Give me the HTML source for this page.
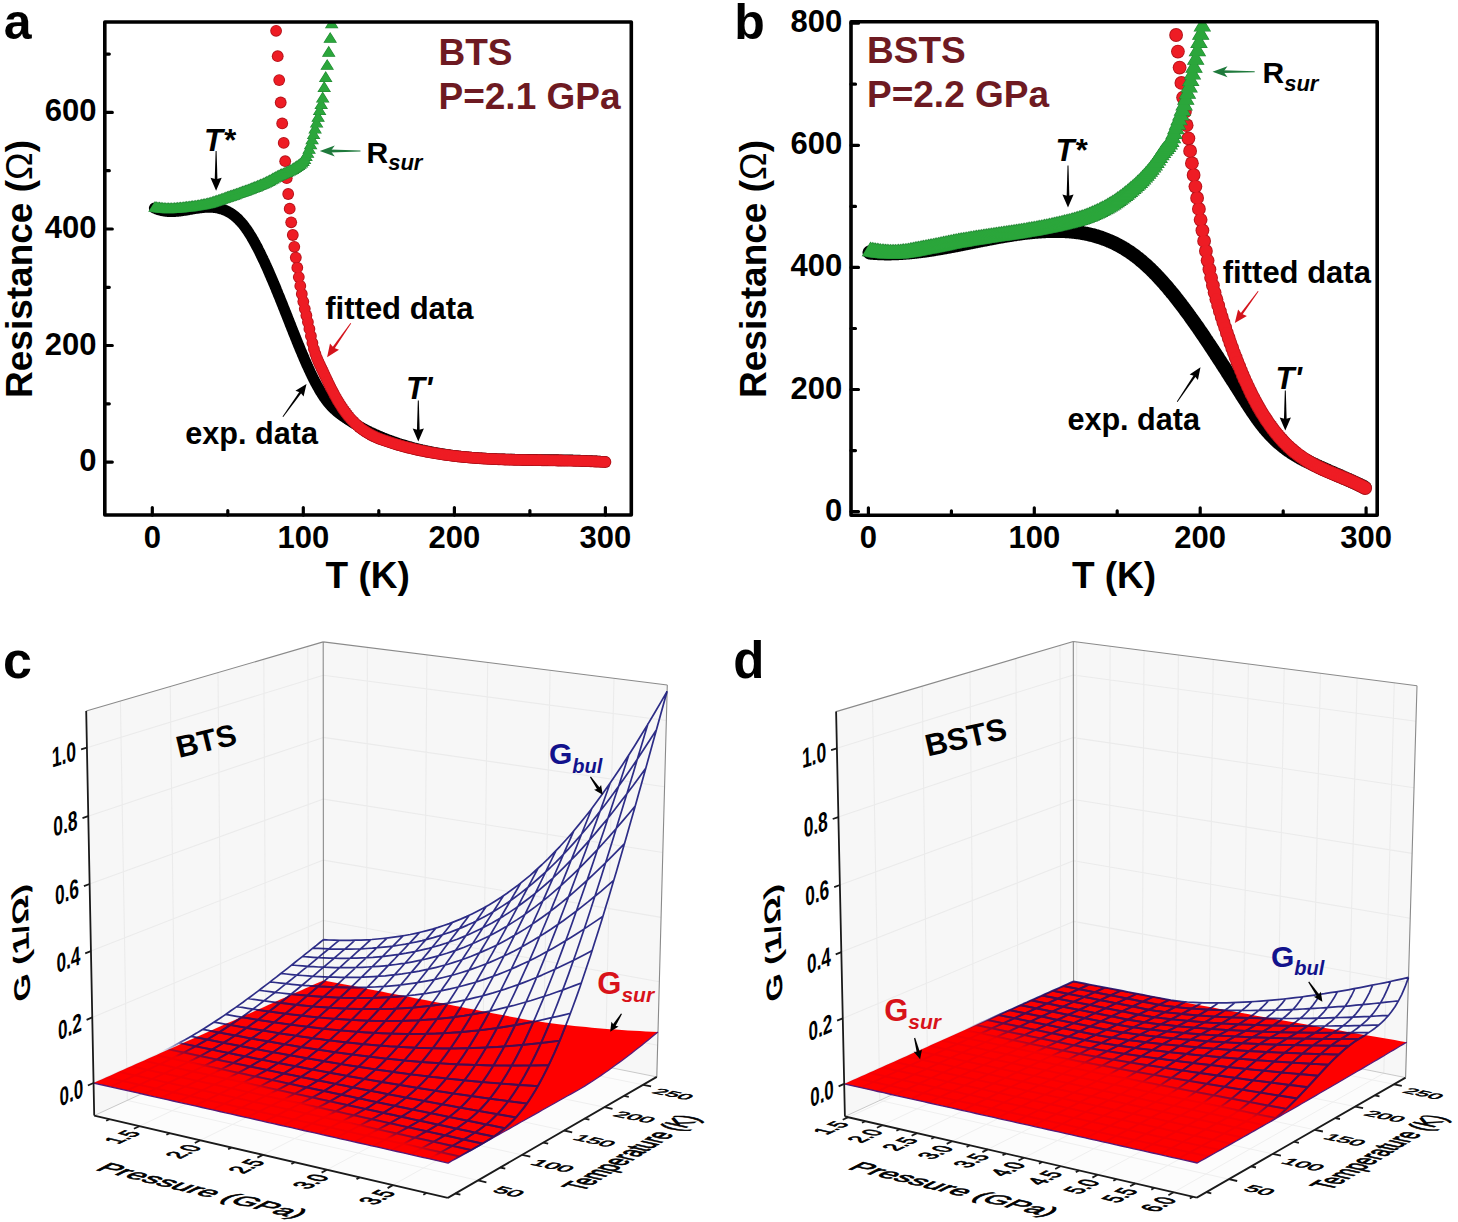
<!DOCTYPE html>
<html><head><meta charset="utf-8"><style>
html,body{margin:0;padding:0;background:#fff;}
svg{display:block;}
</style></head><body>
<svg width="1458" height="1222" viewBox="0 0 1458 1222">
<rect width="1458" height="1222" fill="#fff"/>
<polyline points="154.4,208.1 155.2,208.4 155.9,208.8 156.7,209.0 157.4,209.3 158.2,209.6 158.9,209.8 159.7,210.0 160.4,210.2 161.2,210.4 162.0,210.6 162.7,210.8 163.5,210.9 164.2,211.0 165.0,211.1 165.7,211.2 166.5,211.3 167.2,211.4 168.0,211.4 168.7,211.5 169.5,211.5 170.3,211.5 171.0,211.5 171.8,211.5 172.5,211.5 173.3,211.5 174.0,211.5 174.8,211.4 175.5,211.4 176.3,211.3 177.1,211.3 177.8,211.2 178.6,211.1 179.3,211.0 180.1,210.9 180.8,210.9 181.6,210.8 182.3,210.6 183.1,210.5 183.9,210.4 184.6,210.3 185.4,210.2 186.1,210.1 186.9,209.9 187.6,209.8 188.4,209.7 189.1,209.5 189.9,209.4 190.6,209.3 191.4,209.2 192.2,209.0 192.9,208.9 193.7,208.8 194.4,208.6 195.2,208.5 195.9,208.4 196.7,208.3 197.4,208.2 198.2,208.1 199.0,208.0 199.7,207.9 200.5,207.8 201.2,207.7 202.0,207.6 202.7,207.5 203.5,207.4 204.2,207.4 205.0,207.3 205.8,207.3 206.5,207.2 207.3,207.2 208.0,207.2 208.8,207.2 209.5,207.2 210.3,207.2 211.0,207.2 211.8,207.3 212.5,207.3 213.3,207.4 214.1,207.5 214.8,207.5 215.6,207.6 216.3,207.8 217.1,207.9 217.8,208.0 218.6,208.2 219.3,208.4 220.1,208.6 220.9,208.8 221.6,209.0 222.4,209.2 223.1,209.5 223.9,209.8 224.6,210.1 225.4,210.4 226.1,210.7 226.9,211.1 227.6,211.5 228.4,211.9 229.2,212.3 229.9,212.7 230.7,213.2 231.4,213.7 232.2,214.2 232.9,214.7 233.7,215.3 234.4,215.9 235.2,216.5 236.0,217.1 236.7,217.8 237.5,218.5 238.2,219.2 239.0,220.0 239.7,220.8 240.5,221.6 241.2,222.4 242.0,223.3 242.8,224.2 243.5,225.1 244.3,226.1 245.0,227.1 245.8,228.1 246.5,229.2 247.3,230.3 248.0,231.4 248.8,232.6 249.5,233.8 250.3,235.0 251.1,236.2 251.8,237.5 252.6,238.8 253.3,240.1 254.1,241.5 254.8,242.8 255.6,244.2 256.3,245.6 257.1,247.1 257.9,248.5 258.6,250.0 259.4,251.5 260.1,253.0 260.9,254.6 261.6,256.1 262.4,257.7 263.1,259.3 263.9,260.9 264.7,262.5 265.4,264.2 266.2,265.8 266.9,267.5 267.7,269.2 268.4,270.9 269.2,272.6 269.9,274.4 270.7,276.1 271.4,277.9 272.2,279.6 273.0,281.4 273.7,283.2 274.5,285.0 275.2,286.8 276.0,288.6 276.7,290.5 277.5,292.3 278.2,294.2 279.0,296.0 279.8,297.9 280.5,299.8 281.3,301.7 282.0,303.5 282.8,305.4 283.5,307.3 284.3,309.2 285.0,311.1 285.8,313.0 286.6,315.0 287.3,316.9 288.1,318.8 288.8,320.7 289.6,322.6 290.3,324.5 291.1,326.4 291.8,328.3 292.6,330.2 293.3,332.1 294.1,334.0 294.9,335.9 295.6,337.8 296.4,339.7 297.1,341.6 297.9,343.4 298.6,345.3 299.4,347.1 300.1,348.9 300.9,350.8 301.7,352.6 302.4,354.4 303.2,356.1 303.9,357.9 304.7,359.7 305.4,361.4 306.2,363.1 306.9,364.8 307.7,366.5 308.5,368.1 309.2,369.8 310.0,371.4 310.7,373.0 311.5,374.6 312.2,376.1 313.0,377.7 313.7,379.2 314.5,380.7 315.2,382.1 316.0,383.6 316.8,385.0 317.5,386.4 318.3,387.7 319.0,389.0 319.8,390.3 320.5,391.6 321.3,392.8 322.0,394.0 322.8,395.2 323.6,396.4 324.3,397.5 325.1,398.6 325.8,399.6 326.6,400.6 327.3,401.6 328.1,402.5 328.8,403.4 329.6,404.3 330.3,405.2 331.1,406.0 331.9,406.8 332.6,407.6 333.4,408.3 334.1,409.0 334.9,409.7 335.6,410.4 336.4,411.1 337.1,411.7 337.9,412.4 338.7,413.0 339.4,413.6 340.2,414.1 340.9,414.7 341.7,415.3 342.4,415.8 343.2,416.3 343.9,416.9 344.7,417.4 345.5,417.9 346.2,418.4 347.0,418.9 347.7,419.4 348.5,419.9 349.2,420.4 350.0,420.9 350.7,421.3 351.5,421.8 352.2,422.3 353.0,422.8 353.8,423.2 354.5,423.7 355.3,424.1 356.0,424.6 356.8,425.0 357.5,425.4 358.3,425.9 359.0,426.3 359.8,426.7 360.6,427.1 361.3,427.5 362.1,427.9 362.8,428.3 363.6,428.7 364.3,429.1 365.1,429.5 365.8,429.9 366.6,430.3 367.4,430.7 368.1,431.1 368.9,431.4 369.6,431.8 370.4,432.2 371.1,432.5 371.9,432.9 372.6,433.2 373.4,433.6 374.1,433.9 374.9,434.3 375.7,434.6 376.4,434.9 377.2,435.3 377.9,435.6 378.7,435.9 379.4,436.2 380.2,436.6 380.9,436.9 381.7,437.2 382.5,437.5 383.2,437.8 384.0,438.1 384.7,438.4 385.5,438.7 386.2,439.0 387.0,439.3 387.7,439.6 388.5,439.8 389.3,440.1 390.0,440.4 390.8,440.7 391.5,441.0 392.3,441.2 393.0,441.5 393.8,441.8 394.5,442.0 395.3,442.3 396.0,442.5 396.8,442.8 397.6,443.0 398.3,443.3 399.1,443.5 399.8,443.8 400.6,444.0 401.3,444.3 402.1,444.5 402.8,444.7 403.6,445.0 404.4,445.2 405.1,445.4 405.9,445.7 406.6,445.9 407.4,446.1 408.1,446.3 408.9,446.5 409.6,446.7 410.4,446.9 411.2,447.2 411.9,447.4 412.7,447.6 413.4,447.8 414.2,448.0 414.9,448.2 415.7,448.4 416.4,448.5 417.2,448.7 417.9,448.9 418.7,449.1 419.5,449.3 420.2,449.5 421.0,449.6 421.7,449.8 422.5,450.0 423.2,450.2 424.0,450.3 424.7,450.5 425.5,450.7 426.3,450.8 427.0,451.0 427.8,451.2 428.5,451.3 429.3,451.5 430.0,451.6 430.8,451.8 431.5,451.9 432.3,452.1 433.1,452.2 433.8,452.4 434.6,452.5 435.3,452.6 436.1,452.8 436.8,452.9 437.6,453.1 438.3,453.2 439.1,453.3 439.8,453.4 440.6,453.6 441.4,453.7 442.1,453.8 442.9,453.9 443.6,454.1 444.4,454.2 445.1,454.3 445.9,454.4 446.6,454.5 447.4,454.6 448.2,454.7 448.9,454.8 449.7,455.0 450.4,455.1 451.2,455.2 451.9,455.3 452.7,455.4 453.4,455.5 454.2,455.6 454.9,455.6 455.7,455.7 456.5,455.8 457.2,455.9 458.0,456.0 458.7,456.1 459.5,456.2 460.2,456.3 461.0,456.4 461.7,456.4 462.5,456.5 463.3,456.6 464.0,456.7 464.8,456.7 465.5,456.8 466.3,456.9 467.0,457.0 467.8,457.0 468.5,457.1 469.3,457.2 470.1,457.2 470.8,457.3 471.6,457.4 472.3,457.4 473.1,457.5 473.8,457.5 474.6,457.6 475.3,457.7 476.1,457.7 476.8,457.8 477.6,457.8 478.4,457.9 479.1,457.9 479.9,458.0 480.6,458.0 481.4,458.1 482.1,458.1 482.9,458.2 483.6,458.2 484.4,458.3 485.2,458.3 485.9,458.4 486.7,458.4 487.4,458.4 488.2,458.5 488.9,458.5 489.7,458.6 490.4,458.6 491.2,458.6 492.0,458.7 492.7,458.7 493.5,458.7 494.2,458.8 495.0,458.8 495.7,458.8 496.5,458.9 497.2,458.9 498.0,458.9 498.7,458.9 499.5,459.0 500.3,459.0 501.0,459.0 501.8,459.0 502.5,459.1 503.3,459.1 504.0,459.1 504.8,459.1 505.5,459.2 506.3,459.2 507.1,459.2 507.8,459.2 508.6,459.2 509.3,459.2 510.1,459.3 510.8,459.3 511.6,459.3 512.3,459.3 513.1,459.3 513.9,459.3 514.6,459.4 515.4,459.4 516.1,459.4 516.9,459.4 517.6,459.4 518.4,459.4 519.1,459.4 519.9,459.5 520.6,459.5 521.4,459.5 522.2,459.5 522.9,459.5 523.7,459.5 524.4,459.5 525.2,459.5 525.9,459.5 526.7,459.5 527.4,459.6 528.2,459.6 529.0,459.6 529.7,459.6 530.5,459.6 531.2,459.6 532.0,459.6 532.7,459.6 533.5,459.6 534.2,459.6 535.0,459.6 535.8,459.6 536.5,459.6 537.3,459.6 538.0,459.7 538.8,459.7 539.5,459.7 540.3,459.7 541.0,459.7 541.8,459.7 542.5,459.7 543.3,459.7 544.1,459.7 544.8,459.7 545.6,459.7 546.3,459.7 547.1,459.7 547.8,459.7 548.6,459.7 549.3,459.8 550.1,459.8 550.9,459.8 551.6,459.8 552.4,459.8 553.1,459.8 553.9,459.8 554.6,459.8 555.4,459.8 556.1,459.8 556.9,459.8 557.7,459.8 558.4,459.9 559.2,459.9 559.9,459.9 560.7,459.9 561.4,459.9 562.2,459.9 562.9,459.9 563.7,459.9 564.4,460.0 565.2,460.0 566.0,460.0 566.7,460.0 567.5,460.0 568.2,460.0 569.0,460.0 569.7,460.1 570.5,460.1 571.2,460.1 572.0,460.1 572.8,460.1 573.5,460.2 574.3,460.2 575.0,460.2 575.8,460.2 576.5,460.2 577.3,460.3 578.0,460.3 578.8,460.3 579.5,460.3 580.3,460.4 581.1,460.4 581.8,460.4 582.6,460.4 583.3,460.5 584.1,460.5 584.8,460.5 585.6,460.6 586.3,460.6 587.1,460.6 587.9,460.7 588.6,460.7 589.4,460.7 590.1,460.8 590.9,460.8 591.6,460.8 592.4,460.9 593.1,460.9 593.9,461.0 594.7,461.0 595.4,461.0 596.2,461.1 596.9,461.1 597.7,461.2 598.4,461.2 599.2,461.3 599.9,461.3 600.7,461.4 601.4,461.4 602.2,461.5 603.0,461.5 603.7,461.6 604.5,461.6 605.2,461.7" fill="none" stroke="#000" stroke-width="11" stroke-linejoin="round" stroke-linecap="round"/>
<g fill="#b3121a"><circle cx="276.1" cy="30.8" r="5.9"/><circle cx="277.7" cy="56.2" r="5.9"/><circle cx="279.2" cy="80.1" r="5.9"/><circle cx="280.7" cy="102.5" r="5.9"/><circle cx="282.2" cy="123.4" r="5.9"/><circle cx="283.7" cy="142.9" r="5.9"/><circle cx="285.2" cy="161.2" r="5.9"/><circle cx="286.7" cy="178.2" r="5.9"/><circle cx="288.2" cy="194.0" r="5.9"/><circle cx="289.7" cy="208.7" r="5.9"/><circle cx="291.2" cy="222.3" r="5.9"/><circle cx="292.8" cy="235.0" r="5.9"/><circle cx="294.3" cy="246.8" r="5.9"/><circle cx="295.8" cy="257.6" r="5.9"/><circle cx="297.3" cy="267.7" r="5.9"/><circle cx="298.8" cy="277.1" r="5.9"/><circle cx="300.3" cy="285.9" r="5.9"/><circle cx="301.8" cy="294.0" r="5.9"/><circle cx="303.3" cy="301.6" r="5.9"/><circle cx="304.8" cy="308.8" r="5.9"/><circle cx="306.4" cy="315.5" r="5.9"/><circle cx="307.9" cy="322.1" r="5.9"/><circle cx="309.4" cy="328.9" r="5.9"/><circle cx="310.9" cy="336.0" r="5.9"/><circle cx="312.4" cy="343.0" r="5.9"/><circle cx="313.9" cy="349.1" r="5.9"/><circle cx="315.4" cy="354.0" r="5.9"/><circle cx="316.9" cy="358.1" r="5.9"/><circle cx="318.4" cy="361.6" r="5.9"/><circle cx="319.9" cy="364.9" r="5.9"/><circle cx="321.5" cy="368.2" r="5.9"/><circle cx="323.0" cy="371.4" r="5.9"/><circle cx="324.5" cy="374.7" r="5.9"/><circle cx="326.0" cy="377.9" r="5.9"/><circle cx="327.5" cy="381.0" r="5.9"/><circle cx="329.0" cy="384.1" r="5.9"/><circle cx="330.5" cy="387.2" r="5.9"/><circle cx="332.0" cy="390.1" r="5.9"/><circle cx="333.5" cy="393.0" r="5.9"/><circle cx="335.0" cy="395.8" r="5.9"/><circle cx="336.6" cy="398.6" r="5.9"/><circle cx="338.1" cy="401.2" r="5.9"/><circle cx="339.6" cy="403.7" r="5.9"/><circle cx="341.1" cy="406.0" r="5.9"/><circle cx="342.6" cy="408.3" r="5.9"/><circle cx="344.1" cy="410.5" r="5.9"/><circle cx="345.6" cy="412.5" r="5.9"/><circle cx="347.1" cy="414.5" r="5.9"/><circle cx="348.6" cy="416.4" r="5.9"/><circle cx="350.1" cy="418.1" r="5.9"/><circle cx="351.7" cy="419.8" r="5.9"/><circle cx="353.2" cy="421.4" r="5.9"/><circle cx="354.7" cy="422.9" r="5.9"/><circle cx="356.2" cy="424.4" r="5.9"/><circle cx="357.7" cy="425.7" r="5.9"/><circle cx="359.2" cy="427.0" r="5.9"/><circle cx="360.7" cy="428.2" r="5.9"/><circle cx="362.2" cy="429.4" r="5.9"/><circle cx="363.7" cy="430.4" r="5.9"/><circle cx="365.3" cy="431.5" r="5.9"/><circle cx="366.8" cy="432.4" r="5.9"/><circle cx="368.3" cy="433.3" r="5.9"/><circle cx="369.8" cy="434.2" r="5.9"/><circle cx="371.3" cy="435.0" r="5.9"/><circle cx="372.8" cy="435.8" r="5.9"/><circle cx="374.3" cy="436.5" r="5.9"/><circle cx="375.8" cy="437.2" r="5.9"/><circle cx="377.3" cy="437.9" r="5.9"/><circle cx="378.8" cy="438.5" r="5.9"/><circle cx="380.4" cy="439.1" r="5.9"/><circle cx="381.9" cy="439.6" r="5.9"/><circle cx="383.4" cy="440.2" r="5.9"/><circle cx="384.9" cy="440.7" r="5.9"/><circle cx="386.4" cy="441.2" r="5.9"/><circle cx="387.9" cy="441.7" r="5.9"/><circle cx="389.4" cy="442.2" r="5.9"/><circle cx="390.9" cy="442.7" r="5.9"/><circle cx="392.4" cy="443.2" r="5.9"/><circle cx="393.9" cy="443.7" r="5.9"/><circle cx="395.5" cy="444.1" r="5.9"/><circle cx="397.0" cy="444.6" r="5.9"/><circle cx="398.5" cy="445.0" r="5.9"/><circle cx="400.0" cy="445.4" r="5.9"/><circle cx="401.5" cy="445.9" r="5.9"/><circle cx="403.0" cy="446.3" r="5.9"/><circle cx="404.5" cy="446.7" r="5.9"/><circle cx="406.0" cy="447.1" r="5.9"/><circle cx="407.5" cy="447.5" r="5.9"/><circle cx="409.1" cy="447.8" r="5.9"/><circle cx="410.6" cy="448.2" r="5.9"/><circle cx="412.1" cy="448.6" r="5.9"/><circle cx="413.6" cy="448.9" r="5.9"/><circle cx="415.1" cy="449.3" r="5.9"/><circle cx="416.6" cy="449.6" r="5.9"/><circle cx="418.1" cy="450.0" r="5.9"/><circle cx="419.6" cy="450.3" r="5.9"/><circle cx="421.1" cy="450.6" r="5.9"/><circle cx="422.6" cy="450.9" r="5.9"/><circle cx="424.2" cy="451.2" r="5.9"/><circle cx="425.7" cy="451.5" r="5.9"/><circle cx="427.2" cy="451.8" r="5.9"/><circle cx="428.7" cy="452.1" r="5.9"/><circle cx="430.2" cy="452.4" r="5.9"/><circle cx="431.7" cy="452.7" r="5.9"/><circle cx="433.2" cy="452.9" r="5.9"/><circle cx="434.7" cy="453.2" r="5.9"/><circle cx="436.2" cy="453.4" r="5.9"/><circle cx="437.7" cy="453.7" r="5.9"/><circle cx="439.3" cy="453.9" r="5.9"/><circle cx="440.8" cy="454.2" r="5.9"/><circle cx="442.3" cy="454.4" r="5.9"/><circle cx="443.8" cy="454.6" r="5.9"/><circle cx="445.3" cy="454.8" r="5.9"/><circle cx="446.8" cy="455.0" r="5.9"/><circle cx="448.3" cy="455.2" r="5.9"/><circle cx="449.8" cy="455.4" r="5.9"/><circle cx="451.3" cy="455.6" r="5.9"/><circle cx="452.8" cy="455.8" r="5.9"/><circle cx="454.4" cy="456.0" r="5.9"/><circle cx="455.9" cy="456.2" r="5.9"/><circle cx="457.4" cy="456.3" r="5.9"/><circle cx="458.9" cy="456.5" r="5.9"/><circle cx="460.4" cy="456.7" r="5.9"/><circle cx="461.9" cy="456.8" r="5.9"/><circle cx="463.4" cy="457.0" r="5.9"/><circle cx="464.9" cy="457.1" r="5.9"/><circle cx="466.4" cy="457.2" r="5.9"/><circle cx="468.0" cy="457.4" r="5.9"/><circle cx="469.5" cy="457.5" r="5.9"/><circle cx="471.0" cy="457.6" r="5.9"/><circle cx="472.5" cy="457.8" r="5.9"/><circle cx="474.0" cy="457.9" r="5.9"/><circle cx="475.5" cy="458.0" r="5.9"/><circle cx="477.0" cy="458.1" r="5.9"/><circle cx="478.5" cy="458.2" r="5.9"/><circle cx="480.0" cy="458.3" r="5.9"/><circle cx="481.5" cy="458.4" r="5.9"/><circle cx="483.1" cy="458.5" r="5.9"/><circle cx="484.6" cy="458.6" r="5.9"/><circle cx="486.1" cy="458.7" r="5.9"/><circle cx="487.6" cy="458.8" r="5.9"/><circle cx="489.1" cy="458.9" r="5.9"/><circle cx="490.6" cy="458.9" r="5.9"/><circle cx="492.1" cy="459.0" r="5.9"/><circle cx="493.6" cy="459.1" r="5.9"/><circle cx="495.1" cy="459.1" r="5.9"/><circle cx="496.6" cy="459.2" r="5.9"/><circle cx="498.2" cy="459.3" r="5.9"/><circle cx="499.7" cy="459.3" r="5.9"/><circle cx="501.2" cy="459.4" r="5.9"/><circle cx="502.7" cy="459.4" r="5.9"/><circle cx="504.2" cy="459.5" r="5.9"/><circle cx="505.7" cy="459.6" r="5.9"/><circle cx="507.2" cy="459.6" r="5.9"/><circle cx="508.7" cy="459.6" r="5.9"/><circle cx="510.2" cy="459.7" r="5.9"/><circle cx="511.8" cy="459.7" r="5.9"/><circle cx="513.3" cy="459.8" r="5.9"/><circle cx="514.8" cy="459.8" r="5.9"/><circle cx="516.3" cy="459.8" r="5.9"/><circle cx="517.8" cy="459.9" r="5.9"/><circle cx="519.3" cy="459.9" r="5.9"/><circle cx="520.8" cy="459.9" r="5.9"/><circle cx="522.3" cy="460.0" r="5.9"/><circle cx="523.8" cy="460.0" r="5.9"/><circle cx="525.3" cy="460.0" r="5.9"/><circle cx="526.9" cy="460.1" r="5.9"/><circle cx="528.4" cy="460.1" r="5.9"/><circle cx="529.9" cy="460.1" r="5.9"/><circle cx="531.4" cy="460.1" r="5.9"/><circle cx="532.9" cy="460.1" r="5.9"/><circle cx="534.4" cy="460.2" r="5.9"/><circle cx="535.9" cy="460.2" r="5.9"/><circle cx="537.4" cy="460.2" r="5.9"/><circle cx="538.9" cy="460.2" r="5.9"/><circle cx="540.4" cy="460.2" r="5.9"/><circle cx="542.0" cy="460.3" r="5.9"/><circle cx="543.5" cy="460.3" r="5.9"/><circle cx="545.0" cy="460.3" r="5.9"/><circle cx="546.5" cy="460.3" r="5.9"/><circle cx="548.0" cy="460.3" r="5.9"/><circle cx="549.5" cy="460.4" r="5.9"/><circle cx="551.0" cy="460.4" r="5.9"/><circle cx="552.5" cy="460.4" r="5.9"/><circle cx="554.0" cy="460.4" r="5.9"/><circle cx="555.6" cy="460.4" r="5.9"/><circle cx="557.1" cy="460.5" r="5.9"/><circle cx="558.6" cy="460.5" r="5.9"/><circle cx="560.1" cy="460.5" r="5.9"/><circle cx="561.6" cy="460.5" r="5.9"/><circle cx="563.1" cy="460.6" r="5.9"/><circle cx="564.6" cy="460.6" r="5.9"/><circle cx="566.1" cy="460.6" r="5.9"/><circle cx="567.6" cy="460.6" r="5.9"/><circle cx="569.1" cy="460.7" r="5.9"/><circle cx="570.7" cy="460.7" r="5.9"/><circle cx="572.2" cy="460.7" r="5.9"/><circle cx="573.7" cy="460.8" r="5.9"/><circle cx="575.2" cy="460.8" r="5.9"/><circle cx="576.7" cy="460.8" r="5.9"/><circle cx="578.2" cy="460.9" r="5.9"/><circle cx="579.7" cy="460.9" r="5.9"/><circle cx="581.2" cy="461.0" r="5.9"/><circle cx="582.7" cy="461.0" r="5.9"/><circle cx="584.2" cy="461.1" r="5.9"/><circle cx="585.8" cy="461.1" r="5.9"/><circle cx="587.3" cy="461.2" r="5.9"/><circle cx="588.8" cy="461.2" r="5.9"/><circle cx="590.3" cy="461.3" r="5.9"/><circle cx="591.8" cy="461.3" r="5.9"/><circle cx="593.3" cy="461.4" r="5.9"/><circle cx="594.8" cy="461.5" r="5.9"/><circle cx="596.3" cy="461.5" r="5.9"/><circle cx="597.8" cy="461.6" r="5.9"/><circle cx="599.3" cy="461.7" r="5.9"/><circle cx="600.9" cy="461.8" r="5.9"/><circle cx="602.4" cy="461.9" r="5.9"/><circle cx="603.9" cy="461.9" r="5.9"/><circle cx="605.4" cy="462.0" r="5.9"/></g>
<g fill="#ee1c24"><circle cx="276.1" cy="30.8" r="5.0"/><circle cx="277.7" cy="56.2" r="5.0"/><circle cx="279.2" cy="80.1" r="5.0"/><circle cx="280.7" cy="102.5" r="5.0"/><circle cx="282.2" cy="123.4" r="5.0"/><circle cx="283.7" cy="142.9" r="5.0"/><circle cx="285.2" cy="161.2" r="5.0"/><circle cx="286.7" cy="178.2" r="5.0"/><circle cx="288.2" cy="194.0" r="5.0"/><circle cx="289.7" cy="208.7" r="5.0"/><circle cx="291.2" cy="222.3" r="5.0"/><circle cx="292.8" cy="235.0" r="5.0"/><circle cx="294.3" cy="246.8" r="5.0"/><circle cx="295.8" cy="257.6" r="5.0"/><circle cx="297.3" cy="267.7" r="5.0"/><circle cx="298.8" cy="277.1" r="5.0"/><circle cx="300.3" cy="285.9" r="5.0"/><circle cx="301.8" cy="294.0" r="5.0"/><circle cx="303.3" cy="301.6" r="5.0"/><circle cx="304.8" cy="308.8" r="5.0"/><circle cx="306.4" cy="315.5" r="5.0"/><circle cx="307.9" cy="322.1" r="5.0"/><circle cx="309.4" cy="328.9" r="5.0"/><circle cx="310.9" cy="336.0" r="5.0"/><circle cx="312.4" cy="343.0" r="5.0"/><circle cx="313.9" cy="349.1" r="5.0"/><circle cx="315.4" cy="354.0" r="5.0"/><circle cx="316.9" cy="358.1" r="5.0"/><circle cx="318.4" cy="361.6" r="5.0"/><circle cx="319.9" cy="364.9" r="5.0"/><circle cx="321.5" cy="368.2" r="5.0"/><circle cx="323.0" cy="371.4" r="5.0"/><circle cx="324.5" cy="374.7" r="5.0"/><circle cx="326.0" cy="377.9" r="5.0"/><circle cx="327.5" cy="381.0" r="5.0"/><circle cx="329.0" cy="384.1" r="5.0"/><circle cx="330.5" cy="387.2" r="5.0"/><circle cx="332.0" cy="390.1" r="5.0"/><circle cx="333.5" cy="393.0" r="5.0"/><circle cx="335.0" cy="395.8" r="5.0"/><circle cx="336.6" cy="398.6" r="5.0"/><circle cx="338.1" cy="401.2" r="5.0"/><circle cx="339.6" cy="403.7" r="5.0"/><circle cx="341.1" cy="406.0" r="5.0"/><circle cx="342.6" cy="408.3" r="5.0"/><circle cx="344.1" cy="410.5" r="5.0"/><circle cx="345.6" cy="412.5" r="5.0"/><circle cx="347.1" cy="414.5" r="5.0"/><circle cx="348.6" cy="416.4" r="5.0"/><circle cx="350.1" cy="418.1" r="5.0"/><circle cx="351.7" cy="419.8" r="5.0"/><circle cx="353.2" cy="421.4" r="5.0"/><circle cx="354.7" cy="422.9" r="5.0"/><circle cx="356.2" cy="424.4" r="5.0"/><circle cx="357.7" cy="425.7" r="5.0"/><circle cx="359.2" cy="427.0" r="5.0"/><circle cx="360.7" cy="428.2" r="5.0"/><circle cx="362.2" cy="429.4" r="5.0"/><circle cx="363.7" cy="430.4" r="5.0"/><circle cx="365.3" cy="431.5" r="5.0"/><circle cx="366.8" cy="432.4" r="5.0"/><circle cx="368.3" cy="433.3" r="5.0"/><circle cx="369.8" cy="434.2" r="5.0"/><circle cx="371.3" cy="435.0" r="5.0"/><circle cx="372.8" cy="435.8" r="5.0"/><circle cx="374.3" cy="436.5" r="5.0"/><circle cx="375.8" cy="437.2" r="5.0"/><circle cx="377.3" cy="437.9" r="5.0"/><circle cx="378.8" cy="438.5" r="5.0"/><circle cx="380.4" cy="439.1" r="5.0"/><circle cx="381.9" cy="439.6" r="5.0"/><circle cx="383.4" cy="440.2" r="5.0"/><circle cx="384.9" cy="440.7" r="5.0"/><circle cx="386.4" cy="441.2" r="5.0"/><circle cx="387.9" cy="441.7" r="5.0"/><circle cx="389.4" cy="442.2" r="5.0"/><circle cx="390.9" cy="442.7" r="5.0"/><circle cx="392.4" cy="443.2" r="5.0"/><circle cx="393.9" cy="443.7" r="5.0"/><circle cx="395.5" cy="444.1" r="5.0"/><circle cx="397.0" cy="444.6" r="5.0"/><circle cx="398.5" cy="445.0" r="5.0"/><circle cx="400.0" cy="445.4" r="5.0"/><circle cx="401.5" cy="445.9" r="5.0"/><circle cx="403.0" cy="446.3" r="5.0"/><circle cx="404.5" cy="446.7" r="5.0"/><circle cx="406.0" cy="447.1" r="5.0"/><circle cx="407.5" cy="447.5" r="5.0"/><circle cx="409.1" cy="447.8" r="5.0"/><circle cx="410.6" cy="448.2" r="5.0"/><circle cx="412.1" cy="448.6" r="5.0"/><circle cx="413.6" cy="448.9" r="5.0"/><circle cx="415.1" cy="449.3" r="5.0"/><circle cx="416.6" cy="449.6" r="5.0"/><circle cx="418.1" cy="450.0" r="5.0"/><circle cx="419.6" cy="450.3" r="5.0"/><circle cx="421.1" cy="450.6" r="5.0"/><circle cx="422.6" cy="450.9" r="5.0"/><circle cx="424.2" cy="451.2" r="5.0"/><circle cx="425.7" cy="451.5" r="5.0"/><circle cx="427.2" cy="451.8" r="5.0"/><circle cx="428.7" cy="452.1" r="5.0"/><circle cx="430.2" cy="452.4" r="5.0"/><circle cx="431.7" cy="452.7" r="5.0"/><circle cx="433.2" cy="452.9" r="5.0"/><circle cx="434.7" cy="453.2" r="5.0"/><circle cx="436.2" cy="453.4" r="5.0"/><circle cx="437.7" cy="453.7" r="5.0"/><circle cx="439.3" cy="453.9" r="5.0"/><circle cx="440.8" cy="454.2" r="5.0"/><circle cx="442.3" cy="454.4" r="5.0"/><circle cx="443.8" cy="454.6" r="5.0"/><circle cx="445.3" cy="454.8" r="5.0"/><circle cx="446.8" cy="455.0" r="5.0"/><circle cx="448.3" cy="455.2" r="5.0"/><circle cx="449.8" cy="455.4" r="5.0"/><circle cx="451.3" cy="455.6" r="5.0"/><circle cx="452.8" cy="455.8" r="5.0"/><circle cx="454.4" cy="456.0" r="5.0"/><circle cx="455.9" cy="456.2" r="5.0"/><circle cx="457.4" cy="456.3" r="5.0"/><circle cx="458.9" cy="456.5" r="5.0"/><circle cx="460.4" cy="456.7" r="5.0"/><circle cx="461.9" cy="456.8" r="5.0"/><circle cx="463.4" cy="457.0" r="5.0"/><circle cx="464.9" cy="457.1" r="5.0"/><circle cx="466.4" cy="457.2" r="5.0"/><circle cx="468.0" cy="457.4" r="5.0"/><circle cx="469.5" cy="457.5" r="5.0"/><circle cx="471.0" cy="457.6" r="5.0"/><circle cx="472.5" cy="457.8" r="5.0"/><circle cx="474.0" cy="457.9" r="5.0"/><circle cx="475.5" cy="458.0" r="5.0"/><circle cx="477.0" cy="458.1" r="5.0"/><circle cx="478.5" cy="458.2" r="5.0"/><circle cx="480.0" cy="458.3" r="5.0"/><circle cx="481.5" cy="458.4" r="5.0"/><circle cx="483.1" cy="458.5" r="5.0"/><circle cx="484.6" cy="458.6" r="5.0"/><circle cx="486.1" cy="458.7" r="5.0"/><circle cx="487.6" cy="458.8" r="5.0"/><circle cx="489.1" cy="458.9" r="5.0"/><circle cx="490.6" cy="458.9" r="5.0"/><circle cx="492.1" cy="459.0" r="5.0"/><circle cx="493.6" cy="459.1" r="5.0"/><circle cx="495.1" cy="459.1" r="5.0"/><circle cx="496.6" cy="459.2" r="5.0"/><circle cx="498.2" cy="459.3" r="5.0"/><circle cx="499.7" cy="459.3" r="5.0"/><circle cx="501.2" cy="459.4" r="5.0"/><circle cx="502.7" cy="459.4" r="5.0"/><circle cx="504.2" cy="459.5" r="5.0"/><circle cx="505.7" cy="459.6" r="5.0"/><circle cx="507.2" cy="459.6" r="5.0"/><circle cx="508.7" cy="459.6" r="5.0"/><circle cx="510.2" cy="459.7" r="5.0"/><circle cx="511.8" cy="459.7" r="5.0"/><circle cx="513.3" cy="459.8" r="5.0"/><circle cx="514.8" cy="459.8" r="5.0"/><circle cx="516.3" cy="459.8" r="5.0"/><circle cx="517.8" cy="459.9" r="5.0"/><circle cx="519.3" cy="459.9" r="5.0"/><circle cx="520.8" cy="459.9" r="5.0"/><circle cx="522.3" cy="460.0" r="5.0"/><circle cx="523.8" cy="460.0" r="5.0"/><circle cx="525.3" cy="460.0" r="5.0"/><circle cx="526.9" cy="460.1" r="5.0"/><circle cx="528.4" cy="460.1" r="5.0"/><circle cx="529.9" cy="460.1" r="5.0"/><circle cx="531.4" cy="460.1" r="5.0"/><circle cx="532.9" cy="460.1" r="5.0"/><circle cx="534.4" cy="460.2" r="5.0"/><circle cx="535.9" cy="460.2" r="5.0"/><circle cx="537.4" cy="460.2" r="5.0"/><circle cx="538.9" cy="460.2" r="5.0"/><circle cx="540.4" cy="460.2" r="5.0"/><circle cx="542.0" cy="460.3" r="5.0"/><circle cx="543.5" cy="460.3" r="5.0"/><circle cx="545.0" cy="460.3" r="5.0"/><circle cx="546.5" cy="460.3" r="5.0"/><circle cx="548.0" cy="460.3" r="5.0"/><circle cx="549.5" cy="460.4" r="5.0"/><circle cx="551.0" cy="460.4" r="5.0"/><circle cx="552.5" cy="460.4" r="5.0"/><circle cx="554.0" cy="460.4" r="5.0"/><circle cx="555.6" cy="460.4" r="5.0"/><circle cx="557.1" cy="460.5" r="5.0"/><circle cx="558.6" cy="460.5" r="5.0"/><circle cx="560.1" cy="460.5" r="5.0"/><circle cx="561.6" cy="460.5" r="5.0"/><circle cx="563.1" cy="460.6" r="5.0"/><circle cx="564.6" cy="460.6" r="5.0"/><circle cx="566.1" cy="460.6" r="5.0"/><circle cx="567.6" cy="460.6" r="5.0"/><circle cx="569.1" cy="460.7" r="5.0"/><circle cx="570.7" cy="460.7" r="5.0"/><circle cx="572.2" cy="460.7" r="5.0"/><circle cx="573.7" cy="460.8" r="5.0"/><circle cx="575.2" cy="460.8" r="5.0"/><circle cx="576.7" cy="460.8" r="5.0"/><circle cx="578.2" cy="460.9" r="5.0"/><circle cx="579.7" cy="460.9" r="5.0"/><circle cx="581.2" cy="461.0" r="5.0"/><circle cx="582.7" cy="461.0" r="5.0"/><circle cx="584.2" cy="461.1" r="5.0"/><circle cx="585.8" cy="461.1" r="5.0"/><circle cx="587.3" cy="461.2" r="5.0"/><circle cx="588.8" cy="461.2" r="5.0"/><circle cx="590.3" cy="461.3" r="5.0"/><circle cx="591.8" cy="461.3" r="5.0"/><circle cx="593.3" cy="461.4" r="5.0"/><circle cx="594.8" cy="461.5" r="5.0"/><circle cx="596.3" cy="461.5" r="5.0"/><circle cx="597.8" cy="461.6" r="5.0"/><circle cx="599.3" cy="461.7" r="5.0"/><circle cx="600.9" cy="461.8" r="5.0"/><circle cx="602.4" cy="461.9" r="5.0"/><circle cx="603.9" cy="461.9" r="5.0"/><circle cx="605.4" cy="462.0" r="5.0"/></g>
<g fill="#1e8030"><path d="M155.0 200.9l6.8 10.9h-13.6z"/><path d="M156.5 201.2l6.8 10.9h-13.6z"/><path d="M158.0 201.4l6.8 10.9h-13.6z"/><path d="M159.5 201.6l6.8 10.9h-13.6z"/><path d="M161.1 201.8l6.8 10.9h-13.6z"/><path d="M162.6 202.0l6.8 10.9h-13.6z"/><path d="M164.1 202.1l6.8 10.9h-13.6z"/><path d="M165.6 202.2l6.8 10.9h-13.6z"/><path d="M167.1 202.3l6.8 10.9h-13.6z"/><path d="M168.6 202.3l6.8 10.9h-13.6z"/><path d="M170.1 202.3l6.8 10.9h-13.6z"/><path d="M171.6 202.2l6.8 10.9h-13.6z"/><path d="M173.1 202.2l6.8 10.9h-13.6z"/><path d="M174.7 202.1l6.8 10.9h-13.6z"/><path d="M176.2 202.0l6.8 10.9h-13.6z"/><path d="M177.7 201.8l6.8 10.9h-13.6z"/><path d="M179.2 201.7l6.8 10.9h-13.6z"/><path d="M180.7 201.5l6.8 10.9h-13.6z"/><path d="M182.2 201.4l6.8 10.9h-13.6z"/><path d="M183.7 201.2l6.8 10.9h-13.6z"/><path d="M185.2 201.0l6.8 10.9h-13.6z"/><path d="M186.7 200.8l6.8 10.9h-13.6z"/><path d="M188.2 200.7l6.8 10.9h-13.6z"/><path d="M189.8 200.5l6.8 10.9h-13.6z"/><path d="M191.3 200.3l6.8 10.9h-13.6z"/><path d="M192.8 200.1l6.8 10.9h-13.6z"/><path d="M194.3 199.9l6.8 10.9h-13.6z"/><path d="M195.8 199.7l6.8 10.9h-13.6z"/><path d="M197.3 199.4l6.8 10.9h-13.6z"/><path d="M198.8 199.2l6.8 10.9h-13.6z"/><path d="M200.3 198.9l6.8 10.9h-13.6z"/><path d="M201.8 198.6l6.8 10.9h-13.6z"/><path d="M203.3 198.3l6.8 10.9h-13.6z"/><path d="M204.9 198.0l6.8 10.9h-13.6z"/><path d="M206.4 197.7l6.8 10.9h-13.6z"/><path d="M207.9 197.3l6.8 10.9h-13.6z"/><path d="M209.4 197.0l6.8 10.9h-13.6z"/><path d="M210.9 196.6l6.8 10.9h-13.6z"/><path d="M212.4 196.1l6.8 10.9h-13.6z"/><path d="M213.9 195.6l6.8 10.9h-13.6z"/><path d="M215.4 195.1l6.8 10.9h-13.6z"/><path d="M216.9 194.6l6.8 10.9h-13.6z"/><path d="M218.5 194.0l6.8 10.9h-13.6z"/><path d="M220.0 193.5l6.8 10.9h-13.6z"/><path d="M221.5 192.9l6.8 10.9h-13.6z"/><path d="M223.0 192.4l6.8 10.9h-13.6z"/><path d="M224.5 191.9l6.8 10.9h-13.6z"/><path d="M226.0 191.3l6.8 10.9h-13.6z"/><path d="M227.5 190.8l6.8 10.9h-13.6z"/><path d="M229.0 190.3l6.8 10.9h-13.6z"/><path d="M230.5 189.8l6.8 10.9h-13.6z"/><path d="M232.0 189.3l6.8 10.9h-13.6z"/><path d="M233.6 188.8l6.8 10.9h-13.6z"/><path d="M235.1 188.3l6.8 10.9h-13.6z"/><path d="M236.6 187.7l6.8 10.9h-13.6z"/><path d="M238.1 187.2l6.8 10.9h-13.6z"/><path d="M239.6 186.7l6.8 10.9h-13.6z"/><path d="M241.1 186.1l6.8 10.9h-13.6z"/><path d="M242.6 185.6l6.8 10.9h-13.6z"/><path d="M244.1 185.0l6.8 10.9h-13.6z"/><path d="M245.6 184.5l6.8 10.9h-13.6z"/><path d="M247.1 183.9l6.8 10.9h-13.6z"/><path d="M248.7 183.4l6.8 10.9h-13.6z"/><path d="M250.2 182.8l6.8 10.9h-13.6z"/><path d="M251.7 182.2l6.8 10.9h-13.6z"/><path d="M253.2 181.6l6.8 10.9h-13.6z"/><path d="M254.7 181.1l6.8 10.9h-13.6z"/><path d="M256.2 180.5l6.8 10.9h-13.6z"/><path d="M257.7 179.8l6.8 10.9h-13.6z"/><path d="M259.2 179.2l6.8 10.9h-13.6z"/><path d="M260.7 178.6l6.8 10.9h-13.6z"/><path d="M262.2 177.9l6.8 10.9h-13.6z"/><path d="M263.8 177.3l6.8 10.9h-13.6z"/><path d="M265.3 176.6l6.8 10.9h-13.6z"/><path d="M266.8 175.8l6.8 10.9h-13.6z"/><path d="M268.3 175.1l6.8 10.9h-13.6z"/><path d="M269.8 174.3l6.8 10.9h-13.6z"/><path d="M271.3 173.4l6.8 10.9h-13.6z"/><path d="M272.8 172.6l6.8 10.9h-13.6z"/><path d="M274.3 171.7l6.8 10.9h-13.6z"/><path d="M275.8 170.9l6.8 10.9h-13.6z"/><path d="M277.4 170.1l6.8 10.9h-13.6z"/><path d="M278.9 169.4l6.8 10.9h-13.6z"/><path d="M280.4 168.6l6.8 10.9h-13.6z"/><path d="M281.9 168.0l6.8 10.9h-13.6z"/><path d="M283.4 167.4l6.8 10.9h-13.6z"/><path d="M284.9 166.7l6.8 10.9h-13.6z"/><path d="M286.4 166.1l6.8 10.9h-13.6z"/><path d="M287.9 165.4l6.8 10.9h-13.6z"/><path d="M289.4 164.7l6.8 10.9h-13.6z"/><path d="M290.9 163.9l6.8 10.9h-13.6z"/><path d="M292.5 163.0l6.8 10.9h-13.6z"/><path d="M294.0 162.1l6.8 10.9h-13.6z"/><path d="M295.5 161.1l6.8 10.9h-13.6z"/><path d="M297.0 160.0l6.8 10.9h-13.6z"/><path d="M298.5 159.0l6.8 10.9h-13.6z"/><path d="M300.0 157.9l6.8 10.9h-13.6z"/><path d="M301.5 156.6l6.8 10.9h-13.6z"/><path d="M303.0 155.1l6.8 10.9h-13.6z"/><path d="M304.5 153.0l6.8 10.9h-13.6z"/><path d="M306.0 150.2l6.8 10.9h-13.6z"/><path d="M307.6 146.9l6.8 10.9h-13.6z"/><path d="M309.1 142.9l6.8 10.9h-13.6z"/><path d="M310.6 138.3l6.8 10.9h-13.6z"/><path d="M312.1 133.4l6.8 10.9h-13.6z"/><path d="M313.6 128.2l6.8 10.9h-13.6z"/><path d="M315.1 122.5l6.8 10.9h-13.6z"/><path d="M316.6 116.7l6.8 10.9h-13.6z"/><path d="M318.1 110.8l6.8 10.9h-13.6z"/><path d="M319.6 104.2l6.8 10.9h-13.6z"/><path d="M321.2 98.0l6.8 10.9h-13.6z"/><path d="M322.7 91.6l6.8 10.9h-13.6z"/><path d="M324.2 81.0l6.8 10.9h-13.6z"/><path d="M325.7 71.1l6.8 10.9h-13.6z"/><path d="M327.2 58.9l6.8 10.9h-13.6z"/><path d="M328.7 45.8l6.8 10.9h-13.6z"/><path d="M330.2 31.9l6.8 10.9h-13.6z"/><path d="M331.7 17.4l6.8 10.9h-13.6z"/></g>
<g fill="#2ba63b"><path d="M155.0 201.8l6.0 9.5h-12.0z"/><path d="M156.5 202.1l6.0 9.5h-12.0z"/><path d="M158.0 202.3l6.0 9.5h-12.0z"/><path d="M159.5 202.5l6.0 9.5h-12.0z"/><path d="M161.1 202.7l6.0 9.5h-12.0z"/><path d="M162.6 202.9l6.0 9.5h-12.0z"/><path d="M164.1 203.0l6.0 9.5h-12.0z"/><path d="M165.6 203.1l6.0 9.5h-12.0z"/><path d="M167.1 203.2l6.0 9.5h-12.0z"/><path d="M168.6 203.2l6.0 9.5h-12.0z"/><path d="M170.1 203.2l6.0 9.5h-12.0z"/><path d="M171.6 203.1l6.0 9.5h-12.0z"/><path d="M173.1 203.1l6.0 9.5h-12.0z"/><path d="M174.7 203.0l6.0 9.5h-12.0z"/><path d="M176.2 202.9l6.0 9.5h-12.0z"/><path d="M177.7 202.7l6.0 9.5h-12.0z"/><path d="M179.2 202.6l6.0 9.5h-12.0z"/><path d="M180.7 202.4l6.0 9.5h-12.0z"/><path d="M182.2 202.3l6.0 9.5h-12.0z"/><path d="M183.7 202.1l6.0 9.5h-12.0z"/><path d="M185.2 201.9l6.0 9.5h-12.0z"/><path d="M186.7 201.7l6.0 9.5h-12.0z"/><path d="M188.2 201.6l6.0 9.5h-12.0z"/><path d="M189.8 201.4l6.0 9.5h-12.0z"/><path d="M191.3 201.2l6.0 9.5h-12.0z"/><path d="M192.8 201.0l6.0 9.5h-12.0z"/><path d="M194.3 200.8l6.0 9.5h-12.0z"/><path d="M195.8 200.6l6.0 9.5h-12.0z"/><path d="M197.3 200.3l6.0 9.5h-12.0z"/><path d="M198.8 200.1l6.0 9.5h-12.0z"/><path d="M200.3 199.8l6.0 9.5h-12.0z"/><path d="M201.8 199.5l6.0 9.5h-12.0z"/><path d="M203.3 199.2l6.0 9.5h-12.0z"/><path d="M204.9 198.9l6.0 9.5h-12.0z"/><path d="M206.4 198.6l6.0 9.5h-12.0z"/><path d="M207.9 198.2l6.0 9.5h-12.0z"/><path d="M209.4 197.9l6.0 9.5h-12.0z"/><path d="M210.9 197.5l6.0 9.5h-12.0z"/><path d="M212.4 197.0l6.0 9.5h-12.0z"/><path d="M213.9 196.5l6.0 9.5h-12.0z"/><path d="M215.4 196.0l6.0 9.5h-12.0z"/><path d="M216.9 195.5l6.0 9.5h-12.0z"/><path d="M218.5 194.9l6.0 9.5h-12.0z"/><path d="M220.0 194.4l6.0 9.5h-12.0z"/><path d="M221.5 193.8l6.0 9.5h-12.0z"/><path d="M223.0 193.3l6.0 9.5h-12.0z"/><path d="M224.5 192.8l6.0 9.5h-12.0z"/><path d="M226.0 192.2l6.0 9.5h-12.0z"/><path d="M227.5 191.7l6.0 9.5h-12.0z"/><path d="M229.0 191.2l6.0 9.5h-12.0z"/><path d="M230.5 190.7l6.0 9.5h-12.0z"/><path d="M232.0 190.2l6.0 9.5h-12.0z"/><path d="M233.6 189.7l6.0 9.5h-12.0z"/><path d="M235.1 189.2l6.0 9.5h-12.0z"/><path d="M236.6 188.6l6.0 9.5h-12.0z"/><path d="M238.1 188.1l6.0 9.5h-12.0z"/><path d="M239.6 187.6l6.0 9.5h-12.0z"/><path d="M241.1 187.0l6.0 9.5h-12.0z"/><path d="M242.6 186.5l6.0 9.5h-12.0z"/><path d="M244.1 185.9l6.0 9.5h-12.0z"/><path d="M245.6 185.4l6.0 9.5h-12.0z"/><path d="M247.1 184.8l6.0 9.5h-12.0z"/><path d="M248.7 184.3l6.0 9.5h-12.0z"/><path d="M250.2 183.7l6.0 9.5h-12.0z"/><path d="M251.7 183.1l6.0 9.5h-12.0z"/><path d="M253.2 182.5l6.0 9.5h-12.0z"/><path d="M254.7 182.0l6.0 9.5h-12.0z"/><path d="M256.2 181.4l6.0 9.5h-12.0z"/><path d="M257.7 180.7l6.0 9.5h-12.0z"/><path d="M259.2 180.1l6.0 9.5h-12.0z"/><path d="M260.7 179.5l6.0 9.5h-12.0z"/><path d="M262.2 178.8l6.0 9.5h-12.0z"/><path d="M263.8 178.2l6.0 9.5h-12.0z"/><path d="M265.3 177.5l6.0 9.5h-12.0z"/><path d="M266.8 176.7l6.0 9.5h-12.0z"/><path d="M268.3 176.0l6.0 9.5h-12.0z"/><path d="M269.8 175.2l6.0 9.5h-12.0z"/><path d="M271.3 174.3l6.0 9.5h-12.0z"/><path d="M272.8 173.5l6.0 9.5h-12.0z"/><path d="M274.3 172.6l6.0 9.5h-12.0z"/><path d="M275.8 171.8l6.0 9.5h-12.0z"/><path d="M277.4 171.0l6.0 9.5h-12.0z"/><path d="M278.9 170.3l6.0 9.5h-12.0z"/><path d="M280.4 169.5l6.0 9.5h-12.0z"/><path d="M281.9 168.9l6.0 9.5h-12.0z"/><path d="M283.4 168.3l6.0 9.5h-12.0z"/><path d="M284.9 167.6l6.0 9.5h-12.0z"/><path d="M286.4 167.0l6.0 9.5h-12.0z"/><path d="M287.9 166.3l6.0 9.5h-12.0z"/><path d="M289.4 165.6l6.0 9.5h-12.0z"/><path d="M290.9 164.8l6.0 9.5h-12.0z"/><path d="M292.5 163.9l6.0 9.5h-12.0z"/><path d="M294.0 163.0l6.0 9.5h-12.0z"/><path d="M295.5 162.0l6.0 9.5h-12.0z"/><path d="M297.0 160.9l6.0 9.5h-12.0z"/><path d="M298.5 159.9l6.0 9.5h-12.0z"/><path d="M300.0 158.8l6.0 9.5h-12.0z"/><path d="M301.5 157.5l6.0 9.5h-12.0z"/><path d="M303.0 156.0l6.0 9.5h-12.0z"/><path d="M304.5 153.9l6.0 9.5h-12.0z"/><path d="M306.0 151.1l6.0 9.5h-12.0z"/><path d="M307.6 147.8l6.0 9.5h-12.0z"/><path d="M309.1 143.8l6.0 9.5h-12.0z"/><path d="M310.6 139.2l6.0 9.5h-12.0z"/><path d="M312.1 134.3l6.0 9.5h-12.0z"/><path d="M313.6 129.1l6.0 9.5h-12.0z"/><path d="M315.1 123.4l6.0 9.5h-12.0z"/><path d="M316.6 117.6l6.0 9.5h-12.0z"/><path d="M318.1 111.7l6.0 9.5h-12.0z"/><path d="M319.6 105.1l6.0 9.5h-12.0z"/><path d="M321.2 98.9l6.0 9.5h-12.0z"/><path d="M322.7 92.5l6.0 9.5h-12.0z"/><path d="M324.2 81.9l6.0 9.5h-12.0z"/><path d="M325.7 72.0l6.0 9.5h-12.0z"/><path d="M327.2 59.8l6.0 9.5h-12.0z"/><path d="M328.7 46.7l6.0 9.5h-12.0z"/><path d="M330.2 32.8l6.0 9.5h-12.0z"/><path d="M331.7 18.3l6.0 9.5h-12.0z"/></g>
<rect x="104.8" y="0" width="526.5" height="20.95" fill="#fff"/>
<rect x="104.8" y="21.95" width="526.5" height="493.1" fill="none" stroke="#000" stroke-width="3.6" stroke-linejoin="round"/>
<path d="M104.8 462.1h7.5M104.8 345.5h7.5M104.8 229.0h7.5M104.8 112.4h7.5M104.8 403.8h4.5M104.8 287.3h4.5M104.8 170.7h4.5M104.8 54.1h4.5M152.3 515.05v-7.5M303.3 515.05v-7.5M454.4 515.05v-7.5M605.4 515.05v-7.5M227.8 515.05v-4.5M378.8 515.05v-4.5M529.9 515.05v-4.5" stroke="#000" stroke-width="3.2" fill="none" stroke-linecap="round"/>
<g font-family="Liberation Sans, sans-serif" font-weight="bold" font-size="31"><text x="96.4" y="471.1" text-anchor="end">0</text><text x="96.4" y="354.5" text-anchor="end">200</text><text x="96.4" y="238.0" text-anchor="end">400</text><text x="96.4" y="121.4" text-anchor="end">600</text><text x="152.3" y="547.8" text-anchor="middle">0</text><text x="303.3" y="547.8" text-anchor="middle">100</text><text x="454.4" y="547.8" text-anchor="middle">200</text><text x="605.4" y="547.8" text-anchor="middle">300</text></g>
<polyline points="869.5,252.5 870.3,252.6 871.2,252.7 872.0,252.7 872.8,252.8 873.6,252.9 874.5,252.9 875.3,253.0 876.1,253.0 877.0,253.1 877.8,253.1 878.6,253.2 879.5,253.2 880.3,253.2 881.1,253.3 881.9,253.3 882.8,253.3 883.6,253.3 884.4,253.4 885.3,253.4 886.1,253.4 886.9,253.4 887.7,253.4 888.6,253.4 889.4,253.4 890.2,253.4 891.1,253.4 891.9,253.3 892.7,253.3 893.6,253.3 894.4,253.3 895.2,253.3 896.0,253.2 896.9,253.2 897.7,253.2 898.5,253.1 899.4,253.1 900.2,253.0 901.0,253.0 901.9,252.9 902.7,252.9 903.5,252.8 904.3,252.8 905.2,252.7 906.0,252.6 906.8,252.6 907.7,252.5 908.5,252.4 909.3,252.4 910.1,252.3 911.0,252.2 911.8,252.1 912.6,252.1 913.5,252.0 914.3,251.9 915.1,251.8 916.0,251.7 916.8,251.6 917.6,251.5 918.4,251.4 919.3,251.3 920.1,251.2 920.9,251.1 921.8,251.0 922.6,250.9 923.4,250.8 924.2,250.7 925.1,250.6 925.9,250.4 926.7,250.3 927.6,250.2 928.4,250.1 929.2,250.0 930.1,249.8 930.9,249.7 931.7,249.6 932.5,249.4 933.4,249.3 934.2,249.2 935.0,249.0 935.9,248.9 936.7,248.8 937.5,248.6 938.3,248.5 939.2,248.4 940.0,248.2 940.8,248.1 941.7,247.9 942.5,247.8 943.3,247.6 944.2,247.5 945.0,247.3 945.8,247.2 946.6,247.0 947.5,246.9 948.3,246.7 949.1,246.6 950.0,246.4 950.8,246.3 951.6,246.1 952.4,246.0 953.3,245.8 954.1,245.6 954.9,245.5 955.8,245.3 956.6,245.2 957.4,245.0 958.3,244.8 959.1,244.7 959.9,244.5 960.7,244.3 961.6,244.2 962.4,244.0 963.2,243.9 964.1,243.7 964.9,243.5 965.7,243.4 966.6,243.2 967.4,243.0 968.2,242.9 969.0,242.7 969.9,242.5 970.7,242.4 971.5,242.2 972.4,242.0 973.2,241.9 974.0,241.7 974.8,241.5 975.7,241.4 976.5,241.2 977.3,241.0 978.2,240.9 979.0,240.7 979.8,240.5 980.7,240.4 981.5,240.2 982.3,240.0 983.1,239.9 984.0,239.7 984.8,239.6 985.6,239.4 986.5,239.2 987.3,239.1 988.1,238.9 988.9,238.7 989.8,238.6 990.6,238.4 991.4,238.3 992.3,238.1 993.1,238.0 993.9,237.8 994.8,237.6 995.6,237.5 996.4,237.3 997.2,237.2 998.1,237.0 998.9,236.9 999.7,236.7 1000.6,236.6 1001.4,236.4 1002.2,236.3 1003.0,236.2 1003.9,236.0 1004.7,235.9 1005.5,235.7 1006.4,235.6 1007.2,235.5 1008.0,235.3 1008.9,235.2 1009.7,235.1 1010.5,234.9 1011.3,234.8 1012.2,234.7 1013.0,234.5 1013.8,234.4 1014.7,234.3 1015.5,234.2 1016.3,234.0 1017.2,233.9 1018.0,233.8 1018.8,233.7 1019.6,233.6 1020.5,233.5 1021.3,233.4 1022.1,233.2 1023.0,233.1 1023.8,233.0 1024.6,232.9 1025.4,232.8 1026.3,232.7 1027.1,232.6 1027.9,232.5 1028.8,232.5 1029.6,232.4 1030.4,232.3 1031.3,232.2 1032.1,232.1 1032.9,232.0 1033.7,232.0 1034.6,231.9 1035.4,231.8 1036.2,231.7 1037.1,231.7 1037.9,231.6 1038.7,231.5 1039.5,231.5 1040.4,231.4 1041.2,231.4 1042.0,231.3 1042.9,231.3 1043.7,231.2 1044.5,231.2 1045.4,231.1 1046.2,231.1 1047.0,231.1 1047.8,231.0 1048.7,231.0 1049.5,231.0 1050.3,231.0 1051.2,230.9 1052.0,230.9 1052.8,230.9 1053.6,230.9 1054.5,230.9 1055.3,230.9 1056.1,230.9 1057.0,230.9 1057.8,230.9 1058.6,230.9 1059.5,230.9 1060.3,230.9 1061.1,231.0 1061.9,231.0 1062.8,231.0 1063.6,231.0 1064.4,231.1 1065.3,231.1 1066.1,231.2 1066.9,231.2 1067.8,231.3 1068.6,231.3 1069.4,231.4 1070.2,231.5 1071.1,231.5 1071.9,231.6 1072.7,231.7 1073.6,231.8 1074.4,231.9 1075.2,232.0 1076.0,232.1 1076.9,232.2 1077.7,232.3 1078.5,232.4 1079.4,232.5 1080.2,232.6 1081.0,232.8 1081.9,232.9 1082.7,233.1 1083.5,233.2 1084.3,233.4 1085.2,233.5 1086.0,233.7 1086.8,233.8 1087.7,234.0 1088.5,234.2 1089.3,234.4 1090.1,234.6 1091.0,234.8 1091.8,235.0 1092.6,235.2 1093.5,235.4 1094.3,235.6 1095.1,235.9 1096.0,236.1 1096.8,236.4 1097.6,236.6 1098.4,236.9 1099.3,237.1 1100.1,237.4 1100.9,237.7 1101.8,238.0 1102.6,238.3 1103.4,238.6 1104.2,238.9 1105.1,239.2 1105.9,239.5 1106.7,239.8 1107.6,240.2 1108.4,240.5 1109.2,240.9 1110.1,241.2 1110.9,241.6 1111.7,242.0 1112.5,242.3 1113.4,242.7 1114.2,243.1 1115.0,243.5 1115.9,243.9 1116.7,244.4 1117.5,244.8 1118.3,245.2 1119.2,245.7 1120.0,246.1 1120.8,246.6 1121.7,247.1 1122.5,247.5 1123.3,248.0 1124.2,248.5 1125.0,249.0 1125.8,249.5 1126.6,250.1 1127.5,250.6 1128.3,251.1 1129.1,251.7 1130.0,252.2 1130.8,252.8 1131.6,253.4 1132.5,254.0 1133.3,254.6 1134.1,255.2 1134.9,255.8 1135.8,256.4 1136.6,257.1 1137.4,257.7 1138.3,258.3 1139.1,259.0 1139.9,259.7 1140.7,260.4 1141.6,261.1 1142.4,261.8 1143.2,262.5 1144.1,263.2 1144.9,263.9 1145.7,264.7 1146.6,265.4 1147.4,266.2 1148.2,267.0 1149.0,267.8 1149.9,268.5 1150.7,269.3 1151.5,270.2 1152.4,271.0 1153.2,271.8 1154.0,272.6 1154.8,273.5 1155.7,274.3 1156.5,275.2 1157.3,276.1 1158.2,277.0 1159.0,277.9 1159.8,278.8 1160.7,279.7 1161.5,280.6 1162.3,281.5 1163.1,282.4 1164.0,283.4 1164.8,284.3 1165.6,285.3 1166.5,286.2 1167.3,287.2 1168.1,288.2 1168.9,289.2 1169.8,290.2 1170.6,291.2 1171.4,292.2 1172.3,293.2 1173.1,294.2 1173.9,295.2 1174.8,296.3 1175.6,297.3 1176.4,298.4 1177.2,299.4 1178.1,300.5 1178.9,301.6 1179.7,302.6 1180.6,303.7 1181.4,304.8 1182.2,305.9 1183.1,307.0 1183.9,308.1 1184.7,309.2 1185.5,310.3 1186.4,311.5 1187.2,312.6 1188.0,313.7 1188.9,314.9 1189.7,316.0 1190.5,317.2 1191.3,318.3 1192.2,319.5 1193.0,320.6 1193.8,321.8 1194.7,323.0 1195.5,324.2 1196.3,325.3 1197.2,326.5 1198.0,327.7 1198.8,328.9 1199.6,330.1 1200.5,331.3 1201.3,332.5 1202.1,333.8 1203.0,335.0 1203.8,336.2 1204.6,337.4 1205.4,338.7 1206.3,339.9 1207.1,341.1 1207.9,342.4 1208.8,343.6 1209.6,344.9 1210.4,346.1 1211.3,347.4 1212.1,348.6 1212.9,349.9 1213.7,351.1 1214.6,352.4 1215.4,353.7 1216.2,355.0 1217.1,356.2 1217.9,357.5 1218.7,358.8 1219.5,360.1 1220.4,361.3 1221.2,362.6 1222.0,363.9 1222.9,365.2 1223.7,366.5 1224.5,367.8 1225.4,369.1 1226.2,370.4 1227.0,371.7 1227.8,373.0 1228.7,374.3 1229.5,375.6 1230.3,376.9 1231.2,378.2 1232.0,379.5 1232.8,380.8 1233.7,382.1 1234.5,383.4 1235.3,384.7 1236.1,386.0 1237.0,387.3 1237.8,388.6 1238.6,389.9 1239.5,391.2 1240.3,392.5 1241.1,393.8 1241.9,395.2 1242.8,396.5 1243.6,397.8 1244.4,399.1 1245.3,400.4 1246.1,401.7 1246.9,403.0 1247.8,404.2 1248.6,405.5 1249.4,406.8 1250.2,408.1 1251.1,409.3 1251.9,410.6 1252.7,411.8 1253.6,413.0 1254.4,414.2 1255.2,415.4 1256.0,416.6 1256.9,417.8 1257.7,419.0 1258.5,420.1 1259.4,421.3 1260.2,422.4 1261.0,423.5 1261.9,424.6 1262.7,425.6 1263.5,426.7 1264.3,427.7 1265.2,428.7 1266.0,429.7 1266.8,430.7 1267.7,431.6 1268.5,432.5 1269.3,433.5 1270.1,434.3 1271.0,435.2 1271.8,436.1 1272.6,436.9 1273.5,437.8 1274.3,438.6 1275.1,439.4 1276.0,440.2 1276.8,440.9 1277.6,441.7 1278.4,442.4 1279.3,443.1 1280.1,443.9 1280.9,444.5 1281.8,445.2 1282.6,445.9 1283.4,446.6 1284.2,447.2 1285.1,447.8 1285.9,448.5 1286.7,449.1 1287.6,449.7 1288.4,450.3 1289.2,450.8 1290.1,451.4 1290.9,452.0 1291.7,452.5 1292.5,453.0 1293.4,453.6 1294.2,454.1 1295.0,454.6 1295.9,455.1 1296.7,455.6 1297.5,456.1 1298.4,456.6 1299.2,457.0 1300.0,457.5 1300.8,458.0 1301.7,458.4 1302.5,458.9 1303.3,459.3 1304.2,459.7 1305.0,460.2 1305.8,460.6 1306.6,461.0 1307.5,461.4 1308.3,461.8 1309.1,462.2 1310.0,462.6 1310.8,463.0 1311.6,463.4 1312.5,463.8 1313.3,464.2 1314.1,464.6 1314.9,465.0 1315.8,465.4 1316.6,465.7 1317.4,466.1 1318.3,466.5 1319.1,466.9 1319.9,467.2 1320.7,467.6 1321.6,468.0 1322.4,468.4 1323.2,468.7 1324.1,469.1 1324.9,469.5 1325.7,469.8 1326.6,470.2 1327.4,470.6 1328.2,470.9 1329.0,471.3 1329.9,471.7 1330.7,472.0 1331.5,472.4 1332.4,472.7 1333.2,473.1 1334.0,473.5 1334.8,473.8 1335.7,474.2 1336.5,474.5 1337.3,474.9 1338.2,475.3 1339.0,475.6 1339.8,476.0 1340.7,476.4 1341.5,476.7 1342.3,477.1 1343.1,477.5 1344.0,477.8 1344.8,478.2 1345.6,478.6 1346.5,478.9 1347.3,479.3 1348.1,479.7 1349.0,480.0 1349.8,480.4 1350.6,480.8 1351.4,481.2 1352.3,481.5 1353.1,481.9 1353.9,482.3 1354.8,482.7 1355.6,483.1 1356.4,483.5 1357.2,483.8 1358.1,484.2 1358.9,484.6 1359.7,485.0 1360.6,485.4 1361.4,485.8 1362.2,486.2 1363.1,486.6 1363.9,487.0 1364.7,487.4" fill="none" stroke="#000" stroke-width="14" stroke-linejoin="round" stroke-linecap="round"/>
<g fill="#b3121a"><circle cx="1176.1" cy="35.0" r="6.9"/><circle cx="1177.9" cy="51.6" r="6.9"/><circle cx="1179.6" cy="67.6" r="6.9"/><circle cx="1181.4" cy="82.9" r="6.9"/><circle cx="1183.1" cy="97.6" r="6.9"/><circle cx="1184.9" cy="111.7" r="6.9"/><circle cx="1186.6" cy="125.2" r="6.9"/><circle cx="1188.4" cy="138.3" r="6.9"/><circle cx="1190.1" cy="150.9" r="6.9"/><circle cx="1191.9" cy="163.2" r="6.9"/><circle cx="1193.6" cy="175.0" r="6.9"/><circle cx="1195.4" cy="186.6" r="6.9"/><circle cx="1197.1" cy="197.9" r="6.9"/><circle cx="1198.9" cy="208.9" r="6.9"/><circle cx="1200.6" cy="219.8" r="6.9"/><circle cx="1202.4" cy="230.5" r="6.9"/><circle cx="1204.1" cy="240.9" r="6.9"/><circle cx="1205.9" cy="251.0" r="6.9"/><circle cx="1207.6" cy="260.6" r="6.9"/><circle cx="1209.4" cy="269.5" r="6.9"/><circle cx="1211.1" cy="277.8" r="6.9"/><circle cx="1212.9" cy="285.5" r="6.9"/><circle cx="1214.6" cy="292.6" r="6.9"/><circle cx="1216.4" cy="299.2" r="6.9"/><circle cx="1218.2" cy="305.4" r="6.9"/><circle cx="1219.9" cy="311.3" r="6.9"/><circle cx="1221.7" cy="316.9" r="6.9"/><circle cx="1223.4" cy="322.4" r="6.9"/><circle cx="1225.2" cy="327.7" r="6.9"/><circle cx="1226.9" cy="332.9" r="6.9"/><circle cx="1228.7" cy="338.0" r="6.9"/><circle cx="1230.4" cy="343.1" r="6.9"/><circle cx="1232.2" cy="348.0" r="6.9"/><circle cx="1233.9" cy="352.8" r="6.9"/><circle cx="1235.7" cy="357.5" r="6.9"/><circle cx="1237.4" cy="362.0" r="6.9"/><circle cx="1239.2" cy="366.4" r="6.9"/><circle cx="1240.9" cy="370.7" r="6.9"/><circle cx="1242.7" cy="374.9" r="6.9"/><circle cx="1244.4" cy="378.9" r="6.9"/><circle cx="1246.2" cy="382.8" r="6.9"/><circle cx="1247.9" cy="386.6" r="6.9"/><circle cx="1249.7" cy="390.3" r="6.9"/><circle cx="1251.4" cy="393.9" r="6.9"/><circle cx="1253.2" cy="397.3" r="6.9"/><circle cx="1254.9" cy="400.7" r="6.9"/><circle cx="1256.7" cy="403.9" r="6.9"/><circle cx="1258.4" cy="407.0" r="6.9"/><circle cx="1260.2" cy="410.1" r="6.9"/><circle cx="1261.9" cy="413.0" r="6.9"/><circle cx="1263.7" cy="415.8" r="6.9"/><circle cx="1265.4" cy="418.5" r="6.9"/><circle cx="1267.2" cy="421.2" r="6.9"/><circle cx="1268.9" cy="423.7" r="6.9"/><circle cx="1270.7" cy="426.2" r="6.9"/><circle cx="1272.4" cy="428.5" r="6.9"/><circle cx="1274.2" cy="430.8" r="6.9"/><circle cx="1275.9" cy="433.0" r="6.9"/><circle cx="1277.7" cy="435.1" r="6.9"/><circle cx="1279.4" cy="437.2" r="6.9"/><circle cx="1281.2" cy="439.2" r="6.9"/><circle cx="1282.9" cy="441.0" r="6.9"/><circle cx="1284.7" cy="442.9" r="6.9"/><circle cx="1286.4" cy="444.6" r="6.9"/><circle cx="1288.2" cy="446.3" r="6.9"/><circle cx="1289.9" cy="447.9" r="6.9"/><circle cx="1291.7" cy="449.5" r="6.9"/><circle cx="1293.4" cy="451.0" r="6.9"/><circle cx="1295.2" cy="452.4" r="6.9"/><circle cx="1296.9" cy="453.8" r="6.9"/><circle cx="1298.7" cy="455.1" r="6.9"/><circle cx="1300.4" cy="456.4" r="6.9"/><circle cx="1302.2" cy="457.6" r="6.9"/><circle cx="1303.9" cy="458.8" r="6.9"/><circle cx="1305.7" cy="459.9" r="6.9"/><circle cx="1307.4" cy="461.0" r="6.9"/><circle cx="1309.2" cy="462.1" r="6.9"/><circle cx="1310.9" cy="463.1" r="6.9"/><circle cx="1312.7" cy="464.1" r="6.9"/><circle cx="1314.4" cy="465.0" r="6.9"/><circle cx="1316.2" cy="465.9" r="6.9"/><circle cx="1317.9" cy="466.8" r="6.9"/><circle cx="1319.7" cy="467.7" r="6.9"/><circle cx="1321.4" cy="468.5" r="6.9"/><circle cx="1323.2" cy="469.3" r="6.9"/><circle cx="1324.9" cy="470.1" r="6.9"/><circle cx="1326.7" cy="470.9" r="6.9"/><circle cx="1328.4" cy="471.7" r="6.9"/><circle cx="1330.2" cy="472.4" r="6.9"/><circle cx="1331.9" cy="473.1" r="6.9"/><circle cx="1333.7" cy="473.9" r="6.9"/><circle cx="1335.4" cy="474.6" r="6.9"/><circle cx="1337.2" cy="475.3" r="6.9"/><circle cx="1338.9" cy="476.0" r="6.9"/><circle cx="1340.7" cy="476.7" r="6.9"/><circle cx="1342.4" cy="477.5" r="6.9"/><circle cx="1344.2" cy="478.2" r="6.9"/><circle cx="1345.9" cy="478.9" r="6.9"/><circle cx="1347.7" cy="479.6" r="6.9"/><circle cx="1349.4" cy="480.4" r="6.9"/><circle cx="1351.2" cy="481.2" r="6.9"/><circle cx="1352.9" cy="481.9" r="6.9"/><circle cx="1354.7" cy="482.7" r="6.9"/><circle cx="1356.4" cy="483.6" r="6.9"/><circle cx="1358.2" cy="484.4" r="6.9"/><circle cx="1359.9" cy="485.3" r="6.9"/><circle cx="1361.7" cy="486.2" r="6.9"/><circle cx="1363.4" cy="487.1" r="6.9"/><circle cx="1365.2" cy="488.1" r="6.9"/></g>
<g fill="#ee1c24"><circle cx="1176.1" cy="35.0" r="6.0"/><circle cx="1177.9" cy="51.6" r="6.0"/><circle cx="1179.6" cy="67.6" r="6.0"/><circle cx="1181.4" cy="82.9" r="6.0"/><circle cx="1183.1" cy="97.6" r="6.0"/><circle cx="1184.9" cy="111.7" r="6.0"/><circle cx="1186.6" cy="125.2" r="6.0"/><circle cx="1188.4" cy="138.3" r="6.0"/><circle cx="1190.1" cy="150.9" r="6.0"/><circle cx="1191.9" cy="163.2" r="6.0"/><circle cx="1193.6" cy="175.0" r="6.0"/><circle cx="1195.4" cy="186.6" r="6.0"/><circle cx="1197.1" cy="197.9" r="6.0"/><circle cx="1198.9" cy="208.9" r="6.0"/><circle cx="1200.6" cy="219.8" r="6.0"/><circle cx="1202.4" cy="230.5" r="6.0"/><circle cx="1204.1" cy="240.9" r="6.0"/><circle cx="1205.9" cy="251.0" r="6.0"/><circle cx="1207.6" cy="260.6" r="6.0"/><circle cx="1209.4" cy="269.5" r="6.0"/><circle cx="1211.1" cy="277.8" r="6.0"/><circle cx="1212.9" cy="285.5" r="6.0"/><circle cx="1214.6" cy="292.6" r="6.0"/><circle cx="1216.4" cy="299.2" r="6.0"/><circle cx="1218.2" cy="305.4" r="6.0"/><circle cx="1219.9" cy="311.3" r="6.0"/><circle cx="1221.7" cy="316.9" r="6.0"/><circle cx="1223.4" cy="322.4" r="6.0"/><circle cx="1225.2" cy="327.7" r="6.0"/><circle cx="1226.9" cy="332.9" r="6.0"/><circle cx="1228.7" cy="338.0" r="6.0"/><circle cx="1230.4" cy="343.1" r="6.0"/><circle cx="1232.2" cy="348.0" r="6.0"/><circle cx="1233.9" cy="352.8" r="6.0"/><circle cx="1235.7" cy="357.5" r="6.0"/><circle cx="1237.4" cy="362.0" r="6.0"/><circle cx="1239.2" cy="366.4" r="6.0"/><circle cx="1240.9" cy="370.7" r="6.0"/><circle cx="1242.7" cy="374.9" r="6.0"/><circle cx="1244.4" cy="378.9" r="6.0"/><circle cx="1246.2" cy="382.8" r="6.0"/><circle cx="1247.9" cy="386.6" r="6.0"/><circle cx="1249.7" cy="390.3" r="6.0"/><circle cx="1251.4" cy="393.9" r="6.0"/><circle cx="1253.2" cy="397.3" r="6.0"/><circle cx="1254.9" cy="400.7" r="6.0"/><circle cx="1256.7" cy="403.9" r="6.0"/><circle cx="1258.4" cy="407.0" r="6.0"/><circle cx="1260.2" cy="410.1" r="6.0"/><circle cx="1261.9" cy="413.0" r="6.0"/><circle cx="1263.7" cy="415.8" r="6.0"/><circle cx="1265.4" cy="418.5" r="6.0"/><circle cx="1267.2" cy="421.2" r="6.0"/><circle cx="1268.9" cy="423.7" r="6.0"/><circle cx="1270.7" cy="426.2" r="6.0"/><circle cx="1272.4" cy="428.5" r="6.0"/><circle cx="1274.2" cy="430.8" r="6.0"/><circle cx="1275.9" cy="433.0" r="6.0"/><circle cx="1277.7" cy="435.1" r="6.0"/><circle cx="1279.4" cy="437.2" r="6.0"/><circle cx="1281.2" cy="439.2" r="6.0"/><circle cx="1282.9" cy="441.0" r="6.0"/><circle cx="1284.7" cy="442.9" r="6.0"/><circle cx="1286.4" cy="444.6" r="6.0"/><circle cx="1288.2" cy="446.3" r="6.0"/><circle cx="1289.9" cy="447.9" r="6.0"/><circle cx="1291.7" cy="449.5" r="6.0"/><circle cx="1293.4" cy="451.0" r="6.0"/><circle cx="1295.2" cy="452.4" r="6.0"/><circle cx="1296.9" cy="453.8" r="6.0"/><circle cx="1298.7" cy="455.1" r="6.0"/><circle cx="1300.4" cy="456.4" r="6.0"/><circle cx="1302.2" cy="457.6" r="6.0"/><circle cx="1303.9" cy="458.8" r="6.0"/><circle cx="1305.7" cy="459.9" r="6.0"/><circle cx="1307.4" cy="461.0" r="6.0"/><circle cx="1309.2" cy="462.1" r="6.0"/><circle cx="1310.9" cy="463.1" r="6.0"/><circle cx="1312.7" cy="464.1" r="6.0"/><circle cx="1314.4" cy="465.0" r="6.0"/><circle cx="1316.2" cy="465.9" r="6.0"/><circle cx="1317.9" cy="466.8" r="6.0"/><circle cx="1319.7" cy="467.7" r="6.0"/><circle cx="1321.4" cy="468.5" r="6.0"/><circle cx="1323.2" cy="469.3" r="6.0"/><circle cx="1324.9" cy="470.1" r="6.0"/><circle cx="1326.7" cy="470.9" r="6.0"/><circle cx="1328.4" cy="471.7" r="6.0"/><circle cx="1330.2" cy="472.4" r="6.0"/><circle cx="1331.9" cy="473.1" r="6.0"/><circle cx="1333.7" cy="473.9" r="6.0"/><circle cx="1335.4" cy="474.6" r="6.0"/><circle cx="1337.2" cy="475.3" r="6.0"/><circle cx="1338.9" cy="476.0" r="6.0"/><circle cx="1340.7" cy="476.7" r="6.0"/><circle cx="1342.4" cy="477.5" r="6.0"/><circle cx="1344.2" cy="478.2" r="6.0"/><circle cx="1345.9" cy="478.9" r="6.0"/><circle cx="1347.7" cy="479.6" r="6.0"/><circle cx="1349.4" cy="480.4" r="6.0"/><circle cx="1351.2" cy="481.2" r="6.0"/><circle cx="1352.9" cy="481.9" r="6.0"/><circle cx="1354.7" cy="482.7" r="6.0"/><circle cx="1356.4" cy="483.6" r="6.0"/><circle cx="1358.2" cy="484.4" r="6.0"/><circle cx="1359.9" cy="485.3" r="6.0"/><circle cx="1361.7" cy="486.2" r="6.0"/><circle cx="1363.4" cy="487.1" r="6.0"/><circle cx="1365.2" cy="488.1" r="6.0"/></g>
<g fill="#1e8030"><path d="M870.5 241.4l8.8 14.9h-17.6z"/><path d="M872.2 241.7l8.8 14.9h-17.6z"/><path d="M873.9 242.1l8.8 14.9h-17.6z"/><path d="M875.5 242.3l8.8 14.9h-17.6z"/><path d="M877.2 242.6l8.8 14.9h-17.6z"/><path d="M878.8 242.8l8.8 14.9h-17.6z"/><path d="M880.5 243.0l8.8 14.9h-17.6z"/><path d="M882.2 243.2l8.8 14.9h-17.6z"/><path d="M883.8 243.3l8.8 14.9h-17.6z"/><path d="M885.5 243.5l8.8 14.9h-17.6z"/><path d="M887.1 243.6l8.8 14.9h-17.6z"/><path d="M888.8 243.7l8.8 14.9h-17.6z"/><path d="M890.4 243.7l8.8 14.9h-17.6z"/><path d="M892.1 243.8l8.8 14.9h-17.6z"/><path d="M893.8 243.8l8.8 14.9h-17.6z"/><path d="M895.4 243.8l8.8 14.9h-17.6z"/><path d="M897.1 243.7l8.8 14.9h-17.6z"/><path d="M898.7 243.6l8.8 14.9h-17.6z"/><path d="M900.4 243.5l8.8 14.9h-17.6z"/><path d="M902.1 243.3l8.8 14.9h-17.6z"/><path d="M903.7 243.1l8.8 14.9h-17.6z"/><path d="M905.4 242.9l8.8 14.9h-17.6z"/><path d="M907.0 242.7l8.8 14.9h-17.6z"/><path d="M908.7 242.4l8.8 14.9h-17.6z"/><path d="M910.4 242.1l8.8 14.9h-17.6z"/><path d="M912.0 241.8l8.8 14.9h-17.6z"/><path d="M913.7 241.5l8.8 14.9h-17.6z"/><path d="M915.3 241.1l8.8 14.9h-17.6z"/><path d="M917.0 240.8l8.8 14.9h-17.6z"/><path d="M918.7 240.5l8.8 14.9h-17.6z"/><path d="M920.3 240.2l8.8 14.9h-17.6z"/><path d="M922.0 239.8l8.8 14.9h-17.6z"/><path d="M923.6 239.5l8.8 14.9h-17.6z"/><path d="M925.3 239.2l8.8 14.9h-17.6z"/><path d="M926.9 238.9l8.8 14.9h-17.6z"/><path d="M928.6 238.6l8.8 14.9h-17.6z"/><path d="M930.3 238.3l8.8 14.9h-17.6z"/><path d="M931.9 238.0l8.8 14.9h-17.6z"/><path d="M933.6 237.7l8.8 14.9h-17.6z"/><path d="M935.2 237.3l8.8 14.9h-17.6z"/><path d="M936.9 237.0l8.8 14.9h-17.6z"/><path d="M938.6 236.7l8.8 14.9h-17.6z"/><path d="M940.2 236.3l8.8 14.9h-17.6z"/><path d="M941.9 236.0l8.8 14.9h-17.6z"/><path d="M943.5 235.6l8.8 14.9h-17.6z"/><path d="M945.2 235.3l8.8 14.9h-17.6z"/><path d="M946.9 234.9l8.8 14.9h-17.6z"/><path d="M948.5 234.6l8.8 14.9h-17.6z"/><path d="M950.2 234.2l8.8 14.9h-17.6z"/><path d="M951.8 233.9l8.8 14.9h-17.6z"/><path d="M953.5 233.6l8.8 14.9h-17.6z"/><path d="M955.1 233.2l8.8 14.9h-17.6z"/><path d="M956.8 232.9l8.8 14.9h-17.6z"/><path d="M958.5 232.6l8.8 14.9h-17.6z"/><path d="M960.1 232.3l8.8 14.9h-17.6z"/><path d="M961.8 232.0l8.8 14.9h-17.6z"/><path d="M963.4 231.8l8.8 14.9h-17.6z"/><path d="M965.1 231.5l8.8 14.9h-17.6z"/><path d="M966.8 231.2l8.8 14.9h-17.6z"/><path d="M968.4 230.9l8.8 14.9h-17.6z"/><path d="M970.1 230.6l8.8 14.9h-17.6z"/><path d="M971.7 230.4l8.8 14.9h-17.6z"/><path d="M973.4 230.1l8.8 14.9h-17.6z"/><path d="M975.1 229.8l8.8 14.9h-17.6z"/><path d="M976.7 229.6l8.8 14.9h-17.6z"/><path d="M978.4 229.3l8.8 14.9h-17.6z"/><path d="M980.0 229.0l8.8 14.9h-17.6z"/><path d="M981.7 228.8l8.8 14.9h-17.6z"/><path d="M983.4 228.5l8.8 14.9h-17.6z"/><path d="M985.0 228.2l8.8 14.9h-17.6z"/><path d="M986.7 228.0l8.8 14.9h-17.6z"/><path d="M988.3 227.7l8.8 14.9h-17.6z"/><path d="M990.0 227.5l8.8 14.9h-17.6z"/><path d="M991.6 227.2l8.8 14.9h-17.6z"/><path d="M993.3 227.0l8.8 14.9h-17.6z"/><path d="M995.0 226.7l8.8 14.9h-17.6z"/><path d="M996.6 226.5l8.8 14.9h-17.6z"/><path d="M998.3 226.2l8.8 14.9h-17.6z"/><path d="M999.9 226.0l8.8 14.9h-17.6z"/><path d="M1001.6 225.8l8.8 14.9h-17.6z"/><path d="M1003.3 225.5l8.8 14.9h-17.6z"/><path d="M1004.9 225.3l8.8 14.9h-17.6z"/><path d="M1006.6 225.0l8.8 14.9h-17.6z"/><path d="M1008.2 224.8l8.8 14.9h-17.6z"/><path d="M1009.9 224.6l8.8 14.9h-17.6z"/><path d="M1011.6 224.3l8.8 14.9h-17.6z"/><path d="M1013.2 224.1l8.8 14.9h-17.6z"/><path d="M1014.9 223.8l8.8 14.9h-17.6z"/><path d="M1016.5 223.6l8.8 14.9h-17.6z"/><path d="M1018.2 223.3l8.8 14.9h-17.6z"/><path d="M1019.9 223.0l8.8 14.9h-17.6z"/><path d="M1021.5 222.7l8.8 14.9h-17.6z"/><path d="M1023.2 222.5l8.8 14.9h-17.6z"/><path d="M1024.8 222.2l8.8 14.9h-17.6z"/><path d="M1026.5 221.9l8.8 14.9h-17.6z"/><path d="M1028.1 221.6l8.8 14.9h-17.6z"/><path d="M1029.8 221.3l8.8 14.9h-17.6z"/><path d="M1031.5 221.0l8.8 14.9h-17.6z"/><path d="M1033.1 220.8l8.8 14.9h-17.6z"/><path d="M1034.8 220.5l8.8 14.9h-17.6z"/><path d="M1036.4 220.2l8.8 14.9h-17.6z"/><path d="M1038.1 219.8l8.8 14.9h-17.6z"/><path d="M1039.8 219.5l8.8 14.9h-17.6z"/><path d="M1041.4 219.2l8.8 14.9h-17.6z"/><path d="M1043.1 218.9l8.8 14.9h-17.6z"/><path d="M1044.7 218.6l8.8 14.9h-17.6z"/><path d="M1046.4 218.2l8.8 14.9h-17.6z"/><path d="M1048.1 217.9l8.8 14.9h-17.6z"/><path d="M1049.7 217.5l8.8 14.9h-17.6z"/><path d="M1051.4 217.2l8.8 14.9h-17.6z"/><path d="M1053.0 216.8l8.8 14.9h-17.6z"/><path d="M1054.7 216.5l8.8 14.9h-17.6z"/><path d="M1056.3 216.1l8.8 14.9h-17.6z"/><path d="M1058.0 215.7l8.8 14.9h-17.6z"/><path d="M1059.7 215.3l8.8 14.9h-17.6z"/><path d="M1061.3 214.9l8.8 14.9h-17.6z"/><path d="M1063.0 214.5l8.8 14.9h-17.6z"/><path d="M1064.6 214.1l8.8 14.9h-17.6z"/><path d="M1066.3 213.7l8.8 14.9h-17.6z"/><path d="M1068.0 213.3l8.8 14.9h-17.6z"/><path d="M1069.6 212.9l8.8 14.9h-17.6z"/><path d="M1071.3 212.4l8.8 14.9h-17.6z"/><path d="M1072.9 212.0l8.8 14.9h-17.6z"/><path d="M1074.6 211.5l8.8 14.9h-17.6z"/><path d="M1076.3 211.0l8.8 14.9h-17.6z"/><path d="M1077.9 210.5l8.8 14.9h-17.6z"/><path d="M1079.6 210.0l8.8 14.9h-17.6z"/><path d="M1081.2 209.5l8.8 14.9h-17.6z"/><path d="M1082.9 209.0l8.8 14.9h-17.6z"/><path d="M1084.6 208.4l8.8 14.9h-17.6z"/><path d="M1086.2 207.8l8.8 14.9h-17.6z"/><path d="M1087.9 207.2l8.8 14.9h-17.6z"/><path d="M1089.5 206.5l8.8 14.9h-17.6z"/><path d="M1091.2 205.8l8.8 14.9h-17.6z"/><path d="M1092.8 205.1l8.8 14.9h-17.6z"/><path d="M1094.5 204.3l8.8 14.9h-17.6z"/><path d="M1096.2 203.6l8.8 14.9h-17.6z"/><path d="M1097.8 202.8l8.8 14.9h-17.6z"/><path d="M1099.5 202.0l8.8 14.9h-17.6z"/><path d="M1101.1 201.1l8.8 14.9h-17.6z"/><path d="M1102.8 200.3l8.8 14.9h-17.6z"/><path d="M1104.5 199.4l8.8 14.9h-17.6z"/><path d="M1106.1 198.5l8.8 14.9h-17.6z"/><path d="M1107.8 197.5l8.8 14.9h-17.6z"/><path d="M1109.4 196.5l8.8 14.9h-17.6z"/><path d="M1111.1 195.5l8.8 14.9h-17.6z"/><path d="M1112.8 194.5l8.8 14.9h-17.6z"/><path d="M1114.4 193.4l8.8 14.9h-17.6z"/><path d="M1116.1 192.3l8.8 14.9h-17.6z"/><path d="M1117.7 191.1l8.8 14.9h-17.6z"/><path d="M1119.4 189.9l8.8 14.9h-17.6z"/><path d="M1121.0 188.7l8.8 14.9h-17.6z"/><path d="M1122.7 187.4l8.8 14.9h-17.6z"/><path d="M1124.4 186.1l8.8 14.9h-17.6z"/><path d="M1126.0 184.8l8.8 14.9h-17.6z"/><path d="M1127.7 183.4l8.8 14.9h-17.6z"/><path d="M1129.3 182.0l8.8 14.9h-17.6z"/><path d="M1131.0 180.6l8.8 14.9h-17.6z"/><path d="M1132.7 179.2l8.8 14.9h-17.6z"/><path d="M1134.3 177.7l8.8 14.9h-17.6z"/><path d="M1136.0 176.2l8.8 14.9h-17.6z"/><path d="M1137.6 174.6l8.8 14.9h-17.6z"/><path d="M1139.3 173.0l8.8 14.9h-17.6z"/><path d="M1141.0 171.3l8.8 14.9h-17.6z"/><path d="M1142.6 169.5l8.8 14.9h-17.6z"/><path d="M1144.3 167.7l8.8 14.9h-17.6z"/><path d="M1145.9 165.9l8.8 14.9h-17.6z"/><path d="M1147.6 163.9l8.8 14.9h-17.6z"/><path d="M1149.3 161.9l8.8 14.9h-17.6z"/><path d="M1150.9 159.9l8.8 14.9h-17.6z"/><path d="M1152.6 157.7l8.8 14.9h-17.6z"/><path d="M1154.2 155.5l8.8 14.9h-17.6z"/><path d="M1155.9 153.1l8.8 14.9h-17.6z"/><path d="M1157.5 150.6l8.8 14.9h-17.6z"/><path d="M1159.2 148.0l8.8 14.9h-17.6z"/><path d="M1160.9 145.4l8.8 14.9h-17.6z"/><path d="M1162.5 143.0l8.8 14.9h-17.6z"/><path d="M1164.2 140.9l8.8 14.9h-17.6z"/><path d="M1165.8 139.0l8.8 14.9h-17.6z"/><path d="M1167.5 137.0l8.8 14.9h-17.6z"/><path d="M1169.2 134.7l8.8 14.9h-17.6z"/><path d="M1170.8 132.0l8.8 14.9h-17.6z"/><path d="M1172.5 128.4l8.8 14.9h-17.6z"/><path d="M1174.1 124.0l8.8 14.9h-17.6z"/><path d="M1175.8 119.3l8.8 14.9h-17.6z"/><path d="M1177.5 114.8l8.8 14.9h-17.6z"/><path d="M1179.1 110.3l8.8 14.9h-17.6z"/><path d="M1180.8 105.7l8.8 14.9h-17.6z"/><path d="M1182.4 100.8l8.8 14.9h-17.6z"/><path d="M1184.1 95.6l8.8 14.9h-17.6z"/><path d="M1185.8 89.9l8.8 14.9h-17.6z"/><path d="M1187.4 83.8l8.8 14.9h-17.6z"/><path d="M1189.1 77.5l8.8 14.9h-17.6z"/><path d="M1190.7 71.2l8.8 14.9h-17.6z"/><path d="M1192.4 64.7l8.8 14.9h-17.6z"/><path d="M1194.0 57.8l8.8 14.9h-17.6z"/><path d="M1195.7 49.9l8.8 14.9h-17.6z"/><path d="M1197.4 41.4l8.8 14.9h-17.6z"/><path d="M1199.0 33.0l8.8 14.9h-17.6z"/><path d="M1200.7 24.8l8.8 14.9h-17.6z"/><path d="M1202.3 16.7l8.8 14.9h-17.6z"/></g>
<g fill="#2ba63b"><path d="M870.5 242.3l8.0 13.5h-16.0z"/><path d="M872.2 242.6l8.0 13.5h-16.0z"/><path d="M873.9 243.0l8.0 13.5h-16.0z"/><path d="M875.5 243.2l8.0 13.5h-16.0z"/><path d="M877.2 243.5l8.0 13.5h-16.0z"/><path d="M878.8 243.7l8.0 13.5h-16.0z"/><path d="M880.5 243.9l8.0 13.5h-16.0z"/><path d="M882.2 244.1l8.0 13.5h-16.0z"/><path d="M883.8 244.2l8.0 13.5h-16.0z"/><path d="M885.5 244.4l8.0 13.5h-16.0z"/><path d="M887.1 244.5l8.0 13.5h-16.0z"/><path d="M888.8 244.6l8.0 13.5h-16.0z"/><path d="M890.4 244.6l8.0 13.5h-16.0z"/><path d="M892.1 244.7l8.0 13.5h-16.0z"/><path d="M893.8 244.7l8.0 13.5h-16.0z"/><path d="M895.4 244.7l8.0 13.5h-16.0z"/><path d="M897.1 244.6l8.0 13.5h-16.0z"/><path d="M898.7 244.5l8.0 13.5h-16.0z"/><path d="M900.4 244.4l8.0 13.5h-16.0z"/><path d="M902.1 244.2l8.0 13.5h-16.0z"/><path d="M903.7 244.0l8.0 13.5h-16.0z"/><path d="M905.4 243.8l8.0 13.5h-16.0z"/><path d="M907.0 243.6l8.0 13.5h-16.0z"/><path d="M908.7 243.3l8.0 13.5h-16.0z"/><path d="M910.4 243.0l8.0 13.5h-16.0z"/><path d="M912.0 242.7l8.0 13.5h-16.0z"/><path d="M913.7 242.4l8.0 13.5h-16.0z"/><path d="M915.3 242.0l8.0 13.5h-16.0z"/><path d="M917.0 241.7l8.0 13.5h-16.0z"/><path d="M918.7 241.4l8.0 13.5h-16.0z"/><path d="M920.3 241.1l8.0 13.5h-16.0z"/><path d="M922.0 240.7l8.0 13.5h-16.0z"/><path d="M923.6 240.4l8.0 13.5h-16.0z"/><path d="M925.3 240.1l8.0 13.5h-16.0z"/><path d="M926.9 239.8l8.0 13.5h-16.0z"/><path d="M928.6 239.5l8.0 13.5h-16.0z"/><path d="M930.3 239.2l8.0 13.5h-16.0z"/><path d="M931.9 238.9l8.0 13.5h-16.0z"/><path d="M933.6 238.6l8.0 13.5h-16.0z"/><path d="M935.2 238.2l8.0 13.5h-16.0z"/><path d="M936.9 237.9l8.0 13.5h-16.0z"/><path d="M938.6 237.6l8.0 13.5h-16.0z"/><path d="M940.2 237.2l8.0 13.5h-16.0z"/><path d="M941.9 236.9l8.0 13.5h-16.0z"/><path d="M943.5 236.5l8.0 13.5h-16.0z"/><path d="M945.2 236.2l8.0 13.5h-16.0z"/><path d="M946.9 235.8l8.0 13.5h-16.0z"/><path d="M948.5 235.5l8.0 13.5h-16.0z"/><path d="M950.2 235.1l8.0 13.5h-16.0z"/><path d="M951.8 234.8l8.0 13.5h-16.0z"/><path d="M953.5 234.5l8.0 13.5h-16.0z"/><path d="M955.1 234.1l8.0 13.5h-16.0z"/><path d="M956.8 233.8l8.0 13.5h-16.0z"/><path d="M958.5 233.5l8.0 13.5h-16.0z"/><path d="M960.1 233.2l8.0 13.5h-16.0z"/><path d="M961.8 232.9l8.0 13.5h-16.0z"/><path d="M963.4 232.7l8.0 13.5h-16.0z"/><path d="M965.1 232.4l8.0 13.5h-16.0z"/><path d="M966.8 232.1l8.0 13.5h-16.0z"/><path d="M968.4 231.8l8.0 13.5h-16.0z"/><path d="M970.1 231.5l8.0 13.5h-16.0z"/><path d="M971.7 231.3l8.0 13.5h-16.0z"/><path d="M973.4 231.0l8.0 13.5h-16.0z"/><path d="M975.1 230.7l8.0 13.5h-16.0z"/><path d="M976.7 230.5l8.0 13.5h-16.0z"/><path d="M978.4 230.2l8.0 13.5h-16.0z"/><path d="M980.0 229.9l8.0 13.5h-16.0z"/><path d="M981.7 229.7l8.0 13.5h-16.0z"/><path d="M983.4 229.4l8.0 13.5h-16.0z"/><path d="M985.0 229.1l8.0 13.5h-16.0z"/><path d="M986.7 228.9l8.0 13.5h-16.0z"/><path d="M988.3 228.6l8.0 13.5h-16.0z"/><path d="M990.0 228.4l8.0 13.5h-16.0z"/><path d="M991.6 228.1l8.0 13.5h-16.0z"/><path d="M993.3 227.9l8.0 13.5h-16.0z"/><path d="M995.0 227.6l8.0 13.5h-16.0z"/><path d="M996.6 227.4l8.0 13.5h-16.0z"/><path d="M998.3 227.1l8.0 13.5h-16.0z"/><path d="M999.9 226.9l8.0 13.5h-16.0z"/><path d="M1001.6 226.7l8.0 13.5h-16.0z"/><path d="M1003.3 226.4l8.0 13.5h-16.0z"/><path d="M1004.9 226.2l8.0 13.5h-16.0z"/><path d="M1006.6 225.9l8.0 13.5h-16.0z"/><path d="M1008.2 225.7l8.0 13.5h-16.0z"/><path d="M1009.9 225.5l8.0 13.5h-16.0z"/><path d="M1011.6 225.2l8.0 13.5h-16.0z"/><path d="M1013.2 225.0l8.0 13.5h-16.0z"/><path d="M1014.9 224.7l8.0 13.5h-16.0z"/><path d="M1016.5 224.5l8.0 13.5h-16.0z"/><path d="M1018.2 224.2l8.0 13.5h-16.0z"/><path d="M1019.9 223.9l8.0 13.5h-16.0z"/><path d="M1021.5 223.6l8.0 13.5h-16.0z"/><path d="M1023.2 223.4l8.0 13.5h-16.0z"/><path d="M1024.8 223.1l8.0 13.5h-16.0z"/><path d="M1026.5 222.8l8.0 13.5h-16.0z"/><path d="M1028.1 222.5l8.0 13.5h-16.0z"/><path d="M1029.8 222.2l8.0 13.5h-16.0z"/><path d="M1031.5 221.9l8.0 13.5h-16.0z"/><path d="M1033.1 221.7l8.0 13.5h-16.0z"/><path d="M1034.8 221.4l8.0 13.5h-16.0z"/><path d="M1036.4 221.1l8.0 13.5h-16.0z"/><path d="M1038.1 220.7l8.0 13.5h-16.0z"/><path d="M1039.8 220.4l8.0 13.5h-16.0z"/><path d="M1041.4 220.1l8.0 13.5h-16.0z"/><path d="M1043.1 219.8l8.0 13.5h-16.0z"/><path d="M1044.7 219.5l8.0 13.5h-16.0z"/><path d="M1046.4 219.1l8.0 13.5h-16.0z"/><path d="M1048.1 218.8l8.0 13.5h-16.0z"/><path d="M1049.7 218.4l8.0 13.5h-16.0z"/><path d="M1051.4 218.1l8.0 13.5h-16.0z"/><path d="M1053.0 217.7l8.0 13.5h-16.0z"/><path d="M1054.7 217.4l8.0 13.5h-16.0z"/><path d="M1056.3 217.0l8.0 13.5h-16.0z"/><path d="M1058.0 216.6l8.0 13.5h-16.0z"/><path d="M1059.7 216.2l8.0 13.5h-16.0z"/><path d="M1061.3 215.8l8.0 13.5h-16.0z"/><path d="M1063.0 215.4l8.0 13.5h-16.0z"/><path d="M1064.6 215.0l8.0 13.5h-16.0z"/><path d="M1066.3 214.6l8.0 13.5h-16.0z"/><path d="M1068.0 214.2l8.0 13.5h-16.0z"/><path d="M1069.6 213.8l8.0 13.5h-16.0z"/><path d="M1071.3 213.3l8.0 13.5h-16.0z"/><path d="M1072.9 212.9l8.0 13.5h-16.0z"/><path d="M1074.6 212.4l8.0 13.5h-16.0z"/><path d="M1076.3 211.9l8.0 13.5h-16.0z"/><path d="M1077.9 211.4l8.0 13.5h-16.0z"/><path d="M1079.6 210.9l8.0 13.5h-16.0z"/><path d="M1081.2 210.4l8.0 13.5h-16.0z"/><path d="M1082.9 209.9l8.0 13.5h-16.0z"/><path d="M1084.6 209.3l8.0 13.5h-16.0z"/><path d="M1086.2 208.7l8.0 13.5h-16.0z"/><path d="M1087.9 208.1l8.0 13.5h-16.0z"/><path d="M1089.5 207.4l8.0 13.5h-16.0z"/><path d="M1091.2 206.7l8.0 13.5h-16.0z"/><path d="M1092.8 206.0l8.0 13.5h-16.0z"/><path d="M1094.5 205.2l8.0 13.5h-16.0z"/><path d="M1096.2 204.5l8.0 13.5h-16.0z"/><path d="M1097.8 203.7l8.0 13.5h-16.0z"/><path d="M1099.5 202.9l8.0 13.5h-16.0z"/><path d="M1101.1 202.0l8.0 13.5h-16.0z"/><path d="M1102.8 201.2l8.0 13.5h-16.0z"/><path d="M1104.5 200.3l8.0 13.5h-16.0z"/><path d="M1106.1 199.4l8.0 13.5h-16.0z"/><path d="M1107.8 198.4l8.0 13.5h-16.0z"/><path d="M1109.4 197.4l8.0 13.5h-16.0z"/><path d="M1111.1 196.4l8.0 13.5h-16.0z"/><path d="M1112.8 195.4l8.0 13.5h-16.0z"/><path d="M1114.4 194.3l8.0 13.5h-16.0z"/><path d="M1116.1 193.2l8.0 13.5h-16.0z"/><path d="M1117.7 192.0l8.0 13.5h-16.0z"/><path d="M1119.4 190.8l8.0 13.5h-16.0z"/><path d="M1121.0 189.6l8.0 13.5h-16.0z"/><path d="M1122.7 188.3l8.0 13.5h-16.0z"/><path d="M1124.4 187.0l8.0 13.5h-16.0z"/><path d="M1126.0 185.7l8.0 13.5h-16.0z"/><path d="M1127.7 184.3l8.0 13.5h-16.0z"/><path d="M1129.3 182.9l8.0 13.5h-16.0z"/><path d="M1131.0 181.5l8.0 13.5h-16.0z"/><path d="M1132.7 180.1l8.0 13.5h-16.0z"/><path d="M1134.3 178.6l8.0 13.5h-16.0z"/><path d="M1136.0 177.1l8.0 13.5h-16.0z"/><path d="M1137.6 175.5l8.0 13.5h-16.0z"/><path d="M1139.3 173.9l8.0 13.5h-16.0z"/><path d="M1141.0 172.2l8.0 13.5h-16.0z"/><path d="M1142.6 170.4l8.0 13.5h-16.0z"/><path d="M1144.3 168.6l8.0 13.5h-16.0z"/><path d="M1145.9 166.8l8.0 13.5h-16.0z"/><path d="M1147.6 164.8l8.0 13.5h-16.0z"/><path d="M1149.3 162.8l8.0 13.5h-16.0z"/><path d="M1150.9 160.8l8.0 13.5h-16.0z"/><path d="M1152.6 158.6l8.0 13.5h-16.0z"/><path d="M1154.2 156.4l8.0 13.5h-16.0z"/><path d="M1155.9 154.0l8.0 13.5h-16.0z"/><path d="M1157.5 151.5l8.0 13.5h-16.0z"/><path d="M1159.2 148.9l8.0 13.5h-16.0z"/><path d="M1160.9 146.3l8.0 13.5h-16.0z"/><path d="M1162.5 143.9l8.0 13.5h-16.0z"/><path d="M1164.2 141.8l8.0 13.5h-16.0z"/><path d="M1165.8 139.9l8.0 13.5h-16.0z"/><path d="M1167.5 137.9l8.0 13.5h-16.0z"/><path d="M1169.2 135.6l8.0 13.5h-16.0z"/><path d="M1170.8 132.9l8.0 13.5h-16.0z"/><path d="M1172.5 129.3l8.0 13.5h-16.0z"/><path d="M1174.1 124.9l8.0 13.5h-16.0z"/><path d="M1175.8 120.2l8.0 13.5h-16.0z"/><path d="M1177.5 115.7l8.0 13.5h-16.0z"/><path d="M1179.1 111.2l8.0 13.5h-16.0z"/><path d="M1180.8 106.6l8.0 13.5h-16.0z"/><path d="M1182.4 101.7l8.0 13.5h-16.0z"/><path d="M1184.1 96.5l8.0 13.5h-16.0z"/><path d="M1185.8 90.8l8.0 13.5h-16.0z"/><path d="M1187.4 84.7l8.0 13.5h-16.0z"/><path d="M1189.1 78.4l8.0 13.5h-16.0z"/><path d="M1190.7 72.1l8.0 13.5h-16.0z"/><path d="M1192.4 65.6l8.0 13.5h-16.0z"/><path d="M1194.0 58.7l8.0 13.5h-16.0z"/><path d="M1195.7 50.8l8.0 13.5h-16.0z"/><path d="M1197.4 42.3l8.0 13.5h-16.0z"/><path d="M1199.0 33.9l8.0 13.5h-16.0z"/><path d="M1200.7 25.7l8.0 13.5h-16.0z"/><path d="M1202.3 17.6l8.0 13.5h-16.0z"/></g>
<rect x="851" y="0" width="526.2" height="20.8" fill="#fff"/>
<rect x="851" y="21.8" width="526.2" height="493.5" fill="none" stroke="#000" stroke-width="3.6" stroke-linejoin="round"/>
<path d="M851 511.6h7.5M851 389.5h7.5M851 267.4h7.5M851 145.3h7.5M851 23.2h7.5M851 450.6h4.5M851 328.5h4.5M851 206.4h4.5M851 84.2h4.5M868.4 515.3v-7.5M1034.3 515.3v-7.5M1200.2 515.3v-7.5M1366.1 515.3v-7.5M951.4 515.3v-4.5M1117.2 515.3v-4.5M1283.2 515.3v-4.5" stroke="#000" stroke-width="3.2" fill="none" stroke-linecap="round"/>
<g font-family="Liberation Sans, sans-serif" font-weight="bold" font-size="31"><text x="842.2" y="520.6" text-anchor="end">0</text><text x="842.2" y="398.5" text-anchor="end">200</text><text x="842.2" y="276.4" text-anchor="end">400</text><text x="842.2" y="154.3" text-anchor="end">600</text><text x="842.2" y="32.2" text-anchor="end">800</text><text x="868.4" y="547.8" text-anchor="middle">0</text><text x="1034.3" y="547.8" text-anchor="middle">100</text><text x="1200.2" y="547.8" text-anchor="middle">200</text><text x="1366.1" y="547.8" text-anchor="middle">300</text></g>
<text x="3.8" y="38.9" font-family="Liberation Sans, sans-serif" font-weight="bold" font-size="50">a</text>
<text x="734.2" y="39.2" font-family="Liberation Sans, sans-serif" font-weight="bold" font-size="50">b</text>
<text transform="translate(32,269) rotate(-90)" text-anchor="middle" font-family="Liberation Sans, sans-serif" font-weight="bold" font-size="37">Resistance (<tspan font-weight="normal">Ω</tspan>)</text>
<text transform="translate(766.3,269) rotate(-90)" text-anchor="middle" font-family="Liberation Sans, sans-serif" font-weight="bold" font-size="37">Resistance (<tspan font-weight="normal">Ω</tspan>)</text>
<text x="367.7" y="588" text-anchor="middle" font-family="Liberation Sans, sans-serif" font-weight="bold" font-size="37">T (K)</text>
<text x="1114" y="588" text-anchor="middle" font-family="Liberation Sans, sans-serif" font-weight="bold" font-size="37">T (K)</text>
<text x="438.5" y="64.7" fill="#6e1a22" font-family="Liberation Sans, sans-serif" font-weight="bold" font-size="37">BTS</text>
<text x="438.5" y="108.6" fill="#6e1a22" font-family="Liberation Sans, sans-serif" font-weight="bold" font-size="37">P=2.1 GPa</text>
<text x="867" y="62.9" fill="#6e1a22" font-family="Liberation Sans, sans-serif" font-weight="bold" font-size="37">BSTS</text>
<text x="867" y="107" fill="#6e1a22" font-family="Liberation Sans, sans-serif" font-weight="bold" font-size="37">P=2.2 GPa</text>
<text x="204" y="150.6" font-family="Liberation Sans, sans-serif" font-weight="bold" font-style="italic" font-size="31">T*</text>
<polygon points="215.60,151.00 214.72,180.30 217.47,180.30 216.59,151.00" fill="#000"/><polygon points="216.1,190.8 210.5,177.8 216.1,179.3 221.7,177.8" fill="#000"/>
<text x="366.5" y="163" font-family="Liberation Sans, sans-serif" font-weight="bold" font-size="30">R<tspan font-size="22" font-style="italic" dy="7">sur</tspan></text>
<polygon points="360.50,150.50 329.80,149.62 329.80,152.38 360.50,151.50" fill="#1f7a3c"/><polygon points="319.8,151.0 334.8,145.5 330.8,151.0 334.8,156.5" fill="#1f7a3c"/>
<text x="325.3" y="318.9" font-family="Liberation Sans, sans-serif" font-weight="bold" font-size="31">fitted data</text>
<polygon points="350.43,322.94 332.08,347.87 334.13,349.30 351.17,323.46" fill="#d4141c"/><polygon points="327.1,357.2 330.0,343.4 333.7,347.8 339.0,349.7" fill="#d4141c"/>
<text x="185.3" y="443.6" font-family="Liberation Sans, sans-serif" font-weight="bold" font-size="30.6">exp. data</text>
<polygon points="283.27,417.06 301.98,392.35 299.95,390.89 282.53,416.54" fill="#000"/><polygon points="306.5,383.9 303.6,396.6 300.4,392.4 295.4,390.7" fill="#000"/>
<text x="406" y="398.5" font-family="Liberation Sans, sans-serif" font-weight="bold" font-style="italic" font-size="31">T'</text>
<polygon points="417.81,400.50 416.93,431.10 419.68,431.10 418.80,400.50" fill="#000"/><polygon points="418.3,441.6 412.7,428.6 418.3,430.1 423.9,428.6" fill="#000"/>
<text x="1055.5" y="160.5" font-family="Liberation Sans, sans-serif" font-weight="bold" font-style="italic" font-size="31">T*</text>
<polygon points="1067.51,165.50 1066.62,196.90 1069.38,196.90 1068.49,165.50" fill="#000"/><polygon points="1068.0,207.4 1062.4,194.4 1068.0,195.9 1073.6,194.4" fill="#000"/>
<text x="1262.5" y="83.2" font-family="Liberation Sans, sans-serif" font-weight="bold" font-size="30">R<tspan font-size="22" font-style="italic" dy="7.7">sur</tspan></text>
<polygon points="1254.70,71.20 1222.50,70.33 1222.50,73.08 1254.70,72.20" fill="#1f7a3c"/><polygon points="1212.5,71.7 1227.5,66.2 1223.5,71.7 1227.5,77.2" fill="#1f7a3c"/>
<text x="1222.8" y="283.3" font-family="Liberation Sans, sans-serif" font-weight="bold" font-size="31">fitted data</text>
<polygon points="1257.84,290.93 1240.00,313.89 1242.02,315.37 1258.56,291.47" fill="#d4141c"/><polygon points="1234.8,323.1 1238.1,309.4 1241.6,313.8 1246.9,315.9" fill="#d4141c"/>
<text x="1200" y="429.9" text-anchor="end" font-family="Liberation Sans, sans-serif" font-weight="bold" font-size="30.6">exp. data</text>
<polygon points="1177.57,401.95 1196.21,375.87 1194.14,374.46 1176.83,401.45" fill="#000"/><polygon points="1200.5,367.3 1197.9,380.0 1194.6,376.0 1189.6,374.4" fill="#000"/>
<text x="1275.5" y="389" font-family="Liberation Sans, sans-serif" font-weight="bold" font-style="italic" font-size="31">T'</text>
<polygon points="1284.81,390.50 1283.92,420.10 1286.67,420.10 1285.79,390.50" fill="#000"/><polygon points="1285.3,430.6 1279.7,417.6 1285.3,419.1 1290.9,417.6" fill="#000"/>
<polygon points="94.2,1115.6 323.5,1010.1 323.2,641.9 86.2,711.0" fill="#f7f7f7"/>
<polygon points="323.5,1010.1 656.8,1076.9 667.3,685.0 323.2,641.9" fill="#f7f7f7"/>
<polygon points="94.2,1115.6 447.8,1197.9 656.8,1076.9 323.5,1010.1" fill="#fcfcfc"/>
<path d="M93.5 1083.0 L323.5 980.4M323.5 980.4 L657.6 1045.3M92.2 1017.4 L323.4 920.5M323.4 920.5 L659.3 981.7M90.9 951.1 L323.4 860.1M323.4 860.1 L661.1 917.4M89.6 884.0 L323.4 799.1M323.4 799.1 L662.8 852.5M88.2 816.2 L323.3 737.4M323.3 737.4 L664.6 786.8M86.9 747.7 L323.3 675.2M323.3 675.2 L666.3 720.5M127.3 1100.4 L120.4 701.0M175.3 1078.3 L170.2 686.5M221.5 1057.1 L218.0 672.6M265.9 1036.7 L263.8 659.3M308.5 1017.0 L307.8 646.4M366.4 1018.7 L367.4 647.5M424.0 1030.3 L426.9 654.9M483.0 1042.1 L487.7 662.6M543.4 1054.2 L550.1 670.4M605.3 1066.6 L614.0 678.4" stroke="#ebebeb" stroke-width="1.1" fill="none"/>
<path d="M127.3 1100.4 L478.1 1180.4M175.3 1078.3 L522.1 1154.9M221.5 1057.1 L564.2 1130.5M265.9 1036.7 L604.5 1107.2M308.5 1017.0 L643.2 1084.8M139.4 1126.2 L366.4 1018.7M200.3 1140.3 L424.0 1030.3M262.8 1154.9 L483.0 1042.1M326.9 1169.8 L543.4 1054.2M392.8 1185.1 L605.3 1066.6" stroke="#efefef" stroke-width="1" fill="none"/>
<path d="M323.5 1010.1 L323.2 641.9M86.2 711.0 L323.2 641.9M323.2 641.9 L667.3 685.0M656.8 1076.9 L667.3 685.0" stroke="#8a8a8a" stroke-width="1.1" fill="none"/>
<path d="M94.2 1115.6 L323.5 1010.1M323.5 1010.1 L656.8 1076.9" stroke="#c8c8c8" stroke-width="1" fill="none"/>
<polygon points="93.5,1083.0 99.1,1084.3 104.7,1085.5 110.4,1086.8 116.0,1088.1 121.6,1089.4 127.3,1090.6 133.0,1091.9 138.7,1093.2 144.4,1094.5 150.1,1095.8 155.8,1097.1 161.5,1098.4 167.3,1099.7 173.1,1101.0 178.9,1102.3 184.7,1103.6 190.5,1104.9 196.3,1106.2 202.1,1107.5 208.0,1108.9 213.9,1110.2 219.7,1111.5 225.6,1112.8 231.6,1114.2 237.5,1115.5 243.4,1116.9 249.4,1118.2 255.4,1119.5 261.3,1120.9 267.3,1122.3 273.4,1123.6 279.4,1125.0 285.4,1126.3 291.5,1127.7 297.6,1129.1 303.7,1130.5 309.8,1131.8 315.9,1133.2 322.0,1134.6 328.2,1136.0 334.4,1137.4 340.5,1138.8 346.7,1140.2 353.0,1141.6 359.2,1143.0 365.4,1144.4 371.7,1145.8 378.0,1147.2 384.3,1148.7 390.6,1150.1 396.9,1151.5 403.2,1152.9 409.6,1154.4 416.0,1155.8 422.4,1157.3 428.8,1158.7 435.2,1160.2 441.6,1161.6 448.1,1163.1 448.1,1163.1 452.0,1160.8 456.0,1158.6 459.9,1156.4 463.8,1154.2 467.7,1152.1 471.6,1149.9 475.4,1147.7 479.3,1145.6 483.1,1143.4 486.9,1141.3 490.7,1139.1 494.5,1137.0 498.2,1134.9 502.0,1132.8 505.7,1130.7 509.5,1128.6 513.2,1126.5 516.9,1124.4 520.6,1122.3 524.3,1120.3 527.9,1118.2 531.6,1116.1 535.2,1114.1 538.8,1112.1 542.4,1110.0 546.0,1108.0 549.6,1106.0 553.2,1104.0 556.7,1102.0 560.2,1100.0 563.8,1098.0 567.3,1096.0 570.8,1094.1 574.3,1092.1 577.8,1090.2 581.2,1088.2 584.7,1086.1 588.1,1083.9 591.6,1081.7 595.0,1079.5 598.4,1077.2 601.8,1074.9 605.2,1072.5 608.6,1070.2 611.9,1067.8 615.3,1065.3 618.6,1062.9 622.0,1060.4 625.3,1057.9 628.6,1055.4 631.9,1052.9 635.2,1050.3 638.5,1047.7 641.8,1045.2 645.0,1042.5 648.3,1039.9 651.5,1037.3 654.8,1034.6 658.0,1032.0 658.0,1032.0 651.9,1031.7 645.8,1031.4 639.8,1031.1 633.8,1030.7 627.8,1030.4 621.8,1030.0 615.8,1029.6 609.8,1029.2 603.9,1028.7 597.9,1028.2 592.0,1027.7 586.1,1027.1 580.2,1026.6 574.3,1026.0 568.5,1025.3 562.6,1024.7 556.8,1024.0 551.0,1023.2 545.2,1022.5 539.4,1021.6 533.6,1020.8 527.8,1019.9 522.1,1018.9 516.4,1017.8 510.6,1016.7 504.9,1015.6 499.2,1014.5 493.6,1013.4 487.9,1012.3 482.2,1011.2 476.6,1010.1 470.9,1009.0 465.3,1007.9 459.7,1006.8 454.1,1005.7 448.5,1004.6 443.0,1003.6 437.4,1002.5 431.9,1001.4 426.3,1000.3 420.8,999.3 415.3,998.2 409.8,997.1 404.3,996.1 398.9,995.0 393.4,993.9 388.0,992.9 382.5,991.8 377.1,990.8 371.7,989.7 366.3,988.7 360.9,987.6 355.5,986.6 350.1,985.5 344.8,984.5 339.4,983.5 334.1,982.4 328.8,981.4 323.5,980.4 323.5,980.4 320.0,981.9 316.4,983.5 312.9,985.1 309.3,986.7 305.7,988.3 302.1,989.9 298.5,991.5 294.9,993.1 291.3,994.7 287.7,996.4 284.0,998.0 280.3,999.6 276.7,1001.3 273.0,1002.9 269.3,1004.5 265.6,1006.2 261.9,1007.9 258.1,1009.5 254.4,1011.2 250.6,1012.9 246.8,1014.6 243.1,1016.3 239.3,1018.0 235.5,1019.7 231.6,1021.4 227.8,1023.1 223.9,1024.8 220.1,1026.5 216.2,1028.2 212.3,1030.0 208.4,1031.7 204.5,1033.5 200.6,1035.2 196.6,1037.0 192.7,1038.7 188.7,1040.5 184.7,1042.3 180.7,1044.1 176.7,1045.9 172.7,1047.7 168.7,1049.5 164.6,1051.3 160.6,1053.1 156.5,1054.9 152.4,1056.7 148.3,1058.6 144.2,1060.4 140.0,1062.3 135.9,1064.1 131.7,1066.0 127.5,1067.8 123.3,1069.7 119.1,1071.6 114.9,1073.5 110.6,1075.4 106.4,1077.3 102.1,1079.2 97.8,1081.1 93.5,1083.0" fill="#fe0000"/>
<polyline points="93.5,1083.0 99.1,1084.3 104.7,1085.5 110.4,1086.8 116.0,1088.1 121.6,1089.4 127.3,1090.6 133.0,1091.9 138.7,1093.2 144.4,1094.5 150.1,1095.8 155.8,1097.1 161.5,1098.4 167.3,1099.7 173.1,1101.0 178.9,1102.3 184.7,1103.6 190.5,1104.9 196.3,1106.2 202.1,1107.5 208.0,1108.9 213.9,1110.2 219.7,1111.5 225.6,1112.8 231.6,1114.2 237.5,1115.5 243.4,1116.9 249.4,1118.2 255.4,1119.5 261.3,1120.9 267.3,1122.3 273.4,1123.6 279.4,1125.0 285.4,1126.3 291.5,1127.7 297.6,1129.1 303.7,1130.5 309.8,1131.8 315.9,1133.2 322.0,1134.6 328.2,1136.0 334.4,1137.4 340.5,1138.8 346.7,1140.2 353.0,1141.6 359.2,1143.0 365.4,1144.4 371.7,1145.8 378.0,1147.2 384.3,1148.7 390.6,1150.1 396.9,1151.5 403.2,1152.9 409.6,1154.4 416.0,1155.8 422.4,1157.3 428.8,1158.7 435.2,1160.2 441.6,1161.6 448.1,1163.1 448.1,1163.1 452.0,1160.8 456.0,1158.6 459.9,1156.4 463.8,1154.2 467.7,1152.1 471.6,1149.9 475.4,1147.7 479.3,1145.6 483.1,1143.4 486.9,1141.3 490.7,1139.1 494.5,1137.0 498.2,1134.9 502.0,1132.8 505.7,1130.7 509.5,1128.6 513.2,1126.5 516.9,1124.4 520.6,1122.3 524.3,1120.3 527.9,1118.2 531.6,1116.1 535.2,1114.1 538.8,1112.1 542.4,1110.0 546.0,1108.0 549.6,1106.0 553.2,1104.0 556.7,1102.0 560.2,1100.0 563.8,1098.0 567.3,1096.0 570.8,1094.1 574.3,1092.1 577.8,1090.2 581.2,1088.2 584.7,1086.1 588.1,1083.9 591.6,1081.7 595.0,1079.5 598.4,1077.2 601.8,1074.9 605.2,1072.5 608.6,1070.2 611.9,1067.8 615.3,1065.3 618.6,1062.9 622.0,1060.4 625.3,1057.9 628.6,1055.4 631.9,1052.9 635.2,1050.3 638.5,1047.7 641.8,1045.2 645.0,1042.5 648.3,1039.9 651.5,1037.3 654.8,1034.6 658.0,1032.0" fill="none" stroke="#5a1a78" stroke-width="1.3" stroke-linejoin="round"/>
<defs><linearGradient id="fgBTS" gradientUnits="userSpaceOnUse" x1="328.8" y1="1092.6" x2="321.3" y2="1112.2"><stop offset="0" stop-color="#fff"/><stop offset="1" stop-color="#080808"/></linearGradient><mask id="mkBTS" maskUnits="userSpaceOnUse" x="0" y="600" width="1458" height="622"><rect x="0" y="600" width="1458" height="622" fill="url(#fgBTS)"/></mask></defs>
<defs><clipPath id="crBTS"><polygon points="93.5,1083.0 99.1,1084.3 104.7,1085.5 110.4,1086.8 116.0,1088.1 121.6,1089.4 127.3,1090.6 133.0,1091.9 138.7,1093.2 144.4,1094.5 150.1,1095.8 155.8,1097.1 161.5,1098.4 167.3,1099.7 173.1,1101.0 178.9,1102.3 184.7,1103.6 190.5,1104.9 196.3,1106.2 202.1,1107.5 208.0,1108.9 213.9,1110.2 219.7,1111.5 225.6,1112.8 231.6,1114.2 237.5,1115.5 243.4,1116.9 249.4,1118.2 255.4,1119.5 261.3,1120.9 267.3,1122.3 273.4,1123.6 279.4,1125.0 285.4,1126.3 291.5,1127.7 297.6,1129.1 303.7,1130.5 309.8,1131.8 315.9,1133.2 322.0,1134.6 328.2,1136.0 334.4,1137.4 340.5,1138.8 346.7,1140.2 353.0,1141.6 359.2,1143.0 365.4,1144.4 371.7,1145.8 378.0,1147.2 384.3,1148.7 390.6,1150.1 396.9,1151.5 403.2,1152.9 409.6,1154.4 416.0,1155.8 422.4,1157.3 428.8,1158.7 435.2,1160.2 441.6,1161.6 448.1,1163.1 448.1,1163.1 452.0,1160.8 456.0,1158.6 459.9,1156.4 463.8,1154.2 467.7,1152.1 471.6,1149.9 475.4,1147.7 479.3,1145.6 483.1,1143.4 486.9,1141.3 490.7,1139.1 494.5,1137.0 498.2,1134.9 502.0,1132.8 505.7,1130.7 509.5,1128.6 513.2,1126.5 516.9,1124.4 520.6,1122.3 524.3,1120.3 527.9,1118.2 531.6,1116.1 535.2,1114.1 538.8,1112.1 542.4,1110.0 546.0,1108.0 549.6,1106.0 553.2,1104.0 556.7,1102.0 560.2,1100.0 563.8,1098.0 567.3,1096.0 570.8,1094.1 574.3,1092.1 577.8,1090.2 581.2,1088.2 584.7,1086.1 588.1,1083.9 591.6,1081.7 595.0,1079.5 598.4,1077.2 601.8,1074.9 605.2,1072.5 608.6,1070.2 611.9,1067.8 615.3,1065.3 618.6,1062.9 622.0,1060.4 625.3,1057.9 628.6,1055.4 631.9,1052.9 635.2,1050.3 638.5,1047.7 641.8,1045.2 645.0,1042.5 648.3,1039.9 651.5,1037.3 654.8,1034.6 658.0,1032.0 658.0,1032.0 651.9,1031.7 645.8,1031.4 639.8,1031.1 633.8,1030.7 627.8,1030.4 621.8,1030.0 615.8,1029.6 609.8,1029.2 603.9,1028.7 597.9,1028.2 592.0,1027.7 586.1,1027.1 580.2,1026.6 574.3,1026.0 568.5,1025.3 562.6,1024.7 556.8,1024.0 551.0,1023.2 545.2,1022.5 539.4,1021.6 533.6,1020.8 527.8,1019.9 522.1,1018.9 516.4,1017.8 510.6,1016.7 504.9,1015.6 499.2,1014.5 493.6,1013.4 487.9,1012.3 482.2,1011.2 476.6,1010.1 470.9,1009.0 465.3,1007.9 459.7,1006.8 454.1,1005.7 448.5,1004.6 443.0,1003.6 437.4,1002.5 431.9,1001.4 426.3,1000.3 420.8,999.3 415.3,998.2 409.8,997.1 404.3,996.1 398.9,995.0 393.4,993.9 388.0,992.9 382.5,991.8 377.1,990.8 371.7,989.7 366.3,988.7 360.9,987.6 355.5,986.6 350.1,985.5 344.8,984.5 339.4,983.5 334.1,982.4 328.8,981.4 323.5,980.4 323.5,980.4 320.0,981.9 316.4,983.5 312.9,985.1 309.3,986.7 305.7,988.3 302.1,989.9 298.5,991.5 294.9,993.1 291.3,994.7 287.7,996.4 284.0,998.0 280.3,999.6 276.7,1001.3 273.0,1002.9 269.3,1004.5 265.6,1006.2 261.9,1007.9 258.1,1009.5 254.4,1011.2 250.6,1012.9 246.8,1014.6 243.1,1016.3 239.3,1018.0 235.5,1019.7 231.6,1021.4 227.8,1023.1 223.9,1024.8 220.1,1026.5 216.2,1028.2 212.3,1030.0 208.4,1031.7 204.5,1033.5 200.6,1035.2 196.6,1037.0 192.7,1038.7 188.7,1040.5 184.7,1042.3 180.7,1044.1 176.7,1045.9 172.7,1047.7 168.7,1049.5 164.6,1051.3 160.6,1053.1 156.5,1054.9 152.4,1056.7 148.3,1058.6 144.2,1060.4 140.0,1062.3 135.9,1064.1 131.7,1066.0 127.5,1067.8 123.3,1069.7 119.1,1071.6 114.9,1073.5 110.6,1075.4 106.4,1077.3 102.1,1079.2 97.8,1081.1 93.5,1083.0"/></clipPath></defs>
<path d="M93.5 1083.0 L97.8 1081.1 L102.1 1079.2 L106.4 1077.3 L110.6 1075.4 L114.9 1073.5 L119.1 1071.6 L123.3 1069.7 L127.5 1067.8 L131.7 1066.0 L135.9 1064.1 L140.0 1062.2 L144.2 1060.3 L148.3 1058.4 L152.4 1056.5 L156.5 1054.5 L160.5 1052.6 L164.6 1050.5 L168.7 1048.5 L172.7 1046.4 L176.7 1044.3 L180.7 1042.1 L184.7 1039.9 L188.7 1037.7 L192.6 1035.4 L196.6 1033.1 L200.5 1030.7 L204.5 1028.3 L208.4 1025.8 L212.3 1023.3 L216.1 1020.8 L220.0 1018.2 L223.9 1015.6 L227.7 1013.0 L231.5 1010.3 L235.4 1007.6 L239.2 1004.9 L243.0 1002.2 L246.7 999.4 L250.5 996.7 L254.3 993.9 L258.0 991.1 L261.7 988.2 L265.5 985.4 L269.2 982.6 L272.9 979.7 L276.6 976.9 L280.2 974.0 L283.9 971.1 L287.5 968.3 L291.2 965.4 L294.8 962.5 L298.4 959.7 L302.0 956.8 L305.6 953.9 L309.2 951.1 L312.8 948.2 L316.4 945.4 L319.9 942.5 L323.5 939.7M93.5 1083.0 L99.1 1084.3 L104.7 1085.5 L110.4 1086.8 L116.0 1088.1 L121.6 1089.4 L127.3 1090.6 L133.0 1091.9 L138.7 1093.2 L144.4 1094.5 L150.1 1095.8 L155.8 1097.1 L161.5 1098.4 L167.3 1099.7 L173.1 1101.0 L178.9 1102.3 L184.7 1103.6 L190.5 1104.9 L196.3 1106.2 L202.1 1107.5 L208.0 1108.9 L213.9 1110.2 L219.7 1111.5 L225.6 1112.8 L231.6 1114.2 L237.5 1115.5 L243.4 1116.9 L249.4 1118.2 L255.4 1119.5 L261.3 1120.9 L267.3 1122.3 L273.4 1123.6 L279.4 1125.0 L285.4 1126.3 L291.5 1127.7 L297.6 1129.1 L303.7 1130.5 L309.8 1131.8 L315.9 1133.2 L322.0 1134.6 L328.2 1136.0 L334.4 1137.4 L340.5 1138.8 L346.7 1140.2 L353.0 1141.6 L359.2 1143.0 L365.4 1144.4 L371.7 1145.8 L378.0 1147.2 L384.3 1148.7 L390.6 1150.1 L396.9 1151.5 L403.2 1152.9 L409.6 1154.4 L416.0 1155.8 L422.4 1157.3 L428.8 1158.7 L435.2 1160.2 L441.6 1161.6 L448.1 1163.1M110.1 1086.7 L114.4 1084.8 L118.6 1082.9 L122.9 1081.0 L127.1 1079.1 L131.4 1077.1 L135.6 1075.2 L139.8 1073.4 L143.9 1071.5 L148.1 1069.6 L152.3 1067.7 L156.4 1065.8 L160.5 1063.9 L164.6 1062.0 L168.7 1060.0 L172.8 1058.0 L176.9 1056.0 L180.9 1054.0 L184.9 1051.9 L189.0 1049.8 L193.0 1047.7 L197.0 1045.5 L200.9 1043.2 L204.9 1041.0 L208.8 1038.6 L212.8 1036.2 L216.7 1033.8 L220.6 1031.4 L224.5 1028.8 L228.4 1026.3 L232.3 1023.7 L236.1 1021.1 L239.9 1018.4 L243.8 1015.7 L247.6 1013.0 L251.4 1010.2 L255.2 1007.4 L259.0 1004.6 L262.7 1001.8 L266.5 998.9 L270.2 996.1 L274.0 993.2 L277.7 990.3 L281.4 987.4 L285.1 984.4 L288.8 981.5 L292.5 978.6 L296.1 975.6 L299.8 972.7 L303.4 969.7 L307.0 966.8 L310.7 963.8 L314.3 960.8 L317.9 957.9 L321.4 954.9 L325.0 952.0 L328.6 949.1 L332.1 946.1 L335.7 943.2 L339.2 940.3M106.2 1077.4 L111.8 1078.6 L117.4 1079.9 L123.0 1081.1 L128.6 1082.4 L134.2 1083.6 L139.9 1084.9 L145.5 1086.2 L151.2 1087.4 L156.9 1088.7 L162.6 1090.0 L168.3 1091.3 L174.0 1092.6 L179.7 1093.8 L185.5 1095.1 L191.3 1096.4 L197.1 1097.7 L202.9 1099.0 L208.7 1100.3 L214.5 1101.6 L220.3 1102.9 L226.2 1104.2 L232.0 1105.6 L237.9 1106.9 L243.8 1108.2 L249.7 1109.5 L255.7 1110.8 L261.6 1112.2 L267.6 1113.5 L273.5 1114.8 L279.5 1116.2 L285.5 1117.5 L291.5 1118.9 L297.6 1120.2 L303.6 1121.6 L309.7 1122.9 L315.7 1124.3 L321.8 1125.7 L327.9 1127.0 L334.0 1128.4 L340.2 1129.8 L346.3 1131.2 L352.5 1132.5 L358.7 1133.9 L364.9 1135.3 L371.1 1136.7 L377.3 1138.1 L383.5 1139.5 L389.8 1140.9 L396.1 1142.3 L402.4 1143.7 L408.7 1145.1 L415.0 1146.5 L421.3 1148.0 L427.7 1149.4 L434.1 1150.8 L440.4 1152.2 L446.8 1153.7 L453.3 1155.1 L459.7 1156.5M126.7 1090.5 L131.0 1088.6 L135.3 1086.6 L139.5 1084.7 L143.7 1082.8 L147.9 1080.8 L152.1 1078.9 L156.3 1077.0 L160.5 1075.1 L164.6 1073.2 L168.8 1071.3 L172.9 1069.4 L177.0 1067.5 L181.1 1065.5 L185.2 1063.6 L189.2 1061.6 L193.3 1059.6 L197.3 1057.5 L201.3 1055.4 L205.3 1053.3 L209.3 1051.1 L213.3 1048.8 L217.3 1046.5 L221.2 1044.2 L225.1 1041.8 L229.1 1039.4 L233.0 1036.9 L236.9 1034.4 L240.7 1031.8 L244.6 1029.2 L248.5 1026.5 L252.3 1023.8 L256.1 1021.1 L260.0 1018.3 L263.8 1015.5 L267.6 1012.6 L271.3 1009.8 L275.1 1006.9 L278.9 1003.9 L282.6 1001.0 L286.3 998.0 L290.0 995.0 L293.8 992.0 L297.5 989.0 L301.1 986.0 L304.8 983.0 L308.5 979.9 L312.1 976.9 L315.8 973.8 L319.4 970.7 L323.0 967.7 L326.6 964.6 L330.2 961.6 L333.8 958.5 L337.4 955.4 L340.9 952.4 L344.5 949.3 L348.0 946.3 L351.5 943.3 L355.1 940.2M118.7 1071.8 L124.3 1073.0 L129.8 1074.3 L135.4 1075.5 L141.0 1076.7 L146.6 1078.0 L152.3 1079.2 L157.9 1080.5 L163.6 1081.8 L169.2 1083.0 L174.9 1084.3 L180.6 1085.5 L186.3 1086.8 L192.1 1088.1 L197.8 1089.4 L203.6 1090.6 L209.3 1091.9 L215.1 1093.2 L220.9 1094.5 L226.7 1095.8 L232.5 1097.1 L238.4 1098.4 L244.2 1099.7 L250.1 1101.0 L256.0 1102.3 L261.9 1103.6 L267.8 1104.9 L273.7 1106.2 L279.6 1107.5 L285.6 1108.9 L291.5 1110.2 L297.5 1111.5 L303.5 1112.8 L309.5 1114.2 L315.6 1115.5 L321.6 1116.9 L327.7 1118.2 L333.7 1119.6 L339.8 1120.9 L345.9 1122.3 L352.0 1123.6 L358.2 1125.0 L364.3 1126.3 L370.5 1127.7 L376.6 1129.1 L382.8 1130.5 L389.0 1131.8 L395.3 1133.2 L401.5 1134.6 L407.8 1136.0 L414.0 1137.4 L420.3 1138.8 L426.6 1140.2 L432.9 1141.6 L439.3 1143.0 L445.6 1144.4 L452.0 1145.8 L458.4 1147.2 L464.8 1148.7 L471.2 1150.1M143.5 1094.3 L147.8 1092.3 L152.0 1090.4 L156.2 1088.4 L160.4 1086.5 L164.6 1084.6 L168.8 1082.6 L173.0 1080.7 L177.1 1078.8 L181.3 1076.9 L185.4 1075.0 L189.5 1073.0 L193.6 1071.1 L197.7 1069.1 L201.7 1067.1 L205.8 1065.1 L209.8 1063.1 L213.8 1061.0 L217.8 1058.9 L221.8 1056.7 L225.8 1054.4 L229.8 1052.2 L233.7 1049.8 L237.6 1047.4 L241.6 1045.0 L245.5 1042.5 L249.4 1039.9 L253.2 1037.3 L257.1 1034.7 L261.0 1032.0 L264.8 1029.2 L268.6 1026.4 L272.4 1023.6 L276.2 1020.7 L280.0 1017.8 L283.8 1014.9 L287.6 1011.9 L291.3 1008.9 L295.1 1005.8 L298.8 1002.8 L302.5 999.7 L306.2 996.6 L309.9 993.5 L313.6 990.3 L317.3 987.2 L320.9 984.0 L324.6 980.9 L328.2 977.7 L331.9 974.5 L335.5 971.3 L339.1 968.1 L342.7 964.9 L346.2 961.7 L349.8 958.6 L353.4 955.4 L356.9 952.2 L360.5 949.0 L364.0 945.8 L367.5 942.7 L371.0 939.5M131.1 1066.2 L136.6 1067.5 L142.2 1068.7 L147.8 1069.9 L153.3 1071.1 L159.0 1072.4 L164.6 1073.6 L170.2 1074.9 L175.8 1076.1 L181.5 1077.3 L187.2 1078.6 L192.8 1079.9 L198.5 1081.1 L204.3 1082.4 L210.0 1083.6 L215.7 1084.9 L221.5 1086.2 L227.2 1087.4 L233.0 1088.7 L238.8 1090.0 L244.6 1091.3 L250.4 1092.5 L256.3 1093.8 L262.1 1095.1 L268.0 1096.4 L273.8 1097.7 L279.7 1099.0 L285.6 1100.3 L291.6 1101.6 L297.5 1102.9 L303.4 1104.2 L309.4 1105.5 L315.4 1106.8 L321.4 1108.2 L327.4 1109.5 L333.4 1110.8 L339.4 1112.1 L345.5 1113.5 L351.6 1114.8 L357.6 1116.1 L363.7 1117.5 L369.9 1118.8 L376.0 1120.2 L382.1 1121.5 L388.3 1122.9 L394.5 1124.2 L400.6 1125.6 L406.8 1127.0 L413.1 1128.3 L419.3 1129.7 L425.5 1131.1 L431.8 1132.5 L438.1 1133.8 L444.4 1135.2 L450.7 1136.6 L457.0 1138.0 L463.4 1139.4 L469.7 1140.8 L476.1 1142.2 L482.5 1143.6M160.4 1098.1 L164.6 1096.1 L168.9 1094.2 L173.1 1092.2 L177.3 1090.2 L181.4 1088.3 L185.6 1086.4 L189.8 1084.4 L193.9 1082.5 L198.0 1080.6 L202.1 1078.6 L206.2 1076.7 L210.3 1074.7 L214.4 1072.7 L218.4 1070.7 L222.4 1068.7 L226.5 1066.6 L230.5 1064.5 L234.4 1062.3 L238.4 1060.1 L242.4 1057.8 L246.3 1055.5 L250.3 1053.1 L254.2 1050.6 L258.1 1048.1 L262.0 1045.5 L265.9 1042.9 L269.7 1040.2 L273.6 1037.5 L277.4 1034.7 L281.2 1031.8 L285.1 1028.9 L288.9 1026.0 L292.6 1023.0 L296.4 1019.9 L300.2 1016.9 L303.9 1013.8 L307.7 1010.6 L311.4 1007.5 L315.1 1004.3 L318.8 1001.1 L322.5 997.8 L326.2 994.6 L329.9 991.3 L333.5 988.0 L337.2 984.7 L340.8 981.4 L344.4 978.0 L348.1 974.7 L351.7 971.4 L355.3 968.0 L358.8 964.7 L362.4 961.4 L366.0 958.0 L369.5 954.7 L373.1 951.3 L376.6 948.0 L380.1 944.7 L383.6 941.4 L387.1 938.1M143.3 1060.7 L148.9 1061.9 L154.4 1063.1 L160.0 1064.3 L165.5 1065.5 L171.1 1066.8 L176.7 1068.0 L182.3 1069.2 L188.0 1070.4 L193.6 1071.7 L199.3 1072.9 L204.9 1074.1 L210.6 1075.4 L216.3 1076.6 L222.0 1077.9 L227.7 1079.1 L233.5 1080.3 L239.2 1081.6 L245.0 1082.9 L250.8 1084.1 L256.6 1085.4 L262.4 1086.6 L268.2 1087.9 L274.0 1089.2 L279.9 1090.4 L285.7 1091.7 L291.6 1093.0 L297.5 1094.3 L303.4 1095.5 L309.3 1096.8 L315.2 1098.1 L321.2 1099.4 L327.1 1100.7 L333.1 1102.0 L339.1 1103.3 L345.1 1104.6 L351.1 1105.9 L357.2 1107.2 L363.2 1108.5 L369.3 1109.8 L375.3 1111.1 L381.4 1112.4 L387.5 1113.8 L393.7 1115.1 L399.8 1116.4 L406.0 1117.7 L412.1 1119.1 L418.3 1120.4 L424.5 1121.7 L430.7 1123.1 L437.0 1124.4 L443.2 1125.7 L449.5 1127.1 L455.7 1128.4 L462.0 1129.8 L468.3 1131.1 L474.7 1132.5 L481.0 1133.9 L487.4 1135.2 L493.7 1136.6M177.4 1101.9 L181.6 1100.0 L185.8 1098.0 L190.0 1096.0 L194.2 1094.0 L198.4 1092.1 L202.5 1090.1 L206.7 1088.2 L210.8 1086.2 L214.9 1084.3 L219.0 1082.3 L223.1 1080.4 L227.1 1078.4 L231.2 1076.4 L235.2 1074.4 L239.2 1072.3 L243.2 1070.2 L247.2 1068.0 L251.2 1065.8 L255.1 1063.5 L259.1 1061.2 L263.0 1058.8 L266.9 1056.3 L270.8 1053.8 L274.7 1051.2 L278.6 1048.5 L282.5 1045.8 L286.3 1043.0 L290.2 1040.2 L294.0 1037.2 L297.8 1034.3 L301.6 1031.2 L305.4 1028.2 L309.2 1025.0 L312.9 1021.9 L316.7 1018.7 L320.4 1015.4 L324.1 1012.1 L327.9 1008.8 L331.6 1005.4 L335.3 1002.1 L338.9 998.7 L342.6 995.2 L346.3 991.8 L349.9 988.3 L353.5 984.9 L357.2 981.4 L360.8 977.9 L364.4 974.4 L368.0 970.8 L371.6 967.3 L375.1 963.8 L378.7 960.3 L382.2 956.8 L385.8 953.2 L389.3 949.7 L392.8 946.2 L396.3 942.7 L399.8 939.2 L403.3 935.7M155.4 1055.0 L161.0 1056.2 L166.5 1057.4 L172.0 1058.6 L177.6 1059.8 L183.2 1061.0 L188.8 1062.2 L194.4 1063.4 L200.0 1064.6 L205.6 1065.8 L211.2 1067.0 L216.9 1068.2 L222.6 1069.5 L228.2 1070.7 L233.9 1071.9 L239.6 1073.1 L245.4 1074.3 L251.1 1075.6 L256.8 1076.8 L262.6 1078.0 L268.4 1079.2 L274.2 1080.5 L280.0 1081.7 L285.8 1083.0 L291.6 1084.2 L297.4 1085.4 L303.3 1086.7 L309.2 1087.9 L315.1 1089.2 L321.0 1090.4 L326.9 1091.6 L332.8 1092.9 L338.7 1094.1 L344.7 1095.4 L350.7 1096.6 L356.7 1097.9 L362.7 1099.1 L368.7 1100.4 L374.7 1101.7 L380.8 1102.9 L386.8 1104.2 L392.9 1105.4 L399.0 1106.7 L405.1 1107.9 L411.2 1109.2 L417.3 1110.5 L423.5 1111.7 L429.7 1113.0 L435.8 1114.2 L442.0 1115.5 L448.2 1116.8 L454.5 1118.0 L460.7 1119.3 L467.0 1120.6 L473.2 1121.8 L479.5 1123.1 L485.8 1124.4 L492.2 1125.6 L498.5 1126.9 L504.9 1128.2M194.5 1105.8 L198.8 1103.8 L202.9 1101.8 L207.1 1099.8 L211.3 1097.8 L215.4 1095.9 L219.6 1093.9 L223.7 1091.9 L227.8 1090.0 L231.9 1088.0 L236.0 1086.1 L240.0 1084.1 L244.1 1082.1 L248.1 1080.1 L252.1 1078.0 L256.1 1075.9 L260.1 1073.7 L264.1 1071.5 L268.0 1069.3 L272.0 1066.9 L275.9 1064.5 L279.8 1062.1 L283.7 1059.5 L287.6 1056.9 L291.5 1054.2 L295.3 1051.4 L299.2 1048.6 L303.0 1045.7 L306.9 1042.7 L310.7 1039.7 L314.5 1036.6 L318.3 1033.4 L322.0 1030.2 L325.8 1026.9 L329.5 1023.6 L333.3 1020.2 L337.0 1016.8 L340.7 1013.3 L344.4 1009.8 L348.1 1006.2 L351.8 1002.7 L355.5 999.1 L359.1 995.5 L362.8 991.8 L366.4 988.2 L370.0 984.5 L373.6 980.8 L377.2 977.1 L380.8 973.4 L384.4 969.6 L388.0 965.9 L391.5 962.2 L395.1 958.5 L398.6 954.7 L402.2 951.0 L405.7 947.3 L409.2 943.5 L412.7 939.8 L416.2 936.1 L419.6 932.4M167.4 1049.1 L173.0 1050.3 L178.5 1051.5 L184.0 1052.6 L189.5 1053.8 L195.1 1055.0 L200.7 1056.2 L206.3 1057.3 L211.9 1058.5 L217.5 1059.7 L223.1 1060.9 L228.7 1062.0 L234.4 1063.2 L240.0 1064.4 L245.7 1065.6 L251.4 1066.8 L257.1 1067.9 L262.8 1069.1 L268.6 1070.3 L274.3 1071.5 L280.1 1072.7 L285.8 1073.9 L291.6 1075.0 L297.4 1076.2 L303.2 1077.4 L309.1 1078.6 L314.9 1079.8 L320.8 1080.9 L326.6 1082.1 L332.5 1083.3 L338.4 1084.5 L344.3 1085.6 L350.2 1086.8 L356.2 1088.0 L362.1 1089.2 L368.1 1090.3 L374.1 1091.5 L380.1 1092.6 L386.1 1093.8 L392.1 1095.0 L398.2 1096.1 L404.2 1097.3 L410.3 1098.4 L416.4 1099.5 L422.5 1100.7 L428.6 1101.8 L434.8 1103.0 L440.9 1104.1 L447.1 1105.2 L453.2 1106.3 L459.4 1107.5 L465.6 1108.6 L471.9 1109.7 L478.1 1110.8 L484.4 1111.9 L490.6 1113.0 L496.9 1114.1 L503.2 1115.2 L509.6 1116.3 L515.9 1117.4M211.8 1109.7 L216.0 1107.7 L220.2 1105.7 L224.3 1103.7 L228.5 1101.7 L232.6 1099.7 L236.7 1097.7 L240.8 1095.7 L244.9 1093.8 L249.0 1091.8 L253.1 1089.8 L257.1 1087.8 L261.1 1085.8 L265.1 1083.7 L269.1 1081.6 L273.1 1079.5 L277.1 1077.3 L281.1 1075.1 L285.0 1072.7 L288.9 1070.3 L292.8 1067.9 L296.7 1065.3 L300.6 1062.7 L304.5 1060.0 L308.4 1057.2 L312.2 1054.3 L316.0 1051.3 L319.9 1048.3 L323.7 1045.1 L327.5 1041.9 L331.3 1038.7 L335.0 1035.3 L338.8 1031.9 L342.5 1028.5 L346.3 1025.0 L350.0 1021.4 L353.7 1017.8 L357.4 1014.1 L361.1 1010.4 L364.8 1006.6 L368.5 1002.8 L372.1 999.0 L375.8 995.2 L379.4 991.3 L383.0 987.4 L386.6 983.5 L390.2 979.6 L393.8 975.6 L397.4 971.7 L401.0 967.7 L404.5 963.7 L408.1 959.7 L411.6 955.8 L415.1 951.8 L418.7 947.8 L422.2 943.8 L425.7 939.9 L429.2 935.9 L432.6 931.9 L436.1 928.0M179.3 1042.9 L184.8 1044.0 L190.3 1045.2 L195.8 1046.3 L201.4 1047.5 L206.9 1048.6 L212.5 1049.7 L218.0 1050.9 L223.6 1052.0 L229.2 1053.1 L234.8 1054.3 L240.4 1055.4 L246.1 1056.5 L251.7 1057.7 L257.4 1058.8 L263.1 1059.9 L268.7 1061.0 L274.5 1062.2 L280.2 1063.3 L285.9 1064.4 L291.6 1065.5 L297.4 1066.6 L303.2 1067.7 L308.9 1068.8 L314.7 1069.9 L320.6 1071.0 L326.4 1072.1 L332.2 1073.2 L338.1 1074.2 L343.9 1075.3 L349.8 1076.4 L355.7 1077.4 L361.6 1078.5 L367.6 1079.5 L373.5 1080.6 L379.4 1081.6 L385.4 1082.6 L391.4 1083.6 L397.4 1084.6 L403.4 1085.6 L409.4 1086.6 L415.5 1087.6 L421.5 1088.6 L427.6 1089.5 L433.7 1090.5 L439.8 1091.4 L445.9 1092.3 L452.0 1093.3 L458.2 1094.2 L464.4 1095.1 L470.5 1095.9 L476.7 1096.8 L482.9 1097.7 L489.2 1098.6 L495.4 1099.4 L501.7 1100.2 L508.0 1101.1 L514.2 1101.9 L520.6 1102.7 L526.9 1103.6M229.2 1113.6 L233.4 1111.6 L237.5 1109.6 L241.7 1107.6 L245.8 1105.6 L249.9 1103.6 L254.0 1101.6 L258.1 1099.6 L262.2 1097.6 L266.2 1095.6 L270.3 1093.6 L274.3 1091.6 L278.3 1089.5 L282.3 1087.4 L286.3 1085.3 L290.3 1083.1 L294.2 1080.9 L298.2 1078.6 L302.1 1076.2 L306.0 1073.7 L309.9 1071.2 L313.8 1068.5 L317.7 1065.8 L321.5 1063.0 L325.4 1060.0 L329.2 1057.0 L333.0 1053.9 L336.8 1050.7 L340.6 1047.4 L344.4 1044.0 L348.2 1040.6 L351.9 1037.0 L355.7 1033.4 L359.4 1029.8 L363.1 1026.0 L366.8 1022.2 L370.5 1018.4 L374.2 1014.5 L377.9 1010.5 L381.6 1006.5 L385.2 1002.5 L388.9 998.4 L392.5 994.3 L396.1 990.1 L399.8 986.0 L403.4 981.8 L407.0 977.6 L410.5 973.3 L414.1 969.1 L417.7 964.9 L421.2 960.6 L424.8 956.3 L428.3 952.1 L431.8 947.8 L435.3 943.5 L438.8 939.3 L442.3 935.0 L445.8 930.8 L449.2 926.5 L452.7 922.3M191.1 1036.3 L196.5 1037.4 L202.0 1038.5 L207.5 1039.6 L213.1 1040.7 L218.6 1041.8 L224.1 1042.9 L229.7 1044.0 L235.2 1045.1 L240.8 1046.1 L246.4 1047.2 L252.0 1048.3 L257.7 1049.3 L263.3 1050.4 L268.9 1051.5 L274.6 1052.5 L280.3 1053.5 L285.9 1054.6 L291.6 1055.6 L297.4 1056.6 L303.1 1057.6 L308.8 1058.6 L314.6 1059.6 L320.4 1060.6 L326.1 1061.6 L331.9 1062.6 L337.7 1063.5 L343.6 1064.5 L349.4 1065.4 L355.3 1066.3 L361.1 1067.2 L367.0 1068.1 L372.9 1069.0 L378.8 1069.9 L384.7 1070.7 L390.7 1071.6 L396.6 1072.4 L402.6 1073.2 L408.6 1074.0 L414.6 1074.8 L420.6 1075.5 L426.6 1076.2 L432.7 1077.0 L438.7 1077.6 L444.8 1078.3 L450.9 1079.0 L457.0 1079.6 L463.1 1080.2 L469.2 1080.8 L475.4 1081.4 L481.6 1081.9 L487.7 1082.5 L494.0 1083.0 L500.2 1083.5 L506.4 1084.0 L512.7 1084.4 L518.9 1084.9 L525.2 1085.3 L531.5 1085.7 L537.8 1086.2M246.7 1117.6 L250.9 1115.5 L255.0 1113.5 L259.1 1111.5 L263.2 1109.5 L267.3 1107.4 L271.4 1105.4 L275.5 1103.4 L279.6 1101.4 L283.6 1099.4 L287.6 1097.4 L291.6 1095.3 L295.6 1093.3 L299.6 1091.2 L303.6 1089.0 L307.5 1086.8 L311.5 1084.5 L315.4 1082.1 L319.3 1079.7 L323.2 1077.1 L327.1 1074.5 L330.9 1071.7 L334.8 1068.8 L338.6 1065.9 L342.5 1062.8 L346.3 1059.6 L350.1 1056.4 L353.9 1053.0 L357.7 1049.5 L361.4 1045.9 L365.2 1042.2 L368.9 1038.5 L372.7 1034.6 L376.4 1030.7 L380.1 1026.7 L383.8 1022.7 L387.5 1018.5 L391.2 1014.4 L394.8 1010.1 L398.5 1005.8 L402.2 1001.5 L405.8 997.1 L409.4 992.7 L413.0 988.2 L416.6 983.8 L420.2 979.3 L423.8 974.7 L427.4 970.2 L430.9 965.6 L434.5 961.0 L438.0 956.5 L441.6 951.9 L445.1 947.3 L448.6 942.7 L452.1 938.1 L455.6 933.5 L459.1 928.9 L462.5 924.3 L466.0 919.7 L469.5 915.1M202.7 1029.4 L208.2 1030.4 L213.6 1031.5 L219.1 1032.5 L224.6 1033.6 L230.1 1034.6 L235.7 1035.6 L241.2 1036.6 L246.8 1037.7 L252.3 1038.7 L257.9 1039.7 L263.5 1040.6 L269.1 1041.6 L274.7 1042.6 L280.4 1043.6 L286.0 1044.5 L291.7 1045.4 L297.3 1046.4 L303.0 1047.3 L308.7 1048.2 L314.4 1049.1 L320.2 1050.0 L325.9 1050.8 L331.6 1051.7 L337.4 1052.5 L343.2 1053.3 L349.0 1054.1 L354.8 1054.8 L360.6 1055.6 L366.5 1056.3 L372.3 1057.0 L378.2 1057.7 L384.1 1058.4 L390.0 1059.0 L395.9 1059.6 L401.8 1060.2 L407.7 1060.8 L413.7 1061.3 L419.7 1061.8 L425.6 1062.3 L431.6 1062.7 L437.7 1063.1 L443.7 1063.5 L449.7 1063.9 L455.8 1064.2 L461.9 1064.5 L468.0 1064.7 L474.1 1064.9 L480.2 1065.1 L486.4 1065.3 L492.5 1065.4 L498.7 1065.5 L504.9 1065.5 L511.1 1065.6 L517.3 1065.6 L523.6 1065.5 L529.8 1065.5 L536.1 1065.4 L542.4 1065.3 L548.7 1065.2M264.3 1121.6 L268.5 1119.5 L272.6 1117.5 L276.7 1115.4 L280.8 1113.4 L284.9 1111.3 L289.0 1109.3 L293.0 1107.3 L297.1 1105.3 L301.1 1103.3 L305.1 1101.2 L309.1 1099.2 L313.1 1097.1 L317.0 1094.9 L321.0 1092.7 L324.9 1090.4 L328.8 1088.1 L332.7 1085.7 L336.6 1083.1 L340.5 1080.5 L344.4 1077.7 L348.2 1074.8 L352.1 1071.8 L355.9 1068.7 L359.7 1065.5 L363.5 1062.1 L367.3 1058.6 L371.1 1055.1 L374.9 1051.4 L378.6 1047.5 L382.4 1043.6 L386.1 1039.6 L389.8 1035.5 L393.5 1031.3 L397.2 1027.0 L400.9 1022.7 L404.6 1018.2 L408.3 1013.7 L411.9 1009.1 L415.6 1004.5 L419.2 999.8 L422.8 995.1 L426.4 990.3 L430.0 985.5 L433.6 980.7 L437.2 975.8 L440.8 970.9 L444.4 966.0 L447.9 961.1 L451.5 956.1 L455.0 951.1 L458.5 946.2 L462.0 941.2 L465.5 936.2 L469.0 931.2 L472.5 926.2 L476.0 921.2 L479.5 916.3 L482.9 911.3 L486.4 906.3M214.2 1022.1 L219.7 1023.1 L225.1 1024.1 L230.6 1025.0 L236.1 1026.0 L241.6 1027.0 L247.1 1027.9 L252.6 1028.9 L258.2 1029.8 L263.7 1030.7 L269.3 1031.6 L274.9 1032.5 L280.4 1033.4 L286.1 1034.3 L291.7 1035.1 L297.3 1036.0 L302.9 1036.8 L308.6 1037.6 L314.3 1038.4 L320.0 1039.1 L325.7 1039.9 L331.4 1040.6 L337.1 1041.3 L342.8 1041.9 L348.6 1042.6 L354.4 1043.2 L360.1 1043.8 L365.9 1044.3 L371.7 1044.9 L377.6 1045.4 L383.4 1045.8 L389.3 1046.3 L395.1 1046.6 L401.0 1047.0 L406.9 1047.3 L412.8 1047.6 L418.7 1047.9 L424.7 1048.1 L430.7 1048.2 L436.6 1048.3 L442.6 1048.4 L448.6 1048.4 L454.6 1048.4 L460.7 1048.3 L466.7 1048.2 L472.8 1048.0 L478.9 1047.8 L485.0 1047.5 L491.1 1047.2 L497.3 1046.9 L503.4 1046.4 L509.6 1046.0 L515.8 1045.5 L522.0 1044.9 L528.2 1044.3 L534.5 1043.7 L540.7 1043.0 L547.0 1042.3 L553.3 1041.5 L559.6 1040.7M282.1 1125.6 L286.2 1123.5 L290.3 1121.4 L294.4 1119.4 L298.5 1117.3 L302.6 1115.3 L306.6 1113.2 L310.7 1111.2 L314.7 1109.2 L318.7 1107.1 L322.7 1105.1 L326.6 1103.0 L330.6 1100.9 L334.6 1098.7 L338.5 1096.4 L342.4 1094.1 L346.3 1091.7 L350.2 1089.2 L354.1 1086.5 L357.9 1083.8 L361.8 1080.9 L365.6 1077.9 L369.5 1074.7 L373.3 1071.5 L377.1 1068.0 L380.9 1064.5 L384.6 1060.8 L388.4 1056.9 L392.2 1053.0 L395.9 1048.9 L399.6 1044.7 L403.4 1040.4 L407.1 1036.0 L410.8 1031.4 L414.5 1026.8 L418.1 1022.1 L421.8 1017.3 L425.5 1012.5 L429.1 1007.5 L432.7 1002.5 L436.4 997.4 L440.0 992.3 L443.6 987.1 L447.2 981.9 L450.8 976.7 L454.4 971.4 L457.9 966.0 L461.5 960.7 L465.0 955.3 L468.6 949.9 L472.1 944.5 L475.6 939.1 L479.1 933.7 L482.6 928.2 L486.1 922.8 L489.6 917.4 L493.1 912.0 L496.6 906.5 L500.0 901.1 L503.5 895.7M225.6 1014.4 L231.0 1015.4 L236.5 1016.3 L241.9 1017.2 L247.4 1018.1 L252.9 1019.0 L258.4 1019.9 L263.9 1020.8 L269.4 1021.6 L275.0 1022.4 L280.5 1023.2 L286.1 1024.0 L291.7 1024.8 L297.3 1025.5 L302.9 1026.2 L308.5 1026.9 L314.1 1027.6 L319.8 1028.3 L325.4 1028.9 L331.1 1029.5 L336.8 1030.0 L342.5 1030.6 L348.2 1031.1 L353.9 1031.5 L359.7 1032.0 L365.4 1032.4 L371.2 1032.7 L377.0 1033.0 L382.8 1033.3 L388.6 1033.5 L394.4 1033.7 L400.2 1033.8 L406.1 1033.9 L412.0 1034.0 L417.9 1033.9 L423.8 1033.9 L429.7 1033.7 L435.6 1033.6 L441.6 1033.3 L447.5 1033.0 L453.5 1032.6 L459.5 1032.2 L465.5 1031.7 L471.6 1031.1 L477.6 1030.5 L483.7 1029.8 L489.7 1029.0 L495.9 1028.2 L502.0 1027.3 L508.1 1026.3 L514.3 1025.3 L520.4 1024.2 L526.6 1023.0 L532.8 1021.8 L539.1 1020.5 L545.3 1019.1 L551.6 1017.7 L557.9 1016.3 L564.2 1014.8 L570.5 1013.2M300.0 1129.6 L304.1 1127.5 L308.2 1125.5 L312.3 1123.4 L316.3 1121.3 L320.4 1119.2 L324.4 1117.2 L328.4 1115.1 L332.4 1113.1 L336.4 1111.0 L340.4 1108.9 L344.4 1106.8 L348.3 1104.7 L352.2 1102.5 L356.1 1100.2 L360.0 1097.8 L363.9 1095.3 L367.8 1092.7 L371.7 1090.0 L375.5 1087.1 L379.3 1084.1 L383.2 1080.9 L387.0 1077.6 L390.8 1074.1 L394.6 1070.4 L398.3 1066.6 L402.1 1062.7 L405.9 1058.6 L409.6 1054.3 L413.3 1050.0 L417.0 1045.4 L420.8 1040.8 L424.5 1036.0 L428.1 1031.1 L431.8 1026.1 L435.5 1021.0 L439.2 1015.8 L442.8 1010.5 L446.4 1005.2 L450.1 999.7 L453.7 994.2 L457.3 988.6 L460.9 983.0 L464.5 977.3 L468.1 971.6 L471.7 965.8 L475.2 960.0 L478.8 954.1 L482.3 948.3 L485.9 942.4 L489.4 936.5 L492.9 930.5 L496.4 924.6 L499.9 918.7 L503.4 912.7 L506.9 906.8 L510.4 900.8 L513.8 894.9 L517.3 889.0 L520.7 883.1M236.9 1006.6 L242.3 1007.4 L247.7 1008.3 L253.2 1009.1 L258.7 1010.0 L264.1 1010.8 L269.6 1011.6 L275.1 1012.3 L280.6 1013.1 L286.2 1013.8 L291.7 1014.5 L297.2 1015.1 L302.8 1015.8 L308.4 1016.4 L314.0 1017.0 L319.6 1017.5 L325.2 1018.0 L330.8 1018.5 L336.5 1018.9 L342.1 1019.3 L347.8 1019.7 L353.5 1020.0 L359.2 1020.3 L364.9 1020.6 L370.6 1020.8 L376.4 1020.9 L382.1 1021.0 L387.9 1021.0 L393.7 1021.0 L399.5 1020.9 L405.3 1020.8 L411.1 1020.6 L417.0 1020.4 L422.8 1020.0 L428.7 1019.6 L434.6 1019.2 L440.5 1018.6 L446.4 1018.0 L452.4 1017.3 L458.3 1016.5 L464.3 1015.7 L470.3 1014.7 L476.3 1013.7 L482.3 1012.6 L488.4 1011.4 L494.5 1010.1 L500.5 1008.7 L506.6 1007.2 L512.8 1005.7 L518.9 1004.0 L525.0 1002.3 L531.2 1000.5 L537.4 998.5 L543.6 996.5 L549.9 994.5 L556.1 992.3 L562.4 990.1 L568.7 987.8 L575.0 985.4 L581.3 983.0M318.0 1133.7 L322.1 1131.6 L326.2 1129.5 L330.3 1127.4 L334.3 1125.3 L338.3 1123.2 L342.3 1121.2 L346.3 1119.1 L350.3 1117.0 L354.3 1115.0 L358.2 1112.9 L362.2 1110.7 L366.1 1108.5 L370.0 1106.3 L373.9 1103.9 L377.8 1101.5 L381.7 1098.9 L385.5 1096.2 L389.4 1093.3 L393.2 1090.3 L397.0 1087.1 L400.8 1083.8 L404.6 1080.3 L408.4 1076.6 L412.2 1072.7 L415.9 1068.6 L419.7 1064.4 L423.4 1060.0 L427.2 1055.4 L430.9 1050.7 L434.6 1045.8 L438.3 1040.8 L442.0 1035.6 L445.7 1030.3 L449.3 1024.8 L453.0 1019.3 L456.7 1013.6 L460.3 1007.9 L463.9 1002.0 L467.6 996.1 L471.2 990.0 L474.8 983.9 L478.4 977.8 L482.0 971.5 L485.5 965.3 L489.1 958.9 L492.7 952.6 L496.2 946.2 L499.8 939.7 L503.3 933.3 L506.8 926.8 L510.4 920.3 L513.9 913.8 L517.4 907.3 L520.9 900.7 L524.3 894.2 L527.8 887.7 L531.3 881.2 L534.7 874.7 L538.2 868.2M248.1 998.5 L253.5 999.3 L258.9 1000.1 L264.3 1000.8 L269.8 1001.6 L275.2 1002.3 L280.7 1003.0 L286.2 1003.6 L291.7 1004.3 L297.2 1004.9 L302.7 1005.4 L308.3 1006.0 L313.8 1006.5 L319.4 1006.9 L325.0 1007.3 L330.6 1007.7 L336.2 1008.1 L341.8 1008.4 L347.4 1008.6 L353.1 1008.8 L358.7 1009.0 L364.4 1009.1 L370.1 1009.1 L375.8 1009.1 L381.5 1009.1 L387.2 1008.9 L393.0 1008.8 L398.7 1008.5 L404.5 1008.2 L410.3 1007.8 L416.1 1007.3 L421.9 1006.7 L427.8 1006.1 L433.6 1005.4 L439.5 1004.6 L445.4 1003.7 L451.3 1002.7 L457.2 1001.6 L463.1 1000.4 L469.1 999.1 L475.0 997.7 L481.0 996.2 L487.0 994.6 L493.1 992.9 L499.1 991.0 L505.2 989.1 L511.3 987.0 L517.4 984.9 L523.5 982.6 L529.6 980.2 L535.8 977.7 L542.0 975.1 L548.2 972.3 L554.4 969.5 L560.6 966.6 L566.9 963.5 L573.2 960.4 L579.5 957.2 L585.8 953.9 L592.2 950.5M336.2 1137.8 L340.3 1135.7 L344.3 1133.6 L348.4 1131.5 L352.4 1129.4 L356.4 1127.3 L360.4 1125.2 L364.4 1123.1 L368.3 1121.0 L372.3 1118.9 L376.2 1116.8 L380.1 1114.6 L384.0 1112.4 L387.9 1110.1 L391.8 1107.7 L395.7 1105.2 L399.5 1102.5 L403.4 1099.7 L407.2 1096.7 L411.0 1093.5 L414.8 1090.2 L418.6 1086.6 L422.4 1082.9 L426.2 1078.9 L429.9 1074.8 L433.7 1070.4 L437.4 1065.9 L441.1 1061.1 L444.9 1056.2 L448.6 1051.0 L452.3 1045.7 L456.0 1040.3 L459.7 1034.6 L463.3 1028.9 L467.0 1022.9 L470.6 1016.9 L474.3 1010.7 L477.9 1004.4 L481.6 998.0 L485.2 991.5 L488.8 984.9 L492.4 978.2 L496.0 971.4 L499.6 964.6 L503.2 957.7 L506.7 950.8 L510.3 943.8 L513.9 936.7 L517.4 929.6 L520.9 922.5 L524.5 915.4 L528.0 908.2 L531.5 901.1 L535.0 893.9 L538.5 886.7 L542.0 879.5 L545.5 872.3 L548.9 865.2 L552.4 858.0 L555.9 850.8M259.1 990.2 L264.5 991.0 L269.9 991.7 L275.4 992.3 L280.8 993.0 L286.2 993.6 L291.7 994.2 L297.2 994.7 L302.7 995.2 L308.2 995.7 L313.7 996.2 L319.2 996.6 L324.7 996.9 L330.3 997.2 L335.9 997.5 L341.4 997.7 L347.0 997.9 L352.6 998.0 L358.2 998.0 L363.9 998.0 L369.5 997.9 L375.2 997.8 L380.9 997.6 L386.6 997.3 L392.3 997.0 L398.0 996.6 L403.7 996.1 L409.5 995.5 L415.2 994.9 L421.0 994.1 L426.8 993.3 L432.6 992.3 L438.4 991.3 L444.3 990.1 L450.2 988.9 L456.0 987.5 L461.9 986.0 L467.8 984.4 L473.8 982.7 L479.7 980.9 L485.7 978.9 L491.7 976.8 L497.7 974.6 L503.7 972.2 L509.8 969.7 L515.8 967.1 L521.9 964.3 L528.0 961.4 L534.1 958.4 L540.3 955.2 L546.5 951.8 L552.6 948.4 L558.9 944.8 L565.1 941.0 L571.3 937.2 L577.6 933.2 L583.9 929.1 L590.2 924.9 L596.6 920.6 L603.0 916.2M354.5 1141.9 L358.6 1139.8 L362.6 1137.7 L366.6 1135.5 L370.6 1133.4 L374.6 1131.3 L378.6 1129.2 L382.5 1127.1 L386.5 1125.0 L390.4 1122.9 L394.3 1120.7 L398.2 1118.5 L402.1 1116.3 L406.0 1113.9 L409.9 1111.5 L413.7 1108.8 L417.5 1106.1 L421.4 1103.1 L425.2 1100.0 L429.0 1096.7 L432.8 1093.1 L436.5 1089.4 L440.3 1085.4 L444.1 1081.1 L447.8 1076.7 L451.5 1072.0 L455.3 1067.1 L459.0 1061.9 L462.7 1056.6 L466.4 1051.0 L470.1 1045.3 L473.8 1039.3 L477.5 1033.2 L481.1 1026.9 L484.8 1020.4 L488.4 1013.8 L492.1 1007.0 L495.7 1000.1 L499.4 993.1 L503.0 985.9 L506.6 978.7 L510.2 971.3 L513.8 963.9 L517.4 956.4 L521.0 948.8 L524.5 941.1 L528.1 933.4 L531.7 925.7 L535.2 917.9 L538.8 910.0 L542.3 902.2 L545.8 894.3 L549.3 886.4 L552.9 878.4 L556.4 870.5 L559.9 862.6 L563.3 854.6 L566.8 846.7 L570.3 838.8 L573.8 830.9M270.1 981.9 L275.5 982.5 L280.9 983.1 L286.3 983.7 L291.7 984.3 L297.2 984.8 L302.6 985.3 L308.1 985.7 L313.5 986.1 L319.0 986.4 L324.5 986.7 L330.0 987.0 L335.6 987.2 L341.1 987.3 L346.6 987.4 L352.2 987.5 L357.8 987.4 L363.4 987.3 L369.0 987.2 L374.6 987.0 L380.2 986.7 L385.9 986.3 L391.6 985.8 L397.2 985.3 L402.9 984.7 L408.6 983.9 L414.4 983.1 L420.1 982.2 L425.9 981.2 L431.6 980.1 L437.4 978.9 L443.2 977.5 L449.1 976.0 L454.9 974.5 L460.8 972.7 L466.6 970.9 L472.5 968.9 L478.4 966.8 L484.4 964.5 L490.3 962.1 L496.3 959.5 L502.3 956.8 L508.3 953.9 L514.3 950.9 L520.3 947.7 L526.4 944.3 L532.5 940.8 L538.6 937.1 L544.7 933.2 L550.9 929.2 L557.1 925.0 L563.3 920.7 L569.5 916.1 L575.8 911.5 L582.0 906.6 L588.3 901.7 L594.6 896.5 L601.0 891.3 L607.3 885.9 L613.7 880.4M373.0 1146.1 L377.0 1143.9 L381.0 1141.8 L385.0 1139.7 L389.0 1137.5 L392.9 1135.4 L396.9 1133.3 L400.8 1131.2 L404.8 1129.1 L408.7 1126.9 L412.6 1124.7 L416.5 1122.5 L420.3 1120.2 L424.2 1117.8 L428.0 1115.2 L431.8 1112.5 L435.7 1109.7 L439.5 1106.6 L443.3 1103.3 L447.1 1099.8 L450.8 1096.0 L454.6 1092.0 L458.3 1087.7 L462.1 1083.2 L465.8 1078.4 L469.6 1073.3 L473.3 1068.0 L477.0 1062.4 L480.7 1056.6 L484.4 1050.6 L488.1 1044.3 L491.7 1037.8 L495.4 1031.1 L499.1 1024.2 L502.7 1017.1 L506.4 1009.9 L510.0 1002.5 L513.7 994.9 L517.3 987.2 L520.9 979.3 L524.5 971.3 L528.2 963.3 L531.8 955.1 L535.4 946.8 L538.9 938.4 L542.5 930.0 L546.1 921.5 L549.7 913.0 L553.2 904.4 L556.8 895.7 L560.3 887.0 L563.9 878.3 L567.4 869.6 L570.9 860.8 L574.4 852.1 L577.9 843.3 L581.4 834.5 L584.9 825.8 L588.4 817.0 L591.9 808.2M281.0 973.4 L286.3 974.0 L291.7 974.6 L297.1 975.1 L302.5 975.5 L308.0 975.9 L313.4 976.3 L318.8 976.6 L324.3 976.9 L329.8 977.1 L335.3 977.2 L340.8 977.3 L346.3 977.4 L351.8 977.4 L357.3 977.3 L362.9 977.1 L368.5 976.9 L374.0 976.6 L379.6 976.2 L385.3 975.8 L390.9 975.2 L396.5 974.6 L402.2 973.9 L407.8 973.0 L413.5 972.1 L419.2 971.1 L424.9 969.9 L430.7 968.7 L436.4 967.3 L442.2 965.8 L448.0 964.2 L453.8 962.4 L459.6 960.5 L465.4 958.5 L471.3 956.3 L477.1 953.9 L483.0 951.4 L488.9 948.8 L494.9 945.9 L500.8 942.9 L506.8 939.7 L512.8 936.3 L518.8 932.8 L524.8 929.1 L530.9 925.1 L536.9 921.0 L543.0 916.7 L549.2 912.2 L555.3 907.5 L561.5 902.6 L567.7 897.5 L573.9 892.2 L580.1 886.7 L586.4 881.0 L592.7 875.2 L599.0 869.2 L605.3 863.0 L611.7 856.7 L618.1 850.2 L624.5 843.6M391.5 1150.3 L395.5 1148.1 L399.5 1146.0 L403.5 1143.8 L407.5 1141.7 L411.4 1139.5 L415.4 1137.4 L419.3 1135.3 L423.2 1133.1 L427.1 1131.0 L430.9 1128.8 L434.8 1126.5 L438.7 1124.1 L442.5 1121.7 L446.3 1119.0 L450.1 1116.2 L453.9 1113.2 L457.7 1110.0 L461.5 1106.6 L465.3 1102.8 L469.0 1098.8 L472.8 1094.5 L476.5 1090.0 L480.3 1085.1 L484.0 1079.9 L487.7 1074.5 L491.4 1068.7 L495.1 1062.7 L498.8 1056.3 L502.5 1049.8 L506.2 1042.9 L509.9 1035.8 L513.5 1028.5 L517.2 1021.0 L520.9 1013.2 L524.5 1005.3 L528.2 997.1 L531.8 988.8 L535.4 980.3 L539.1 971.7 L542.7 962.9 L546.3 954.0 L549.9 945.0 L553.5 935.9 L557.1 926.7 L560.7 917.4 L564.3 908.0 L567.9 898.6 L571.4 889.1 L575.0 879.5 L578.6 869.9 L582.1 860.3 L585.7 850.7 L589.2 841.0 L592.7 831.3 L596.3 821.6 L599.8 811.9 L603.3 802.2 L606.8 792.5 L610.3 782.8M291.7 965.0 L297.1 965.5 L302.5 965.9 L307.9 966.3 L313.3 966.7 L318.7 967.0 L324.1 967.2 L329.5 967.4 L335.0 967.6 L340.4 967.7 L345.9 967.7 L351.4 967.6 L356.9 967.5 L362.4 967.3 L367.9 967.0 L373.5 966.7 L379.0 966.3 L384.6 965.8 L390.2 965.2 L395.8 964.5 L401.4 963.7 L407.0 962.8 L412.7 961.8 L418.3 960.7 L424.0 959.5 L429.7 958.1 L435.4 956.6 L441.1 955.0 L446.9 953.3 L452.6 951.4 L458.4 949.4 L464.2 947.2 L470.0 944.8 L475.8 942.3 L481.7 939.6 L487.6 936.8 L493.5 933.7 L499.4 930.5 L505.3 927.1 L511.2 923.4 L517.2 919.6 L523.2 915.6 L529.2 911.3 L535.2 906.9 L541.3 902.2 L547.4 897.3 L553.5 892.2 L559.6 886.8 L565.8 881.2 L572.0 875.4 L578.2 869.4 L584.4 863.2 L590.7 856.7 L596.9 850.1 L603.2 843.2 L609.6 836.1 L616.0 828.8 L622.3 821.4 L628.8 813.8 L635.2 806.0M410.2 1154.5 L414.2 1152.3 L418.2 1150.2 L422.2 1148.0 L426.1 1145.8 L430.0 1143.7 L433.9 1141.5 L437.8 1139.4 L441.7 1137.2 L445.6 1135.0 L449.5 1132.8 L453.3 1130.5 L457.1 1128.1 L460.9 1125.5 L464.8 1122.8 L468.5 1119.9 L472.3 1116.8 L476.1 1113.4 L479.9 1109.8 L483.6 1105.8 L487.4 1101.6 L491.1 1097.0 L494.8 1092.1 L498.6 1086.8 L502.3 1081.3 L506.0 1075.4 L509.7 1069.1 L513.4 1062.6 L517.1 1055.7 L520.8 1048.5 L524.5 1041.1 L528.1 1033.4 L531.8 1025.4 L535.5 1017.1 L539.1 1008.6 L542.8 999.9 L546.4 991.0 L550.1 981.8 L553.7 972.5 L557.4 963.0 L561.0 953.4 L564.6 943.6 L568.3 933.7 L571.9 923.7 L575.5 913.5 L579.1 903.3 L582.7 893.0 L586.3 882.6 L589.9 872.1 L593.5 861.5 L597.0 851.0 L600.6 840.3 L604.2 829.7 L607.7 819.0 L611.3 808.3 L614.8 797.6 L618.4 786.9 L621.9 776.2 L625.4 765.4 L628.9 754.7M302.4 956.5 L307.8 956.9 L313.1 957.3 L318.5 957.6 L323.9 957.9 L329.3 958.1 L334.7 958.2 L340.1 958.3 L345.5 958.3 L351.0 958.2 L356.5 958.1 L361.9 957.9 L367.4 957.6 L372.9 957.3 L378.4 956.8 L384.0 956.3 L389.5 955.6 L395.1 954.9 L400.7 954.1 L406.2 953.2 L411.9 952.1 L417.5 951.0 L423.1 949.7 L428.8 948.3 L434.4 946.7 L440.1 945.1 L445.8 943.3 L451.5 941.3 L457.3 939.2 L463.0 936.9 L468.8 934.5 L474.6 931.8 L480.4 929.0 L486.2 926.0 L492.0 922.9 L497.9 919.5 L503.8 915.9 L509.7 912.1 L515.6 908.1 L521.6 903.8 L527.6 899.3 L533.6 894.6 L539.6 889.7 L545.6 884.5 L551.7 879.1 L557.8 873.4 L563.9 867.4 L570.0 861.2 L576.2 854.8 L582.4 848.1 L588.6 841.1 L594.9 833.9 L601.1 826.4 L607.5 818.7 L613.8 810.8 L620.1 802.6 L626.5 794.2 L633.0 785.7 L639.4 776.9 L645.9 767.9M429.1 1158.8 L433.1 1156.6 L437.0 1154.4 L441.0 1152.2 L444.9 1150.0 L448.8 1147.8 L452.7 1145.7 L456.6 1143.5 L460.4 1141.3 L464.3 1139.1 L468.1 1136.9 L471.9 1134.5 L475.7 1132.1 L479.5 1129.5 L483.3 1126.7 L487.1 1123.7 L490.9 1120.4 L494.6 1116.8 L498.4 1113.0 L502.1 1108.8 L505.8 1104.3 L509.6 1099.4 L513.3 1094.1 L517.0 1088.5 L520.7 1082.5 L524.4 1076.1 L528.1 1069.3 L531.8 1062.2 L535.5 1054.8 L539.2 1047.0 L542.9 1038.9 L546.6 1030.4 L550.2 1021.7 L553.9 1012.7 L557.6 1003.4 L561.2 993.9 L564.9 984.1 L568.6 974.1 L572.2 963.9 L575.9 953.5 L579.5 942.9 L583.1 932.2 L586.8 921.3 L590.4 910.2 L594.0 899.1 L597.7 887.8 L601.3 876.5 L604.9 865.0 L608.5 853.5 L612.1 841.9 L615.7 830.2 L619.3 818.5 L622.9 806.8 L626.5 795.0 L630.1 783.2 L633.7 771.4 L637.2 759.6 L640.8 747.7 L644.3 735.9 L647.9 724.1M313.0 948.1 L318.3 948.4 L323.7 948.7 L329.0 948.9 L334.4 949.1 L339.8 949.2 L345.2 949.2 L350.6 949.1 L356.0 949.0 L361.5 948.8 L366.9 948.5 L372.4 948.2 L377.9 947.7 L383.4 947.2 L388.9 946.6 L394.4 945.9 L399.9 945.0 L405.5 944.1 L411.0 943.0 L416.6 941.9 L422.2 940.6 L427.8 939.1 L433.4 937.6 L439.1 935.9 L444.7 934.0 L450.4 932.1 L456.1 929.9 L461.8 927.6 L467.5 925.1 L473.3 922.4 L479.1 919.5 L484.8 916.5 L490.6 913.2 L496.5 909.8 L502.3 906.1 L508.2 902.2 L514.1 898.0 L520.0 893.6 L525.9 889.0 L531.9 884.2 L537.8 879.0 L543.8 873.6 L549.9 868.0 L555.9 862.1 L562.0 855.8 L568.1 849.4 L574.2 842.6 L580.4 835.5 L586.6 828.2 L592.8 820.6 L599.0 812.6 L605.3 804.4 L611.6 796.0 L617.9 787.2 L624.3 778.2 L630.7 769.0 L637.1 759.5 L643.5 749.7 L650.0 739.8 L656.5 729.6M448.1 1163.1 L452.0 1160.8 L456.0 1158.6 L459.9 1156.4 L463.8 1154.2 L467.7 1152.1 L471.6 1149.9 L475.4 1147.7 L479.3 1145.5 L483.1 1143.3 L486.9 1141.0 L490.7 1138.6 L494.5 1136.1 L498.3 1133.4 L502.0 1130.5 L505.8 1127.4 L509.5 1124.0 L513.3 1120.2 L517.0 1116.2 L520.7 1111.7 L524.5 1106.9 L528.2 1101.7 L531.9 1096.0 L535.6 1090.0 L539.3 1083.5 L543.0 1076.6 L546.7 1069.3 L550.4 1061.6 L554.1 1053.6 L557.8 1045.1 L561.5 1036.3 L565.1 1027.1 L568.8 1017.6 L572.5 1007.8 L576.2 997.6 L579.9 987.2 L583.5 976.6 L587.2 965.6 L590.9 954.5 L594.5 943.1 L598.2 931.5 L601.9 919.8 L605.5 907.8 L609.2 895.8 L612.8 883.5 L616.5 871.2 L620.1 858.7 L623.8 846.1 L627.4 833.5 L631.0 820.7 L634.7 807.9 L638.3 795.1 L641.9 782.2 L645.5 769.2 L649.1 756.3 L652.7 743.3 L656.3 730.3 L659.9 717.3 L663.5 704.3 L667.1 691.3M323.5 939.7 L328.8 940.0 L334.1 940.1 L339.5 940.3 L344.8 940.3 L350.2 940.3 L355.6 940.2 L361.0 940.1 L366.4 939.8 L371.8 939.5 L377.3 939.0 L382.7 938.5 L388.2 937.9 L393.7 937.2 L399.2 936.4 L404.7 935.5 L410.2 934.5 L415.8 933.3 L421.3 932.0 L426.9 930.6 L432.5 929.1 L438.1 927.4 L443.7 925.5 L449.3 923.6 L455.0 921.4 L460.6 919.1 L466.3 916.6 L472.0 913.9 L477.8 911.0 L483.5 908.0 L489.3 904.7 L495.0 901.2 L500.8 897.5 L506.7 893.5 L512.5 889.3 L518.4 884.9 L524.3 880.2 L530.2 875.3 L536.1 870.0 L542.1 864.5 L548.0 858.8 L554.0 852.7 L560.1 846.3 L566.1 839.7 L572.2 832.7 L578.3 825.4 L584.5 817.8 L590.7 809.9 L596.9 801.6 L603.1 793.1 L609.3 784.2 L615.6 775.0 L622.0 765.5 L628.3 755.7 L634.7 745.7 L641.1 735.3 L647.6 724.6 L654.1 713.7 L660.6 702.6 L667.1 691.3" stroke="#16167a" stroke-opacity="0.9" stroke-width="1.7" fill="none" stroke-linejoin="round" mask="url(#mkBTS)"/>
<g clip-path="url(#crBTS)"><path d="M93.5 1083.0 L97.8 1081.1 L102.1 1079.2 L106.4 1077.3 L110.6 1075.4 L114.9 1073.5 L119.1 1071.6 L123.3 1069.7 L127.5 1067.8 L131.7 1066.0 L135.9 1064.1 L140.0 1062.2 L144.2 1060.3 L148.3 1058.4 L152.4 1056.5 L156.5 1054.5 L160.5 1052.6 L164.6 1050.5 L168.7 1048.5 L172.7 1046.4 L176.7 1044.3 L180.7 1042.1 L184.7 1039.9 L188.7 1037.7 L192.6 1035.4 L196.6 1033.1 L200.5 1030.7 L204.5 1028.3 L208.4 1025.8 L212.3 1023.3 L216.1 1020.8 L220.0 1018.2 L223.9 1015.6 L227.7 1013.0 L231.5 1010.3 L235.4 1007.6 L239.2 1004.9 L243.0 1002.2 L246.7 999.4 L250.5 996.7 L254.3 993.9 L258.0 991.1 L261.7 988.2 L265.5 985.4 L269.2 982.6 L272.9 979.7 L276.6 976.9 L280.2 974.0 L283.9 971.1 L287.5 968.3 L291.2 965.4 L294.8 962.5 L298.4 959.7 L302.0 956.8 L305.6 953.9 L309.2 951.1 L312.8 948.2 L316.4 945.4 L319.9 942.5 L323.5 939.7M93.5 1083.0 L99.1 1084.3 L104.7 1085.5 L110.4 1086.8 L116.0 1088.1 L121.6 1089.4 L127.3 1090.6 L133.0 1091.9 L138.7 1093.2 L144.4 1094.5 L150.1 1095.8 L155.8 1097.1 L161.5 1098.4 L167.3 1099.7 L173.1 1101.0 L178.9 1102.3 L184.7 1103.6 L190.5 1104.9 L196.3 1106.2 L202.1 1107.5 L208.0 1108.9 L213.9 1110.2 L219.7 1111.5 L225.6 1112.8 L231.6 1114.2 L237.5 1115.5 L243.4 1116.9 L249.4 1118.2 L255.4 1119.5 L261.3 1120.9 L267.3 1122.3 L273.4 1123.6 L279.4 1125.0 L285.4 1126.3 L291.5 1127.7 L297.6 1129.1 L303.7 1130.5 L309.8 1131.8 L315.9 1133.2 L322.0 1134.6 L328.2 1136.0 L334.4 1137.4 L340.5 1138.8 L346.7 1140.2 L353.0 1141.6 L359.2 1143.0 L365.4 1144.4 L371.7 1145.8 L378.0 1147.2 L384.3 1148.7 L390.6 1150.1 L396.9 1151.5 L403.2 1152.9 L409.6 1154.4 L416.0 1155.8 L422.4 1157.3 L428.8 1158.7 L435.2 1160.2 L441.6 1161.6 L448.1 1163.1M110.1 1086.7 L114.4 1084.8 L118.6 1082.9 L122.9 1081.0 L127.1 1079.1 L131.4 1077.1 L135.6 1075.2 L139.8 1073.4 L143.9 1071.5 L148.1 1069.6 L152.3 1067.7 L156.4 1065.8 L160.5 1063.9 L164.6 1062.0 L168.7 1060.0 L172.8 1058.0 L176.9 1056.0 L180.9 1054.0 L184.9 1051.9 L189.0 1049.8 L193.0 1047.7 L197.0 1045.5 L200.9 1043.2 L204.9 1041.0 L208.8 1038.6 L212.8 1036.2 L216.7 1033.8 L220.6 1031.4 L224.5 1028.8 L228.4 1026.3 L232.3 1023.7 L236.1 1021.1 L239.9 1018.4 L243.8 1015.7 L247.6 1013.0 L251.4 1010.2 L255.2 1007.4 L259.0 1004.6 L262.7 1001.8 L266.5 998.9 L270.2 996.1 L274.0 993.2 L277.7 990.3 L281.4 987.4 L285.1 984.4 L288.8 981.5 L292.5 978.6 L296.1 975.6 L299.8 972.7 L303.4 969.7 L307.0 966.8 L310.7 963.8 L314.3 960.8 L317.9 957.9 L321.4 954.9 L325.0 952.0 L328.6 949.1 L332.1 946.1 L335.7 943.2 L339.2 940.3M106.2 1077.4 L111.8 1078.6 L117.4 1079.9 L123.0 1081.1 L128.6 1082.4 L134.2 1083.6 L139.9 1084.9 L145.5 1086.2 L151.2 1087.4 L156.9 1088.7 L162.6 1090.0 L168.3 1091.3 L174.0 1092.6 L179.7 1093.8 L185.5 1095.1 L191.3 1096.4 L197.1 1097.7 L202.9 1099.0 L208.7 1100.3 L214.5 1101.6 L220.3 1102.9 L226.2 1104.2 L232.0 1105.6 L237.9 1106.9 L243.8 1108.2 L249.7 1109.5 L255.7 1110.8 L261.6 1112.2 L267.6 1113.5 L273.5 1114.8 L279.5 1116.2 L285.5 1117.5 L291.5 1118.9 L297.6 1120.2 L303.6 1121.6 L309.7 1122.9 L315.7 1124.3 L321.8 1125.7 L327.9 1127.0 L334.0 1128.4 L340.2 1129.8 L346.3 1131.2 L352.5 1132.5 L358.7 1133.9 L364.9 1135.3 L371.1 1136.7 L377.3 1138.1 L383.5 1139.5 L389.8 1140.9 L396.1 1142.3 L402.4 1143.7 L408.7 1145.1 L415.0 1146.5 L421.3 1148.0 L427.7 1149.4 L434.1 1150.8 L440.4 1152.2 L446.8 1153.7 L453.3 1155.1 L459.7 1156.5M126.7 1090.5 L131.0 1088.6 L135.3 1086.6 L139.5 1084.7 L143.7 1082.8 L147.9 1080.8 L152.1 1078.9 L156.3 1077.0 L160.5 1075.1 L164.6 1073.2 L168.8 1071.3 L172.9 1069.4 L177.0 1067.5 L181.1 1065.5 L185.2 1063.6 L189.2 1061.6 L193.3 1059.6 L197.3 1057.5 L201.3 1055.4 L205.3 1053.3 L209.3 1051.1 L213.3 1048.8 L217.3 1046.5 L221.2 1044.2 L225.1 1041.8 L229.1 1039.4 L233.0 1036.9 L236.9 1034.4 L240.7 1031.8 L244.6 1029.2 L248.5 1026.5 L252.3 1023.8 L256.1 1021.1 L260.0 1018.3 L263.8 1015.5 L267.6 1012.6 L271.3 1009.8 L275.1 1006.9 L278.9 1003.9 L282.6 1001.0 L286.3 998.0 L290.0 995.0 L293.8 992.0 L297.5 989.0 L301.1 986.0 L304.8 983.0 L308.5 979.9 L312.1 976.9 L315.8 973.8 L319.4 970.7 L323.0 967.7 L326.6 964.6 L330.2 961.6 L333.8 958.5 L337.4 955.4 L340.9 952.4 L344.5 949.3 L348.0 946.3 L351.5 943.3 L355.1 940.2M118.7 1071.8 L124.3 1073.0 L129.8 1074.3 L135.4 1075.5 L141.0 1076.7 L146.6 1078.0 L152.3 1079.2 L157.9 1080.5 L163.6 1081.8 L169.2 1083.0 L174.9 1084.3 L180.6 1085.5 L186.3 1086.8 L192.1 1088.1 L197.8 1089.4 L203.6 1090.6 L209.3 1091.9 L215.1 1093.2 L220.9 1094.5 L226.7 1095.8 L232.5 1097.1 L238.4 1098.4 L244.2 1099.7 L250.1 1101.0 L256.0 1102.3 L261.9 1103.6 L267.8 1104.9 L273.7 1106.2 L279.6 1107.5 L285.6 1108.9 L291.5 1110.2 L297.5 1111.5 L303.5 1112.8 L309.5 1114.2 L315.6 1115.5 L321.6 1116.9 L327.7 1118.2 L333.7 1119.6 L339.8 1120.9 L345.9 1122.3 L352.0 1123.6 L358.2 1125.0 L364.3 1126.3 L370.5 1127.7 L376.6 1129.1 L382.8 1130.5 L389.0 1131.8 L395.3 1133.2 L401.5 1134.6 L407.8 1136.0 L414.0 1137.4 L420.3 1138.8 L426.6 1140.2 L432.9 1141.6 L439.3 1143.0 L445.6 1144.4 L452.0 1145.8 L458.4 1147.2 L464.8 1148.7 L471.2 1150.1M143.5 1094.3 L147.8 1092.3 L152.0 1090.4 L156.2 1088.4 L160.4 1086.5 L164.6 1084.6 L168.8 1082.6 L173.0 1080.7 L177.1 1078.8 L181.3 1076.9 L185.4 1075.0 L189.5 1073.0 L193.6 1071.1 L197.7 1069.1 L201.7 1067.1 L205.8 1065.1 L209.8 1063.1 L213.8 1061.0 L217.8 1058.9 L221.8 1056.7 L225.8 1054.4 L229.8 1052.2 L233.7 1049.8 L237.6 1047.4 L241.6 1045.0 L245.5 1042.5 L249.4 1039.9 L253.2 1037.3 L257.1 1034.7 L261.0 1032.0 L264.8 1029.2 L268.6 1026.4 L272.4 1023.6 L276.2 1020.7 L280.0 1017.8 L283.8 1014.9 L287.6 1011.9 L291.3 1008.9 L295.1 1005.8 L298.8 1002.8 L302.5 999.7 L306.2 996.6 L309.9 993.5 L313.6 990.3 L317.3 987.2 L320.9 984.0 L324.6 980.9 L328.2 977.7 L331.9 974.5 L335.5 971.3 L339.1 968.1 L342.7 964.9 L346.2 961.7 L349.8 958.6 L353.4 955.4 L356.9 952.2 L360.5 949.0 L364.0 945.8 L367.5 942.7 L371.0 939.5M131.1 1066.2 L136.6 1067.5 L142.2 1068.7 L147.8 1069.9 L153.3 1071.1 L159.0 1072.4 L164.6 1073.6 L170.2 1074.9 L175.8 1076.1 L181.5 1077.3 L187.2 1078.6 L192.8 1079.9 L198.5 1081.1 L204.3 1082.4 L210.0 1083.6 L215.7 1084.9 L221.5 1086.2 L227.2 1087.4 L233.0 1088.7 L238.8 1090.0 L244.6 1091.3 L250.4 1092.5 L256.3 1093.8 L262.1 1095.1 L268.0 1096.4 L273.8 1097.7 L279.7 1099.0 L285.6 1100.3 L291.6 1101.6 L297.5 1102.9 L303.4 1104.2 L309.4 1105.5 L315.4 1106.8 L321.4 1108.2 L327.4 1109.5 L333.4 1110.8 L339.4 1112.1 L345.5 1113.5 L351.6 1114.8 L357.6 1116.1 L363.7 1117.5 L369.9 1118.8 L376.0 1120.2 L382.1 1121.5 L388.3 1122.9 L394.5 1124.2 L400.6 1125.6 L406.8 1127.0 L413.1 1128.3 L419.3 1129.7 L425.5 1131.1 L431.8 1132.5 L438.1 1133.8 L444.4 1135.2 L450.7 1136.6 L457.0 1138.0 L463.4 1139.4 L469.7 1140.8 L476.1 1142.2 L482.5 1143.6M160.4 1098.1 L164.6 1096.1 L168.9 1094.2 L173.1 1092.2 L177.3 1090.2 L181.4 1088.3 L185.6 1086.4 L189.8 1084.4 L193.9 1082.5 L198.0 1080.6 L202.1 1078.6 L206.2 1076.7 L210.3 1074.7 L214.4 1072.7 L218.4 1070.7 L222.4 1068.7 L226.5 1066.6 L230.5 1064.5 L234.4 1062.3 L238.4 1060.1 L242.4 1057.8 L246.3 1055.5 L250.3 1053.1 L254.2 1050.6 L258.1 1048.1 L262.0 1045.5 L265.9 1042.9 L269.7 1040.2 L273.6 1037.5 L277.4 1034.7 L281.2 1031.8 L285.1 1028.9 L288.9 1026.0 L292.6 1023.0 L296.4 1019.9 L300.2 1016.9 L303.9 1013.8 L307.7 1010.6 L311.4 1007.5 L315.1 1004.3 L318.8 1001.1 L322.5 997.8 L326.2 994.6 L329.9 991.3 L333.5 988.0 L337.2 984.7 L340.8 981.4 L344.4 978.0 L348.1 974.7 L351.7 971.4 L355.3 968.0 L358.8 964.7 L362.4 961.4 L366.0 958.0 L369.5 954.7 L373.1 951.3 L376.6 948.0 L380.1 944.7 L383.6 941.4 L387.1 938.1M143.3 1060.7 L148.9 1061.9 L154.4 1063.1 L160.0 1064.3 L165.5 1065.5 L171.1 1066.8 L176.7 1068.0 L182.3 1069.2 L188.0 1070.4 L193.6 1071.7 L199.3 1072.9 L204.9 1074.1 L210.6 1075.4 L216.3 1076.6 L222.0 1077.9 L227.7 1079.1 L233.5 1080.3 L239.2 1081.6 L245.0 1082.9 L250.8 1084.1 L256.6 1085.4 L262.4 1086.6 L268.2 1087.9 L274.0 1089.2 L279.9 1090.4 L285.7 1091.7 L291.6 1093.0 L297.5 1094.3 L303.4 1095.5 L309.3 1096.8 L315.2 1098.1 L321.2 1099.4 L327.1 1100.7 L333.1 1102.0 L339.1 1103.3 L345.1 1104.6 L351.1 1105.9 L357.2 1107.2 L363.2 1108.5 L369.3 1109.8 L375.3 1111.1 L381.4 1112.4 L387.5 1113.8 L393.7 1115.1 L399.8 1116.4 L406.0 1117.7 L412.1 1119.1 L418.3 1120.4 L424.5 1121.7 L430.7 1123.1 L437.0 1124.4 L443.2 1125.7 L449.5 1127.1 L455.7 1128.4 L462.0 1129.8 L468.3 1131.1 L474.7 1132.5 L481.0 1133.9 L487.4 1135.2 L493.7 1136.6M177.4 1101.9 L181.6 1100.0 L185.8 1098.0 L190.0 1096.0 L194.2 1094.0 L198.4 1092.1 L202.5 1090.1 L206.7 1088.2 L210.8 1086.2 L214.9 1084.3 L219.0 1082.3 L223.1 1080.4 L227.1 1078.4 L231.2 1076.4 L235.2 1074.4 L239.2 1072.3 L243.2 1070.2 L247.2 1068.0 L251.2 1065.8 L255.1 1063.5 L259.1 1061.2 L263.0 1058.8 L266.9 1056.3 L270.8 1053.8 L274.7 1051.2 L278.6 1048.5 L282.5 1045.8 L286.3 1043.0 L290.2 1040.2 L294.0 1037.2 L297.8 1034.3 L301.6 1031.2 L305.4 1028.2 L309.2 1025.0 L312.9 1021.9 L316.7 1018.7 L320.4 1015.4 L324.1 1012.1 L327.9 1008.8 L331.6 1005.4 L335.3 1002.1 L338.9 998.7 L342.6 995.2 L346.3 991.8 L349.9 988.3 L353.5 984.9 L357.2 981.4 L360.8 977.9 L364.4 974.4 L368.0 970.8 L371.6 967.3 L375.1 963.8 L378.7 960.3 L382.2 956.8 L385.8 953.2 L389.3 949.7 L392.8 946.2 L396.3 942.7 L399.8 939.2 L403.3 935.7M155.4 1055.0 L161.0 1056.2 L166.5 1057.4 L172.0 1058.6 L177.6 1059.8 L183.2 1061.0 L188.8 1062.2 L194.4 1063.4 L200.0 1064.6 L205.6 1065.8 L211.2 1067.0 L216.9 1068.2 L222.6 1069.5 L228.2 1070.7 L233.9 1071.9 L239.6 1073.1 L245.4 1074.3 L251.1 1075.6 L256.8 1076.8 L262.6 1078.0 L268.4 1079.2 L274.2 1080.5 L280.0 1081.7 L285.8 1083.0 L291.6 1084.2 L297.4 1085.4 L303.3 1086.7 L309.2 1087.9 L315.1 1089.2 L321.0 1090.4 L326.9 1091.6 L332.8 1092.9 L338.7 1094.1 L344.7 1095.4 L350.7 1096.6 L356.7 1097.9 L362.7 1099.1 L368.7 1100.4 L374.7 1101.7 L380.8 1102.9 L386.8 1104.2 L392.9 1105.4 L399.0 1106.7 L405.1 1107.9 L411.2 1109.2 L417.3 1110.5 L423.5 1111.7 L429.7 1113.0 L435.8 1114.2 L442.0 1115.5 L448.2 1116.8 L454.5 1118.0 L460.7 1119.3 L467.0 1120.6 L473.2 1121.8 L479.5 1123.1 L485.8 1124.4 L492.2 1125.6 L498.5 1126.9 L504.9 1128.2M194.5 1105.8 L198.8 1103.8 L202.9 1101.8 L207.1 1099.8 L211.3 1097.8 L215.4 1095.9 L219.6 1093.9 L223.7 1091.9 L227.8 1090.0 L231.9 1088.0 L236.0 1086.1 L240.0 1084.1 L244.1 1082.1 L248.1 1080.1 L252.1 1078.0 L256.1 1075.9 L260.1 1073.7 L264.1 1071.5 L268.0 1069.3 L272.0 1066.9 L275.9 1064.5 L279.8 1062.1 L283.7 1059.5 L287.6 1056.9 L291.5 1054.2 L295.3 1051.4 L299.2 1048.6 L303.0 1045.7 L306.9 1042.7 L310.7 1039.7 L314.5 1036.6 L318.3 1033.4 L322.0 1030.2 L325.8 1026.9 L329.5 1023.6 L333.3 1020.2 L337.0 1016.8 L340.7 1013.3 L344.4 1009.8 L348.1 1006.2 L351.8 1002.7 L355.5 999.1 L359.1 995.5 L362.8 991.8 L366.4 988.2 L370.0 984.5 L373.6 980.8 L377.2 977.1 L380.8 973.4 L384.4 969.6 L388.0 965.9 L391.5 962.2 L395.1 958.5 L398.6 954.7 L402.2 951.0 L405.7 947.3 L409.2 943.5 L412.7 939.8 L416.2 936.1 L419.6 932.4M167.4 1049.1 L173.0 1050.3 L178.5 1051.5 L184.0 1052.6 L189.5 1053.8 L195.1 1055.0 L200.7 1056.2 L206.3 1057.3 L211.9 1058.5 L217.5 1059.7 L223.1 1060.9 L228.7 1062.0 L234.4 1063.2 L240.0 1064.4 L245.7 1065.6 L251.4 1066.8 L257.1 1067.9 L262.8 1069.1 L268.6 1070.3 L274.3 1071.5 L280.1 1072.7 L285.8 1073.9 L291.6 1075.0 L297.4 1076.2 L303.2 1077.4 L309.1 1078.6 L314.9 1079.8 L320.8 1080.9 L326.6 1082.1 L332.5 1083.3 L338.4 1084.5 L344.3 1085.6 L350.2 1086.8 L356.2 1088.0 L362.1 1089.2 L368.1 1090.3 L374.1 1091.5 L380.1 1092.6 L386.1 1093.8 L392.1 1095.0 L398.2 1096.1 L404.2 1097.3 L410.3 1098.4 L416.4 1099.5 L422.5 1100.7 L428.6 1101.8 L434.8 1103.0 L440.9 1104.1 L447.1 1105.2 L453.2 1106.3 L459.4 1107.5 L465.6 1108.6 L471.9 1109.7 L478.1 1110.8 L484.4 1111.9 L490.6 1113.0 L496.9 1114.1 L503.2 1115.2 L509.6 1116.3 L515.9 1117.4M211.8 1109.7 L216.0 1107.7 L220.2 1105.7 L224.3 1103.7 L228.5 1101.7 L232.6 1099.7 L236.7 1097.7 L240.8 1095.7 L244.9 1093.8 L249.0 1091.8 L253.1 1089.8 L257.1 1087.8 L261.1 1085.8 L265.1 1083.7 L269.1 1081.6 L273.1 1079.5 L277.1 1077.3 L281.1 1075.1 L285.0 1072.7 L288.9 1070.3 L292.8 1067.9 L296.7 1065.3 L300.6 1062.7 L304.5 1060.0 L308.4 1057.2 L312.2 1054.3 L316.0 1051.3 L319.9 1048.3 L323.7 1045.1 L327.5 1041.9 L331.3 1038.7 L335.0 1035.3 L338.8 1031.9 L342.5 1028.5 L346.3 1025.0 L350.0 1021.4 L353.7 1017.8 L357.4 1014.1 L361.1 1010.4 L364.8 1006.6 L368.5 1002.8 L372.1 999.0 L375.8 995.2 L379.4 991.3 L383.0 987.4 L386.6 983.5 L390.2 979.6 L393.8 975.6 L397.4 971.7 L401.0 967.7 L404.5 963.7 L408.1 959.7 L411.6 955.8 L415.1 951.8 L418.7 947.8 L422.2 943.8 L425.7 939.9 L429.2 935.9 L432.6 931.9 L436.1 928.0M179.3 1042.9 L184.8 1044.0 L190.3 1045.2 L195.8 1046.3 L201.4 1047.5 L206.9 1048.6 L212.5 1049.7 L218.0 1050.9 L223.6 1052.0 L229.2 1053.1 L234.8 1054.3 L240.4 1055.4 L246.1 1056.5 L251.7 1057.7 L257.4 1058.8 L263.1 1059.9 L268.7 1061.0 L274.5 1062.2 L280.2 1063.3 L285.9 1064.4 L291.6 1065.5 L297.4 1066.6 L303.2 1067.7 L308.9 1068.8 L314.7 1069.9 L320.6 1071.0 L326.4 1072.1 L332.2 1073.2 L338.1 1074.2 L343.9 1075.3 L349.8 1076.4 L355.7 1077.4 L361.6 1078.5 L367.6 1079.5 L373.5 1080.6 L379.4 1081.6 L385.4 1082.6 L391.4 1083.6 L397.4 1084.6 L403.4 1085.6 L409.4 1086.6 L415.5 1087.6 L421.5 1088.6 L427.6 1089.5 L433.7 1090.5 L439.8 1091.4 L445.9 1092.3 L452.0 1093.3 L458.2 1094.2 L464.4 1095.1 L470.5 1095.9 L476.7 1096.8 L482.9 1097.7 L489.2 1098.6 L495.4 1099.4 L501.7 1100.2 L508.0 1101.1 L514.2 1101.9 L520.6 1102.7 L526.9 1103.6M229.2 1113.6 L233.4 1111.6 L237.5 1109.6 L241.7 1107.6 L245.8 1105.6 L249.9 1103.6 L254.0 1101.6 L258.1 1099.6 L262.2 1097.6 L266.2 1095.6 L270.3 1093.6 L274.3 1091.6 L278.3 1089.5 L282.3 1087.4 L286.3 1085.3 L290.3 1083.1 L294.2 1080.9 L298.2 1078.6 L302.1 1076.2 L306.0 1073.7 L309.9 1071.2 L313.8 1068.5 L317.7 1065.8 L321.5 1063.0 L325.4 1060.0 L329.2 1057.0 L333.0 1053.9 L336.8 1050.7 L340.6 1047.4 L344.4 1044.0 L348.2 1040.6 L351.9 1037.0 L355.7 1033.4 L359.4 1029.8 L363.1 1026.0 L366.8 1022.2 L370.5 1018.4 L374.2 1014.5 L377.9 1010.5 L381.6 1006.5 L385.2 1002.5 L388.9 998.4 L392.5 994.3 L396.1 990.1 L399.8 986.0 L403.4 981.8 L407.0 977.6 L410.5 973.3 L414.1 969.1 L417.7 964.9 L421.2 960.6 L424.8 956.3 L428.3 952.1 L431.8 947.8 L435.3 943.5 L438.8 939.3 L442.3 935.0 L445.8 930.8 L449.2 926.5 L452.7 922.3M191.1 1036.3 L196.5 1037.4 L202.0 1038.5 L207.5 1039.6 L213.1 1040.7 L218.6 1041.8 L224.1 1042.9 L229.7 1044.0 L235.2 1045.1 L240.8 1046.1 L246.4 1047.2 L252.0 1048.3 L257.7 1049.3 L263.3 1050.4 L268.9 1051.5 L274.6 1052.5 L280.3 1053.5 L285.9 1054.6 L291.6 1055.6 L297.4 1056.6 L303.1 1057.6 L308.8 1058.6 L314.6 1059.6 L320.4 1060.6 L326.1 1061.6 L331.9 1062.6 L337.7 1063.5 L343.6 1064.5 L349.4 1065.4 L355.3 1066.3 L361.1 1067.2 L367.0 1068.1 L372.9 1069.0 L378.8 1069.9 L384.7 1070.7 L390.7 1071.6 L396.6 1072.4 L402.6 1073.2 L408.6 1074.0 L414.6 1074.8 L420.6 1075.5 L426.6 1076.2 L432.7 1077.0 L438.7 1077.6 L444.8 1078.3 L450.9 1079.0 L457.0 1079.6 L463.1 1080.2 L469.2 1080.8 L475.4 1081.4 L481.6 1081.9 L487.7 1082.5 L494.0 1083.0 L500.2 1083.5 L506.4 1084.0 L512.7 1084.4 L518.9 1084.9 L525.2 1085.3 L531.5 1085.7 L537.8 1086.2M246.7 1117.6 L250.9 1115.5 L255.0 1113.5 L259.1 1111.5 L263.2 1109.5 L267.3 1107.4 L271.4 1105.4 L275.5 1103.4 L279.6 1101.4 L283.6 1099.4 L287.6 1097.4 L291.6 1095.3 L295.6 1093.3 L299.6 1091.2 L303.6 1089.0 L307.5 1086.8 L311.5 1084.5 L315.4 1082.1 L319.3 1079.7 L323.2 1077.1 L327.1 1074.5 L330.9 1071.7 L334.8 1068.8 L338.6 1065.9 L342.5 1062.8 L346.3 1059.6 L350.1 1056.4 L353.9 1053.0 L357.7 1049.5 L361.4 1045.9 L365.2 1042.2 L368.9 1038.5 L372.7 1034.6 L376.4 1030.7 L380.1 1026.7 L383.8 1022.7 L387.5 1018.5 L391.2 1014.4 L394.8 1010.1 L398.5 1005.8 L402.2 1001.5 L405.8 997.1 L409.4 992.7 L413.0 988.2 L416.6 983.8 L420.2 979.3 L423.8 974.7 L427.4 970.2 L430.9 965.6 L434.5 961.0 L438.0 956.5 L441.6 951.9 L445.1 947.3 L448.6 942.7 L452.1 938.1 L455.6 933.5 L459.1 928.9 L462.5 924.3 L466.0 919.7 L469.5 915.1M202.7 1029.4 L208.2 1030.4 L213.6 1031.5 L219.1 1032.5 L224.6 1033.6 L230.1 1034.6 L235.7 1035.6 L241.2 1036.6 L246.8 1037.7 L252.3 1038.7 L257.9 1039.7 L263.5 1040.6 L269.1 1041.6 L274.7 1042.6 L280.4 1043.6 L286.0 1044.5 L291.7 1045.4 L297.3 1046.4 L303.0 1047.3 L308.7 1048.2 L314.4 1049.1 L320.2 1050.0 L325.9 1050.8 L331.6 1051.7 L337.4 1052.5 L343.2 1053.3 L349.0 1054.1 L354.8 1054.8 L360.6 1055.6 L366.5 1056.3 L372.3 1057.0 L378.2 1057.7 L384.1 1058.4 L390.0 1059.0 L395.9 1059.6 L401.8 1060.2 L407.7 1060.8 L413.7 1061.3 L419.7 1061.8 L425.6 1062.3 L431.6 1062.7 L437.7 1063.1 L443.7 1063.5 L449.7 1063.9 L455.8 1064.2 L461.9 1064.5 L468.0 1064.7 L474.1 1064.9 L480.2 1065.1 L486.4 1065.3 L492.5 1065.4 L498.7 1065.5 L504.9 1065.5 L511.1 1065.6 L517.3 1065.6 L523.6 1065.5 L529.8 1065.5 L536.1 1065.4 L542.4 1065.3 L548.7 1065.2M264.3 1121.6 L268.5 1119.5 L272.6 1117.5 L276.7 1115.4 L280.8 1113.4 L284.9 1111.3 L289.0 1109.3 L293.0 1107.3 L297.1 1105.3 L301.1 1103.3 L305.1 1101.2 L309.1 1099.2 L313.1 1097.1 L317.0 1094.9 L321.0 1092.7 L324.9 1090.4 L328.8 1088.1 L332.7 1085.7 L336.6 1083.1 L340.5 1080.5 L344.4 1077.7 L348.2 1074.8 L352.1 1071.8 L355.9 1068.7 L359.7 1065.5 L363.5 1062.1 L367.3 1058.6 L371.1 1055.1 L374.9 1051.4 L378.6 1047.5 L382.4 1043.6 L386.1 1039.6 L389.8 1035.5 L393.5 1031.3 L397.2 1027.0 L400.9 1022.7 L404.6 1018.2 L408.3 1013.7 L411.9 1009.1 L415.6 1004.5 L419.2 999.8 L422.8 995.1 L426.4 990.3 L430.0 985.5 L433.6 980.7 L437.2 975.8 L440.8 970.9 L444.4 966.0 L447.9 961.1 L451.5 956.1 L455.0 951.1 L458.5 946.2 L462.0 941.2 L465.5 936.2 L469.0 931.2 L472.5 926.2 L476.0 921.2 L479.5 916.3 L482.9 911.3 L486.4 906.3M214.2 1022.1 L219.7 1023.1 L225.1 1024.1 L230.6 1025.0 L236.1 1026.0 L241.6 1027.0 L247.1 1027.9 L252.6 1028.9 L258.2 1029.8 L263.7 1030.7 L269.3 1031.6 L274.9 1032.5 L280.4 1033.4 L286.1 1034.3 L291.7 1035.1 L297.3 1036.0 L302.9 1036.8 L308.6 1037.6 L314.3 1038.4 L320.0 1039.1 L325.7 1039.9 L331.4 1040.6 L337.1 1041.3 L342.8 1041.9 L348.6 1042.6 L354.4 1043.2 L360.1 1043.8 L365.9 1044.3 L371.7 1044.9 L377.6 1045.4 L383.4 1045.8 L389.3 1046.3 L395.1 1046.6 L401.0 1047.0 L406.9 1047.3 L412.8 1047.6 L418.7 1047.9 L424.7 1048.1 L430.7 1048.2 L436.6 1048.3 L442.6 1048.4 L448.6 1048.4 L454.6 1048.4 L460.7 1048.3 L466.7 1048.2 L472.8 1048.0 L478.9 1047.8 L485.0 1047.5 L491.1 1047.2 L497.3 1046.9 L503.4 1046.4 L509.6 1046.0 L515.8 1045.5 L522.0 1044.9 L528.2 1044.3 L534.5 1043.7 L540.7 1043.0 L547.0 1042.3 L553.3 1041.5 L559.6 1040.7M282.1 1125.6 L286.2 1123.5 L290.3 1121.4 L294.4 1119.4 L298.5 1117.3 L302.6 1115.3 L306.6 1113.2 L310.7 1111.2 L314.7 1109.2 L318.7 1107.1 L322.7 1105.1 L326.6 1103.0 L330.6 1100.9 L334.6 1098.7 L338.5 1096.4 L342.4 1094.1 L346.3 1091.7 L350.2 1089.2 L354.1 1086.5 L357.9 1083.8 L361.8 1080.9 L365.6 1077.9 L369.5 1074.7 L373.3 1071.5 L377.1 1068.0 L380.9 1064.5 L384.6 1060.8 L388.4 1056.9 L392.2 1053.0 L395.9 1048.9 L399.6 1044.7 L403.4 1040.4 L407.1 1036.0 L410.8 1031.4 L414.5 1026.8 L418.1 1022.1 L421.8 1017.3 L425.5 1012.5 L429.1 1007.5 L432.7 1002.5 L436.4 997.4 L440.0 992.3 L443.6 987.1 L447.2 981.9 L450.8 976.7 L454.4 971.4 L457.9 966.0 L461.5 960.7 L465.0 955.3 L468.6 949.9 L472.1 944.5 L475.6 939.1 L479.1 933.7 L482.6 928.2 L486.1 922.8 L489.6 917.4 L493.1 912.0 L496.6 906.5 L500.0 901.1 L503.5 895.7M225.6 1014.4 L231.0 1015.4 L236.5 1016.3 L241.9 1017.2 L247.4 1018.1 L252.9 1019.0 L258.4 1019.9 L263.9 1020.8 L269.4 1021.6 L275.0 1022.4 L280.5 1023.2 L286.1 1024.0 L291.7 1024.8 L297.3 1025.5 L302.9 1026.2 L308.5 1026.9 L314.1 1027.6 L319.8 1028.3 L325.4 1028.9 L331.1 1029.5 L336.8 1030.0 L342.5 1030.6 L348.2 1031.1 L353.9 1031.5 L359.7 1032.0 L365.4 1032.4 L371.2 1032.7 L377.0 1033.0 L382.8 1033.3 L388.6 1033.5 L394.4 1033.7 L400.2 1033.8 L406.1 1033.9 L412.0 1034.0 L417.9 1033.9 L423.8 1033.9 L429.7 1033.7 L435.6 1033.6 L441.6 1033.3 L447.5 1033.0 L453.5 1032.6 L459.5 1032.2 L465.5 1031.7 L471.6 1031.1 L477.6 1030.5 L483.7 1029.8 L489.7 1029.0 L495.9 1028.2 L502.0 1027.3 L508.1 1026.3 L514.3 1025.3 L520.4 1024.2 L526.6 1023.0 L532.8 1021.8 L539.1 1020.5 L545.3 1019.1 L551.6 1017.7 L557.9 1016.3 L564.2 1014.8 L570.5 1013.2M300.0 1129.6 L304.1 1127.5 L308.2 1125.5 L312.3 1123.4 L316.3 1121.3 L320.4 1119.2 L324.4 1117.2 L328.4 1115.1 L332.4 1113.1 L336.4 1111.0 L340.4 1108.9 L344.4 1106.8 L348.3 1104.7 L352.2 1102.5 L356.1 1100.2 L360.0 1097.8 L363.9 1095.3 L367.8 1092.7 L371.7 1090.0 L375.5 1087.1 L379.3 1084.1 L383.2 1080.9 L387.0 1077.6 L390.8 1074.1 L394.6 1070.4 L398.3 1066.6 L402.1 1062.7 L405.9 1058.6 L409.6 1054.3 L413.3 1050.0 L417.0 1045.4 L420.8 1040.8 L424.5 1036.0 L428.1 1031.1 L431.8 1026.1 L435.5 1021.0 L439.2 1015.8 L442.8 1010.5 L446.4 1005.2 L450.1 999.7 L453.7 994.2 L457.3 988.6 L460.9 983.0 L464.5 977.3 L468.1 971.6 L471.7 965.8 L475.2 960.0 L478.8 954.1 L482.3 948.3 L485.9 942.4 L489.4 936.5 L492.9 930.5 L496.4 924.6 L499.9 918.7 L503.4 912.7 L506.9 906.8 L510.4 900.8 L513.8 894.9 L517.3 889.0 L520.7 883.1M236.9 1006.6 L242.3 1007.4 L247.7 1008.3 L253.2 1009.1 L258.7 1010.0 L264.1 1010.8 L269.6 1011.6 L275.1 1012.3 L280.6 1013.1 L286.2 1013.8 L291.7 1014.5 L297.2 1015.1 L302.8 1015.8 L308.4 1016.4 L314.0 1017.0 L319.6 1017.5 L325.2 1018.0 L330.8 1018.5 L336.5 1018.9 L342.1 1019.3 L347.8 1019.7 L353.5 1020.0 L359.2 1020.3 L364.9 1020.6 L370.6 1020.8 L376.4 1020.9 L382.1 1021.0 L387.9 1021.0 L393.7 1021.0 L399.5 1020.9 L405.3 1020.8 L411.1 1020.6 L417.0 1020.4 L422.8 1020.0 L428.7 1019.6 L434.6 1019.2 L440.5 1018.6 L446.4 1018.0 L452.4 1017.3 L458.3 1016.5 L464.3 1015.7 L470.3 1014.7 L476.3 1013.7 L482.3 1012.6 L488.4 1011.4 L494.5 1010.1 L500.5 1008.7 L506.6 1007.2 L512.8 1005.7 L518.9 1004.0 L525.0 1002.3 L531.2 1000.5 L537.4 998.5 L543.6 996.5 L549.9 994.5 L556.1 992.3 L562.4 990.1 L568.7 987.8 L575.0 985.4 L581.3 983.0M318.0 1133.7 L322.1 1131.6 L326.2 1129.5 L330.3 1127.4 L334.3 1125.3 L338.3 1123.2 L342.3 1121.2 L346.3 1119.1 L350.3 1117.0 L354.3 1115.0 L358.2 1112.9 L362.2 1110.7 L366.1 1108.5 L370.0 1106.3 L373.9 1103.9 L377.8 1101.5 L381.7 1098.9 L385.5 1096.2 L389.4 1093.3 L393.2 1090.3 L397.0 1087.1 L400.8 1083.8 L404.6 1080.3 L408.4 1076.6 L412.2 1072.7 L415.9 1068.6 L419.7 1064.4 L423.4 1060.0 L427.2 1055.4 L430.9 1050.7 L434.6 1045.8 L438.3 1040.8 L442.0 1035.6 L445.7 1030.3 L449.3 1024.8 L453.0 1019.3 L456.7 1013.6 L460.3 1007.9 L463.9 1002.0 L467.6 996.1 L471.2 990.0 L474.8 983.9 L478.4 977.8 L482.0 971.5 L485.5 965.3 L489.1 958.9 L492.7 952.6 L496.2 946.2 L499.8 939.7 L503.3 933.3 L506.8 926.8 L510.4 920.3 L513.9 913.8 L517.4 907.3 L520.9 900.7 L524.3 894.2 L527.8 887.7 L531.3 881.2 L534.7 874.7 L538.2 868.2M248.1 998.5 L253.5 999.3 L258.9 1000.1 L264.3 1000.8 L269.8 1001.6 L275.2 1002.3 L280.7 1003.0 L286.2 1003.6 L291.7 1004.3 L297.2 1004.9 L302.7 1005.4 L308.3 1006.0 L313.8 1006.5 L319.4 1006.9 L325.0 1007.3 L330.6 1007.7 L336.2 1008.1 L341.8 1008.4 L347.4 1008.6 L353.1 1008.8 L358.7 1009.0 L364.4 1009.1 L370.1 1009.1 L375.8 1009.1 L381.5 1009.1 L387.2 1008.9 L393.0 1008.8 L398.7 1008.5 L404.5 1008.2 L410.3 1007.8 L416.1 1007.3 L421.9 1006.7 L427.8 1006.1 L433.6 1005.4 L439.5 1004.6 L445.4 1003.7 L451.3 1002.7 L457.2 1001.6 L463.1 1000.4 L469.1 999.1 L475.0 997.7 L481.0 996.2 L487.0 994.6 L493.1 992.9 L499.1 991.0 L505.2 989.1 L511.3 987.0 L517.4 984.9 L523.5 982.6 L529.6 980.2 L535.8 977.7 L542.0 975.1 L548.2 972.3 L554.4 969.5 L560.6 966.6 L566.9 963.5 L573.2 960.4 L579.5 957.2 L585.8 953.9 L592.2 950.5M336.2 1137.8 L340.3 1135.7 L344.3 1133.6 L348.4 1131.5 L352.4 1129.4 L356.4 1127.3 L360.4 1125.2 L364.4 1123.1 L368.3 1121.0 L372.3 1118.9 L376.2 1116.8 L380.1 1114.6 L384.0 1112.4 L387.9 1110.1 L391.8 1107.7 L395.7 1105.2 L399.5 1102.5 L403.4 1099.7 L407.2 1096.7 L411.0 1093.5 L414.8 1090.2 L418.6 1086.6 L422.4 1082.9 L426.2 1078.9 L429.9 1074.8 L433.7 1070.4 L437.4 1065.9 L441.1 1061.1 L444.9 1056.2 L448.6 1051.0 L452.3 1045.7 L456.0 1040.3 L459.7 1034.6 L463.3 1028.9 L467.0 1022.9 L470.6 1016.9 L474.3 1010.7 L477.9 1004.4 L481.6 998.0 L485.2 991.5 L488.8 984.9 L492.4 978.2 L496.0 971.4 L499.6 964.6 L503.2 957.7 L506.7 950.8 L510.3 943.8 L513.9 936.7 L517.4 929.6 L520.9 922.5 L524.5 915.4 L528.0 908.2 L531.5 901.1 L535.0 893.9 L538.5 886.7 L542.0 879.5 L545.5 872.3 L548.9 865.2 L552.4 858.0 L555.9 850.8M259.1 990.2 L264.5 991.0 L269.9 991.7 L275.4 992.3 L280.8 993.0 L286.2 993.6 L291.7 994.2 L297.2 994.7 L302.7 995.2 L308.2 995.7 L313.7 996.2 L319.2 996.6 L324.7 996.9 L330.3 997.2 L335.9 997.5 L341.4 997.7 L347.0 997.9 L352.6 998.0 L358.2 998.0 L363.9 998.0 L369.5 997.9 L375.2 997.8 L380.9 997.6 L386.6 997.3 L392.3 997.0 L398.0 996.6 L403.7 996.1 L409.5 995.5 L415.2 994.9 L421.0 994.1 L426.8 993.3 L432.6 992.3 L438.4 991.3 L444.3 990.1 L450.2 988.9 L456.0 987.5 L461.9 986.0 L467.8 984.4 L473.8 982.7 L479.7 980.9 L485.7 978.9 L491.7 976.8 L497.7 974.6 L503.7 972.2 L509.8 969.7 L515.8 967.1 L521.9 964.3 L528.0 961.4 L534.1 958.4 L540.3 955.2 L546.5 951.8 L552.6 948.4 L558.9 944.8 L565.1 941.0 L571.3 937.2 L577.6 933.2 L583.9 929.1 L590.2 924.9 L596.6 920.6 L603.0 916.2M354.5 1141.9 L358.6 1139.8 L362.6 1137.7 L366.6 1135.5 L370.6 1133.4 L374.6 1131.3 L378.6 1129.2 L382.5 1127.1 L386.5 1125.0 L390.4 1122.9 L394.3 1120.7 L398.2 1118.5 L402.1 1116.3 L406.0 1113.9 L409.9 1111.5 L413.7 1108.8 L417.5 1106.1 L421.4 1103.1 L425.2 1100.0 L429.0 1096.7 L432.8 1093.1 L436.5 1089.4 L440.3 1085.4 L444.1 1081.1 L447.8 1076.7 L451.5 1072.0 L455.3 1067.1 L459.0 1061.9 L462.7 1056.6 L466.4 1051.0 L470.1 1045.3 L473.8 1039.3 L477.5 1033.2 L481.1 1026.9 L484.8 1020.4 L488.4 1013.8 L492.1 1007.0 L495.7 1000.1 L499.4 993.1 L503.0 985.9 L506.6 978.7 L510.2 971.3 L513.8 963.9 L517.4 956.4 L521.0 948.8 L524.5 941.1 L528.1 933.4 L531.7 925.7 L535.2 917.9 L538.8 910.0 L542.3 902.2 L545.8 894.3 L549.3 886.4 L552.9 878.4 L556.4 870.5 L559.9 862.6 L563.3 854.6 L566.8 846.7 L570.3 838.8 L573.8 830.9M270.1 981.9 L275.5 982.5 L280.9 983.1 L286.3 983.7 L291.7 984.3 L297.2 984.8 L302.6 985.3 L308.1 985.7 L313.5 986.1 L319.0 986.4 L324.5 986.7 L330.0 987.0 L335.6 987.2 L341.1 987.3 L346.6 987.4 L352.2 987.5 L357.8 987.4 L363.4 987.3 L369.0 987.2 L374.6 987.0 L380.2 986.7 L385.9 986.3 L391.6 985.8 L397.2 985.3 L402.9 984.7 L408.6 983.9 L414.4 983.1 L420.1 982.2 L425.9 981.2 L431.6 980.1 L437.4 978.9 L443.2 977.5 L449.1 976.0 L454.9 974.5 L460.8 972.7 L466.6 970.9 L472.5 968.9 L478.4 966.8 L484.4 964.5 L490.3 962.1 L496.3 959.5 L502.3 956.8 L508.3 953.9 L514.3 950.9 L520.3 947.7 L526.4 944.3 L532.5 940.8 L538.6 937.1 L544.7 933.2 L550.9 929.2 L557.1 925.0 L563.3 920.7 L569.5 916.1 L575.8 911.5 L582.0 906.6 L588.3 901.7 L594.6 896.5 L601.0 891.3 L607.3 885.9 L613.7 880.4M373.0 1146.1 L377.0 1143.9 L381.0 1141.8 L385.0 1139.7 L389.0 1137.5 L392.9 1135.4 L396.9 1133.3 L400.8 1131.2 L404.8 1129.1 L408.7 1126.9 L412.6 1124.7 L416.5 1122.5 L420.3 1120.2 L424.2 1117.8 L428.0 1115.2 L431.8 1112.5 L435.7 1109.7 L439.5 1106.6 L443.3 1103.3 L447.1 1099.8 L450.8 1096.0 L454.6 1092.0 L458.3 1087.7 L462.1 1083.2 L465.8 1078.4 L469.6 1073.3 L473.3 1068.0 L477.0 1062.4 L480.7 1056.6 L484.4 1050.6 L488.1 1044.3 L491.7 1037.8 L495.4 1031.1 L499.1 1024.2 L502.7 1017.1 L506.4 1009.9 L510.0 1002.5 L513.7 994.9 L517.3 987.2 L520.9 979.3 L524.5 971.3 L528.2 963.3 L531.8 955.1 L535.4 946.8 L538.9 938.4 L542.5 930.0 L546.1 921.5 L549.7 913.0 L553.2 904.4 L556.8 895.7 L560.3 887.0 L563.9 878.3 L567.4 869.6 L570.9 860.8 L574.4 852.1 L577.9 843.3 L581.4 834.5 L584.9 825.8 L588.4 817.0 L591.9 808.2M281.0 973.4 L286.3 974.0 L291.7 974.6 L297.1 975.1 L302.5 975.5 L308.0 975.9 L313.4 976.3 L318.8 976.6 L324.3 976.9 L329.8 977.1 L335.3 977.2 L340.8 977.3 L346.3 977.4 L351.8 977.4 L357.3 977.3 L362.9 977.1 L368.5 976.9 L374.0 976.6 L379.6 976.2 L385.3 975.8 L390.9 975.2 L396.5 974.6 L402.2 973.9 L407.8 973.0 L413.5 972.1 L419.2 971.1 L424.9 969.9 L430.7 968.7 L436.4 967.3 L442.2 965.8 L448.0 964.2 L453.8 962.4 L459.6 960.5 L465.4 958.5 L471.3 956.3 L477.1 953.9 L483.0 951.4 L488.9 948.8 L494.9 945.9 L500.8 942.9 L506.8 939.7 L512.8 936.3 L518.8 932.8 L524.8 929.1 L530.9 925.1 L536.9 921.0 L543.0 916.7 L549.2 912.2 L555.3 907.5 L561.5 902.6 L567.7 897.5 L573.9 892.2 L580.1 886.7 L586.4 881.0 L592.7 875.2 L599.0 869.2 L605.3 863.0 L611.7 856.7 L618.1 850.2 L624.5 843.6M391.5 1150.3 L395.5 1148.1 L399.5 1146.0 L403.5 1143.8 L407.5 1141.7 L411.4 1139.5 L415.4 1137.4 L419.3 1135.3 L423.2 1133.1 L427.1 1131.0 L430.9 1128.8 L434.8 1126.5 L438.7 1124.1 L442.5 1121.7 L446.3 1119.0 L450.1 1116.2 L453.9 1113.2 L457.7 1110.0 L461.5 1106.6 L465.3 1102.8 L469.0 1098.8 L472.8 1094.5 L476.5 1090.0 L480.3 1085.1 L484.0 1079.9 L487.7 1074.5 L491.4 1068.7 L495.1 1062.7 L498.8 1056.3 L502.5 1049.8 L506.2 1042.9 L509.9 1035.8 L513.5 1028.5 L517.2 1021.0 L520.9 1013.2 L524.5 1005.3 L528.2 997.1 L531.8 988.8 L535.4 980.3 L539.1 971.7 L542.7 962.9 L546.3 954.0 L549.9 945.0 L553.5 935.9 L557.1 926.7 L560.7 917.4 L564.3 908.0 L567.9 898.6 L571.4 889.1 L575.0 879.5 L578.6 869.9 L582.1 860.3 L585.7 850.7 L589.2 841.0 L592.7 831.3 L596.3 821.6 L599.8 811.9 L603.3 802.2 L606.8 792.5 L610.3 782.8M291.7 965.0 L297.1 965.5 L302.5 965.9 L307.9 966.3 L313.3 966.7 L318.7 967.0 L324.1 967.2 L329.5 967.4 L335.0 967.6 L340.4 967.7 L345.9 967.7 L351.4 967.6 L356.9 967.5 L362.4 967.3 L367.9 967.0 L373.5 966.7 L379.0 966.3 L384.6 965.8 L390.2 965.2 L395.8 964.5 L401.4 963.7 L407.0 962.8 L412.7 961.8 L418.3 960.7 L424.0 959.5 L429.7 958.1 L435.4 956.6 L441.1 955.0 L446.9 953.3 L452.6 951.4 L458.4 949.4 L464.2 947.2 L470.0 944.8 L475.8 942.3 L481.7 939.6 L487.6 936.8 L493.5 933.7 L499.4 930.5 L505.3 927.1 L511.2 923.4 L517.2 919.6 L523.2 915.6 L529.2 911.3 L535.2 906.9 L541.3 902.2 L547.4 897.3 L553.5 892.2 L559.6 886.8 L565.8 881.2 L572.0 875.4 L578.2 869.4 L584.4 863.2 L590.7 856.7 L596.9 850.1 L603.2 843.2 L609.6 836.1 L616.0 828.8 L622.3 821.4 L628.8 813.8 L635.2 806.0M410.2 1154.5 L414.2 1152.3 L418.2 1150.2 L422.2 1148.0 L426.1 1145.8 L430.0 1143.7 L433.9 1141.5 L437.8 1139.4 L441.7 1137.2 L445.6 1135.0 L449.5 1132.8 L453.3 1130.5 L457.1 1128.1 L460.9 1125.5 L464.8 1122.8 L468.5 1119.9 L472.3 1116.8 L476.1 1113.4 L479.9 1109.8 L483.6 1105.8 L487.4 1101.6 L491.1 1097.0 L494.8 1092.1 L498.6 1086.8 L502.3 1081.3 L506.0 1075.4 L509.7 1069.1 L513.4 1062.6 L517.1 1055.7 L520.8 1048.5 L524.5 1041.1 L528.1 1033.4 L531.8 1025.4 L535.5 1017.1 L539.1 1008.6 L542.8 999.9 L546.4 991.0 L550.1 981.8 L553.7 972.5 L557.4 963.0 L561.0 953.4 L564.6 943.6 L568.3 933.7 L571.9 923.7 L575.5 913.5 L579.1 903.3 L582.7 893.0 L586.3 882.6 L589.9 872.1 L593.5 861.5 L597.0 851.0 L600.6 840.3 L604.2 829.7 L607.7 819.0 L611.3 808.3 L614.8 797.6 L618.4 786.9 L621.9 776.2 L625.4 765.4 L628.9 754.7M302.4 956.5 L307.8 956.9 L313.1 957.3 L318.5 957.6 L323.9 957.9 L329.3 958.1 L334.7 958.2 L340.1 958.3 L345.5 958.3 L351.0 958.2 L356.5 958.1 L361.9 957.9 L367.4 957.6 L372.9 957.3 L378.4 956.8 L384.0 956.3 L389.5 955.6 L395.1 954.9 L400.7 954.1 L406.2 953.2 L411.9 952.1 L417.5 951.0 L423.1 949.7 L428.8 948.3 L434.4 946.7 L440.1 945.1 L445.8 943.3 L451.5 941.3 L457.3 939.2 L463.0 936.9 L468.8 934.5 L474.6 931.8 L480.4 929.0 L486.2 926.0 L492.0 922.9 L497.9 919.5 L503.8 915.9 L509.7 912.1 L515.6 908.1 L521.6 903.8 L527.6 899.3 L533.6 894.6 L539.6 889.7 L545.6 884.5 L551.7 879.1 L557.8 873.4 L563.9 867.4 L570.0 861.2 L576.2 854.8 L582.4 848.1 L588.6 841.1 L594.9 833.9 L601.1 826.4 L607.5 818.7 L613.8 810.8 L620.1 802.6 L626.5 794.2 L633.0 785.7 L639.4 776.9 L645.9 767.9M429.1 1158.8 L433.1 1156.6 L437.0 1154.4 L441.0 1152.2 L444.9 1150.0 L448.8 1147.8 L452.7 1145.7 L456.6 1143.5 L460.4 1141.3 L464.3 1139.1 L468.1 1136.9 L471.9 1134.5 L475.7 1132.1 L479.5 1129.5 L483.3 1126.7 L487.1 1123.7 L490.9 1120.4 L494.6 1116.8 L498.4 1113.0 L502.1 1108.8 L505.8 1104.3 L509.6 1099.4 L513.3 1094.1 L517.0 1088.5 L520.7 1082.5 L524.4 1076.1 L528.1 1069.3 L531.8 1062.2 L535.5 1054.8 L539.2 1047.0 L542.9 1038.9 L546.6 1030.4 L550.2 1021.7 L553.9 1012.7 L557.6 1003.4 L561.2 993.9 L564.9 984.1 L568.6 974.1 L572.2 963.9 L575.9 953.5 L579.5 942.9 L583.1 932.2 L586.8 921.3 L590.4 910.2 L594.0 899.1 L597.7 887.8 L601.3 876.5 L604.9 865.0 L608.5 853.5 L612.1 841.9 L615.7 830.2 L619.3 818.5 L622.9 806.8 L626.5 795.0 L630.1 783.2 L633.7 771.4 L637.2 759.6 L640.8 747.7 L644.3 735.9 L647.9 724.1M313.0 948.1 L318.3 948.4 L323.7 948.7 L329.0 948.9 L334.4 949.1 L339.8 949.2 L345.2 949.2 L350.6 949.1 L356.0 949.0 L361.5 948.8 L366.9 948.5 L372.4 948.2 L377.9 947.7 L383.4 947.2 L388.9 946.6 L394.4 945.9 L399.9 945.0 L405.5 944.1 L411.0 943.0 L416.6 941.9 L422.2 940.6 L427.8 939.1 L433.4 937.6 L439.1 935.9 L444.7 934.0 L450.4 932.1 L456.1 929.9 L461.8 927.6 L467.5 925.1 L473.3 922.4 L479.1 919.5 L484.8 916.5 L490.6 913.2 L496.5 909.8 L502.3 906.1 L508.2 902.2 L514.1 898.0 L520.0 893.6 L525.9 889.0 L531.9 884.2 L537.8 879.0 L543.8 873.6 L549.9 868.0 L555.9 862.1 L562.0 855.8 L568.1 849.4 L574.2 842.6 L580.4 835.5 L586.6 828.2 L592.8 820.6 L599.0 812.6 L605.3 804.4 L611.6 796.0 L617.9 787.2 L624.3 778.2 L630.7 769.0 L637.1 759.5 L643.5 749.7 L650.0 739.8 L656.5 729.6M448.1 1163.1 L452.0 1160.8 L456.0 1158.6 L459.9 1156.4 L463.8 1154.2 L467.7 1152.1 L471.6 1149.9 L475.4 1147.7 L479.3 1145.5 L483.1 1143.3 L486.9 1141.0 L490.7 1138.6 L494.5 1136.1 L498.3 1133.4 L502.0 1130.5 L505.8 1127.4 L509.5 1124.0 L513.3 1120.2 L517.0 1116.2 L520.7 1111.7 L524.5 1106.9 L528.2 1101.7 L531.9 1096.0 L535.6 1090.0 L539.3 1083.5 L543.0 1076.6 L546.7 1069.3 L550.4 1061.6 L554.1 1053.6 L557.8 1045.1 L561.5 1036.3 L565.1 1027.1 L568.8 1017.6 L572.5 1007.8 L576.2 997.6 L579.9 987.2 L583.5 976.6 L587.2 965.6 L590.9 954.5 L594.5 943.1 L598.2 931.5 L601.9 919.8 L605.5 907.8 L609.2 895.8 L612.8 883.5 L616.5 871.2 L620.1 858.7 L623.8 846.1 L627.4 833.5 L631.0 820.7 L634.7 807.9 L638.3 795.1 L641.9 782.2 L645.5 769.2 L649.1 756.3 L652.7 743.3 L656.3 730.3 L659.9 717.3 L663.5 704.3 L667.1 691.3M323.5 939.7 L328.8 940.0 L334.1 940.1 L339.5 940.3 L344.8 940.3 L350.2 940.3 L355.6 940.2 L361.0 940.1 L366.4 939.8 L371.8 939.5 L377.3 939.0 L382.7 938.5 L388.2 937.9 L393.7 937.2 L399.2 936.4 L404.7 935.5 L410.2 934.5 L415.8 933.3 L421.3 932.0 L426.9 930.6 L432.5 929.1 L438.1 927.4 L443.7 925.5 L449.3 923.6 L455.0 921.4 L460.6 919.1 L466.3 916.6 L472.0 913.9 L477.8 911.0 L483.5 908.0 L489.3 904.7 L495.0 901.2 L500.8 897.5 L506.7 893.5 L512.5 889.3 L518.4 884.9 L524.3 880.2 L530.2 875.3 L536.1 870.0 L542.1 864.5 L548.0 858.8 L554.0 852.7 L560.1 846.3 L566.1 839.7 L572.2 832.7 L578.3 825.4 L584.5 817.8 L590.7 809.9 L596.9 801.6 L603.1 793.1 L609.3 784.2 L615.6 775.0 L622.0 765.5 L628.3 755.7 L634.7 745.7 L641.1 735.3 L647.6 724.6 L654.1 713.7 L660.6 702.6 L667.1 691.3" stroke="#4a0a4c" stroke-opacity="0.9" stroke-width="2.0" fill="none" stroke-linejoin="round" mask="url(#mkBTS)"/></g>
<path d="M94.2 1115.6 L86.2 711.0M94.2 1115.6 L447.8 1197.9M447.8 1197.9 L656.8 1076.9" stroke="#1a1a1a" stroke-width="1.8" fill="none"/>
<path d="M93.5 1083.0 L87.9 1085.5M92.2 1017.4 L86.6 1019.8M90.9 951.1 L85.2 953.3M89.6 884.0 L83.9 886.1M88.2 816.2 L82.5 818.1M86.9 747.7 L81.1 749.4M139.4 1126.2 L133.9 1128.8M200.3 1140.3 L194.8 1143.0M262.8 1154.9 L257.4 1157.6M326.9 1169.8 L321.6 1172.6M392.8 1185.1 L387.6 1188.1M109.5 1119.2 L106.2 1120.8M169.7 1133.2 L166.4 1134.8M231.3 1147.6 L228.1 1149.2M294.6 1162.3 L291.4 1164.0M359.6 1177.4 L356.5 1179.1M426.4 1193.0 L423.3 1194.7M478.1 1180.4 L486.4 1182.3M522.1 1154.9 L530.3 1156.7M564.2 1130.5 L572.2 1132.3M604.5 1107.2 L612.5 1108.8M643.2 1084.8 L651.1 1086.3M455.4 1193.5 L460.4 1194.7M500.3 1167.5 L505.3 1168.6M543.3 1142.6 L548.2 1143.7M584.5 1118.7 L589.4 1119.7M624.1 1095.8 L628.8 1096.8" stroke="#1a1a1a" stroke-width="1.8" fill="none"/>
<text transform="matrix(0.1692 -0.0755 0.0054 0.2608 83.1 1086.9)" x="0" y="36.0" text-anchor="end" font-family="Liberation Sans, sans-serif" font-weight="bold" font-size="100" >0.0</text>
<text transform="matrix(0.1703 -0.0713 0.0055 0.2637 81.7 1021.0)" x="0" y="36.0" text-anchor="end" font-family="Liberation Sans, sans-serif" font-weight="bold" font-size="100" >0.2</text>
<text transform="matrix(0.1713 -0.0670 0.0055 0.2666 80.3 954.4)" x="0" y="36.0" text-anchor="end" font-family="Liberation Sans, sans-serif" font-weight="bold" font-size="100" >0.4</text>
<text transform="matrix(0.1723 -0.0626 0.0056 0.2695 78.9 887.1)" x="0" y="36.0" text-anchor="end" font-family="Liberation Sans, sans-serif" font-weight="bold" font-size="100" >0.6</text>
<text transform="matrix(0.1734 -0.0580 0.0056 0.2725 77.5 819.0)" x="0" y="36.0" text-anchor="end" font-family="Liberation Sans, sans-serif" font-weight="bold" font-size="100" >0.8</text>
<text transform="matrix(0.1745 -0.0534 0.0057 0.2756 76.1 750.1)" x="0" y="36.0" text-anchor="end" font-family="Liberation Sans, sans-serif" font-weight="bold" font-size="100" >1.0</text>
<text transform="matrix(0.1686 -0.0800 0.2225 0.0525 121.8 1136.9)" x="0" y="36.0" text-anchor="middle" font-family="Liberation Sans, sans-serif" font-weight="normal" font-size="100"  stroke="#000" stroke-width="5">1.5</text>
<text transform="matrix(0.1664 -0.0820 0.2283 0.0539 183.0 1151.4)" x="0" y="36.0" text-anchor="middle" font-family="Liberation Sans, sans-serif" font-weight="normal" font-size="100"  stroke="#000" stroke-width="5">2.0</text>
<text transform="matrix(0.1640 -0.0842 0.2344 0.0553 245.9 1166.2)" x="0" y="36.0" text-anchor="middle" font-family="Liberation Sans, sans-serif" font-weight="normal" font-size="100"  stroke="#000" stroke-width="5">2.5</text>
<text transform="matrix(0.1614 -0.0864 0.2407 0.0568 310.4 1181.4)" x="0" y="36.0" text-anchor="middle" font-family="Liberation Sans, sans-serif" font-weight="normal" font-size="100"  stroke="#000" stroke-width="5">3.0</text>
<text transform="matrix(0.1587 -0.0888 0.2472 0.0583 376.7 1197.1)" x="0" y="36.0" text-anchor="middle" font-family="Liberation Sans, sans-serif" font-weight="normal" font-size="100"  stroke="#000" stroke-width="5">3.5</text>
<text transform="matrix(0.2300 0.0526 -0.1348 0.0801 509.2 1191.5)" x="0" y="36.0" text-anchor="middle" font-family="Liberation Sans, sans-serif" font-weight="normal" font-size="100"  stroke="#000" stroke-width="5">50</text>
<text transform="matrix(0.2269 0.0503 -0.1290 0.0766 552.9 1165.6)" x="0" y="36.0" text-anchor="middle" font-family="Liberation Sans, sans-serif" font-weight="normal" font-size="100"  stroke="#000" stroke-width="5">100</text>
<text transform="matrix(0.2238 0.0481 -0.1235 0.0733 594.8 1140.7)" x="0" y="36.0" text-anchor="middle" font-family="Liberation Sans, sans-serif" font-weight="normal" font-size="100"  stroke="#000" stroke-width="5">150</text>
<text transform="matrix(0.2209 0.0461 -0.1184 0.0703 634.8 1117.0)" x="0" y="36.0" text-anchor="middle" font-family="Liberation Sans, sans-serif" font-weight="normal" font-size="100"  stroke="#000" stroke-width="5">200</text>
<text transform="matrix(0.2179 0.0442 -0.1136 0.0674 673.3 1094.1)" x="0" y="36.0" text-anchor="middle" font-family="Liberation Sans, sans-serif" font-weight="normal" font-size="100"  stroke="#000" stroke-width="5">250</text>
<text transform="matrix(0.2910 0.0707 -0.2094 0.1077 202.7 1190.3)" x="0" y="36.0" text-anchor="middle" font-family="Liberation Sans, sans-serif" font-weight="normal" font-size="100"  stroke="#000" stroke-width="4">Pressure (GPa)</text>
<text transform="matrix(0.1652 -0.1010 0.3071 0.0663 630.5 1152.4)" x="0" y="36.0" text-anchor="middle" font-family="Liberation Sans, sans-serif" font-weight="normal" font-size="100"  stroke="#000" stroke-width="4">Temperature (K)</text>
<text transform="matrix(-0.0088 -0.3447 0.2267 -0.0855 20.7 943.4)" x="0" y="36.0" text-anchor="middle" font-family="Liberation Sans, sans-serif" font-weight="bold" font-size="100" >G (1/Ω)</text>
<text transform="translate(206,740.3) rotate(-13.5)" x="0" y="11.0" text-anchor="middle" font-family="Liberation Sans, sans-serif" font-weight="bold" font-size="30.5">BTS</text>
<polygon points="844.9,1116.5 1073.6,1011.2 1073.3,641.5 836.1,711.6" fill="#f7f7f7"/>
<polygon points="1073.6,1011.2 1405.6,1077.6 1417.0,685.7 1073.3,641.5" fill="#f7f7f7"/>
<polygon points="844.9,1116.5 1196.8,1197.6 1405.6,1077.6 1073.6,1011.2" fill="#fcfcfc"/>
<path d="M844.1 1083.9 L1073.6 981.4M1073.6 981.4 L1406.5 1046.0M842.7 1018.4 L1073.6 921.4M1073.6 921.4 L1408.4 982.5M841.3 952.1 L1073.5 860.8M1073.5 860.8 L1410.2 918.3M839.9 885.0 L1073.5 799.5M1073.5 799.5 L1412.1 853.4M838.4 817.1 L1073.4 737.6M1073.4 737.6 L1414.0 787.7M836.9 748.3 L1073.3 675.0M1073.3 675.0 L1415.9 721.2M879.8 1100.4 L872.5 700.8M927.7 1078.4 L922.2 686.2M973.8 1057.2 L970.0 672.0M1018.1 1036.8 L1015.9 658.5M1060.8 1017.1 L1060.0 645.5M1076.9 1011.8 L1076.6 642.0M1109.3 1018.3 L1110.1 646.3M1142.1 1024.9 L1144.0 650.6M1175.3 1031.5 L1178.4 655.0M1208.9 1038.2 L1213.2 659.5M1243.0 1045.1 L1248.4 664.0M1277.5 1052.0 L1284.2 668.6M1312.5 1058.9 L1320.4 673.3M1347.9 1066.0 L1357.1 678.0M1383.8 1073.2 L1394.3 682.8" stroke="#ebebeb" stroke-width="1.1" fill="none"/>
<path d="M879.8 1100.4 L1228.9 1179.2M927.7 1078.4 L1272.8 1153.9M973.8 1057.2 L1314.8 1129.8M1018.1 1036.8 L1355.2 1106.6M1060.8 1017.1 L1394.0 1084.3M848.3 1117.3 L1076.9 1011.8M882.4 1125.2 L1109.3 1018.3M917.0 1133.1 L1142.1 1024.9M952.1 1141.2 L1175.3 1031.5M987.7 1149.4 L1208.9 1038.2M1023.9 1157.8 L1243.0 1045.1M1060.5 1166.2 L1277.5 1052.0M1097.6 1174.8 L1312.5 1058.9M1135.3 1183.4 L1347.9 1066.0M1173.6 1192.3 L1383.8 1073.2" stroke="#efefef" stroke-width="1" fill="none"/>
<path d="M1073.6 1011.2 L1073.3 641.5M836.1 711.6 L1073.3 641.5M1073.3 641.5 L1417.0 685.7M1405.6 1077.6 L1417.0 685.7" stroke="#8a8a8a" stroke-width="1.1" fill="none"/>
<path d="M844.9 1116.5 L1073.6 1011.2M1073.6 1011.2 L1405.6 1077.6" stroke="#c8c8c8" stroke-width="1" fill="none"/>
<polygon points="844.1,1083.9 849.7,1085.2 855.3,1086.4 861.0,1087.7 866.6,1088.9 872.2,1090.2 877.9,1091.5 883.6,1092.7 889.2,1094.0 894.9,1095.3 900.6,1096.6 906.4,1097.9 912.1,1099.1 917.8,1100.4 923.6,1101.7 929.4,1103.0 935.2,1104.3 941.0,1105.6 946.8,1106.9 952.6,1108.2 958.4,1109.5 964.3,1110.8 970.2,1112.1 976.0,1113.5 981.9,1114.8 987.8,1116.1 993.8,1117.4 999.7,1118.8 1005.6,1120.1 1011.6,1121.4 1017.6,1122.8 1023.6,1124.1 1029.6,1125.4 1035.6,1126.8 1041.6,1128.1 1047.7,1129.5 1053.7,1130.9 1059.8,1132.2 1065.9,1133.6 1072.0,1134.9 1078.1,1136.3 1084.3,1137.7 1090.4,1139.1 1096.6,1140.4 1102.8,1141.8 1108.9,1143.2 1115.1,1144.6 1121.4,1146.0 1127.6,1147.4 1133.9,1148.8 1140.1,1150.2 1146.4,1151.6 1152.7,1153.0 1159.0,1154.4 1165.3,1155.8 1171.7,1157.3 1178.0,1158.7 1184.4,1160.1 1190.8,1161.5 1197.2,1163.0 1197.2,1163.0 1201.1,1160.8 1205.0,1158.6 1208.9,1156.4 1212.8,1154.2 1216.7,1152.0 1220.6,1149.9 1224.4,1147.7 1228.2,1145.6 1232.1,1143.4 1235.9,1141.3 1239.6,1139.1 1243.4,1137.0 1247.2,1134.9 1250.9,1132.7 1254.7,1130.6 1258.4,1128.5 1262.1,1126.4 1265.8,1124.3 1269.5,1122.2 1273.1,1120.1 1276.8,1118.0 1280.4,1115.9 1284.1,1113.8 1287.7,1111.8 1291.3,1109.7 1294.9,1107.6 1298.4,1105.6 1302.0,1103.5 1305.6,1101.5 1309.1,1099.4 1312.6,1097.4 1316.1,1095.4 1319.6,1093.3 1323.1,1091.3 1326.6,1089.3 1330.1,1087.3 1333.5,1085.3 1337.0,1083.3 1340.4,1081.3 1343.8,1079.3 1347.2,1077.3 1350.6,1075.3 1354.0,1073.3 1357.4,1071.3 1360.8,1069.4 1364.1,1067.4 1367.4,1065.4 1370.8,1063.5 1374.1,1061.5 1377.4,1059.6 1380.7,1057.6 1384.0,1055.7 1387.2,1053.7 1390.5,1051.8 1393.8,1049.9 1397.0,1048.0 1400.2,1046.0 1403.4,1044.1 1406.7,1042.2 1406.7,1042.2 1400.6,1041.2 1394.7,1040.1 1388.7,1039.1 1382.7,1038.1 1376.8,1037.0 1370.8,1036.0 1364.9,1035.0 1359.0,1033.9 1353.1,1032.9 1347.2,1031.9 1341.3,1030.8 1335.5,1029.8 1329.6,1028.8 1323.8,1027.7 1318.0,1026.7 1312.1,1025.7 1306.3,1024.6 1300.6,1023.6 1294.8,1022.6 1289.0,1021.6 1283.3,1020.5 1277.5,1019.5 1271.8,1018.5 1266.1,1017.4 1260.4,1016.4 1254.7,1015.4 1249.0,1014.3 1243.4,1013.3 1237.7,1012.3 1232.1,1011.2 1226.5,1010.2 1220.8,1009.2 1215.2,1008.1 1209.7,1007.1 1204.1,1006.1 1198.5,1005.0 1193.0,1004.0 1187.4,1003.0 1181.9,1002.0 1176.4,1000.9 1170.8,999.9 1165.3,998.9 1159.9,997.8 1154.4,996.8 1148.9,995.8 1143.5,994.7 1138.0,993.7 1132.6,992.7 1127.2,991.7 1121.8,990.6 1116.4,989.6 1111.0,988.6 1105.6,987.5 1100.3,986.5 1094.9,985.5 1089.6,984.4 1084.2,983.4 1078.9,982.4 1073.6,981.4 1073.6,981.4 1070.1,982.9 1066.5,984.5 1063.0,986.1 1059.4,987.7 1055.8,989.3 1052.2,990.9 1048.6,992.5 1045.0,994.1 1041.4,995.8 1037.8,997.4 1034.1,999.0 1030.5,1000.6 1026.8,1002.3 1023.1,1003.9 1019.4,1005.6 1015.7,1007.2 1012.0,1008.9 1008.3,1010.6 1004.5,1012.2 1000.8,1013.9 997.0,1015.6 993.2,1017.3 989.4,1019.0 985.6,1020.7 981.8,1022.4 978.0,1024.1 974.1,1025.8 970.3,1027.5 966.4,1029.3 962.5,1031.0 958.6,1032.8 954.7,1034.5 950.8,1036.2 946.9,1038.0 942.9,1039.8 939.0,1041.5 935.0,1043.3 931.0,1045.1 927.0,1046.9 923.0,1048.7 919.0,1050.5 914.9,1052.3 910.9,1054.1 906.8,1055.9 902.7,1057.7 898.7,1059.6 894.5,1061.4 890.4,1063.2 886.3,1065.1 882.1,1066.9 878.0,1068.8 873.8,1070.7 869.6,1072.5 865.4,1074.4 861.2,1076.3 856.9,1078.2 852.7,1080.1 848.4,1082.0 844.1,1083.9" fill="#fe0000"/>
<polyline points="844.1,1083.9 849.7,1085.2 855.3,1086.4 861.0,1087.7 866.6,1088.9 872.2,1090.2 877.9,1091.5 883.6,1092.7 889.2,1094.0 894.9,1095.3 900.6,1096.6 906.4,1097.9 912.1,1099.1 917.8,1100.4 923.6,1101.7 929.4,1103.0 935.2,1104.3 941.0,1105.6 946.8,1106.9 952.6,1108.2 958.4,1109.5 964.3,1110.8 970.2,1112.1 976.0,1113.5 981.9,1114.8 987.8,1116.1 993.8,1117.4 999.7,1118.8 1005.6,1120.1 1011.6,1121.4 1017.6,1122.8 1023.6,1124.1 1029.6,1125.4 1035.6,1126.8 1041.6,1128.1 1047.7,1129.5 1053.7,1130.9 1059.8,1132.2 1065.9,1133.6 1072.0,1134.9 1078.1,1136.3 1084.3,1137.7 1090.4,1139.1 1096.6,1140.4 1102.8,1141.8 1108.9,1143.2 1115.1,1144.6 1121.4,1146.0 1127.6,1147.4 1133.9,1148.8 1140.1,1150.2 1146.4,1151.6 1152.7,1153.0 1159.0,1154.4 1165.3,1155.8 1171.7,1157.3 1178.0,1158.7 1184.4,1160.1 1190.8,1161.5 1197.2,1163.0 1197.2,1163.0 1201.1,1160.8 1205.0,1158.6 1208.9,1156.4 1212.8,1154.2 1216.7,1152.0 1220.6,1149.9 1224.4,1147.7 1228.2,1145.6 1232.1,1143.4 1235.9,1141.3 1239.6,1139.1 1243.4,1137.0 1247.2,1134.9 1250.9,1132.7 1254.7,1130.6 1258.4,1128.5 1262.1,1126.4 1265.8,1124.3 1269.5,1122.2 1273.1,1120.1 1276.8,1118.0 1280.4,1115.9 1284.1,1113.8 1287.7,1111.8 1291.3,1109.7 1294.9,1107.6 1298.4,1105.6 1302.0,1103.5 1305.6,1101.5 1309.1,1099.4 1312.6,1097.4 1316.1,1095.4 1319.6,1093.3 1323.1,1091.3 1326.6,1089.3 1330.1,1087.3 1333.5,1085.3 1337.0,1083.3 1340.4,1081.3 1343.8,1079.3 1347.2,1077.3 1350.6,1075.3 1354.0,1073.3 1357.4,1071.3 1360.8,1069.4 1364.1,1067.4 1367.4,1065.4 1370.8,1063.5 1374.1,1061.5 1377.4,1059.6 1380.7,1057.6 1384.0,1055.7 1387.2,1053.7 1390.5,1051.8 1393.8,1049.9 1397.0,1048.0 1400.2,1046.0 1403.4,1044.1 1406.7,1042.2" fill="none" stroke="#5a1a78" stroke-width="1.3" stroke-linejoin="round"/>
<defs><linearGradient id="fgBSTS" gradientUnits="userSpaceOnUse" x1="1112.9" y1="1045.4" x2="1104.7" y2="1072.2"><stop offset="0" stop-color="#fff"/><stop offset="1" stop-color="#080808"/></linearGradient><mask id="mkBSTS" maskUnits="userSpaceOnUse" x="0" y="600" width="1458" height="622"><rect x="0" y="600" width="1458" height="622" fill="url(#fgBSTS)"/></mask></defs>
<defs><clipPath id="crBSTS"><polygon points="844.1,1083.9 849.7,1085.2 855.3,1086.4 861.0,1087.7 866.6,1088.9 872.2,1090.2 877.9,1091.5 883.6,1092.7 889.2,1094.0 894.9,1095.3 900.6,1096.6 906.4,1097.9 912.1,1099.1 917.8,1100.4 923.6,1101.7 929.4,1103.0 935.2,1104.3 941.0,1105.6 946.8,1106.9 952.6,1108.2 958.4,1109.5 964.3,1110.8 970.2,1112.1 976.0,1113.5 981.9,1114.8 987.8,1116.1 993.8,1117.4 999.7,1118.8 1005.6,1120.1 1011.6,1121.4 1017.6,1122.8 1023.6,1124.1 1029.6,1125.4 1035.6,1126.8 1041.6,1128.1 1047.7,1129.5 1053.7,1130.9 1059.8,1132.2 1065.9,1133.6 1072.0,1134.9 1078.1,1136.3 1084.3,1137.7 1090.4,1139.1 1096.6,1140.4 1102.8,1141.8 1108.9,1143.2 1115.1,1144.6 1121.4,1146.0 1127.6,1147.4 1133.9,1148.8 1140.1,1150.2 1146.4,1151.6 1152.7,1153.0 1159.0,1154.4 1165.3,1155.8 1171.7,1157.3 1178.0,1158.7 1184.4,1160.1 1190.8,1161.5 1197.2,1163.0 1197.2,1163.0 1201.1,1160.8 1205.0,1158.6 1208.9,1156.4 1212.8,1154.2 1216.7,1152.0 1220.6,1149.9 1224.4,1147.7 1228.2,1145.6 1232.1,1143.4 1235.9,1141.3 1239.6,1139.1 1243.4,1137.0 1247.2,1134.9 1250.9,1132.7 1254.7,1130.6 1258.4,1128.5 1262.1,1126.4 1265.8,1124.3 1269.5,1122.2 1273.1,1120.1 1276.8,1118.0 1280.4,1115.9 1284.1,1113.8 1287.7,1111.8 1291.3,1109.7 1294.9,1107.6 1298.4,1105.6 1302.0,1103.5 1305.6,1101.5 1309.1,1099.4 1312.6,1097.4 1316.1,1095.4 1319.6,1093.3 1323.1,1091.3 1326.6,1089.3 1330.1,1087.3 1333.5,1085.3 1337.0,1083.3 1340.4,1081.3 1343.8,1079.3 1347.2,1077.3 1350.6,1075.3 1354.0,1073.3 1357.4,1071.3 1360.8,1069.4 1364.1,1067.4 1367.4,1065.4 1370.8,1063.5 1374.1,1061.5 1377.4,1059.6 1380.7,1057.6 1384.0,1055.7 1387.2,1053.7 1390.5,1051.8 1393.8,1049.9 1397.0,1048.0 1400.2,1046.0 1403.4,1044.1 1406.7,1042.2 1406.7,1042.2 1400.6,1041.2 1394.7,1040.1 1388.7,1039.1 1382.7,1038.1 1376.8,1037.0 1370.8,1036.0 1364.9,1035.0 1359.0,1033.9 1353.1,1032.9 1347.2,1031.9 1341.3,1030.8 1335.5,1029.8 1329.6,1028.8 1323.8,1027.7 1318.0,1026.7 1312.1,1025.7 1306.3,1024.6 1300.6,1023.6 1294.8,1022.6 1289.0,1021.6 1283.3,1020.5 1277.5,1019.5 1271.8,1018.5 1266.1,1017.4 1260.4,1016.4 1254.7,1015.4 1249.0,1014.3 1243.4,1013.3 1237.7,1012.3 1232.1,1011.2 1226.5,1010.2 1220.8,1009.2 1215.2,1008.1 1209.7,1007.1 1204.1,1006.1 1198.5,1005.0 1193.0,1004.0 1187.4,1003.0 1181.9,1002.0 1176.4,1000.9 1170.8,999.9 1165.3,998.9 1159.9,997.8 1154.4,996.8 1148.9,995.8 1143.5,994.7 1138.0,993.7 1132.6,992.7 1127.2,991.7 1121.8,990.6 1116.4,989.6 1111.0,988.6 1105.6,987.5 1100.3,986.5 1094.9,985.5 1089.6,984.4 1084.2,983.4 1078.9,982.4 1073.6,981.4 1073.6,981.4 1070.1,982.9 1066.5,984.5 1063.0,986.1 1059.4,987.7 1055.8,989.3 1052.2,990.9 1048.6,992.5 1045.0,994.1 1041.4,995.8 1037.8,997.4 1034.1,999.0 1030.5,1000.6 1026.8,1002.3 1023.1,1003.9 1019.4,1005.6 1015.7,1007.2 1012.0,1008.9 1008.3,1010.6 1004.5,1012.2 1000.8,1013.9 997.0,1015.6 993.2,1017.3 989.4,1019.0 985.6,1020.7 981.8,1022.4 978.0,1024.1 974.1,1025.8 970.3,1027.5 966.4,1029.3 962.5,1031.0 958.6,1032.8 954.7,1034.5 950.8,1036.2 946.9,1038.0 942.9,1039.8 939.0,1041.5 935.0,1043.3 931.0,1045.1 927.0,1046.9 923.0,1048.7 919.0,1050.5 914.9,1052.3 910.9,1054.1 906.8,1055.9 902.7,1057.7 898.7,1059.6 894.5,1061.4 890.4,1063.2 886.3,1065.1 882.1,1066.9 878.0,1068.8 873.8,1070.7 869.6,1072.5 865.4,1074.4 861.2,1076.3 856.9,1078.2 852.7,1080.1 848.4,1082.0 844.1,1083.9"/></clipPath></defs>
<path d="M844.1 1083.9 L848.4 1082.0 L852.7 1080.1 L856.9 1078.2 L861.2 1076.3 L865.4 1074.4 L869.6 1072.5 L873.8 1070.7 L878.0 1068.8 L882.1 1066.9 L886.3 1065.1 L890.4 1063.2 L894.5 1061.4 L898.7 1059.6 L902.7 1057.7 L906.8 1055.9 L910.9 1054.1 L914.9 1052.3 L919.0 1050.5 L923.0 1048.7 L927.0 1046.9 L931.0 1045.1 L935.0 1043.3 L939.0 1041.5 L942.9 1039.8 L946.9 1038.0 L950.8 1036.2 L954.7 1034.5 L958.6 1032.8 L962.5 1031.0 L966.4 1029.3 L970.3 1027.5 L974.1 1025.8 L978.0 1024.1 L981.8 1022.4 L985.6 1020.7 L989.4 1019.0 L993.2 1017.3 L997.0 1015.6 L1000.8 1013.9 L1004.5 1012.2 L1008.3 1010.6 L1012.0 1008.9 L1015.7 1007.2 L1019.4 1005.6 L1023.1 1003.9 L1026.8 1002.3 L1030.5 1000.6 L1034.1 999.0 L1037.8 997.4 L1041.4 995.8 L1045.0 994.1 L1048.6 992.5 L1052.2 990.9 L1055.8 989.3 L1059.4 987.7 L1063.0 986.1 L1066.5 984.5 L1070.1 982.9 L1073.6 981.4M844.1 1083.9 L849.7 1085.2 L855.3 1086.4 L861.0 1087.7 L866.6 1088.9 L872.2 1090.2 L877.9 1091.5 L883.6 1092.7 L889.2 1094.0 L894.9 1095.3 L900.6 1096.6 L906.4 1097.9 L912.1 1099.1 L917.8 1100.4 L923.6 1101.7 L929.4 1103.0 L935.2 1104.3 L941.0 1105.6 L946.8 1106.9 L952.6 1108.2 L958.4 1109.5 L964.3 1110.8 L970.2 1112.1 L976.0 1113.5 L981.9 1114.8 L987.8 1116.1 L993.8 1117.4 L999.7 1118.8 L1005.6 1120.1 L1011.6 1121.4 L1017.6 1122.8 L1023.6 1124.1 L1029.6 1125.4 L1035.6 1126.8 L1041.6 1128.1 L1047.7 1129.5 L1053.7 1130.9 L1059.8 1132.2 L1065.9 1133.6 L1072.0 1134.9 L1078.1 1136.3 L1084.3 1137.7 L1090.4 1139.1 L1096.6 1140.4 L1102.8 1141.8 L1108.9 1143.2 L1115.1 1144.6 L1121.4 1146.0 L1127.6 1147.4 L1133.9 1148.8 L1140.1 1150.2 L1146.4 1151.6 L1152.7 1153.0 L1159.0 1154.4 L1165.3 1155.8 L1171.7 1157.3 L1178.0 1158.7 L1184.4 1160.1 L1190.8 1161.5 L1197.2 1163.0M860.7 1087.6 L864.9 1085.7 L869.2 1083.8 L873.4 1081.9 L877.7 1080.0 L881.9 1078.1 L886.1 1076.2 L890.2 1074.3 L894.4 1072.4 L898.5 1070.5 L902.7 1068.7 L906.8 1066.8 L910.9 1064.9 L915.0 1063.1 L919.1 1061.3 L923.1 1059.4 L927.2 1057.6 L931.2 1055.8 L935.3 1054.0 L939.3 1052.1 L943.3 1050.3 L947.2 1048.5 L951.2 1046.7 L955.2 1045.0 L959.1 1043.2 L963.1 1041.4 L967.0 1039.6 L970.9 1037.9 L974.8 1036.1 L978.6 1034.4 L982.5 1032.6 L986.4 1030.9 L990.2 1029.1 L994.0 1027.4 L997.8 1025.7 L1001.6 1024.0 L1005.4 1022.3 L1009.2 1020.6 L1013.0 1018.9 L1016.7 1017.2 L1020.5 1015.5 L1024.2 1013.8 L1027.9 1012.1 L1031.6 1010.4 L1035.3 1008.8 L1039.0 1007.1 L1042.7 1005.5 L1046.3 1003.8 L1050.0 1002.2 L1053.6 1000.5 L1057.2 998.9 L1060.8 997.3 L1064.4 995.6 L1068.0 994.0 L1071.6 992.4 L1075.2 990.8 L1078.7 989.2 L1082.3 987.6 L1085.8 986.0 L1089.3 984.4M856.7 1078.3 L862.3 1079.5 L867.9 1080.8 L873.5 1082.0 L879.1 1083.3 L884.7 1084.5 L890.4 1085.8 L896.0 1087.0 L901.7 1088.3 L907.4 1089.6 L913.1 1090.8 L918.8 1092.1 L924.5 1093.4 L930.2 1094.6 L936.0 1095.9 L941.7 1097.2 L947.5 1098.5 L953.3 1099.8 L959.1 1101.0 L964.9 1102.3 L970.7 1103.6 L976.6 1104.9 L982.4 1106.2 L988.3 1107.5 L994.1 1108.8 L1000.0 1110.1 L1005.9 1111.5 L1011.9 1112.8 L1017.8 1114.1 L1023.7 1115.4 L1029.7 1116.7 L1035.7 1118.1 L1041.7 1119.4 L1047.7 1120.7 L1053.7 1122.1 L1059.7 1123.4 L1065.7 1124.7 L1071.8 1126.1 L1077.9 1127.4 L1084.0 1128.8 L1090.1 1130.1 L1096.2 1131.5 L1102.3 1132.9 L1108.4 1134.2 L1114.6 1135.6 L1120.8 1137.0 L1127.0 1138.3 L1133.2 1139.7 L1139.4 1141.1 L1145.6 1142.5 L1151.9 1143.9 L1158.1 1145.3 L1164.4 1146.7 L1170.7 1148.1 L1177.0 1149.5 L1183.3 1150.9 L1189.7 1152.3 L1196.0 1153.7 L1202.4 1155.1 L1208.8 1156.5M877.3 1091.4 L881.6 1089.4 L885.8 1087.5 L890.0 1085.6 L894.2 1083.6 L898.4 1081.7 L902.6 1079.8 L906.8 1077.9 L910.9 1076.0 L915.1 1074.1 L919.2 1072.3 L923.3 1070.4 L927.4 1068.5 L931.5 1066.7 L935.5 1064.8 L939.6 1063.0 L943.6 1061.1 L947.6 1059.3 L951.6 1057.5 L955.6 1055.6 L959.6 1053.8 L963.6 1052.0 L967.5 1050.2 L971.5 1048.4 L975.4 1046.6 L979.3 1044.8 L983.2 1043.0 L987.1 1041.3 L991.0 1039.5 L994.9 1037.7 L998.7 1036.0 L1002.5 1034.2 L1006.4 1032.5 L1010.2 1030.8 L1014.0 1029.0 L1017.8 1027.3 L1021.6 1025.6 L1025.3 1023.9 L1029.1 1022.1 L1032.8 1020.4 L1036.5 1018.7 L1040.2 1017.0 L1043.9 1015.4 L1047.6 1013.7 L1051.3 1012.0 L1055.0 1010.3 L1058.6 1008.7 L1062.3 1007.0 L1065.9 1005.3 L1069.5 1003.7 L1073.1 1002.0 L1076.7 1000.4 L1080.3 998.8 L1083.9 997.1 L1087.5 995.5 L1091.0 993.9 L1094.5 992.3 L1098.1 990.7 L1101.6 989.1 L1105.1 987.5M869.2 1072.7 L874.8 1074.0 L880.3 1075.2 L885.9 1076.4 L891.5 1077.7 L897.1 1078.9 L902.8 1080.1 L908.4 1081.4 L914.0 1082.6 L919.7 1083.9 L925.4 1085.1 L931.1 1086.4 L936.8 1087.6 L942.5 1088.9 L948.2 1090.2 L954.0 1091.4 L959.7 1092.7 L965.5 1094.0 L971.3 1095.2 L977.1 1096.5 L982.9 1097.8 L988.7 1099.1 L994.5 1100.4 L1000.4 1101.7 L1006.2 1103.0 L1012.1 1104.2 L1018.0 1105.5 L1023.9 1106.8 L1029.8 1108.2 L1035.7 1109.5 L1041.7 1110.8 L1047.6 1112.1 L1053.6 1113.4 L1059.6 1114.7 L1065.6 1116.0 L1071.6 1117.4 L1077.6 1118.7 L1083.7 1120.0 L1089.7 1121.4 L1095.8 1122.7 L1101.9 1124.0 L1108.0 1125.4 L1114.1 1126.7 L1120.2 1128.1 L1126.3 1129.4 L1132.5 1130.8 L1138.7 1132.2 L1144.8 1133.5 L1151.0 1134.9 L1157.2 1136.3 L1163.5 1137.6 L1169.7 1139.0 L1176.0 1140.4 L1182.2 1141.8 L1188.5 1143.2 L1194.8 1144.5 L1201.1 1145.9 L1207.5 1147.3 L1213.8 1148.7 L1220.2 1150.1M894.1 1095.1 L898.3 1093.2 L902.5 1091.2 L906.7 1089.3 L910.9 1087.3 L915.1 1085.4 L919.3 1083.5 L923.4 1081.6 L927.6 1079.7 L931.7 1077.8 L935.8 1075.9 L939.9 1074.0 L943.9 1072.1 L948.0 1070.2 L952.1 1068.4 L956.1 1066.5 L960.1 1064.7 L964.1 1062.8 L968.1 1061.0 L972.1 1059.1 L976.1 1057.3 L980.0 1055.5 L984.0 1053.7 L987.9 1051.9 L991.8 1050.1 L995.7 1048.3 L999.6 1046.5 L1003.5 1044.7 L1007.3 1042.9 L1011.2 1041.1 L1015.0 1039.4 L1018.8 1037.6 L1022.7 1035.9 L1026.4 1034.1 L1030.2 1032.4 L1034.0 1030.6 L1037.8 1028.9 L1041.5 1027.2 L1045.3 1025.4 L1049.0 1023.7 L1052.7 1022.0 L1056.4 1020.3 L1060.1 1018.6 L1063.8 1016.9 L1067.4 1015.2 L1071.1 1013.5 L1074.7 1011.9 L1078.3 1010.2 L1082.0 1008.5 L1085.6 1006.9 L1089.1 1005.2 L1092.7 1003.6 L1096.3 1001.9 L1099.9 1000.3 L1103.4 998.6 L1106.9 997.0 L1110.5 995.4 L1114.0 993.8 L1117.5 992.2 L1121.0 990.6M881.5 1067.2 L887.1 1068.4 L892.6 1069.7 L898.2 1070.9 L903.8 1072.1 L909.4 1073.3 L915.0 1074.5 L920.6 1075.8 L926.3 1077.0 L931.9 1078.2 L937.6 1079.5 L943.2 1080.7 L948.9 1082.0 L954.6 1083.2 L960.3 1084.5 L966.1 1085.7 L971.8 1087.0 L977.6 1088.2 L983.3 1089.5 L989.1 1090.8 L994.9 1092.0 L1000.7 1093.3 L1006.5 1094.6 L1012.3 1095.9 L1018.2 1097.1 L1024.0 1098.4 L1029.9 1099.7 L1035.8 1101.0 L1041.7 1102.3 L1047.6 1103.6 L1053.5 1104.9 L1059.5 1106.2 L1065.4 1107.5 L1071.4 1108.8 L1077.4 1110.1 L1083.4 1111.4 L1089.4 1112.7 L1095.4 1114.0 L1101.4 1115.4 L1107.5 1116.7 L1113.5 1118.0 L1119.6 1119.3 L1125.7 1120.7 L1131.8 1122.0 L1137.9 1123.3 L1144.1 1124.7 L1150.2 1126.0 L1156.4 1127.4 L1162.6 1128.7 L1168.7 1130.1 L1175.0 1131.4 L1181.2 1132.8 L1187.4 1134.2 L1193.7 1135.5 L1199.9 1136.9 L1206.2 1138.3 L1212.5 1139.7 L1218.8 1141.0 L1225.1 1142.4 L1231.5 1143.8M910.9 1098.9 L915.2 1096.9 L919.4 1095.0 L923.6 1093.0 L927.7 1091.1 L931.9 1089.1 L936.0 1087.2 L940.2 1085.3 L944.3 1083.3 L948.4 1081.4 L952.5 1079.5 L956.6 1077.6 L960.6 1075.7 L964.7 1073.9 L968.7 1072.0 L972.7 1070.1 L976.7 1068.2 L980.7 1066.4 L984.7 1064.5 L988.7 1062.7 L992.6 1060.8 L996.6 1059.0 L1000.5 1057.2 L1004.4 1055.4 L1008.3 1053.5 L1012.2 1051.7 L1016.1 1049.9 L1019.9 1048.1 L1023.8 1046.3 L1027.6 1044.6 L1031.4 1042.8 L1035.2 1041.0 L1039.0 1039.2 L1042.8 1037.5 L1046.6 1035.7 L1050.3 1034.0 L1054.1 1032.2 L1057.8 1030.5 L1061.5 1028.8 L1065.3 1027.0 L1068.9 1025.3 L1072.6 1023.6 L1076.3 1021.9 L1080.0 1020.2 L1083.6 1018.5 L1087.3 1016.8 L1090.9 1015.1 L1094.5 1013.4 L1098.1 1011.7 L1101.7 1010.1 L1105.3 1008.4 L1108.8 1006.7 L1112.4 1005.1 L1115.9 1003.4 L1119.5 1001.8 L1123.0 1000.2 L1126.5 998.5 L1130.0 996.9 L1133.5 995.3 L1136.9 993.7M893.7 1061.8 L899.3 1063.0 L904.8 1064.2 L910.4 1065.4 L915.9 1066.6 L921.5 1067.8 L927.1 1069.0 L932.7 1070.2 L938.3 1071.5 L944.0 1072.7 L949.6 1073.9 L955.3 1075.1 L961.0 1076.4 L966.6 1077.6 L972.3 1078.8 L978.0 1080.1 L983.8 1081.3 L989.5 1082.6 L995.3 1083.8 L1001.0 1085.1 L1006.8 1086.3 L1012.6 1087.6 L1018.4 1088.8 L1024.2 1090.1 L1030.0 1091.4 L1035.9 1092.6 L1041.7 1093.9 L1047.6 1095.2 L1053.5 1096.5 L1059.4 1097.7 L1065.3 1099.0 L1071.2 1100.3 L1077.1 1101.6 L1083.1 1102.9 L1089.0 1104.2 L1095.0 1105.5 L1101.0 1106.8 L1107.0 1108.1 L1113.0 1109.4 L1119.0 1110.7 L1125.1 1112.0 L1131.2 1113.3 L1137.2 1114.7 L1143.3 1116.0 L1149.4 1117.3 L1155.5 1118.6 L1161.7 1120.0 L1167.8 1121.3 L1174.0 1122.6 L1180.1 1124.0 L1186.3 1125.3 L1192.5 1126.7 L1198.7 1128.0 L1205.0 1129.4 L1211.2 1130.7 L1217.5 1132.1 L1223.8 1133.5 L1230.0 1134.8 L1236.3 1136.2 L1242.7 1137.6M927.9 1102.7 L932.1 1100.7 L936.3 1098.7 L940.5 1096.8 L944.7 1094.8 L948.8 1092.9 L952.9 1090.9 L957.1 1089.0 L961.2 1087.0 L965.2 1085.1 L969.3 1083.2 L973.4 1081.3 L977.4 1079.4 L981.5 1077.5 L985.5 1075.6 L989.5 1073.7 L993.5 1071.8 L997.5 1070.0 L1001.4 1068.1 L1005.4 1066.2 L1009.3 1064.4 L1013.2 1062.5 L1017.1 1060.7 L1021.0 1058.9 L1024.9 1057.0 L1028.8 1055.2 L1032.6 1053.4 L1036.5 1051.6 L1040.3 1049.8 L1044.1 1048.0 L1047.9 1046.2 L1051.7 1044.4 L1055.5 1042.6 L1059.3 1040.9 L1063.0 1039.1 L1066.8 1037.3 L1070.5 1035.6 L1074.2 1033.8 L1077.9 1032.1 L1081.6 1030.4 L1085.3 1028.6 L1089.0 1026.9 L1092.6 1025.2 L1096.3 1023.5 L1099.9 1021.8 L1103.5 1020.1 L1107.1 1018.4 L1110.7 1016.7 L1114.3 1015.0 L1117.9 1013.3 L1121.5 1011.6 L1125.0 1009.9 L1128.6 1008.3 L1132.1 1006.6 L1135.6 1005.0 L1139.1 1003.3 L1142.6 1001.7 L1146.1 1000.0 L1149.6 998.4 L1153.0 996.8M905.8 1056.4 L911.3 1057.6 L916.9 1058.7 L922.4 1059.9 L928.0 1061.1 L933.5 1062.3 L939.1 1063.5 L944.7 1064.7 L950.3 1066.0 L955.9 1067.2 L961.6 1068.4 L967.2 1069.6 L972.9 1070.8 L978.5 1072.0 L984.2 1073.3 L989.9 1074.5 L995.6 1075.7 L1001.3 1077.0 L1007.1 1078.2 L1012.8 1079.4 L1018.6 1080.7 L1024.3 1081.9 L1030.1 1083.2 L1035.9 1084.4 L1041.7 1085.7 L1047.6 1086.9 L1053.4 1088.2 L1059.2 1089.5 L1065.1 1090.7 L1071.0 1092.0 L1076.9 1093.3 L1082.8 1094.5 L1088.7 1095.8 L1094.6 1097.1 L1100.6 1098.4 L1106.5 1099.6 L1112.5 1100.9 L1118.5 1102.2 L1124.5 1103.5 L1130.5 1104.8 L1136.5 1106.1 L1142.6 1107.4 L1148.6 1108.7 L1154.7 1110.0 L1160.8 1111.3 L1166.9 1112.7 L1173.0 1114.0 L1179.1 1115.3 L1185.2 1116.6 L1191.4 1117.9 L1197.6 1119.3 L1203.7 1120.6 L1209.9 1121.9 L1216.2 1123.3 L1222.4 1124.6 L1228.6 1126.0 L1234.9 1127.3 L1241.1 1128.7 L1247.4 1130.0 L1253.7 1131.4M945.0 1106.5 L949.2 1104.5 L953.4 1102.5 L957.5 1100.6 L961.7 1098.6 L965.8 1096.6 L969.9 1094.7 L974.0 1092.7 L978.1 1090.8 L982.2 1088.8 L986.3 1086.9 L990.3 1085.0 L994.3 1083.1 L998.3 1081.2 L1002.4 1079.2 L1006.3 1077.4 L1010.3 1075.5 L1014.3 1073.6 L1018.2 1071.7 L1022.2 1069.8 L1026.1 1068.0 L1030.0 1066.1 L1033.9 1064.3 L1037.8 1062.4 L1041.6 1060.6 L1045.5 1058.7 L1049.3 1056.9 L1053.2 1055.1 L1057.0 1053.3 L1060.8 1051.5 L1064.6 1049.7 L1068.3 1047.9 L1072.1 1046.1 L1075.9 1044.3 L1079.6 1042.5 L1083.3 1040.7 L1087.0 1039.0 L1090.7 1037.2 L1094.4 1035.5 L1098.1 1033.7 L1101.8 1032.0 L1105.4 1030.2 L1109.1 1028.5 L1112.7 1026.8 L1116.3 1025.1 L1119.9 1023.3 L1123.5 1021.6 L1127.1 1019.9 L1130.7 1018.2 L1134.2 1016.5 L1137.8 1014.9 L1141.3 1013.2 L1144.8 1011.5 L1148.4 1009.8 L1151.9 1008.2 L1155.3 1006.5 L1158.8 1004.8 L1162.3 1003.2 L1165.7 1001.6 L1169.2 999.9M917.8 1051.0 L923.3 1052.2 L928.8 1053.4 L934.3 1054.6 L939.9 1055.7 L945.4 1056.9 L951.0 1058.1 L956.6 1059.3 L962.2 1060.5 L967.8 1061.7 L973.4 1062.9 L979.0 1064.1 L984.6 1065.3 L990.3 1066.5 L996.0 1067.8 L1001.6 1069.0 L1007.3 1070.2 L1013.0 1071.4 L1018.8 1072.6 L1024.5 1073.9 L1030.2 1075.1 L1036.0 1076.3 L1041.8 1077.6 L1047.5 1078.8 L1053.3 1080.0 L1059.1 1081.3 L1065.0 1082.5 L1070.8 1083.8 L1076.6 1085.0 L1082.5 1086.3 L1088.4 1087.5 L1094.3 1088.8 L1100.2 1090.1 L1106.1 1091.3 L1112.0 1092.6 L1117.9 1093.9 L1123.9 1095.1 L1129.9 1096.4 L1135.8 1097.7 L1141.8 1099.0 L1147.8 1100.3 L1153.9 1101.6 L1159.9 1102.8 L1165.9 1104.1 L1172.0 1105.4 L1178.1 1106.7 L1184.2 1108.0 L1190.3 1109.4 L1196.4 1110.7 L1202.5 1112.0 L1208.7 1113.3 L1214.9 1114.6 L1221.0 1115.9 L1227.2 1117.3 L1233.4 1118.6 L1239.6 1119.9 L1245.9 1121.3 L1252.1 1122.6 L1258.4 1123.9 L1264.7 1125.3M962.2 1110.4 L966.4 1108.4 L970.6 1106.4 L974.7 1104.4 L978.8 1102.4 L983.0 1100.4 L987.1 1098.4 L991.1 1096.5 L995.2 1094.5 L999.3 1092.6 L1003.3 1090.6 L1007.3 1088.7 L1011.4 1086.8 L1015.4 1084.8 L1019.3 1082.9 L1023.3 1081.0 L1027.3 1079.1 L1031.2 1077.2 L1035.1 1075.3 L1039.1 1073.4 L1043.0 1071.5 L1046.9 1069.7 L1050.7 1067.8 L1054.6 1065.9 L1058.5 1064.0 L1062.3 1062.2 L1066.1 1060.3 L1069.9 1058.4 L1073.7 1056.6 L1077.5 1054.7 L1081.3 1052.9 L1085.1 1051.0 L1088.8 1049.2 L1092.5 1047.4 L1096.3 1045.5 L1100.0 1043.7 L1103.7 1041.9 L1107.4 1040.1 L1111.0 1038.3 L1114.7 1036.5 L1118.4 1034.8 L1122.0 1033.0 L1125.6 1031.2 L1129.2 1029.5 L1132.8 1027.7 L1136.4 1026.0 L1140.0 1024.3 L1143.6 1022.6 L1147.1 1020.9 L1150.7 1019.1 L1154.2 1017.4 L1157.7 1015.7 L1161.2 1014.0 L1164.7 1012.3 L1168.2 1010.6 L1171.7 1008.8 L1175.2 1007.1 L1178.6 1005.4 L1182.0 1003.6 L1185.5 1001.8M929.6 1045.7 L935.1 1046.9 L940.6 1048.1 L946.1 1049.2 L951.7 1050.4 L957.2 1051.6 L962.8 1052.8 L968.3 1053.9 L973.9 1055.1 L979.5 1056.3 L985.1 1057.5 L990.7 1058.7 L996.3 1059.9 L1002.0 1061.1 L1007.6 1062.3 L1013.3 1063.5 L1018.9 1064.7 L1024.6 1065.9 L1030.3 1067.1 L1036.0 1068.3 L1041.8 1069.5 L1047.5 1070.7 L1053.3 1072.0 L1059.0 1073.2 L1064.8 1074.4 L1070.6 1075.6 L1076.4 1076.8 L1082.2 1078.0 L1088.0 1079.2 L1093.9 1080.5 L1099.7 1081.7 L1105.6 1082.9 L1111.5 1084.1 L1117.4 1085.4 L1123.3 1086.6 L1129.2 1087.8 L1135.2 1089.1 L1141.1 1090.3 L1147.1 1091.5 L1153.1 1092.8 L1159.0 1094.0 L1165.0 1095.3 L1171.1 1096.5 L1177.1 1097.7 L1183.1 1099.0 L1189.2 1100.3 L1195.3 1101.5 L1201.4 1102.8 L1207.5 1104.0 L1213.6 1105.3 L1219.7 1106.5 L1225.9 1107.8 L1232.0 1109.1 L1238.2 1110.4 L1244.4 1111.6 L1250.6 1112.9 L1256.8 1114.2 L1263.0 1115.5 L1269.3 1116.7 L1275.5 1118.0M979.6 1114.2 L983.7 1112.2 L987.9 1110.2 L992.0 1108.2 L996.1 1106.2 L1000.2 1104.2 L1004.3 1102.2 L1008.4 1100.3 L1012.4 1098.3 L1016.5 1096.3 L1020.5 1094.4 L1024.5 1092.4 L1028.5 1090.5 L1032.5 1088.5 L1036.4 1086.6 L1040.4 1084.7 L1044.3 1082.8 L1048.3 1080.9 L1052.2 1079.0 L1056.1 1077.1 L1060.0 1075.1 L1063.8 1073.2 L1067.7 1071.3 L1071.6 1069.4 L1075.4 1067.4 L1079.2 1065.5 L1083.0 1063.6 L1086.8 1061.6 L1090.6 1059.7 L1094.4 1057.8 L1098.1 1055.8 L1101.9 1053.9 L1105.6 1052.0 L1109.3 1050.1 L1113.0 1048.2 L1116.7 1046.3 L1120.4 1044.5 L1124.1 1042.6 L1127.8 1040.7 L1131.4 1038.9 L1135.0 1037.1 L1138.7 1035.3 L1142.3 1033.5 L1145.9 1031.7 L1149.5 1029.9 L1153.0 1028.2 L1156.6 1026.4 L1160.1 1024.7 L1163.7 1023.0 L1167.2 1021.2 L1170.7 1019.5 L1174.2 1017.7 L1177.7 1015.9 L1181.2 1014.1 L1184.7 1012.3 L1188.1 1010.5 L1191.6 1008.6 L1195.0 1006.7 L1198.5 1004.7 L1201.9 1002.7M941.4 1040.5 L946.8 1041.6 L952.3 1042.8 L957.8 1043.9 L963.3 1045.1 L968.9 1046.3 L974.4 1047.4 L979.9 1048.6 L985.5 1049.8 L991.1 1051.0 L996.7 1052.1 L1002.3 1053.3 L1007.9 1054.5 L1013.5 1055.7 L1019.1 1056.9 L1024.8 1058.1 L1030.4 1059.3 L1036.1 1060.5 L1041.8 1061.7 L1047.5 1062.8 L1053.2 1064.0 L1058.9 1065.2 L1064.7 1066.3 L1070.4 1067.5 L1076.2 1068.7 L1081.9 1069.8 L1087.7 1071.0 L1093.5 1072.1 L1099.3 1073.3 L1105.2 1074.4 L1111.0 1075.6 L1116.9 1076.7 L1122.7 1077.9 L1128.6 1079.0 L1134.5 1080.2 L1140.4 1081.3 L1146.3 1082.5 L1152.3 1083.6 L1158.2 1084.8 L1164.2 1085.9 L1170.1 1087.0 L1176.1 1088.2 L1182.1 1089.3 L1188.1 1090.5 L1194.2 1091.6 L1200.2 1092.8 L1206.3 1093.9 L1212.3 1095.1 L1218.4 1096.2 L1224.5 1097.4 L1230.6 1098.5 L1236.8 1099.7 L1242.9 1100.8 L1249.1 1102.0 L1255.2 1103.1 L1261.4 1104.3 L1267.6 1105.4 L1273.8 1106.6 L1280.1 1107.7 L1286.3 1108.9M997.0 1118.2 L1001.2 1116.1 L1005.3 1114.1 L1009.4 1112.1 L1013.5 1110.1 L1017.6 1108.1 L1021.6 1106.1 L1025.7 1104.1 L1029.7 1102.1 L1033.7 1100.1 L1037.8 1098.1 L1041.8 1096.2 L1045.7 1094.2 L1049.7 1092.3 L1053.7 1090.3 L1057.6 1088.4 L1061.5 1086.5 L1065.4 1084.5 L1069.3 1082.6 L1073.2 1080.7 L1077.1 1078.8 L1080.9 1076.8 L1084.8 1074.8 L1088.6 1072.8 L1092.4 1070.8 L1096.2 1068.8 L1100.0 1066.8 L1103.8 1064.8 L1107.6 1062.7 L1111.3 1060.7 L1115.1 1058.7 L1118.8 1056.7 L1122.5 1054.7 L1126.2 1052.7 L1129.9 1050.7 L1133.6 1048.7 L1137.3 1046.8 L1140.9 1044.8 L1144.6 1042.9 L1148.2 1041.0 L1151.8 1039.1 L1155.4 1037.2 L1159.0 1035.4 L1162.6 1033.6 L1166.2 1031.8 L1169.7 1030.0 L1173.3 1028.3 L1176.8 1026.5 L1180.3 1024.7 L1183.9 1022.9 L1187.4 1021.1 L1190.9 1019.3 L1194.3 1017.5 L1197.8 1015.6 L1201.3 1013.7 L1204.7 1011.7 L1208.1 1009.7 L1211.6 1007.5 L1215.0 1005.3 L1218.4 1002.9M953.0 1035.3 L958.4 1036.4 L963.9 1037.6 L969.4 1038.7 L974.9 1039.9 L980.4 1041.0 L985.9 1042.2 L991.5 1043.3 L997.0 1044.5 L1002.6 1045.7 L1008.1 1046.8 L1013.7 1048.0 L1019.3 1049.2 L1024.9 1050.4 L1030.5 1051.5 L1036.2 1052.7 L1041.8 1053.9 L1047.5 1055.1 L1053.1 1056.3 L1058.8 1057.4 L1064.5 1058.5 L1070.2 1059.7 L1075.9 1060.8 L1081.7 1061.8 L1087.4 1062.9 L1093.2 1064.0 L1098.9 1065.1 L1104.7 1066.1 L1110.5 1067.2 L1116.3 1068.3 L1122.2 1069.3 L1128.0 1070.4 L1133.8 1071.4 L1139.7 1072.4 L1145.6 1073.5 L1151.5 1074.5 L1157.4 1075.5 L1163.3 1076.5 L1169.2 1077.6 L1175.2 1078.6 L1181.1 1079.6 L1187.1 1080.6 L1193.1 1081.6 L1199.1 1082.6 L1205.1 1083.6 L1211.1 1084.6 L1217.2 1085.6 L1223.2 1086.6 L1229.3 1087.6 L1235.4 1088.6 L1241.5 1089.6 L1247.6 1090.6 L1253.7 1091.5 L1259.8 1092.5 L1266.0 1093.5 L1272.2 1094.5 L1278.4 1095.5 L1284.5 1096.4 L1290.8 1097.4 L1297.0 1098.4M1014.6 1122.1 L1018.7 1120.0 L1022.8 1118.0 L1026.9 1116.0 L1031.0 1113.9 L1035.1 1111.9 L1039.1 1109.9 L1043.1 1107.9 L1047.2 1105.9 L1051.2 1103.9 L1055.2 1101.9 L1059.1 1100.0 L1063.1 1098.0 L1067.1 1096.0 L1071.0 1094.1 L1074.9 1092.1 L1078.8 1090.2 L1082.7 1088.3 L1086.6 1086.3 L1090.5 1084.4 L1094.3 1082.4 L1098.2 1080.4 L1102.0 1078.3 L1105.8 1076.3 L1109.6 1074.2 L1113.4 1072.1 L1117.2 1070.0 L1120.9 1067.8 L1124.7 1065.7 L1128.4 1063.6 L1132.2 1061.4 L1135.9 1059.3 L1139.6 1057.2 L1143.3 1055.1 L1146.9 1053.0 L1150.6 1050.9 L1154.3 1048.9 L1157.9 1046.8 L1161.5 1044.8 L1165.1 1042.8 L1168.7 1040.9 L1172.3 1038.9 L1175.9 1037.1 L1179.5 1035.2 L1183.0 1033.4 L1186.6 1031.6 L1190.1 1029.8 L1193.6 1028.0 L1197.1 1026.2 L1200.6 1024.4 L1204.1 1022.5 L1207.6 1020.7 L1211.1 1018.7 L1214.5 1016.7 L1218.0 1014.7 L1221.4 1012.6 L1224.8 1010.3 L1228.2 1007.9 L1231.6 1005.3 L1235.0 1002.5M964.5 1030.1 L969.9 1031.3 L975.4 1032.4 L980.9 1033.5 L986.3 1034.7 L991.8 1035.8 L997.3 1037.0 L1002.9 1038.1 L1008.4 1039.3 L1013.9 1040.4 L1019.5 1041.6 L1025.1 1042.7 L1030.6 1043.9 L1036.2 1045.1 L1041.8 1046.2 L1047.4 1047.4 L1053.1 1048.6 L1058.7 1049.7 L1064.4 1050.9 L1070.0 1052.0 L1075.7 1053.1 L1081.4 1054.2 L1087.1 1055.2 L1092.8 1056.2 L1098.6 1057.2 L1104.3 1058.2 L1110.0 1059.2 L1115.8 1060.1 L1121.6 1061.1 L1127.4 1062.0 L1133.2 1063.0 L1139.0 1063.9 L1144.9 1064.8 L1150.7 1065.7 L1156.6 1066.6 L1162.4 1067.5 L1168.3 1068.4 L1174.2 1069.3 L1180.1 1070.2 L1186.1 1071.0 L1192.0 1071.9 L1198.0 1072.7 L1203.9 1073.6 L1209.9 1074.4 L1215.9 1075.3 L1221.9 1076.1 L1227.9 1076.9 L1234.0 1077.7 L1240.0 1078.5 L1246.1 1079.4 L1252.2 1080.2 L1258.3 1081.0 L1264.4 1081.7 L1270.5 1082.5 L1276.7 1083.3 L1282.8 1084.1 L1289.0 1084.9 L1295.2 1085.6 L1301.4 1086.4 L1307.6 1087.1M1032.3 1126.0 L1036.4 1124.0 L1040.5 1121.9 L1044.6 1119.9 L1048.6 1117.8 L1052.7 1115.8 L1056.7 1113.8 L1060.7 1111.8 L1064.7 1109.8 L1068.7 1107.8 L1072.7 1105.8 L1076.6 1103.8 L1080.6 1101.8 L1084.5 1099.8 L1088.4 1097.8 L1092.3 1095.9 L1096.2 1093.9 L1100.1 1092.0 L1104.0 1090.0 L1107.8 1088.1 L1111.7 1086.0 L1115.5 1084.0 L1119.3 1081.8 L1123.1 1079.7 L1126.9 1077.5 L1130.7 1075.3 L1134.4 1073.1 L1138.2 1070.9 L1141.9 1068.6 L1145.6 1066.4 L1149.3 1064.1 L1153.0 1061.9 L1156.7 1059.6 L1160.4 1057.4 L1164.1 1055.2 L1167.7 1053.0 L1171.3 1050.8 L1175.0 1048.7 L1178.6 1046.5 L1182.2 1044.5 L1185.8 1042.4 L1189.3 1040.4 L1192.9 1038.5 L1196.5 1036.6 L1200.0 1034.8 L1203.5 1033.0 L1207.0 1031.1 L1210.5 1029.3 L1214.0 1027.5 L1217.5 1025.6 L1221.0 1023.7 L1224.4 1021.7 L1227.9 1019.7 L1231.3 1017.6 L1234.8 1015.4 L1238.2 1013.1 L1241.6 1010.6 L1245.0 1007.9 L1248.4 1005.0 L1251.8 1001.7M975.9 1025.1 L981.3 1026.2 L986.7 1027.3 L992.2 1028.4 L997.7 1029.6 L1003.1 1030.7 L1008.6 1031.8 L1014.1 1033.0 L1019.7 1034.1 L1025.2 1035.2 L1030.7 1036.4 L1036.3 1037.5 L1041.8 1038.7 L1047.4 1039.8 L1053.0 1041.0 L1058.6 1042.1 L1064.2 1043.3 L1069.9 1044.5 L1075.5 1045.6 L1081.1 1046.7 L1086.8 1047.7 L1092.5 1048.7 L1098.2 1049.7 L1103.9 1050.6 L1109.6 1051.5 L1115.3 1052.4 L1121.0 1053.3 L1126.8 1054.2 L1132.6 1055.0 L1138.3 1055.8 L1144.1 1056.7 L1149.9 1057.5 L1155.7 1058.3 L1161.6 1059.0 L1167.4 1059.8 L1173.3 1060.5 L1179.2 1061.3 L1185.0 1062.0 L1190.9 1062.7 L1196.9 1063.5 L1202.8 1064.2 L1208.7 1064.8 L1214.7 1065.5 L1220.6 1066.2 L1226.6 1066.9 L1232.6 1067.5 L1238.6 1068.1 L1244.7 1068.8 L1250.7 1069.4 L1256.8 1070.0 L1262.8 1070.6 L1268.9 1071.2 L1275.0 1071.8 L1281.1 1072.4 L1287.3 1073.0 L1293.4 1073.5 L1299.6 1074.1 L1305.7 1074.6 L1311.9 1075.2 L1318.1 1075.7M1050.1 1130.0 L1054.2 1128.0 L1058.3 1125.9 L1062.3 1123.8 L1066.4 1121.8 L1070.4 1119.7 L1074.4 1117.7 L1078.4 1115.7 L1082.4 1113.6 L1086.4 1111.6 L1090.3 1109.6 L1094.3 1107.6 L1098.2 1105.6 L1102.1 1103.6 L1106.0 1101.6 L1109.9 1099.7 L1113.8 1097.7 L1117.6 1095.7 L1121.5 1093.8 L1125.3 1091.8 L1129.1 1089.7 L1132.9 1087.6 L1136.7 1085.4 L1140.5 1083.1 L1144.3 1080.9 L1148.0 1078.5 L1151.8 1076.2 L1155.5 1073.8 L1159.2 1071.5 L1162.9 1069.1 L1166.6 1066.7 L1170.3 1064.3 L1174.0 1061.9 L1177.6 1059.5 L1181.3 1057.2 L1184.9 1054.9 L1188.5 1052.6 L1192.2 1050.3 L1195.7 1048.1 L1199.3 1045.9 L1202.9 1043.8 L1206.5 1041.8 L1210.0 1039.8 L1213.5 1037.8 L1217.1 1035.9 L1220.6 1034.1 L1224.1 1032.3 L1227.6 1030.4 L1231.0 1028.5 L1234.5 1026.6 L1238.0 1024.6 L1241.4 1022.6 L1244.8 1020.4 L1248.3 1018.2 L1251.7 1015.8 L1255.1 1013.3 L1258.5 1010.6 L1261.9 1007.5 L1265.3 1004.2 L1268.7 1000.4M987.1 1020.0 L992.6 1021.1 L998.0 1022.2 L1003.4 1023.4 L1008.9 1024.5 L1014.4 1025.6 L1019.8 1026.7 L1025.3 1027.8 L1030.8 1029.0 L1036.3 1030.1 L1041.9 1031.2 L1047.4 1032.4 L1053.0 1033.5 L1058.5 1034.6 L1064.1 1035.8 L1069.7 1036.9 L1075.3 1038.1 L1080.9 1039.2 L1086.5 1040.4 L1092.1 1041.4 L1097.8 1042.4 L1103.4 1043.3 L1109.1 1044.2 L1114.8 1045.1 L1120.5 1045.9 L1126.2 1046.7 L1131.9 1047.5 L1137.7 1048.3 L1143.4 1049.0 L1149.2 1049.7 L1155.0 1050.4 L1160.7 1051.1 L1166.5 1051.8 L1172.4 1052.5 L1178.2 1053.1 L1184.0 1053.7 L1189.9 1054.3 L1195.8 1054.9 L1201.6 1055.5 L1207.5 1056.0 L1213.5 1056.6 L1219.4 1057.1 L1225.3 1057.6 L1231.3 1058.2 L1237.2 1058.7 L1243.2 1059.1 L1249.2 1059.6 L1255.2 1060.1 L1261.3 1060.5 L1267.3 1060.9 L1273.4 1061.4 L1279.4 1061.8 L1285.5 1062.2 L1291.6 1062.6 L1297.7 1062.9 L1303.9 1063.3 L1310.0 1063.7 L1316.2 1064.0 L1322.3 1064.4 L1328.5 1064.7M1068.0 1134.1 L1072.1 1132.0 L1076.2 1129.9 L1080.2 1127.8 L1084.2 1125.7 L1088.2 1123.7 L1092.2 1121.6 L1096.2 1119.6 L1100.2 1117.5 L1104.1 1115.5 L1108.1 1113.5 L1112.0 1111.5 L1115.9 1109.5 L1119.8 1107.5 L1123.7 1105.5 L1127.6 1103.5 L1131.4 1101.5 L1135.3 1099.5 L1139.1 1097.5 L1142.9 1095.5 L1146.7 1093.4 L1150.5 1091.2 L1154.3 1088.9 L1158.0 1086.6 L1161.8 1084.2 L1165.5 1081.8 L1169.3 1079.3 L1173.0 1076.8 L1176.7 1074.3 L1180.4 1071.7 L1184.0 1069.2 L1187.7 1066.7 L1191.4 1064.1 L1195.0 1061.6 L1198.6 1059.1 L1202.3 1056.7 L1205.9 1054.2 L1209.5 1051.8 L1213.0 1049.5 L1216.6 1047.2 L1220.2 1045.0 L1223.7 1042.9 L1227.2 1040.8 L1230.8 1038.8 L1234.3 1036.9 L1237.8 1035.1 L1241.2 1033.2 L1244.7 1031.3 L1248.2 1029.4 L1251.6 1027.4 L1255.1 1025.3 L1258.5 1023.2 L1261.9 1021.0 L1265.3 1018.6 L1268.7 1016.0 L1272.1 1013.3 L1275.5 1010.2 L1278.9 1006.9 L1282.3 1003.1 L1285.7 998.8M998.3 1015.0 L1003.7 1016.1 L1009.1 1017.2 L1014.6 1018.3 L1020.0 1019.4 L1025.5 1020.5 L1030.9 1021.7 L1036.4 1022.8 L1041.9 1023.9 L1047.4 1025.0 L1052.9 1026.1 L1058.4 1027.3 L1064.0 1028.4 L1069.5 1029.5 L1075.1 1030.6 L1080.6 1031.8 L1086.2 1032.9 L1091.8 1034.1 L1097.4 1035.2 L1103.0 1036.2 L1108.7 1037.1 L1114.3 1038.0 L1120.0 1038.8 L1125.6 1039.6 L1131.3 1040.4 L1137.0 1041.1 L1142.7 1041.8 L1148.4 1042.5 L1154.2 1043.2 L1159.9 1043.8 L1165.7 1044.4 L1171.4 1045.0 L1177.2 1045.6 L1183.0 1046.1 L1188.8 1046.6 L1194.7 1047.1 L1200.5 1047.6 L1206.4 1048.1 L1212.2 1048.6 L1218.1 1049.0 L1224.0 1049.4 L1229.9 1049.8 L1235.9 1050.2 L1241.8 1050.6 L1247.7 1050.9 L1253.7 1051.3 L1259.7 1051.6 L1265.7 1051.9 L1271.7 1052.2 L1277.7 1052.5 L1283.8 1052.7 L1289.8 1053.0 L1295.9 1053.2 L1302.0 1053.5 L1308.1 1053.7 L1314.2 1053.9 L1320.3 1054.1 L1326.5 1054.2 L1332.6 1054.4 L1338.8 1054.5M1086.1 1138.1 L1090.2 1136.0 L1094.2 1133.9 L1098.2 1131.8 L1102.2 1129.7 L1106.2 1127.7 L1110.2 1125.6 L1114.1 1123.5 L1118.1 1121.5 L1122.0 1119.4 L1125.9 1117.4 L1129.9 1115.4 L1133.7 1113.3 L1137.6 1111.3 L1141.5 1109.3 L1145.3 1107.3 L1149.2 1105.3 L1153.0 1103.3 L1156.8 1101.3 L1160.6 1099.3 L1164.4 1097.1 L1168.2 1094.8 L1171.9 1092.5 L1175.7 1090.0 L1179.4 1087.5 L1183.1 1085.0 L1186.9 1082.4 L1190.6 1079.7 L1194.2 1077.0 L1197.9 1074.3 L1201.6 1071.6 L1205.2 1068.9 L1208.9 1066.3 L1212.5 1063.6 L1216.1 1060.9 L1219.7 1058.3 L1223.3 1055.7 L1226.9 1053.2 L1230.5 1050.8 L1234.0 1048.4 L1237.6 1046.1 L1241.1 1043.9 L1244.6 1041.7 L1248.1 1039.7 L1251.6 1037.7 L1255.1 1035.8 L1258.5 1033.9 L1262.0 1032.0 L1265.4 1030.0 L1268.9 1028.0 L1272.3 1025.9 L1275.7 1023.6 L1279.1 1021.3 L1282.5 1018.7 L1285.9 1016.0 L1289.3 1013.0 L1292.7 1009.7 L1296.1 1005.9 L1299.4 1001.6 L1302.8 996.7M1009.4 1010.1 L1014.8 1011.2 L1020.2 1012.3 L1025.6 1013.3 L1031.0 1014.4 L1036.5 1015.5 L1041.9 1016.6 L1047.4 1017.7 L1052.8 1018.9 L1058.3 1020.0 L1063.8 1021.1 L1069.3 1022.2 L1074.8 1023.3 L1080.4 1024.4 L1085.9 1025.5 L1091.5 1026.7 L1097.0 1027.8 L1102.6 1028.9 L1108.2 1030.0 L1113.8 1031.0 L1119.4 1031.9 L1125.0 1032.7 L1130.7 1033.5 L1136.3 1034.3 L1142.0 1035.0 L1147.7 1035.7 L1153.4 1036.3 L1159.1 1037.0 L1164.8 1037.5 L1170.5 1038.1 L1176.3 1038.6 L1182.0 1039.2 L1187.8 1039.6 L1193.6 1040.1 L1199.4 1040.6 L1205.2 1041.0 L1211.0 1041.4 L1216.9 1041.8 L1222.7 1042.1 L1228.6 1042.5 L1234.5 1042.8 L1240.4 1043.1 L1246.3 1043.4 L1252.2 1043.7 L1258.1 1043.9 L1264.1 1044.2 L1270.1 1044.4 L1276.0 1044.6 L1282.0 1044.8 L1288.1 1044.9 L1294.1 1045.1 L1300.1 1045.2 L1306.2 1045.3 L1312.2 1045.5 L1318.3 1045.5 L1324.4 1045.6 L1330.6 1045.7 L1336.7 1045.7 L1342.8 1045.8 L1349.0 1045.8M1104.3 1142.2 L1108.3 1140.1 L1112.3 1137.9 L1116.3 1135.8 L1120.3 1133.7 L1124.3 1131.7 L1128.3 1129.6 L1132.2 1127.5 L1136.1 1125.4 L1140.1 1123.4 L1144.0 1121.3 L1147.8 1119.3 L1151.7 1117.2 L1155.6 1115.2 L1159.4 1113.2 L1163.3 1111.2 L1167.1 1109.2 L1170.9 1107.2 L1174.7 1105.2 L1178.4 1103.1 L1182.2 1100.8 L1186.0 1098.5 L1189.7 1096.0 L1193.4 1093.5 L1197.2 1090.9 L1200.9 1088.2 L1204.6 1085.4 L1208.3 1082.6 L1211.9 1079.8 L1215.6 1076.9 L1219.2 1074.0 L1222.9 1071.2 L1226.5 1068.3 L1230.1 1065.5 L1233.7 1062.6 L1237.3 1059.9 L1240.9 1057.1 L1244.4 1054.5 L1248.0 1051.9 L1251.5 1049.4 L1255.1 1047.0 L1258.6 1044.7 L1262.1 1042.4 L1265.6 1040.3 L1269.0 1038.4 L1272.5 1036.5 L1275.9 1034.5 L1279.4 1032.5 L1282.8 1030.5 L1286.2 1028.4 L1289.6 1026.2 L1293.0 1023.9 L1296.4 1021.4 L1299.8 1018.7 L1303.2 1015.8 L1306.6 1012.5 L1310.0 1008.8 L1313.3 1004.7 L1316.7 999.9 L1320.1 994.3M1020.3 1005.2 L1025.7 1006.2 L1031.1 1007.3 L1036.5 1008.4 L1041.9 1009.5 L1047.3 1010.6 L1052.8 1011.7 L1058.2 1012.8 L1063.7 1013.9 L1069.2 1015.0 L1074.6 1016.1 L1080.1 1017.2 L1085.6 1018.3 L1091.1 1019.4 L1096.7 1020.5 L1102.2 1021.6 L1107.8 1022.7 L1113.3 1023.8 L1118.9 1024.9 L1124.5 1025.9 L1130.1 1026.8 L1135.7 1027.6 L1141.3 1028.4 L1147.0 1029.1 L1152.6 1029.8 L1158.3 1030.4 L1163.9 1031.0 L1169.6 1031.6 L1175.3 1032.2 L1181.1 1032.7 L1186.8 1033.2 L1192.5 1033.7 L1198.3 1034.1 L1204.0 1034.5 L1209.8 1035.0 L1215.6 1035.3 L1221.4 1035.7 L1227.3 1036.0 L1233.1 1036.3 L1239.0 1036.6 L1244.8 1036.9 L1250.7 1037.2 L1256.6 1037.4 L1262.5 1037.6 L1268.4 1037.8 L1274.4 1038.0 L1280.3 1038.2 L1286.3 1038.3 L1292.3 1038.5 L1298.3 1038.6 L1304.3 1038.7 L1310.3 1038.7 L1316.3 1038.8 L1322.4 1038.9 L1328.4 1038.9 L1334.5 1038.9 L1340.6 1038.9 L1346.8 1038.9 L1352.9 1038.9 L1359.0 1038.8M1122.6 1146.3 L1126.6 1144.1 L1130.6 1142.0 L1134.6 1139.9 L1138.6 1137.8 L1142.5 1135.7 L1146.5 1133.6 L1150.4 1131.5 L1154.3 1129.4 L1158.2 1127.3 L1162.1 1125.3 L1165.9 1123.2 L1169.8 1121.2 L1173.6 1119.1 L1177.5 1117.1 L1181.3 1115.1 L1185.1 1113.0 L1188.9 1111.0 L1192.6 1109.0 L1196.4 1106.9 L1200.2 1104.6 L1203.9 1102.2 L1207.6 1099.6 L1211.3 1096.9 L1215.0 1094.2 L1218.7 1091.3 L1222.4 1088.4 L1226.1 1085.5 L1229.7 1082.5 L1233.4 1079.4 L1237.0 1076.4 L1240.6 1073.3 L1244.2 1070.3 L1247.8 1067.2 L1251.4 1064.3 L1255.0 1061.3 L1258.6 1058.4 L1262.1 1055.6 L1265.7 1052.9 L1269.2 1050.3 L1272.7 1047.7 L1276.2 1045.3 L1279.7 1043.0 L1283.2 1040.9 L1286.6 1038.8 L1290.1 1036.9 L1293.5 1034.9 L1296.9 1032.9 L1300.3 1030.8 L1303.7 1028.7 L1307.1 1026.4 L1310.5 1023.9 L1313.9 1021.3 L1317.3 1018.5 L1320.6 1015.3 L1324.0 1011.8 L1327.4 1007.7 L1330.7 1003.1 L1334.1 997.8 L1337.5 991.6M1031.2 1000.3 L1036.6 1001.4 L1041.9 1002.5 L1047.3 1003.5 L1052.7 1004.6 L1058.1 1005.7 L1063.5 1006.8 L1069.0 1007.9 L1074.4 1008.9 L1079.9 1010.0 L1085.3 1011.1 L1090.8 1012.2 L1096.3 1013.3 L1101.8 1014.4 L1107.3 1015.5 L1112.8 1016.6 L1118.4 1017.7 L1123.9 1018.8 L1129.5 1019.9 L1135.1 1020.8 L1140.6 1021.7 L1146.2 1022.5 L1151.8 1023.3 L1157.5 1024.0 L1163.1 1024.6 L1168.8 1025.2 L1174.4 1025.8 L1180.1 1026.4 L1185.8 1026.9 L1191.5 1027.4 L1197.2 1027.9 L1202.9 1028.3 L1208.7 1028.8 L1214.4 1029.2 L1220.2 1029.5 L1225.9 1029.9 L1231.7 1030.2 L1237.6 1030.5 L1243.4 1030.8 L1249.2 1031.1 L1255.1 1031.3 L1260.9 1031.5 L1266.8 1031.8 L1272.7 1031.9 L1278.6 1032.1 L1284.5 1032.3 L1290.4 1032.4 L1296.4 1032.5 L1302.4 1032.6 L1308.3 1032.7 L1314.3 1032.7 L1320.3 1032.8 L1326.4 1032.8 L1332.4 1032.8 L1338.5 1032.8 L1344.5 1032.8 L1350.6 1032.7 L1356.7 1032.7 L1362.8 1032.6 L1368.9 1032.5M1141.1 1150.4 L1145.1 1148.3 L1149.0 1146.1 L1153.0 1144.0 L1156.9 1141.9 L1160.9 1139.7 L1164.8 1137.6 L1168.7 1135.5 L1172.6 1133.4 L1176.5 1131.3 L1180.3 1129.3 L1184.2 1127.2 L1188.0 1125.1 L1191.8 1123.1 L1195.6 1121.0 L1199.4 1119.0 L1203.2 1116.9 L1207.0 1114.9 L1210.7 1112.9 L1214.5 1110.7 L1218.2 1108.4 L1221.9 1105.8 L1225.6 1103.2 L1229.3 1100.4 L1233.0 1097.5 L1236.7 1094.5 L1240.4 1091.4 L1244.0 1088.3 L1247.7 1085.1 L1251.3 1081.9 L1254.9 1078.7 L1258.5 1075.4 L1262.1 1072.2 L1265.7 1069.0 L1269.3 1065.8 L1272.8 1062.7 L1276.4 1059.6 L1279.9 1056.6 L1283.5 1053.8 L1287.0 1051.0 L1290.5 1048.4 L1293.9 1045.8 L1297.4 1043.5 L1300.9 1041.2 L1304.3 1039.2 L1307.7 1037.2 L1311.1 1035.2 L1314.6 1033.1 L1317.9 1031.0 L1321.3 1028.8 L1324.7 1026.4 L1328.1 1023.8 L1331.5 1021.1 L1334.8 1018.0 L1338.2 1014.6 L1341.5 1010.8 L1344.9 1006.4 L1348.3 1001.4 L1351.6 995.5 L1355.0 988.5M1042.0 995.5 L1047.3 996.6 L1052.7 997.6 L1058.0 998.7 L1063.4 999.8 L1068.8 1000.8 L1074.2 1001.9 L1079.6 1003.0 L1085.1 1004.1 L1090.5 1005.1 L1096.0 1006.2 L1101.4 1007.3 L1106.9 1008.4 L1112.4 1009.5 L1117.9 1010.6 L1123.4 1011.6 L1128.9 1012.7 L1134.4 1013.8 L1140.0 1014.9 L1145.5 1015.8 L1151.1 1016.7 L1156.7 1017.4 L1162.3 1018.2 L1167.9 1018.8 L1173.5 1019.4 L1179.1 1020.0 L1184.8 1020.6 L1190.4 1021.1 L1196.1 1021.6 L1201.8 1022.0 L1207.5 1022.5 L1213.2 1022.9 L1218.9 1023.2 L1224.7 1023.6 L1230.4 1023.9 L1236.2 1024.2 L1242.0 1024.5 L1247.7 1024.7 L1253.6 1024.9 L1259.4 1025.1 L1265.2 1025.3 L1271.1 1025.5 L1276.9 1025.6 L1282.8 1025.7 L1288.7 1025.8 L1294.6 1025.9 L1300.5 1026.0 L1306.4 1026.0 L1312.4 1026.0 L1318.3 1026.0 L1324.3 1026.0 L1330.3 1026.0 L1336.3 1025.9 L1342.3 1025.9 L1348.4 1025.8 L1354.4 1025.7 L1360.5 1025.5 L1366.6 1025.4 L1372.7 1025.2 L1378.8 1025.1M1159.6 1154.6 L1163.6 1152.4 L1167.6 1150.2 L1171.5 1148.1 L1175.4 1146.0 L1179.4 1143.8 L1183.3 1141.7 L1187.1 1139.6 L1191.0 1137.5 L1194.9 1135.4 L1198.7 1133.3 L1202.5 1131.2 L1206.4 1129.1 L1210.2 1127.0 L1213.9 1125.0 L1217.7 1122.9 L1221.5 1120.9 L1225.2 1118.8 L1229.0 1116.8 L1232.7 1114.6 L1236.4 1112.1 L1240.1 1109.6 L1243.8 1106.8 L1247.5 1103.9 L1251.1 1100.8 L1254.8 1097.7 L1258.5 1094.4 L1262.1 1091.1 L1265.7 1087.7 L1269.3 1084.3 L1272.9 1080.9 L1276.5 1077.4 L1280.1 1074.0 L1283.7 1070.6 L1287.3 1067.2 L1290.8 1063.9 L1294.3 1060.7 L1297.9 1057.5 L1301.4 1054.5 L1304.9 1051.6 L1308.4 1048.8 L1311.8 1046.2 L1315.3 1043.8 L1318.7 1041.5 L1322.1 1039.4 L1325.5 1037.4 L1328.9 1035.3 L1332.3 1033.2 L1335.7 1031.0 L1339.1 1028.7 L1342.4 1026.2 L1345.8 1023.6 L1349.2 1020.7 L1352.5 1017.4 L1355.9 1013.8 L1359.2 1009.6 L1362.6 1004.9 L1365.9 999.3 L1369.3 992.8 L1372.7 985.1M1052.6 990.7 L1057.9 991.8 L1063.3 992.8 L1068.6 993.9 L1074.0 995.0 L1079.4 996.0 L1084.8 997.1 L1090.2 998.1 L1095.6 999.2 L1101.0 1000.3 L1106.5 1001.3 L1111.9 1002.4 L1117.4 1003.5 L1122.8 1004.6 L1128.3 1005.6 L1133.8 1006.7 L1139.3 1007.8 L1144.8 1008.9 L1150.4 1010.0 L1155.9 1010.9 L1161.5 1011.6 L1167.0 1012.4 L1172.6 1013.0 L1178.2 1013.6 L1183.8 1014.2 L1189.4 1014.7 L1195.0 1015.2 L1200.7 1015.6 L1206.3 1016.0 L1212.0 1016.4 L1217.7 1016.7 L1223.4 1017.0 L1229.1 1017.3 L1234.8 1017.5 L1240.6 1017.7 L1246.3 1017.9 L1252.1 1018.1 L1257.9 1018.2 L1263.6 1018.3 L1269.4 1018.4 L1275.3 1018.4 L1281.1 1018.5 L1287.0 1018.5 L1292.8 1018.5 L1298.7 1018.4 L1304.6 1018.4 L1310.5 1018.3 L1316.4 1018.2 L1322.3 1018.1 L1328.3 1017.9 L1334.3 1017.7 L1340.2 1017.5 L1346.2 1017.3 L1352.2 1017.1 L1358.3 1016.9 L1364.3 1016.6 L1370.4 1016.3 L1376.4 1016.0 L1382.5 1015.6 L1388.6 1015.3M1178.4 1158.8 L1182.3 1156.6 L1186.2 1154.4 L1190.2 1152.2 L1194.1 1150.1 L1198.0 1147.9 L1201.8 1145.8 L1205.7 1143.7 L1209.6 1141.5 L1213.4 1139.4 L1217.2 1137.3 L1221.0 1135.2 L1224.8 1133.1 L1228.6 1131.0 L1232.4 1128.9 L1236.1 1126.9 L1239.9 1124.8 L1243.6 1122.8 L1247.3 1120.7 L1251.0 1118.4 L1254.7 1116.0 L1258.4 1113.3 L1262.1 1110.4 L1265.7 1107.4 L1269.4 1104.2 L1273.0 1100.9 L1276.7 1097.4 L1280.3 1093.9 L1283.9 1090.3 L1287.5 1086.7 L1291.1 1083.1 L1294.7 1079.4 L1298.3 1075.8 L1301.8 1072.1 L1305.4 1068.6 L1308.9 1065.1 L1312.4 1061.7 L1315.9 1058.3 L1319.4 1055.2 L1322.9 1052.1 L1326.4 1049.2 L1329.8 1046.5 L1333.3 1043.9 L1336.7 1041.6 L1340.1 1039.4 L1343.5 1037.4 L1346.9 1035.3 L1350.2 1033.2 L1353.6 1030.9 L1357.0 1028.5 L1360.3 1025.9 L1363.6 1023.2 L1367.0 1020.1 L1370.3 1016.6 L1373.7 1012.7 L1377.0 1008.3 L1380.4 1003.1 L1383.7 997.1 L1387.1 989.9 L1390.6 981.4M1063.2 986.0 L1068.5 987.1 L1073.8 988.1 L1079.2 989.2 L1084.5 990.2 L1089.9 991.3 L1095.3 992.3 L1100.6 993.4 L1106.0 994.4 L1111.5 995.5 L1116.9 996.5 L1122.3 997.6 L1127.8 998.7 L1133.2 999.7 L1138.7 1000.8 L1144.1 1001.9 L1149.6 1002.9 L1155.1 1004.0 L1160.7 1005.1 L1166.2 1005.9 L1171.7 1006.6 L1177.3 1007.2 L1182.8 1007.8 L1188.4 1008.3 L1194.0 1008.7 L1199.6 1009.1 L1205.2 1009.4 L1210.8 1009.7 L1216.5 1009.9 L1222.1 1010.1 L1227.8 1010.3 L1233.5 1010.4 L1239.2 1010.4 L1244.9 1010.5 L1250.6 1010.5 L1256.4 1010.4 L1262.1 1010.4 L1267.9 1010.3 L1273.7 1010.1 L1279.5 1010.0 L1285.3 1009.8 L1291.1 1009.6 L1296.9 1009.3 L1302.8 1009.0 L1308.7 1008.7 L1314.5 1008.4 L1320.4 1008.0 L1326.3 1007.6 L1332.3 1007.2 L1338.2 1006.7 L1344.2 1006.3 L1350.1 1005.8 L1356.1 1005.2 L1362.1 1004.7 L1368.1 1004.1 L1374.2 1003.5 L1380.2 1002.9 L1386.3 1002.2 L1392.4 1001.5 L1398.5 1000.8M1197.2 1163.0 L1201.1 1160.8 L1205.0 1158.6 L1208.9 1156.4 L1212.8 1154.2 L1216.7 1152.1 L1220.6 1149.9 L1224.4 1147.8 L1228.2 1145.6 L1232.1 1143.5 L1235.9 1141.4 L1239.6 1139.3 L1243.4 1137.2 L1247.2 1135.0 L1250.9 1133.0 L1254.7 1130.9 L1258.4 1128.8 L1262.1 1126.7 L1265.8 1124.6 L1269.5 1122.4 L1273.1 1119.8 L1276.8 1117.0 L1280.5 1114.0 L1284.1 1110.9 L1287.8 1107.5 L1291.4 1104.0 L1295.0 1100.4 L1298.6 1096.7 L1302.2 1092.9 L1305.8 1089.1 L1309.4 1085.2 L1313.0 1081.3 L1316.5 1077.5 L1320.1 1073.6 L1323.6 1069.8 L1327.1 1066.1 L1330.6 1062.5 L1334.1 1059.0 L1337.6 1055.7 L1341.1 1052.5 L1344.5 1049.4 L1348.0 1046.6 L1351.4 1044.0 L1354.8 1041.5 L1358.2 1039.3 L1361.6 1037.3 L1364.9 1035.2 L1368.3 1032.9 L1371.6 1030.6 L1375.0 1028.2 L1378.3 1025.5 L1381.6 1022.6 L1385.0 1019.3 L1388.3 1015.7 L1391.6 1011.5 L1395.0 1006.7 L1398.3 1001.1 L1401.7 994.6 L1405.1 986.7 L1408.5 977.4M1073.6 981.4 L1078.9 982.4 L1084.2 983.4 L1089.6 984.5 L1094.9 985.5 L1100.3 986.5 L1105.6 987.6 L1111.0 988.6 L1116.4 989.7 L1121.8 990.7 L1127.2 991.8 L1132.6 992.8 L1138.0 993.9 L1143.5 994.9 L1148.9 996.0 L1154.4 997.0 L1159.9 998.1 L1165.3 999.2 L1170.8 1000.2 L1176.4 1000.9 L1181.9 1001.5 L1187.4 1002.0 L1193.0 1002.3 L1198.5 1002.6 L1204.1 1002.8 L1209.7 1002.9 L1215.3 1002.9 L1220.9 1002.9 L1226.6 1002.8 L1232.2 1002.6 L1237.9 1002.4 L1243.5 1002.2 L1249.2 1001.9 L1254.9 1001.5 L1260.6 1001.1 L1266.4 1000.6 L1272.1 1000.1 L1277.9 999.6 L1283.7 999.0 L1289.4 998.4 L1295.3 997.7 L1301.1 997.0 L1306.9 996.2 L1312.8 995.4 L1318.6 994.5 L1324.5 993.7 L1330.4 992.7 L1336.3 991.8 L1342.2 990.8 L1348.2 989.8 L1354.1 988.7 L1360.1 987.6 L1366.1 986.4 L1372.1 985.2 L1378.1 984.0 L1384.2 982.8 L1390.2 981.5 L1396.3 980.2 L1402.4 978.8 L1408.5 977.4" stroke="#16167a" stroke-opacity="0.9" stroke-width="1.7" fill="none" stroke-linejoin="round" mask="url(#mkBSTS)"/>
<g clip-path="url(#crBSTS)"><path d="M844.1 1083.9 L848.4 1082.0 L852.7 1080.1 L856.9 1078.2 L861.2 1076.3 L865.4 1074.4 L869.6 1072.5 L873.8 1070.7 L878.0 1068.8 L882.1 1066.9 L886.3 1065.1 L890.4 1063.2 L894.5 1061.4 L898.7 1059.6 L902.7 1057.7 L906.8 1055.9 L910.9 1054.1 L914.9 1052.3 L919.0 1050.5 L923.0 1048.7 L927.0 1046.9 L931.0 1045.1 L935.0 1043.3 L939.0 1041.5 L942.9 1039.8 L946.9 1038.0 L950.8 1036.2 L954.7 1034.5 L958.6 1032.8 L962.5 1031.0 L966.4 1029.3 L970.3 1027.5 L974.1 1025.8 L978.0 1024.1 L981.8 1022.4 L985.6 1020.7 L989.4 1019.0 L993.2 1017.3 L997.0 1015.6 L1000.8 1013.9 L1004.5 1012.2 L1008.3 1010.6 L1012.0 1008.9 L1015.7 1007.2 L1019.4 1005.6 L1023.1 1003.9 L1026.8 1002.3 L1030.5 1000.6 L1034.1 999.0 L1037.8 997.4 L1041.4 995.8 L1045.0 994.1 L1048.6 992.5 L1052.2 990.9 L1055.8 989.3 L1059.4 987.7 L1063.0 986.1 L1066.5 984.5 L1070.1 982.9 L1073.6 981.4M844.1 1083.9 L849.7 1085.2 L855.3 1086.4 L861.0 1087.7 L866.6 1088.9 L872.2 1090.2 L877.9 1091.5 L883.6 1092.7 L889.2 1094.0 L894.9 1095.3 L900.6 1096.6 L906.4 1097.9 L912.1 1099.1 L917.8 1100.4 L923.6 1101.7 L929.4 1103.0 L935.2 1104.3 L941.0 1105.6 L946.8 1106.9 L952.6 1108.2 L958.4 1109.5 L964.3 1110.8 L970.2 1112.1 L976.0 1113.5 L981.9 1114.8 L987.8 1116.1 L993.8 1117.4 L999.7 1118.8 L1005.6 1120.1 L1011.6 1121.4 L1017.6 1122.8 L1023.6 1124.1 L1029.6 1125.4 L1035.6 1126.8 L1041.6 1128.1 L1047.7 1129.5 L1053.7 1130.9 L1059.8 1132.2 L1065.9 1133.6 L1072.0 1134.9 L1078.1 1136.3 L1084.3 1137.7 L1090.4 1139.1 L1096.6 1140.4 L1102.8 1141.8 L1108.9 1143.2 L1115.1 1144.6 L1121.4 1146.0 L1127.6 1147.4 L1133.9 1148.8 L1140.1 1150.2 L1146.4 1151.6 L1152.7 1153.0 L1159.0 1154.4 L1165.3 1155.8 L1171.7 1157.3 L1178.0 1158.7 L1184.4 1160.1 L1190.8 1161.5 L1197.2 1163.0M860.7 1087.6 L864.9 1085.7 L869.2 1083.8 L873.4 1081.9 L877.7 1080.0 L881.9 1078.1 L886.1 1076.2 L890.2 1074.3 L894.4 1072.4 L898.5 1070.5 L902.7 1068.7 L906.8 1066.8 L910.9 1064.9 L915.0 1063.1 L919.1 1061.3 L923.1 1059.4 L927.2 1057.6 L931.2 1055.8 L935.3 1054.0 L939.3 1052.1 L943.3 1050.3 L947.2 1048.5 L951.2 1046.7 L955.2 1045.0 L959.1 1043.2 L963.1 1041.4 L967.0 1039.6 L970.9 1037.9 L974.8 1036.1 L978.6 1034.4 L982.5 1032.6 L986.4 1030.9 L990.2 1029.1 L994.0 1027.4 L997.8 1025.7 L1001.6 1024.0 L1005.4 1022.3 L1009.2 1020.6 L1013.0 1018.9 L1016.7 1017.2 L1020.5 1015.5 L1024.2 1013.8 L1027.9 1012.1 L1031.6 1010.4 L1035.3 1008.8 L1039.0 1007.1 L1042.7 1005.5 L1046.3 1003.8 L1050.0 1002.2 L1053.6 1000.5 L1057.2 998.9 L1060.8 997.3 L1064.4 995.6 L1068.0 994.0 L1071.6 992.4 L1075.2 990.8 L1078.7 989.2 L1082.3 987.6 L1085.8 986.0 L1089.3 984.4M856.7 1078.3 L862.3 1079.5 L867.9 1080.8 L873.5 1082.0 L879.1 1083.3 L884.7 1084.5 L890.4 1085.8 L896.0 1087.0 L901.7 1088.3 L907.4 1089.6 L913.1 1090.8 L918.8 1092.1 L924.5 1093.4 L930.2 1094.6 L936.0 1095.9 L941.7 1097.2 L947.5 1098.5 L953.3 1099.8 L959.1 1101.0 L964.9 1102.3 L970.7 1103.6 L976.6 1104.9 L982.4 1106.2 L988.3 1107.5 L994.1 1108.8 L1000.0 1110.1 L1005.9 1111.5 L1011.9 1112.8 L1017.8 1114.1 L1023.7 1115.4 L1029.7 1116.7 L1035.7 1118.1 L1041.7 1119.4 L1047.7 1120.7 L1053.7 1122.1 L1059.7 1123.4 L1065.7 1124.7 L1071.8 1126.1 L1077.9 1127.4 L1084.0 1128.8 L1090.1 1130.1 L1096.2 1131.5 L1102.3 1132.9 L1108.4 1134.2 L1114.6 1135.6 L1120.8 1137.0 L1127.0 1138.3 L1133.2 1139.7 L1139.4 1141.1 L1145.6 1142.5 L1151.9 1143.9 L1158.1 1145.3 L1164.4 1146.7 L1170.7 1148.1 L1177.0 1149.5 L1183.3 1150.9 L1189.7 1152.3 L1196.0 1153.7 L1202.4 1155.1 L1208.8 1156.5M877.3 1091.4 L881.6 1089.4 L885.8 1087.5 L890.0 1085.6 L894.2 1083.6 L898.4 1081.7 L902.6 1079.8 L906.8 1077.9 L910.9 1076.0 L915.1 1074.1 L919.2 1072.3 L923.3 1070.4 L927.4 1068.5 L931.5 1066.7 L935.5 1064.8 L939.6 1063.0 L943.6 1061.1 L947.6 1059.3 L951.6 1057.5 L955.6 1055.6 L959.6 1053.8 L963.6 1052.0 L967.5 1050.2 L971.5 1048.4 L975.4 1046.6 L979.3 1044.8 L983.2 1043.0 L987.1 1041.3 L991.0 1039.5 L994.9 1037.7 L998.7 1036.0 L1002.5 1034.2 L1006.4 1032.5 L1010.2 1030.8 L1014.0 1029.0 L1017.8 1027.3 L1021.6 1025.6 L1025.3 1023.9 L1029.1 1022.1 L1032.8 1020.4 L1036.5 1018.7 L1040.2 1017.0 L1043.9 1015.4 L1047.6 1013.7 L1051.3 1012.0 L1055.0 1010.3 L1058.6 1008.7 L1062.3 1007.0 L1065.9 1005.3 L1069.5 1003.7 L1073.1 1002.0 L1076.7 1000.4 L1080.3 998.8 L1083.9 997.1 L1087.5 995.5 L1091.0 993.9 L1094.5 992.3 L1098.1 990.7 L1101.6 989.1 L1105.1 987.5M869.2 1072.7 L874.8 1074.0 L880.3 1075.2 L885.9 1076.4 L891.5 1077.7 L897.1 1078.9 L902.8 1080.1 L908.4 1081.4 L914.0 1082.6 L919.7 1083.9 L925.4 1085.1 L931.1 1086.4 L936.8 1087.6 L942.5 1088.9 L948.2 1090.2 L954.0 1091.4 L959.7 1092.7 L965.5 1094.0 L971.3 1095.2 L977.1 1096.5 L982.9 1097.8 L988.7 1099.1 L994.5 1100.4 L1000.4 1101.7 L1006.2 1103.0 L1012.1 1104.2 L1018.0 1105.5 L1023.9 1106.8 L1029.8 1108.2 L1035.7 1109.5 L1041.7 1110.8 L1047.6 1112.1 L1053.6 1113.4 L1059.6 1114.7 L1065.6 1116.0 L1071.6 1117.4 L1077.6 1118.7 L1083.7 1120.0 L1089.7 1121.4 L1095.8 1122.7 L1101.9 1124.0 L1108.0 1125.4 L1114.1 1126.7 L1120.2 1128.1 L1126.3 1129.4 L1132.5 1130.8 L1138.7 1132.2 L1144.8 1133.5 L1151.0 1134.9 L1157.2 1136.3 L1163.5 1137.6 L1169.7 1139.0 L1176.0 1140.4 L1182.2 1141.8 L1188.5 1143.2 L1194.8 1144.5 L1201.1 1145.9 L1207.5 1147.3 L1213.8 1148.7 L1220.2 1150.1M894.1 1095.1 L898.3 1093.2 L902.5 1091.2 L906.7 1089.3 L910.9 1087.3 L915.1 1085.4 L919.3 1083.5 L923.4 1081.6 L927.6 1079.7 L931.7 1077.8 L935.8 1075.9 L939.9 1074.0 L943.9 1072.1 L948.0 1070.2 L952.1 1068.4 L956.1 1066.5 L960.1 1064.7 L964.1 1062.8 L968.1 1061.0 L972.1 1059.1 L976.1 1057.3 L980.0 1055.5 L984.0 1053.7 L987.9 1051.9 L991.8 1050.1 L995.7 1048.3 L999.6 1046.5 L1003.5 1044.7 L1007.3 1042.9 L1011.2 1041.1 L1015.0 1039.4 L1018.8 1037.6 L1022.7 1035.9 L1026.4 1034.1 L1030.2 1032.4 L1034.0 1030.6 L1037.8 1028.9 L1041.5 1027.2 L1045.3 1025.4 L1049.0 1023.7 L1052.7 1022.0 L1056.4 1020.3 L1060.1 1018.6 L1063.8 1016.9 L1067.4 1015.2 L1071.1 1013.5 L1074.7 1011.9 L1078.3 1010.2 L1082.0 1008.5 L1085.6 1006.9 L1089.1 1005.2 L1092.7 1003.6 L1096.3 1001.9 L1099.9 1000.3 L1103.4 998.6 L1106.9 997.0 L1110.5 995.4 L1114.0 993.8 L1117.5 992.2 L1121.0 990.6M881.5 1067.2 L887.1 1068.4 L892.6 1069.7 L898.2 1070.9 L903.8 1072.1 L909.4 1073.3 L915.0 1074.5 L920.6 1075.8 L926.3 1077.0 L931.9 1078.2 L937.6 1079.5 L943.2 1080.7 L948.9 1082.0 L954.6 1083.2 L960.3 1084.5 L966.1 1085.7 L971.8 1087.0 L977.6 1088.2 L983.3 1089.5 L989.1 1090.8 L994.9 1092.0 L1000.7 1093.3 L1006.5 1094.6 L1012.3 1095.9 L1018.2 1097.1 L1024.0 1098.4 L1029.9 1099.7 L1035.8 1101.0 L1041.7 1102.3 L1047.6 1103.6 L1053.5 1104.9 L1059.5 1106.2 L1065.4 1107.5 L1071.4 1108.8 L1077.4 1110.1 L1083.4 1111.4 L1089.4 1112.7 L1095.4 1114.0 L1101.4 1115.4 L1107.5 1116.7 L1113.5 1118.0 L1119.6 1119.3 L1125.7 1120.7 L1131.8 1122.0 L1137.9 1123.3 L1144.1 1124.7 L1150.2 1126.0 L1156.4 1127.4 L1162.6 1128.7 L1168.7 1130.1 L1175.0 1131.4 L1181.2 1132.8 L1187.4 1134.2 L1193.7 1135.5 L1199.9 1136.9 L1206.2 1138.3 L1212.5 1139.7 L1218.8 1141.0 L1225.1 1142.4 L1231.5 1143.8M910.9 1098.9 L915.2 1096.9 L919.4 1095.0 L923.6 1093.0 L927.7 1091.1 L931.9 1089.1 L936.0 1087.2 L940.2 1085.3 L944.3 1083.3 L948.4 1081.4 L952.5 1079.5 L956.6 1077.6 L960.6 1075.7 L964.7 1073.9 L968.7 1072.0 L972.7 1070.1 L976.7 1068.2 L980.7 1066.4 L984.7 1064.5 L988.7 1062.7 L992.6 1060.8 L996.6 1059.0 L1000.5 1057.2 L1004.4 1055.4 L1008.3 1053.5 L1012.2 1051.7 L1016.1 1049.9 L1019.9 1048.1 L1023.8 1046.3 L1027.6 1044.6 L1031.4 1042.8 L1035.2 1041.0 L1039.0 1039.2 L1042.8 1037.5 L1046.6 1035.7 L1050.3 1034.0 L1054.1 1032.2 L1057.8 1030.5 L1061.5 1028.8 L1065.3 1027.0 L1068.9 1025.3 L1072.6 1023.6 L1076.3 1021.9 L1080.0 1020.2 L1083.6 1018.5 L1087.3 1016.8 L1090.9 1015.1 L1094.5 1013.4 L1098.1 1011.7 L1101.7 1010.1 L1105.3 1008.4 L1108.8 1006.7 L1112.4 1005.1 L1115.9 1003.4 L1119.5 1001.8 L1123.0 1000.2 L1126.5 998.5 L1130.0 996.9 L1133.5 995.3 L1136.9 993.7M893.7 1061.8 L899.3 1063.0 L904.8 1064.2 L910.4 1065.4 L915.9 1066.6 L921.5 1067.8 L927.1 1069.0 L932.7 1070.2 L938.3 1071.5 L944.0 1072.7 L949.6 1073.9 L955.3 1075.1 L961.0 1076.4 L966.6 1077.6 L972.3 1078.8 L978.0 1080.1 L983.8 1081.3 L989.5 1082.6 L995.3 1083.8 L1001.0 1085.1 L1006.8 1086.3 L1012.6 1087.6 L1018.4 1088.8 L1024.2 1090.1 L1030.0 1091.4 L1035.9 1092.6 L1041.7 1093.9 L1047.6 1095.2 L1053.5 1096.5 L1059.4 1097.7 L1065.3 1099.0 L1071.2 1100.3 L1077.1 1101.6 L1083.1 1102.9 L1089.0 1104.2 L1095.0 1105.5 L1101.0 1106.8 L1107.0 1108.1 L1113.0 1109.4 L1119.0 1110.7 L1125.1 1112.0 L1131.2 1113.3 L1137.2 1114.7 L1143.3 1116.0 L1149.4 1117.3 L1155.5 1118.6 L1161.7 1120.0 L1167.8 1121.3 L1174.0 1122.6 L1180.1 1124.0 L1186.3 1125.3 L1192.5 1126.7 L1198.7 1128.0 L1205.0 1129.4 L1211.2 1130.7 L1217.5 1132.1 L1223.8 1133.5 L1230.0 1134.8 L1236.3 1136.2 L1242.7 1137.6M927.9 1102.7 L932.1 1100.7 L936.3 1098.7 L940.5 1096.8 L944.7 1094.8 L948.8 1092.9 L952.9 1090.9 L957.1 1089.0 L961.2 1087.0 L965.2 1085.1 L969.3 1083.2 L973.4 1081.3 L977.4 1079.4 L981.5 1077.5 L985.5 1075.6 L989.5 1073.7 L993.5 1071.8 L997.5 1070.0 L1001.4 1068.1 L1005.4 1066.2 L1009.3 1064.4 L1013.2 1062.5 L1017.1 1060.7 L1021.0 1058.9 L1024.9 1057.0 L1028.8 1055.2 L1032.6 1053.4 L1036.5 1051.6 L1040.3 1049.8 L1044.1 1048.0 L1047.9 1046.2 L1051.7 1044.4 L1055.5 1042.6 L1059.3 1040.9 L1063.0 1039.1 L1066.8 1037.3 L1070.5 1035.6 L1074.2 1033.8 L1077.9 1032.1 L1081.6 1030.4 L1085.3 1028.6 L1089.0 1026.9 L1092.6 1025.2 L1096.3 1023.5 L1099.9 1021.8 L1103.5 1020.1 L1107.1 1018.4 L1110.7 1016.7 L1114.3 1015.0 L1117.9 1013.3 L1121.5 1011.6 L1125.0 1009.9 L1128.6 1008.3 L1132.1 1006.6 L1135.6 1005.0 L1139.1 1003.3 L1142.6 1001.7 L1146.1 1000.0 L1149.6 998.4 L1153.0 996.8M905.8 1056.4 L911.3 1057.6 L916.9 1058.7 L922.4 1059.9 L928.0 1061.1 L933.5 1062.3 L939.1 1063.5 L944.7 1064.7 L950.3 1066.0 L955.9 1067.2 L961.6 1068.4 L967.2 1069.6 L972.9 1070.8 L978.5 1072.0 L984.2 1073.3 L989.9 1074.5 L995.6 1075.7 L1001.3 1077.0 L1007.1 1078.2 L1012.8 1079.4 L1018.6 1080.7 L1024.3 1081.9 L1030.1 1083.2 L1035.9 1084.4 L1041.7 1085.7 L1047.6 1086.9 L1053.4 1088.2 L1059.2 1089.5 L1065.1 1090.7 L1071.0 1092.0 L1076.9 1093.3 L1082.8 1094.5 L1088.7 1095.8 L1094.6 1097.1 L1100.6 1098.4 L1106.5 1099.6 L1112.5 1100.9 L1118.5 1102.2 L1124.5 1103.5 L1130.5 1104.8 L1136.5 1106.1 L1142.6 1107.4 L1148.6 1108.7 L1154.7 1110.0 L1160.8 1111.3 L1166.9 1112.7 L1173.0 1114.0 L1179.1 1115.3 L1185.2 1116.6 L1191.4 1117.9 L1197.6 1119.3 L1203.7 1120.6 L1209.9 1121.9 L1216.2 1123.3 L1222.4 1124.6 L1228.6 1126.0 L1234.9 1127.3 L1241.1 1128.7 L1247.4 1130.0 L1253.7 1131.4M945.0 1106.5 L949.2 1104.5 L953.4 1102.5 L957.5 1100.6 L961.7 1098.6 L965.8 1096.6 L969.9 1094.7 L974.0 1092.7 L978.1 1090.8 L982.2 1088.8 L986.3 1086.9 L990.3 1085.0 L994.3 1083.1 L998.3 1081.2 L1002.4 1079.2 L1006.3 1077.4 L1010.3 1075.5 L1014.3 1073.6 L1018.2 1071.7 L1022.2 1069.8 L1026.1 1068.0 L1030.0 1066.1 L1033.9 1064.3 L1037.8 1062.4 L1041.6 1060.6 L1045.5 1058.7 L1049.3 1056.9 L1053.2 1055.1 L1057.0 1053.3 L1060.8 1051.5 L1064.6 1049.7 L1068.3 1047.9 L1072.1 1046.1 L1075.9 1044.3 L1079.6 1042.5 L1083.3 1040.7 L1087.0 1039.0 L1090.7 1037.2 L1094.4 1035.5 L1098.1 1033.7 L1101.8 1032.0 L1105.4 1030.2 L1109.1 1028.5 L1112.7 1026.8 L1116.3 1025.1 L1119.9 1023.3 L1123.5 1021.6 L1127.1 1019.9 L1130.7 1018.2 L1134.2 1016.5 L1137.8 1014.9 L1141.3 1013.2 L1144.8 1011.5 L1148.4 1009.8 L1151.9 1008.2 L1155.3 1006.5 L1158.8 1004.8 L1162.3 1003.2 L1165.7 1001.6 L1169.2 999.9M917.8 1051.0 L923.3 1052.2 L928.8 1053.4 L934.3 1054.6 L939.9 1055.7 L945.4 1056.9 L951.0 1058.1 L956.6 1059.3 L962.2 1060.5 L967.8 1061.7 L973.4 1062.9 L979.0 1064.1 L984.6 1065.3 L990.3 1066.5 L996.0 1067.8 L1001.6 1069.0 L1007.3 1070.2 L1013.0 1071.4 L1018.8 1072.6 L1024.5 1073.9 L1030.2 1075.1 L1036.0 1076.3 L1041.8 1077.6 L1047.5 1078.8 L1053.3 1080.0 L1059.1 1081.3 L1065.0 1082.5 L1070.8 1083.8 L1076.6 1085.0 L1082.5 1086.3 L1088.4 1087.5 L1094.3 1088.8 L1100.2 1090.1 L1106.1 1091.3 L1112.0 1092.6 L1117.9 1093.9 L1123.9 1095.1 L1129.9 1096.4 L1135.8 1097.7 L1141.8 1099.0 L1147.8 1100.3 L1153.9 1101.6 L1159.9 1102.8 L1165.9 1104.1 L1172.0 1105.4 L1178.1 1106.7 L1184.2 1108.0 L1190.3 1109.4 L1196.4 1110.7 L1202.5 1112.0 L1208.7 1113.3 L1214.9 1114.6 L1221.0 1115.9 L1227.2 1117.3 L1233.4 1118.6 L1239.6 1119.9 L1245.9 1121.3 L1252.1 1122.6 L1258.4 1123.9 L1264.7 1125.3M962.2 1110.4 L966.4 1108.4 L970.6 1106.4 L974.7 1104.4 L978.8 1102.4 L983.0 1100.4 L987.1 1098.4 L991.1 1096.5 L995.2 1094.5 L999.3 1092.6 L1003.3 1090.6 L1007.3 1088.7 L1011.4 1086.8 L1015.4 1084.8 L1019.3 1082.9 L1023.3 1081.0 L1027.3 1079.1 L1031.2 1077.2 L1035.1 1075.3 L1039.1 1073.4 L1043.0 1071.5 L1046.9 1069.7 L1050.7 1067.8 L1054.6 1065.9 L1058.5 1064.0 L1062.3 1062.2 L1066.1 1060.3 L1069.9 1058.4 L1073.7 1056.6 L1077.5 1054.7 L1081.3 1052.9 L1085.1 1051.0 L1088.8 1049.2 L1092.5 1047.4 L1096.3 1045.5 L1100.0 1043.7 L1103.7 1041.9 L1107.4 1040.1 L1111.0 1038.3 L1114.7 1036.5 L1118.4 1034.8 L1122.0 1033.0 L1125.6 1031.2 L1129.2 1029.5 L1132.8 1027.7 L1136.4 1026.0 L1140.0 1024.3 L1143.6 1022.6 L1147.1 1020.9 L1150.7 1019.1 L1154.2 1017.4 L1157.7 1015.7 L1161.2 1014.0 L1164.7 1012.3 L1168.2 1010.6 L1171.7 1008.8 L1175.2 1007.1 L1178.6 1005.4 L1182.0 1003.6 L1185.5 1001.8M929.6 1045.7 L935.1 1046.9 L940.6 1048.1 L946.1 1049.2 L951.7 1050.4 L957.2 1051.6 L962.8 1052.8 L968.3 1053.9 L973.9 1055.1 L979.5 1056.3 L985.1 1057.5 L990.7 1058.7 L996.3 1059.9 L1002.0 1061.1 L1007.6 1062.3 L1013.3 1063.5 L1018.9 1064.7 L1024.6 1065.9 L1030.3 1067.1 L1036.0 1068.3 L1041.8 1069.5 L1047.5 1070.7 L1053.3 1072.0 L1059.0 1073.2 L1064.8 1074.4 L1070.6 1075.6 L1076.4 1076.8 L1082.2 1078.0 L1088.0 1079.2 L1093.9 1080.5 L1099.7 1081.7 L1105.6 1082.9 L1111.5 1084.1 L1117.4 1085.4 L1123.3 1086.6 L1129.2 1087.8 L1135.2 1089.1 L1141.1 1090.3 L1147.1 1091.5 L1153.1 1092.8 L1159.0 1094.0 L1165.0 1095.3 L1171.1 1096.5 L1177.1 1097.7 L1183.1 1099.0 L1189.2 1100.3 L1195.3 1101.5 L1201.4 1102.8 L1207.5 1104.0 L1213.6 1105.3 L1219.7 1106.5 L1225.9 1107.8 L1232.0 1109.1 L1238.2 1110.4 L1244.4 1111.6 L1250.6 1112.9 L1256.8 1114.2 L1263.0 1115.5 L1269.3 1116.7 L1275.5 1118.0M979.6 1114.2 L983.7 1112.2 L987.9 1110.2 L992.0 1108.2 L996.1 1106.2 L1000.2 1104.2 L1004.3 1102.2 L1008.4 1100.3 L1012.4 1098.3 L1016.5 1096.3 L1020.5 1094.4 L1024.5 1092.4 L1028.5 1090.5 L1032.5 1088.5 L1036.4 1086.6 L1040.4 1084.7 L1044.3 1082.8 L1048.3 1080.9 L1052.2 1079.0 L1056.1 1077.1 L1060.0 1075.1 L1063.8 1073.2 L1067.7 1071.3 L1071.6 1069.4 L1075.4 1067.4 L1079.2 1065.5 L1083.0 1063.6 L1086.8 1061.6 L1090.6 1059.7 L1094.4 1057.8 L1098.1 1055.8 L1101.9 1053.9 L1105.6 1052.0 L1109.3 1050.1 L1113.0 1048.2 L1116.7 1046.3 L1120.4 1044.5 L1124.1 1042.6 L1127.8 1040.7 L1131.4 1038.9 L1135.0 1037.1 L1138.7 1035.3 L1142.3 1033.5 L1145.9 1031.7 L1149.5 1029.9 L1153.0 1028.2 L1156.6 1026.4 L1160.1 1024.7 L1163.7 1023.0 L1167.2 1021.2 L1170.7 1019.5 L1174.2 1017.7 L1177.7 1015.9 L1181.2 1014.1 L1184.7 1012.3 L1188.1 1010.5 L1191.6 1008.6 L1195.0 1006.7 L1198.5 1004.7 L1201.9 1002.7M941.4 1040.5 L946.8 1041.6 L952.3 1042.8 L957.8 1043.9 L963.3 1045.1 L968.9 1046.3 L974.4 1047.4 L979.9 1048.6 L985.5 1049.8 L991.1 1051.0 L996.7 1052.1 L1002.3 1053.3 L1007.9 1054.5 L1013.5 1055.7 L1019.1 1056.9 L1024.8 1058.1 L1030.4 1059.3 L1036.1 1060.5 L1041.8 1061.7 L1047.5 1062.8 L1053.2 1064.0 L1058.9 1065.2 L1064.7 1066.3 L1070.4 1067.5 L1076.2 1068.7 L1081.9 1069.8 L1087.7 1071.0 L1093.5 1072.1 L1099.3 1073.3 L1105.2 1074.4 L1111.0 1075.6 L1116.9 1076.7 L1122.7 1077.9 L1128.6 1079.0 L1134.5 1080.2 L1140.4 1081.3 L1146.3 1082.5 L1152.3 1083.6 L1158.2 1084.8 L1164.2 1085.9 L1170.1 1087.0 L1176.1 1088.2 L1182.1 1089.3 L1188.1 1090.5 L1194.2 1091.6 L1200.2 1092.8 L1206.3 1093.9 L1212.3 1095.1 L1218.4 1096.2 L1224.5 1097.4 L1230.6 1098.5 L1236.8 1099.7 L1242.9 1100.8 L1249.1 1102.0 L1255.2 1103.1 L1261.4 1104.3 L1267.6 1105.4 L1273.8 1106.6 L1280.1 1107.7 L1286.3 1108.9M997.0 1118.2 L1001.2 1116.1 L1005.3 1114.1 L1009.4 1112.1 L1013.5 1110.1 L1017.6 1108.1 L1021.6 1106.1 L1025.7 1104.1 L1029.7 1102.1 L1033.7 1100.1 L1037.8 1098.1 L1041.8 1096.2 L1045.7 1094.2 L1049.7 1092.3 L1053.7 1090.3 L1057.6 1088.4 L1061.5 1086.5 L1065.4 1084.5 L1069.3 1082.6 L1073.2 1080.7 L1077.1 1078.8 L1080.9 1076.8 L1084.8 1074.8 L1088.6 1072.8 L1092.4 1070.8 L1096.2 1068.8 L1100.0 1066.8 L1103.8 1064.8 L1107.6 1062.7 L1111.3 1060.7 L1115.1 1058.7 L1118.8 1056.7 L1122.5 1054.7 L1126.2 1052.7 L1129.9 1050.7 L1133.6 1048.7 L1137.3 1046.8 L1140.9 1044.8 L1144.6 1042.9 L1148.2 1041.0 L1151.8 1039.1 L1155.4 1037.2 L1159.0 1035.4 L1162.6 1033.6 L1166.2 1031.8 L1169.7 1030.0 L1173.3 1028.3 L1176.8 1026.5 L1180.3 1024.7 L1183.9 1022.9 L1187.4 1021.1 L1190.9 1019.3 L1194.3 1017.5 L1197.8 1015.6 L1201.3 1013.7 L1204.7 1011.7 L1208.1 1009.7 L1211.6 1007.5 L1215.0 1005.3 L1218.4 1002.9M953.0 1035.3 L958.4 1036.4 L963.9 1037.6 L969.4 1038.7 L974.9 1039.9 L980.4 1041.0 L985.9 1042.2 L991.5 1043.3 L997.0 1044.5 L1002.6 1045.7 L1008.1 1046.8 L1013.7 1048.0 L1019.3 1049.2 L1024.9 1050.4 L1030.5 1051.5 L1036.2 1052.7 L1041.8 1053.9 L1047.5 1055.1 L1053.1 1056.3 L1058.8 1057.4 L1064.5 1058.5 L1070.2 1059.7 L1075.9 1060.8 L1081.7 1061.8 L1087.4 1062.9 L1093.2 1064.0 L1098.9 1065.1 L1104.7 1066.1 L1110.5 1067.2 L1116.3 1068.3 L1122.2 1069.3 L1128.0 1070.4 L1133.8 1071.4 L1139.7 1072.4 L1145.6 1073.5 L1151.5 1074.5 L1157.4 1075.5 L1163.3 1076.5 L1169.2 1077.6 L1175.2 1078.6 L1181.1 1079.6 L1187.1 1080.6 L1193.1 1081.6 L1199.1 1082.6 L1205.1 1083.6 L1211.1 1084.6 L1217.2 1085.6 L1223.2 1086.6 L1229.3 1087.6 L1235.4 1088.6 L1241.5 1089.6 L1247.6 1090.6 L1253.7 1091.5 L1259.8 1092.5 L1266.0 1093.5 L1272.2 1094.5 L1278.4 1095.5 L1284.5 1096.4 L1290.8 1097.4 L1297.0 1098.4M1014.6 1122.1 L1018.7 1120.0 L1022.8 1118.0 L1026.9 1116.0 L1031.0 1113.9 L1035.1 1111.9 L1039.1 1109.9 L1043.1 1107.9 L1047.2 1105.9 L1051.2 1103.9 L1055.2 1101.9 L1059.1 1100.0 L1063.1 1098.0 L1067.1 1096.0 L1071.0 1094.1 L1074.9 1092.1 L1078.8 1090.2 L1082.7 1088.3 L1086.6 1086.3 L1090.5 1084.4 L1094.3 1082.4 L1098.2 1080.4 L1102.0 1078.3 L1105.8 1076.3 L1109.6 1074.2 L1113.4 1072.1 L1117.2 1070.0 L1120.9 1067.8 L1124.7 1065.7 L1128.4 1063.6 L1132.2 1061.4 L1135.9 1059.3 L1139.6 1057.2 L1143.3 1055.1 L1146.9 1053.0 L1150.6 1050.9 L1154.3 1048.9 L1157.9 1046.8 L1161.5 1044.8 L1165.1 1042.8 L1168.7 1040.9 L1172.3 1038.9 L1175.9 1037.1 L1179.5 1035.2 L1183.0 1033.4 L1186.6 1031.6 L1190.1 1029.8 L1193.6 1028.0 L1197.1 1026.2 L1200.6 1024.4 L1204.1 1022.5 L1207.6 1020.7 L1211.1 1018.7 L1214.5 1016.7 L1218.0 1014.7 L1221.4 1012.6 L1224.8 1010.3 L1228.2 1007.9 L1231.6 1005.3 L1235.0 1002.5M964.5 1030.1 L969.9 1031.3 L975.4 1032.4 L980.9 1033.5 L986.3 1034.7 L991.8 1035.8 L997.3 1037.0 L1002.9 1038.1 L1008.4 1039.3 L1013.9 1040.4 L1019.5 1041.6 L1025.1 1042.7 L1030.6 1043.9 L1036.2 1045.1 L1041.8 1046.2 L1047.4 1047.4 L1053.1 1048.6 L1058.7 1049.7 L1064.4 1050.9 L1070.0 1052.0 L1075.7 1053.1 L1081.4 1054.2 L1087.1 1055.2 L1092.8 1056.2 L1098.6 1057.2 L1104.3 1058.2 L1110.0 1059.2 L1115.8 1060.1 L1121.6 1061.1 L1127.4 1062.0 L1133.2 1063.0 L1139.0 1063.9 L1144.9 1064.8 L1150.7 1065.7 L1156.6 1066.6 L1162.4 1067.5 L1168.3 1068.4 L1174.2 1069.3 L1180.1 1070.2 L1186.1 1071.0 L1192.0 1071.9 L1198.0 1072.7 L1203.9 1073.6 L1209.9 1074.4 L1215.9 1075.3 L1221.9 1076.1 L1227.9 1076.9 L1234.0 1077.7 L1240.0 1078.5 L1246.1 1079.4 L1252.2 1080.2 L1258.3 1081.0 L1264.4 1081.7 L1270.5 1082.5 L1276.7 1083.3 L1282.8 1084.1 L1289.0 1084.9 L1295.2 1085.6 L1301.4 1086.4 L1307.6 1087.1M1032.3 1126.0 L1036.4 1124.0 L1040.5 1121.9 L1044.6 1119.9 L1048.6 1117.8 L1052.7 1115.8 L1056.7 1113.8 L1060.7 1111.8 L1064.7 1109.8 L1068.7 1107.8 L1072.7 1105.8 L1076.6 1103.8 L1080.6 1101.8 L1084.5 1099.8 L1088.4 1097.8 L1092.3 1095.9 L1096.2 1093.9 L1100.1 1092.0 L1104.0 1090.0 L1107.8 1088.1 L1111.7 1086.0 L1115.5 1084.0 L1119.3 1081.8 L1123.1 1079.7 L1126.9 1077.5 L1130.7 1075.3 L1134.4 1073.1 L1138.2 1070.9 L1141.9 1068.6 L1145.6 1066.4 L1149.3 1064.1 L1153.0 1061.9 L1156.7 1059.6 L1160.4 1057.4 L1164.1 1055.2 L1167.7 1053.0 L1171.3 1050.8 L1175.0 1048.7 L1178.6 1046.5 L1182.2 1044.5 L1185.8 1042.4 L1189.3 1040.4 L1192.9 1038.5 L1196.5 1036.6 L1200.0 1034.8 L1203.5 1033.0 L1207.0 1031.1 L1210.5 1029.3 L1214.0 1027.5 L1217.5 1025.6 L1221.0 1023.7 L1224.4 1021.7 L1227.9 1019.7 L1231.3 1017.6 L1234.8 1015.4 L1238.2 1013.1 L1241.6 1010.6 L1245.0 1007.9 L1248.4 1005.0 L1251.8 1001.7M975.9 1025.1 L981.3 1026.2 L986.7 1027.3 L992.2 1028.4 L997.7 1029.6 L1003.1 1030.7 L1008.6 1031.8 L1014.1 1033.0 L1019.7 1034.1 L1025.2 1035.2 L1030.7 1036.4 L1036.3 1037.5 L1041.8 1038.7 L1047.4 1039.8 L1053.0 1041.0 L1058.6 1042.1 L1064.2 1043.3 L1069.9 1044.5 L1075.5 1045.6 L1081.1 1046.7 L1086.8 1047.7 L1092.5 1048.7 L1098.2 1049.7 L1103.9 1050.6 L1109.6 1051.5 L1115.3 1052.4 L1121.0 1053.3 L1126.8 1054.2 L1132.6 1055.0 L1138.3 1055.8 L1144.1 1056.7 L1149.9 1057.5 L1155.7 1058.3 L1161.6 1059.0 L1167.4 1059.8 L1173.3 1060.5 L1179.2 1061.3 L1185.0 1062.0 L1190.9 1062.7 L1196.9 1063.5 L1202.8 1064.2 L1208.7 1064.8 L1214.7 1065.5 L1220.6 1066.2 L1226.6 1066.9 L1232.6 1067.5 L1238.6 1068.1 L1244.7 1068.8 L1250.7 1069.4 L1256.8 1070.0 L1262.8 1070.6 L1268.9 1071.2 L1275.0 1071.8 L1281.1 1072.4 L1287.3 1073.0 L1293.4 1073.5 L1299.6 1074.1 L1305.7 1074.6 L1311.9 1075.2 L1318.1 1075.7M1050.1 1130.0 L1054.2 1128.0 L1058.3 1125.9 L1062.3 1123.8 L1066.4 1121.8 L1070.4 1119.7 L1074.4 1117.7 L1078.4 1115.7 L1082.4 1113.6 L1086.4 1111.6 L1090.3 1109.6 L1094.3 1107.6 L1098.2 1105.6 L1102.1 1103.6 L1106.0 1101.6 L1109.9 1099.7 L1113.8 1097.7 L1117.6 1095.7 L1121.5 1093.8 L1125.3 1091.8 L1129.1 1089.7 L1132.9 1087.6 L1136.7 1085.4 L1140.5 1083.1 L1144.3 1080.9 L1148.0 1078.5 L1151.8 1076.2 L1155.5 1073.8 L1159.2 1071.5 L1162.9 1069.1 L1166.6 1066.7 L1170.3 1064.3 L1174.0 1061.9 L1177.6 1059.5 L1181.3 1057.2 L1184.9 1054.9 L1188.5 1052.6 L1192.2 1050.3 L1195.7 1048.1 L1199.3 1045.9 L1202.9 1043.8 L1206.5 1041.8 L1210.0 1039.8 L1213.5 1037.8 L1217.1 1035.9 L1220.6 1034.1 L1224.1 1032.3 L1227.6 1030.4 L1231.0 1028.5 L1234.5 1026.6 L1238.0 1024.6 L1241.4 1022.6 L1244.8 1020.4 L1248.3 1018.2 L1251.7 1015.8 L1255.1 1013.3 L1258.5 1010.6 L1261.9 1007.5 L1265.3 1004.2 L1268.7 1000.4M987.1 1020.0 L992.6 1021.1 L998.0 1022.2 L1003.4 1023.4 L1008.9 1024.5 L1014.4 1025.6 L1019.8 1026.7 L1025.3 1027.8 L1030.8 1029.0 L1036.3 1030.1 L1041.9 1031.2 L1047.4 1032.4 L1053.0 1033.5 L1058.5 1034.6 L1064.1 1035.8 L1069.7 1036.9 L1075.3 1038.1 L1080.9 1039.2 L1086.5 1040.4 L1092.1 1041.4 L1097.8 1042.4 L1103.4 1043.3 L1109.1 1044.2 L1114.8 1045.1 L1120.5 1045.9 L1126.2 1046.7 L1131.9 1047.5 L1137.7 1048.3 L1143.4 1049.0 L1149.2 1049.7 L1155.0 1050.4 L1160.7 1051.1 L1166.5 1051.8 L1172.4 1052.5 L1178.2 1053.1 L1184.0 1053.7 L1189.9 1054.3 L1195.8 1054.9 L1201.6 1055.5 L1207.5 1056.0 L1213.5 1056.6 L1219.4 1057.1 L1225.3 1057.6 L1231.3 1058.2 L1237.2 1058.7 L1243.2 1059.1 L1249.2 1059.6 L1255.2 1060.1 L1261.3 1060.5 L1267.3 1060.9 L1273.4 1061.4 L1279.4 1061.8 L1285.5 1062.2 L1291.6 1062.6 L1297.7 1062.9 L1303.9 1063.3 L1310.0 1063.7 L1316.2 1064.0 L1322.3 1064.4 L1328.5 1064.7M1068.0 1134.1 L1072.1 1132.0 L1076.2 1129.9 L1080.2 1127.8 L1084.2 1125.7 L1088.2 1123.7 L1092.2 1121.6 L1096.2 1119.6 L1100.2 1117.5 L1104.1 1115.5 L1108.1 1113.5 L1112.0 1111.5 L1115.9 1109.5 L1119.8 1107.5 L1123.7 1105.5 L1127.6 1103.5 L1131.4 1101.5 L1135.3 1099.5 L1139.1 1097.5 L1142.9 1095.5 L1146.7 1093.4 L1150.5 1091.2 L1154.3 1088.9 L1158.0 1086.6 L1161.8 1084.2 L1165.5 1081.8 L1169.3 1079.3 L1173.0 1076.8 L1176.7 1074.3 L1180.4 1071.7 L1184.0 1069.2 L1187.7 1066.7 L1191.4 1064.1 L1195.0 1061.6 L1198.6 1059.1 L1202.3 1056.7 L1205.9 1054.2 L1209.5 1051.8 L1213.0 1049.5 L1216.6 1047.2 L1220.2 1045.0 L1223.7 1042.9 L1227.2 1040.8 L1230.8 1038.8 L1234.3 1036.9 L1237.8 1035.1 L1241.2 1033.2 L1244.7 1031.3 L1248.2 1029.4 L1251.6 1027.4 L1255.1 1025.3 L1258.5 1023.2 L1261.9 1021.0 L1265.3 1018.6 L1268.7 1016.0 L1272.1 1013.3 L1275.5 1010.2 L1278.9 1006.9 L1282.3 1003.1 L1285.7 998.8M998.3 1015.0 L1003.7 1016.1 L1009.1 1017.2 L1014.6 1018.3 L1020.0 1019.4 L1025.5 1020.5 L1030.9 1021.7 L1036.4 1022.8 L1041.9 1023.9 L1047.4 1025.0 L1052.9 1026.1 L1058.4 1027.3 L1064.0 1028.4 L1069.5 1029.5 L1075.1 1030.6 L1080.6 1031.8 L1086.2 1032.9 L1091.8 1034.1 L1097.4 1035.2 L1103.0 1036.2 L1108.7 1037.1 L1114.3 1038.0 L1120.0 1038.8 L1125.6 1039.6 L1131.3 1040.4 L1137.0 1041.1 L1142.7 1041.8 L1148.4 1042.5 L1154.2 1043.2 L1159.9 1043.8 L1165.7 1044.4 L1171.4 1045.0 L1177.2 1045.6 L1183.0 1046.1 L1188.8 1046.6 L1194.7 1047.1 L1200.5 1047.6 L1206.4 1048.1 L1212.2 1048.6 L1218.1 1049.0 L1224.0 1049.4 L1229.9 1049.8 L1235.9 1050.2 L1241.8 1050.6 L1247.7 1050.9 L1253.7 1051.3 L1259.7 1051.6 L1265.7 1051.9 L1271.7 1052.2 L1277.7 1052.5 L1283.8 1052.7 L1289.8 1053.0 L1295.9 1053.2 L1302.0 1053.5 L1308.1 1053.7 L1314.2 1053.9 L1320.3 1054.1 L1326.5 1054.2 L1332.6 1054.4 L1338.8 1054.5M1086.1 1138.1 L1090.2 1136.0 L1094.2 1133.9 L1098.2 1131.8 L1102.2 1129.7 L1106.2 1127.7 L1110.2 1125.6 L1114.1 1123.5 L1118.1 1121.5 L1122.0 1119.4 L1125.9 1117.4 L1129.9 1115.4 L1133.7 1113.3 L1137.6 1111.3 L1141.5 1109.3 L1145.3 1107.3 L1149.2 1105.3 L1153.0 1103.3 L1156.8 1101.3 L1160.6 1099.3 L1164.4 1097.1 L1168.2 1094.8 L1171.9 1092.5 L1175.7 1090.0 L1179.4 1087.5 L1183.1 1085.0 L1186.9 1082.4 L1190.6 1079.7 L1194.2 1077.0 L1197.9 1074.3 L1201.6 1071.6 L1205.2 1068.9 L1208.9 1066.3 L1212.5 1063.6 L1216.1 1060.9 L1219.7 1058.3 L1223.3 1055.7 L1226.9 1053.2 L1230.5 1050.8 L1234.0 1048.4 L1237.6 1046.1 L1241.1 1043.9 L1244.6 1041.7 L1248.1 1039.7 L1251.6 1037.7 L1255.1 1035.8 L1258.5 1033.9 L1262.0 1032.0 L1265.4 1030.0 L1268.9 1028.0 L1272.3 1025.9 L1275.7 1023.6 L1279.1 1021.3 L1282.5 1018.7 L1285.9 1016.0 L1289.3 1013.0 L1292.7 1009.7 L1296.1 1005.9 L1299.4 1001.6 L1302.8 996.7M1009.4 1010.1 L1014.8 1011.2 L1020.2 1012.3 L1025.6 1013.3 L1031.0 1014.4 L1036.5 1015.5 L1041.9 1016.6 L1047.4 1017.7 L1052.8 1018.9 L1058.3 1020.0 L1063.8 1021.1 L1069.3 1022.2 L1074.8 1023.3 L1080.4 1024.4 L1085.9 1025.5 L1091.5 1026.7 L1097.0 1027.8 L1102.6 1028.9 L1108.2 1030.0 L1113.8 1031.0 L1119.4 1031.9 L1125.0 1032.7 L1130.7 1033.5 L1136.3 1034.3 L1142.0 1035.0 L1147.7 1035.7 L1153.4 1036.3 L1159.1 1037.0 L1164.8 1037.5 L1170.5 1038.1 L1176.3 1038.6 L1182.0 1039.2 L1187.8 1039.6 L1193.6 1040.1 L1199.4 1040.6 L1205.2 1041.0 L1211.0 1041.4 L1216.9 1041.8 L1222.7 1042.1 L1228.6 1042.5 L1234.5 1042.8 L1240.4 1043.1 L1246.3 1043.4 L1252.2 1043.7 L1258.1 1043.9 L1264.1 1044.2 L1270.1 1044.4 L1276.0 1044.6 L1282.0 1044.8 L1288.1 1044.9 L1294.1 1045.1 L1300.1 1045.2 L1306.2 1045.3 L1312.2 1045.5 L1318.3 1045.5 L1324.4 1045.6 L1330.6 1045.7 L1336.7 1045.7 L1342.8 1045.8 L1349.0 1045.8M1104.3 1142.2 L1108.3 1140.1 L1112.3 1137.9 L1116.3 1135.8 L1120.3 1133.7 L1124.3 1131.7 L1128.3 1129.6 L1132.2 1127.5 L1136.1 1125.4 L1140.1 1123.4 L1144.0 1121.3 L1147.8 1119.3 L1151.7 1117.2 L1155.6 1115.2 L1159.4 1113.2 L1163.3 1111.2 L1167.1 1109.2 L1170.9 1107.2 L1174.7 1105.2 L1178.4 1103.1 L1182.2 1100.8 L1186.0 1098.5 L1189.7 1096.0 L1193.4 1093.5 L1197.2 1090.9 L1200.9 1088.2 L1204.6 1085.4 L1208.3 1082.6 L1211.9 1079.8 L1215.6 1076.9 L1219.2 1074.0 L1222.9 1071.2 L1226.5 1068.3 L1230.1 1065.5 L1233.7 1062.6 L1237.3 1059.9 L1240.9 1057.1 L1244.4 1054.5 L1248.0 1051.9 L1251.5 1049.4 L1255.1 1047.0 L1258.6 1044.7 L1262.1 1042.4 L1265.6 1040.3 L1269.0 1038.4 L1272.5 1036.5 L1275.9 1034.5 L1279.4 1032.5 L1282.8 1030.5 L1286.2 1028.4 L1289.6 1026.2 L1293.0 1023.9 L1296.4 1021.4 L1299.8 1018.7 L1303.2 1015.8 L1306.6 1012.5 L1310.0 1008.8 L1313.3 1004.7 L1316.7 999.9 L1320.1 994.3M1020.3 1005.2 L1025.7 1006.2 L1031.1 1007.3 L1036.5 1008.4 L1041.9 1009.5 L1047.3 1010.6 L1052.8 1011.7 L1058.2 1012.8 L1063.7 1013.9 L1069.2 1015.0 L1074.6 1016.1 L1080.1 1017.2 L1085.6 1018.3 L1091.1 1019.4 L1096.7 1020.5 L1102.2 1021.6 L1107.8 1022.7 L1113.3 1023.8 L1118.9 1024.9 L1124.5 1025.9 L1130.1 1026.8 L1135.7 1027.6 L1141.3 1028.4 L1147.0 1029.1 L1152.6 1029.8 L1158.3 1030.4 L1163.9 1031.0 L1169.6 1031.6 L1175.3 1032.2 L1181.1 1032.7 L1186.8 1033.2 L1192.5 1033.7 L1198.3 1034.1 L1204.0 1034.5 L1209.8 1035.0 L1215.6 1035.3 L1221.4 1035.7 L1227.3 1036.0 L1233.1 1036.3 L1239.0 1036.6 L1244.8 1036.9 L1250.7 1037.2 L1256.6 1037.4 L1262.5 1037.6 L1268.4 1037.8 L1274.4 1038.0 L1280.3 1038.2 L1286.3 1038.3 L1292.3 1038.5 L1298.3 1038.6 L1304.3 1038.7 L1310.3 1038.7 L1316.3 1038.8 L1322.4 1038.9 L1328.4 1038.9 L1334.5 1038.9 L1340.6 1038.9 L1346.8 1038.9 L1352.9 1038.9 L1359.0 1038.8M1122.6 1146.3 L1126.6 1144.1 L1130.6 1142.0 L1134.6 1139.9 L1138.6 1137.8 L1142.5 1135.7 L1146.5 1133.6 L1150.4 1131.5 L1154.3 1129.4 L1158.2 1127.3 L1162.1 1125.3 L1165.9 1123.2 L1169.8 1121.2 L1173.6 1119.1 L1177.5 1117.1 L1181.3 1115.1 L1185.1 1113.0 L1188.9 1111.0 L1192.6 1109.0 L1196.4 1106.9 L1200.2 1104.6 L1203.9 1102.2 L1207.6 1099.6 L1211.3 1096.9 L1215.0 1094.2 L1218.7 1091.3 L1222.4 1088.4 L1226.1 1085.5 L1229.7 1082.5 L1233.4 1079.4 L1237.0 1076.4 L1240.6 1073.3 L1244.2 1070.3 L1247.8 1067.2 L1251.4 1064.3 L1255.0 1061.3 L1258.6 1058.4 L1262.1 1055.6 L1265.7 1052.9 L1269.2 1050.3 L1272.7 1047.7 L1276.2 1045.3 L1279.7 1043.0 L1283.2 1040.9 L1286.6 1038.8 L1290.1 1036.9 L1293.5 1034.9 L1296.9 1032.9 L1300.3 1030.8 L1303.7 1028.7 L1307.1 1026.4 L1310.5 1023.9 L1313.9 1021.3 L1317.3 1018.5 L1320.6 1015.3 L1324.0 1011.8 L1327.4 1007.7 L1330.7 1003.1 L1334.1 997.8 L1337.5 991.6M1031.2 1000.3 L1036.6 1001.4 L1041.9 1002.5 L1047.3 1003.5 L1052.7 1004.6 L1058.1 1005.7 L1063.5 1006.8 L1069.0 1007.9 L1074.4 1008.9 L1079.9 1010.0 L1085.3 1011.1 L1090.8 1012.2 L1096.3 1013.3 L1101.8 1014.4 L1107.3 1015.5 L1112.8 1016.6 L1118.4 1017.7 L1123.9 1018.8 L1129.5 1019.9 L1135.1 1020.8 L1140.6 1021.7 L1146.2 1022.5 L1151.8 1023.3 L1157.5 1024.0 L1163.1 1024.6 L1168.8 1025.2 L1174.4 1025.8 L1180.1 1026.4 L1185.8 1026.9 L1191.5 1027.4 L1197.2 1027.9 L1202.9 1028.3 L1208.7 1028.8 L1214.4 1029.2 L1220.2 1029.5 L1225.9 1029.9 L1231.7 1030.2 L1237.6 1030.5 L1243.4 1030.8 L1249.2 1031.1 L1255.1 1031.3 L1260.9 1031.5 L1266.8 1031.8 L1272.7 1031.9 L1278.6 1032.1 L1284.5 1032.3 L1290.4 1032.4 L1296.4 1032.5 L1302.4 1032.6 L1308.3 1032.7 L1314.3 1032.7 L1320.3 1032.8 L1326.4 1032.8 L1332.4 1032.8 L1338.5 1032.8 L1344.5 1032.8 L1350.6 1032.7 L1356.7 1032.7 L1362.8 1032.6 L1368.9 1032.5M1141.1 1150.4 L1145.1 1148.3 L1149.0 1146.1 L1153.0 1144.0 L1156.9 1141.9 L1160.9 1139.7 L1164.8 1137.6 L1168.7 1135.5 L1172.6 1133.4 L1176.5 1131.3 L1180.3 1129.3 L1184.2 1127.2 L1188.0 1125.1 L1191.8 1123.1 L1195.6 1121.0 L1199.4 1119.0 L1203.2 1116.9 L1207.0 1114.9 L1210.7 1112.9 L1214.5 1110.7 L1218.2 1108.4 L1221.9 1105.8 L1225.6 1103.2 L1229.3 1100.4 L1233.0 1097.5 L1236.7 1094.5 L1240.4 1091.4 L1244.0 1088.3 L1247.7 1085.1 L1251.3 1081.9 L1254.9 1078.7 L1258.5 1075.4 L1262.1 1072.2 L1265.7 1069.0 L1269.3 1065.8 L1272.8 1062.7 L1276.4 1059.6 L1279.9 1056.6 L1283.5 1053.8 L1287.0 1051.0 L1290.5 1048.4 L1293.9 1045.8 L1297.4 1043.5 L1300.9 1041.2 L1304.3 1039.2 L1307.7 1037.2 L1311.1 1035.2 L1314.6 1033.1 L1317.9 1031.0 L1321.3 1028.8 L1324.7 1026.4 L1328.1 1023.8 L1331.5 1021.1 L1334.8 1018.0 L1338.2 1014.6 L1341.5 1010.8 L1344.9 1006.4 L1348.3 1001.4 L1351.6 995.5 L1355.0 988.5M1042.0 995.5 L1047.3 996.6 L1052.7 997.6 L1058.0 998.7 L1063.4 999.8 L1068.8 1000.8 L1074.2 1001.9 L1079.6 1003.0 L1085.1 1004.1 L1090.5 1005.1 L1096.0 1006.2 L1101.4 1007.3 L1106.9 1008.4 L1112.4 1009.5 L1117.9 1010.6 L1123.4 1011.6 L1128.9 1012.7 L1134.4 1013.8 L1140.0 1014.9 L1145.5 1015.8 L1151.1 1016.7 L1156.7 1017.4 L1162.3 1018.2 L1167.9 1018.8 L1173.5 1019.4 L1179.1 1020.0 L1184.8 1020.6 L1190.4 1021.1 L1196.1 1021.6 L1201.8 1022.0 L1207.5 1022.5 L1213.2 1022.9 L1218.9 1023.2 L1224.7 1023.6 L1230.4 1023.9 L1236.2 1024.2 L1242.0 1024.5 L1247.7 1024.7 L1253.6 1024.9 L1259.4 1025.1 L1265.2 1025.3 L1271.1 1025.5 L1276.9 1025.6 L1282.8 1025.7 L1288.7 1025.8 L1294.6 1025.9 L1300.5 1026.0 L1306.4 1026.0 L1312.4 1026.0 L1318.3 1026.0 L1324.3 1026.0 L1330.3 1026.0 L1336.3 1025.9 L1342.3 1025.9 L1348.4 1025.8 L1354.4 1025.7 L1360.5 1025.5 L1366.6 1025.4 L1372.7 1025.2 L1378.8 1025.1M1159.6 1154.6 L1163.6 1152.4 L1167.6 1150.2 L1171.5 1148.1 L1175.4 1146.0 L1179.4 1143.8 L1183.3 1141.7 L1187.1 1139.6 L1191.0 1137.5 L1194.9 1135.4 L1198.7 1133.3 L1202.5 1131.2 L1206.4 1129.1 L1210.2 1127.0 L1213.9 1125.0 L1217.7 1122.9 L1221.5 1120.9 L1225.2 1118.8 L1229.0 1116.8 L1232.7 1114.6 L1236.4 1112.1 L1240.1 1109.6 L1243.8 1106.8 L1247.5 1103.9 L1251.1 1100.8 L1254.8 1097.7 L1258.5 1094.4 L1262.1 1091.1 L1265.7 1087.7 L1269.3 1084.3 L1272.9 1080.9 L1276.5 1077.4 L1280.1 1074.0 L1283.7 1070.6 L1287.3 1067.2 L1290.8 1063.9 L1294.3 1060.7 L1297.9 1057.5 L1301.4 1054.5 L1304.9 1051.6 L1308.4 1048.8 L1311.8 1046.2 L1315.3 1043.8 L1318.7 1041.5 L1322.1 1039.4 L1325.5 1037.4 L1328.9 1035.3 L1332.3 1033.2 L1335.7 1031.0 L1339.1 1028.7 L1342.4 1026.2 L1345.8 1023.6 L1349.2 1020.7 L1352.5 1017.4 L1355.9 1013.8 L1359.2 1009.6 L1362.6 1004.9 L1365.9 999.3 L1369.3 992.8 L1372.7 985.1M1052.6 990.7 L1057.9 991.8 L1063.3 992.8 L1068.6 993.9 L1074.0 995.0 L1079.4 996.0 L1084.8 997.1 L1090.2 998.1 L1095.6 999.2 L1101.0 1000.3 L1106.5 1001.3 L1111.9 1002.4 L1117.4 1003.5 L1122.8 1004.6 L1128.3 1005.6 L1133.8 1006.7 L1139.3 1007.8 L1144.8 1008.9 L1150.4 1010.0 L1155.9 1010.9 L1161.5 1011.6 L1167.0 1012.4 L1172.6 1013.0 L1178.2 1013.6 L1183.8 1014.2 L1189.4 1014.7 L1195.0 1015.2 L1200.7 1015.6 L1206.3 1016.0 L1212.0 1016.4 L1217.7 1016.7 L1223.4 1017.0 L1229.1 1017.3 L1234.8 1017.5 L1240.6 1017.7 L1246.3 1017.9 L1252.1 1018.1 L1257.9 1018.2 L1263.6 1018.3 L1269.4 1018.4 L1275.3 1018.4 L1281.1 1018.5 L1287.0 1018.5 L1292.8 1018.5 L1298.7 1018.4 L1304.6 1018.4 L1310.5 1018.3 L1316.4 1018.2 L1322.3 1018.1 L1328.3 1017.9 L1334.3 1017.7 L1340.2 1017.5 L1346.2 1017.3 L1352.2 1017.1 L1358.3 1016.9 L1364.3 1016.6 L1370.4 1016.3 L1376.4 1016.0 L1382.5 1015.6 L1388.6 1015.3M1178.4 1158.8 L1182.3 1156.6 L1186.2 1154.4 L1190.2 1152.2 L1194.1 1150.1 L1198.0 1147.9 L1201.8 1145.8 L1205.7 1143.7 L1209.6 1141.5 L1213.4 1139.4 L1217.2 1137.3 L1221.0 1135.2 L1224.8 1133.1 L1228.6 1131.0 L1232.4 1128.9 L1236.1 1126.9 L1239.9 1124.8 L1243.6 1122.8 L1247.3 1120.7 L1251.0 1118.4 L1254.7 1116.0 L1258.4 1113.3 L1262.1 1110.4 L1265.7 1107.4 L1269.4 1104.2 L1273.0 1100.9 L1276.7 1097.4 L1280.3 1093.9 L1283.9 1090.3 L1287.5 1086.7 L1291.1 1083.1 L1294.7 1079.4 L1298.3 1075.8 L1301.8 1072.1 L1305.4 1068.6 L1308.9 1065.1 L1312.4 1061.7 L1315.9 1058.3 L1319.4 1055.2 L1322.9 1052.1 L1326.4 1049.2 L1329.8 1046.5 L1333.3 1043.9 L1336.7 1041.6 L1340.1 1039.4 L1343.5 1037.4 L1346.9 1035.3 L1350.2 1033.2 L1353.6 1030.9 L1357.0 1028.5 L1360.3 1025.9 L1363.6 1023.2 L1367.0 1020.1 L1370.3 1016.6 L1373.7 1012.7 L1377.0 1008.3 L1380.4 1003.1 L1383.7 997.1 L1387.1 989.9 L1390.6 981.4M1063.2 986.0 L1068.5 987.1 L1073.8 988.1 L1079.2 989.2 L1084.5 990.2 L1089.9 991.3 L1095.3 992.3 L1100.6 993.4 L1106.0 994.4 L1111.5 995.5 L1116.9 996.5 L1122.3 997.6 L1127.8 998.7 L1133.2 999.7 L1138.7 1000.8 L1144.1 1001.9 L1149.6 1002.9 L1155.1 1004.0 L1160.7 1005.1 L1166.2 1005.9 L1171.7 1006.6 L1177.3 1007.2 L1182.8 1007.8 L1188.4 1008.3 L1194.0 1008.7 L1199.6 1009.1 L1205.2 1009.4 L1210.8 1009.7 L1216.5 1009.9 L1222.1 1010.1 L1227.8 1010.3 L1233.5 1010.4 L1239.2 1010.4 L1244.9 1010.5 L1250.6 1010.5 L1256.4 1010.4 L1262.1 1010.4 L1267.9 1010.3 L1273.7 1010.1 L1279.5 1010.0 L1285.3 1009.8 L1291.1 1009.6 L1296.9 1009.3 L1302.8 1009.0 L1308.7 1008.7 L1314.5 1008.4 L1320.4 1008.0 L1326.3 1007.6 L1332.3 1007.2 L1338.2 1006.7 L1344.2 1006.3 L1350.1 1005.8 L1356.1 1005.2 L1362.1 1004.7 L1368.1 1004.1 L1374.2 1003.5 L1380.2 1002.9 L1386.3 1002.2 L1392.4 1001.5 L1398.5 1000.8M1197.2 1163.0 L1201.1 1160.8 L1205.0 1158.6 L1208.9 1156.4 L1212.8 1154.2 L1216.7 1152.1 L1220.6 1149.9 L1224.4 1147.8 L1228.2 1145.6 L1232.1 1143.5 L1235.9 1141.4 L1239.6 1139.3 L1243.4 1137.2 L1247.2 1135.0 L1250.9 1133.0 L1254.7 1130.9 L1258.4 1128.8 L1262.1 1126.7 L1265.8 1124.6 L1269.5 1122.4 L1273.1 1119.8 L1276.8 1117.0 L1280.5 1114.0 L1284.1 1110.9 L1287.8 1107.5 L1291.4 1104.0 L1295.0 1100.4 L1298.6 1096.7 L1302.2 1092.9 L1305.8 1089.1 L1309.4 1085.2 L1313.0 1081.3 L1316.5 1077.5 L1320.1 1073.6 L1323.6 1069.8 L1327.1 1066.1 L1330.6 1062.5 L1334.1 1059.0 L1337.6 1055.7 L1341.1 1052.5 L1344.5 1049.4 L1348.0 1046.6 L1351.4 1044.0 L1354.8 1041.5 L1358.2 1039.3 L1361.6 1037.3 L1364.9 1035.2 L1368.3 1032.9 L1371.6 1030.6 L1375.0 1028.2 L1378.3 1025.5 L1381.6 1022.6 L1385.0 1019.3 L1388.3 1015.7 L1391.6 1011.5 L1395.0 1006.7 L1398.3 1001.1 L1401.7 994.6 L1405.1 986.7 L1408.5 977.4M1073.6 981.4 L1078.9 982.4 L1084.2 983.4 L1089.6 984.5 L1094.9 985.5 L1100.3 986.5 L1105.6 987.6 L1111.0 988.6 L1116.4 989.7 L1121.8 990.7 L1127.2 991.8 L1132.6 992.8 L1138.0 993.9 L1143.5 994.9 L1148.9 996.0 L1154.4 997.0 L1159.9 998.1 L1165.3 999.2 L1170.8 1000.2 L1176.4 1000.9 L1181.9 1001.5 L1187.4 1002.0 L1193.0 1002.3 L1198.5 1002.6 L1204.1 1002.8 L1209.7 1002.9 L1215.3 1002.9 L1220.9 1002.9 L1226.6 1002.8 L1232.2 1002.6 L1237.9 1002.4 L1243.5 1002.2 L1249.2 1001.9 L1254.9 1001.5 L1260.6 1001.1 L1266.4 1000.6 L1272.1 1000.1 L1277.9 999.6 L1283.7 999.0 L1289.4 998.4 L1295.3 997.7 L1301.1 997.0 L1306.9 996.2 L1312.8 995.4 L1318.6 994.5 L1324.5 993.7 L1330.4 992.7 L1336.3 991.8 L1342.2 990.8 L1348.2 989.8 L1354.1 988.7 L1360.1 987.6 L1366.1 986.4 L1372.1 985.2 L1378.1 984.0 L1384.2 982.8 L1390.2 981.5 L1396.3 980.2 L1402.4 978.8 L1408.5 977.4" stroke="#4a0a4c" stroke-opacity="0.9" stroke-width="2.0" fill="none" stroke-linejoin="round" mask="url(#mkBSTS)"/></g>
<path d="M844.9 1116.5 L836.1 711.6M844.9 1116.5 L1196.8 1197.6M1196.8 1197.6 L1405.6 1077.6" stroke="#1a1a1a" stroke-width="1.8" fill="none"/>
<path d="M844.1 1083.9 L838.6 1086.4M842.7 1018.4 L837.1 1020.7M841.3 952.1 L835.7 954.3M839.9 885.0 L834.2 887.1M838.4 817.1 L832.7 819.0M836.9 748.3 L831.1 750.1M848.3 1117.3 L842.7 1119.8M882.4 1125.2 L876.9 1127.8M917.0 1133.1 L911.6 1135.8M952.1 1141.2 L946.7 1143.9M987.7 1149.4 L982.4 1152.1M1023.9 1157.8 L1018.5 1160.5M1060.5 1166.2 L1055.2 1169.0M1097.6 1174.8 L1092.4 1177.6M1135.3 1183.4 L1130.1 1186.3M1173.6 1192.3 L1168.4 1195.2M865.3 1121.2 L862.0 1122.8M899.7 1129.1 L896.4 1130.7M934.5 1137.2 L931.3 1138.8M969.9 1145.3 L966.6 1146.9M1005.7 1153.6 L1002.5 1155.2M1042.1 1162.0 L1038.9 1163.6M1079.0 1170.5 L1075.8 1172.1M1116.4 1179.1 L1113.3 1180.8M1154.4 1187.8 L1151.3 1189.6M1192.9 1196.7 L1189.8 1198.5M1228.9 1179.2 L1237.2 1181.0M1272.8 1153.9 L1280.9 1155.7M1314.8 1129.8 L1322.9 1131.5M1355.2 1106.6 L1363.1 1108.2M1394.0 1084.3 L1401.8 1085.8M1206.3 1192.2 L1211.3 1193.3M1251.1 1166.4 L1256.0 1167.5M1294.0 1141.7 L1298.9 1142.8M1335.2 1118.0 L1340.0 1119.0M1374.8 1095.3 L1379.5 1096.3" stroke="#1a1a1a" stroke-width="1.8" fill="none"/>
<text transform="matrix(0.1684 -0.0752 0.0059 0.2604 833.7 1087.8)" x="0" y="36.0" text-anchor="end" font-family="Liberation Sans, sans-serif" font-weight="bold" font-size="100" >0.0</text>
<text transform="matrix(0.1695 -0.0712 0.0059 0.2635 832.2 1022.0)" x="0" y="36.0" text-anchor="end" font-family="Liberation Sans, sans-serif" font-weight="bold" font-size="100" >0.2</text>
<text transform="matrix(0.1706 -0.0670 0.0060 0.2666 830.7 955.4)" x="0" y="36.0" text-anchor="end" font-family="Liberation Sans, sans-serif" font-weight="bold" font-size="100" >0.4</text>
<text transform="matrix(0.1717 -0.0628 0.0061 0.2698 829.2 888.0)" x="0" y="36.0" text-anchor="end" font-family="Liberation Sans, sans-serif" font-weight="bold" font-size="100" >0.6</text>
<text transform="matrix(0.1729 -0.0584 0.0061 0.2731 827.7 819.9)" x="0" y="36.0" text-anchor="end" font-family="Liberation Sans, sans-serif" font-weight="bold" font-size="100" >0.8</text>
<text transform="matrix(0.1740 -0.0539 0.0062 0.2764 826.1 750.8)" x="0" y="36.0" text-anchor="end" font-family="Liberation Sans, sans-serif" font-weight="bold" font-size="100" >1.0</text>
<text transform="matrix(0.1690 -0.0781 0.2184 0.0510 830.5 1127.8)" x="0" y="36.0" text-anchor="middle" font-family="Liberation Sans, sans-serif" font-weight="normal" font-size="100"  stroke="#000" stroke-width="5">1.5</text>
<text transform="matrix(0.1679 -0.0792 0.2215 0.0517 864.8 1135.8)" x="0" y="36.0" text-anchor="middle" font-family="Liberation Sans, sans-serif" font-weight="normal" font-size="100"  stroke="#000" stroke-width="5">2.0</text>
<text transform="matrix(0.1666 -0.0803 0.2246 0.0524 899.6 1143.9)" x="0" y="36.0" text-anchor="middle" font-family="Liberation Sans, sans-serif" font-weight="normal" font-size="100"  stroke="#000" stroke-width="5">2.5</text>
<text transform="matrix(0.1654 -0.0815 0.2278 0.0532 935.0 1152.2)" x="0" y="36.0" text-anchor="middle" font-family="Liberation Sans, sans-serif" font-weight="normal" font-size="100"  stroke="#000" stroke-width="5">3.0</text>
<text transform="matrix(0.1640 -0.0826 0.2310 0.0539 970.8 1160.5)" x="0" y="36.0" text-anchor="middle" font-family="Liberation Sans, sans-serif" font-weight="normal" font-size="100"  stroke="#000" stroke-width="5">3.5</text>
<text transform="matrix(0.1627 -0.0838 0.2343 0.0547 1007.1 1169.0)" x="0" y="36.0" text-anchor="middle" font-family="Liberation Sans, sans-serif" font-weight="normal" font-size="100"  stroke="#000" stroke-width="5">4.0</text>
<text transform="matrix(0.1612 -0.0850 0.2377 0.0555 1044.0 1177.6)" x="0" y="36.0" text-anchor="middle" font-family="Liberation Sans, sans-serif" font-weight="normal" font-size="100"  stroke="#000" stroke-width="5">4.5</text>
<text transform="matrix(0.1597 -0.0863 0.2412 0.0563 1081.4 1186.4)" x="0" y="36.0" text-anchor="middle" font-family="Liberation Sans, sans-serif" font-weight="normal" font-size="100"  stroke="#000" stroke-width="5">5.0</text>
<text transform="matrix(0.1581 -0.0876 0.2447 0.0571 1119.3 1195.2)" x="0" y="36.0" text-anchor="middle" font-family="Liberation Sans, sans-serif" font-weight="normal" font-size="100"  stroke="#000" stroke-width="5">5.5</text>
<text transform="matrix(0.1565 -0.0889 0.2483 0.0580 1157.8 1204.2)" x="0" y="36.0" text-anchor="middle" font-family="Liberation Sans, sans-serif" font-weight="normal" font-size="100"  stroke="#000" stroke-width="5">6.0</text>
<text transform="matrix(0.2277 0.0515 -0.1341 0.0790 1259.8 1190.1)" x="0" y="36.0" text-anchor="middle" font-family="Liberation Sans, sans-serif" font-weight="normal" font-size="100"  stroke="#000" stroke-width="5">50</text>
<text transform="matrix(0.2247 0.0494 -0.1285 0.0757 1303.4 1164.4)" x="0" y="36.0" text-anchor="middle" font-family="Liberation Sans, sans-serif" font-weight="normal" font-size="100"  stroke="#000" stroke-width="5">100</text>
<text transform="matrix(0.2217 0.0474 -0.1232 0.0726 1345.1 1139.8)" x="0" y="36.0" text-anchor="middle" font-family="Liberation Sans, sans-serif" font-weight="normal" font-size="100"  stroke="#000" stroke-width="5">150</text>
<text transform="matrix(0.2188 0.0455 -0.1183 0.0697 1385.2 1116.2)" x="0" y="36.0" text-anchor="middle" font-family="Liberation Sans, sans-serif" font-weight="normal" font-size="100"  stroke="#000" stroke-width="5">200</text>
<text transform="matrix(0.2160 0.0437 -0.1136 0.0669 1423.7 1093.6)" x="0" y="36.0" text-anchor="middle" font-family="Liberation Sans, sans-serif" font-weight="normal" font-size="100"  stroke="#000" stroke-width="5">250</text>
<text transform="matrix(0.2894 0.0694 -0.2076 0.1064 954.3 1189.0)" x="0" y="36.0" text-anchor="middle" font-family="Liberation Sans, sans-serif" font-weight="normal" font-size="100"  stroke="#000" stroke-width="4">Pressure (GPa)</text>
<text transform="matrix(0.1651 -0.0999 0.3040 0.0652 1378.4 1151.8)" x="0" y="36.0" text-anchor="middle" font-family="Liberation Sans, sans-serif" font-weight="normal" font-size="100"  stroke="#000" stroke-width="4">Temperature (K)</text>
<text transform="matrix(-0.0095 -0.3444 0.2252 -0.0854 772.8 943.4)" x="0" y="36.0" text-anchor="middle" font-family="Liberation Sans, sans-serif" font-weight="bold" font-size="100" >G (1/Ω)</text>
<text transform="translate(965.7,736.6) rotate(-12.5)" x="0" y="11.2" text-anchor="middle" font-family="Liberation Sans, sans-serif" font-weight="bold" font-size="31">BSTS</text>
<text x="3" y="678.2" font-family="Liberation Sans, sans-serif" font-weight="bold" font-size="52">c</text>
<text x="733.2" y="677.6" font-family="Liberation Sans, sans-serif" font-weight="bold" font-size="51">d</text>
<text x="549" y="763.9" fill="#12128c" font-family="Liberation Sans, sans-serif" font-weight="bold" font-size="30">G<tspan font-size="20" font-style="italic" dy="8.6">bul</tspan></text>
<polygon points="589.92,777.23 597.68,790.36 600.36,788.52 590.88,776.57" fill="#000"/><polygon points="602.7,794.8 594.1,789.8 598.5,788.6 601.1,784.9" fill="#000"/>
<text x="597.3" y="993.6" fill="#d8121a" font-family="Liberation Sans, sans-serif" font-weight="bold" font-size="31">G<tspan font-size="21" font-style="italic" dy="7.9">sur</tspan></text>
<polygon points="621.01,1013.49 612.30,1025.34 615.04,1027.07 621.99,1014.11" fill="#000"/><polygon points="610.2,1031.7 611.4,1021.8 614.2,1025.4 618.6,1026.4" fill="#000"/>
<text x="1271" y="967" fill="#12128c" font-family="Liberation Sans, sans-serif" font-weight="bold" font-size="30">G<tspan font-size="20" font-style="italic" dy="7.9">bul</tspan></text>
<polygon points="1308.22,982.13 1317.38,997.27 1320.05,995.42 1309.18,981.47" fill="#000"/><polygon points="1322.4,1001.7 1313.8,996.7 1318.1,995.5 1320.8,991.8" fill="#000"/>
<text x="884.2" y="1020.9" fill="#d8121a" font-family="Liberation Sans, sans-serif" font-weight="bold" font-size="31">G<tspan font-size="21" font-style="italic" dy="8.2">sur</tspan></text>
<polygon points="914.03,1038.15 916.90,1053.41 920.05,1052.60 915.17,1037.85" fill="#000"/><polygon points="920.1,1059.3 913.7,1051.7 918.2,1052.0 922.0,1049.5" fill="#000"/>
</svg></body></html>
